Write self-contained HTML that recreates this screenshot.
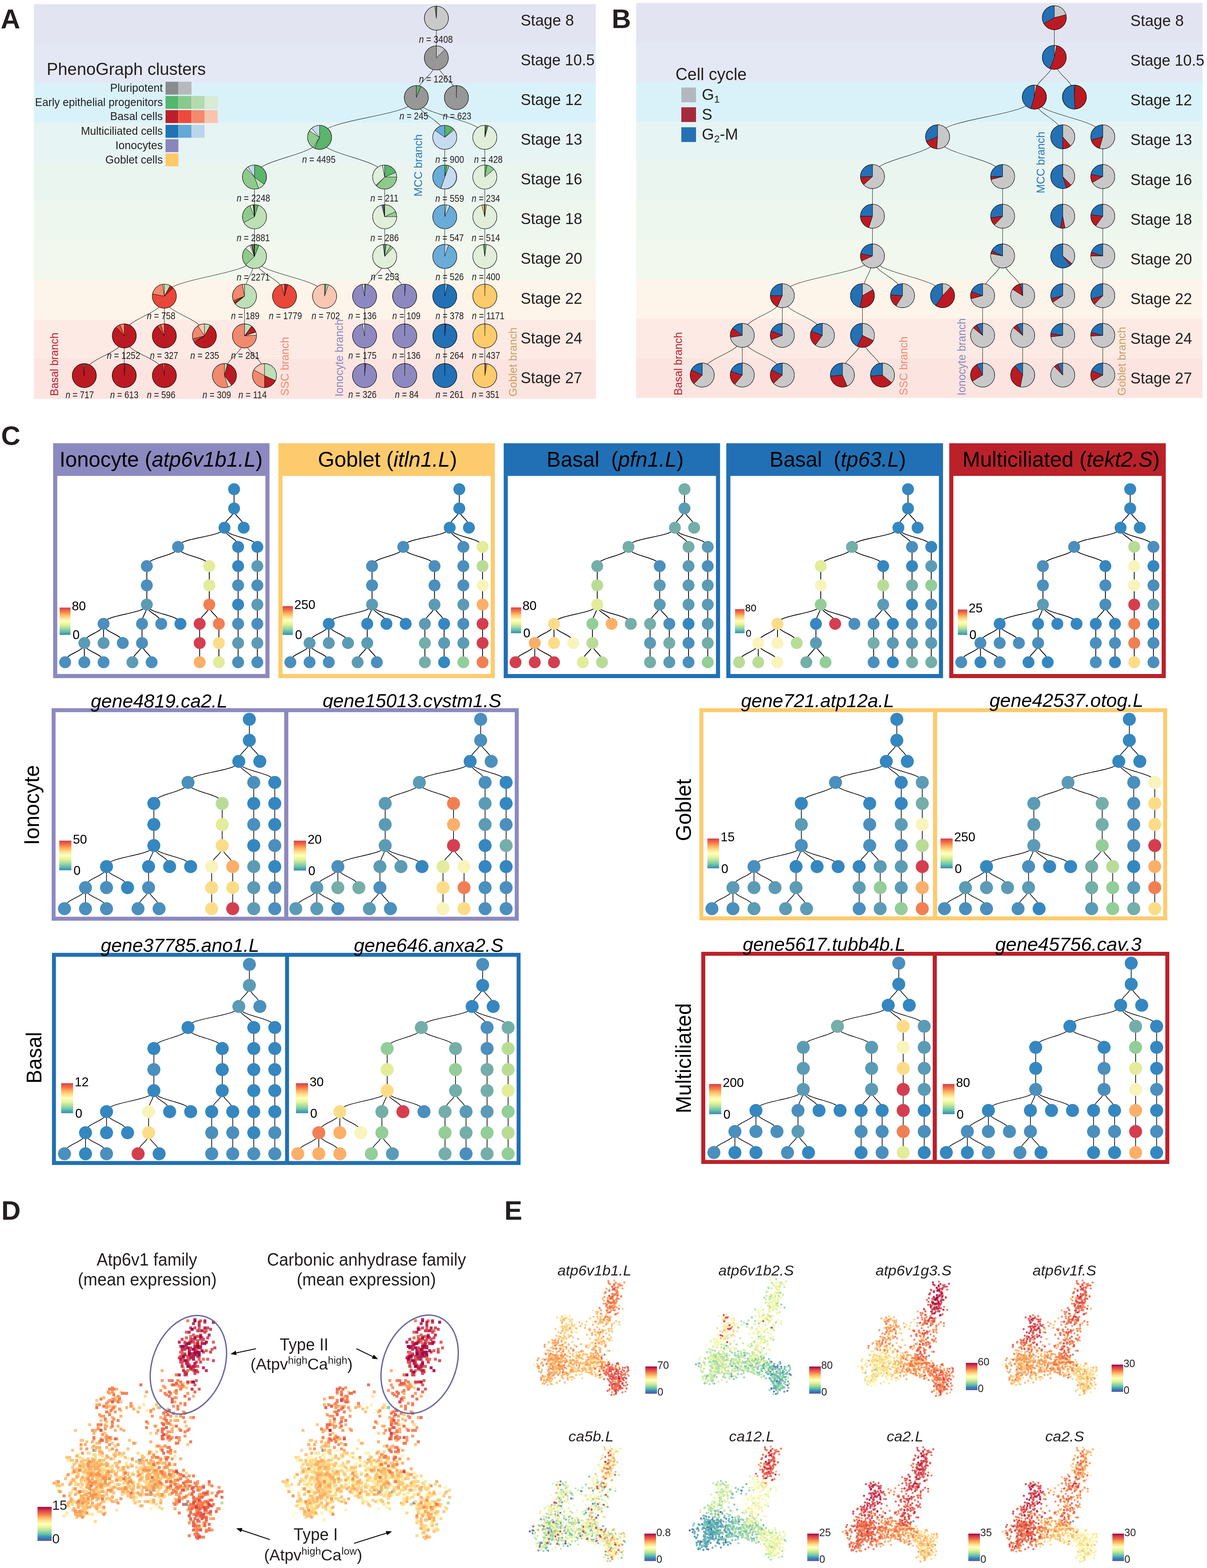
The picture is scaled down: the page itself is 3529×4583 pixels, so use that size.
<!DOCTYPE html><html><head><meta charset="utf-8"><title>Figure</title><style>html,body{margin:0;padding:0;background:#fff}svg{display:block}text{font-family:'Liberation Sans', Arial, Helvetica, sans-serif}</style></head><body>
<svg width="3529" height="4583" viewBox="0 0 3529 4583" fill="#231f20">
<rect width="3529" height="4583" fill="#fff"/>
<rect x="99" y="12" width="1643" height="115.9" fill="#e3e4f1"/>
<rect x="99" y="127.3" width="1643" height="115.9" fill="#e3e8f4"/>
<rect x="99" y="242.6" width="1643" height="115.9" fill="#d9f2fa"/>
<rect x="99" y="357.9" width="1643" height="115.9" fill="#e6f4f3"/>
<rect x="99" y="473.2" width="1643" height="115.9" fill="#eaf5f0"/>
<rect x="99" y="588.5" width="1643" height="115.9" fill="#eef7ee"/>
<rect x="99" y="703.8" width="1643" height="115.9" fill="#f2f8ed"/>
<rect x="99" y="819.1" width="1643" height="115.9" fill="#fdf4ea"/>
<rect x="99" y="934.4" width="1643" height="115.9" fill="#fdeae4"/>
<rect x="99" y="1049.7" width="1643" height="115.9" fill="#fce4e0"/>
<text x="136.5" y="219" font-size="50.7" textLength="465.4" lengthAdjust="spacingAndGlyphs">PhenoGraph clusters</text>
<text x="476" y="268" font-size="32.5" text-anchor="end" textLength="154.1" lengthAdjust="spacingAndGlyphs">Pluripotent</text>
<rect x="484" y="239" width="37.6" height="37.6" fill="#898b8d"/>
<rect x="522.3" y="239" width="37.6" height="37.6" fill="#b8b9bb"/>
<text x="476" y="309.5" font-size="32.5" text-anchor="end" textLength="373.4" lengthAdjust="spacingAndGlyphs">Early epithelial progenitors</text>
<rect x="484" y="280.5" width="37.6" height="37.6" fill="#55b66e"/>
<rect x="522.3" y="280.5" width="37.6" height="37.6" fill="#89c98c"/>
<rect x="560.6" y="280.5" width="37.6" height="37.6" fill="#b3dbae"/>
<rect x="598.9" y="280.5" width="37.6" height="37.6" fill="#d8ebd4"/>
<text x="476" y="351" font-size="32.5" text-anchor="end" textLength="154.1" lengthAdjust="spacingAndGlyphs">Basal cells</text>
<rect x="484" y="322" width="37.6" height="37.6" fill="#bb1f2a"/>
<rect x="522.3" y="322" width="37.6" height="37.6" fill="#ed4a3b"/>
<rect x="560.6" y="322" width="37.6" height="37.6" fill="#f4896c"/>
<rect x="598.9" y="322" width="37.6" height="37.6" fill="#fbc3ae"/>
<text x="476" y="394" font-size="32.5" text-anchor="end" textLength="239.3" lengthAdjust="spacingAndGlyphs">Multiciliated cells</text>
<rect x="484" y="365" width="37.6" height="37.6" fill="#2272b6"/>
<rect x="522.3" y="365" width="37.6" height="37.6" fill="#62a9d6"/>
<rect x="560.6" y="365" width="37.6" height="37.6" fill="#bbd5ea"/>
<text x="476" y="436" font-size="32.5" text-anchor="end" textLength="138.5" lengthAdjust="spacingAndGlyphs">Ionocytes</text>
<rect x="484" y="407" width="37.6" height="37.6" fill="#8a85bf"/>
<text x="476" y="477.5" font-size="32.5" text-anchor="end" textLength="168" lengthAdjust="spacingAndGlyphs">Goblet cells</text>
<rect x="484" y="448.5" width="37.6" height="37.6" fill="#fec966"/>
<text x="1225" y="125" font-size="30" textLength="99" lengthAdjust="spacingAndGlyphs"><tspan font-style="italic">n</tspan> = 3408</text>
<text x="1225" y="240.6" font-size="30" textLength="99" lengthAdjust="spacingAndGlyphs"><tspan font-style="italic">n</tspan> = 1261</text>
<text x="1168" y="348.8" font-size="30" textLength="84" lengthAdjust="spacingAndGlyphs"><tspan font-style="italic">n</tspan> = 245</text>
<text x="1295" y="348.8" font-size="30" textLength="83" lengthAdjust="spacingAndGlyphs"><tspan font-style="italic">n</tspan> = 623</text>
<text x="883.6" y="475.6" font-size="30" textLength="97.4" lengthAdjust="spacingAndGlyphs"><tspan font-style="italic">n</tspan> = 4495</text>
<text x="1272.7" y="475.6" font-size="30" textLength="84.1" lengthAdjust="spacingAndGlyphs"><tspan font-style="italic">n</tspan> = 900</text>
<text x="1386" y="475.6" font-size="30" textLength="83.6" lengthAdjust="spacingAndGlyphs"><tspan font-style="italic">n</tspan> = 428</text>
<text x="692" y="589" font-size="30" textLength="98" lengthAdjust="spacingAndGlyphs"><tspan font-style="italic">n</tspan> = 2248</text>
<text x="1083" y="589" font-size="30" textLength="82" lengthAdjust="spacingAndGlyphs"><tspan font-style="italic">n</tspan> = 211</text>
<text x="1272.7" y="590" font-size="30" textLength="84.1" lengthAdjust="spacingAndGlyphs"><tspan font-style="italic">n</tspan> = 559</text>
<text x="1379" y="590" font-size="30" textLength="83" lengthAdjust="spacingAndGlyphs"><tspan font-style="italic">n</tspan> = 234</text>
<text x="692" y="704.6" font-size="30" textLength="97" lengthAdjust="spacingAndGlyphs"><tspan font-style="italic">n</tspan> = 2881</text>
<text x="1083" y="704.6" font-size="30" textLength="83" lengthAdjust="spacingAndGlyphs"><tspan font-style="italic">n</tspan> = 286</text>
<text x="1273" y="704.6" font-size="30" textLength="83" lengthAdjust="spacingAndGlyphs"><tspan font-style="italic">n</tspan> = 547</text>
<text x="1379" y="704.6" font-size="30" textLength="83" lengthAdjust="spacingAndGlyphs"><tspan font-style="italic">n</tspan> = 514</text>
<text x="692" y="819.5" font-size="30" textLength="97" lengthAdjust="spacingAndGlyphs"><tspan font-style="italic">n</tspan> = 2271</text>
<text x="1084" y="819" font-size="30" textLength="83" lengthAdjust="spacingAndGlyphs"><tspan font-style="italic">n</tspan> = 253</text>
<text x="1273.5" y="819" font-size="30" textLength="82.5" lengthAdjust="spacingAndGlyphs"><tspan font-style="italic">n</tspan> = 526</text>
<text x="1379.7" y="819" font-size="30" textLength="82.3" lengthAdjust="spacingAndGlyphs"><tspan font-style="italic">n</tspan> = 400</text>
<text x="429.6" y="933.4" font-size="30" textLength="83.2" lengthAdjust="spacingAndGlyphs"><tspan font-style="italic">n</tspan> = 758</text>
<text x="675.5" y="933.4" font-size="30" textLength="83.2" lengthAdjust="spacingAndGlyphs"><tspan font-style="italic">n</tspan> = 189</text>
<text x="786" y="933.4" font-size="30" textLength="97" lengthAdjust="spacingAndGlyphs"><tspan font-style="italic">n</tspan> = 1779</text>
<text x="911" y="933.4" font-size="30" textLength="83" lengthAdjust="spacingAndGlyphs"><tspan font-style="italic">n</tspan> = 702</text>
<text x="1018.6" y="933.4" font-size="30" textLength="82.4" lengthAdjust="spacingAndGlyphs"><tspan font-style="italic">n</tspan> = 136</text>
<text x="1147" y="933.4" font-size="30" textLength="82.5" lengthAdjust="spacingAndGlyphs"><tspan font-style="italic">n</tspan> = 109</text>
<text x="1273.5" y="933.4" font-size="30" textLength="82.5" lengthAdjust="spacingAndGlyphs"><tspan font-style="italic">n</tspan> = 378</text>
<text x="1379.7" y="933.4" font-size="30" textLength="95.3" lengthAdjust="spacingAndGlyphs"><tspan font-style="italic">n</tspan> = 1171</text>
<text x="312.6" y="1048.6" font-size="30" textLength="97.4" lengthAdjust="spacingAndGlyphs"><tspan font-style="italic">n</tspan> = 1252</text>
<text x="438.6" y="1048.6" font-size="30" textLength="82.4" lengthAdjust="spacingAndGlyphs"><tspan font-style="italic">n</tspan> = 327</text>
<text x="556.6" y="1048.6" font-size="30" textLength="84.2" lengthAdjust="spacingAndGlyphs"><tspan font-style="italic">n</tspan> = 235</text>
<text x="675.5" y="1048.6" font-size="30" textLength="83.2" lengthAdjust="spacingAndGlyphs"><tspan font-style="italic">n</tspan> = 281</text>
<text x="1018.6" y="1048.5" font-size="30" textLength="82.4" lengthAdjust="spacingAndGlyphs"><tspan font-style="italic">n</tspan> = 175</text>
<text x="1147" y="1048.5" font-size="30" textLength="82.5" lengthAdjust="spacingAndGlyphs"><tspan font-style="italic">n</tspan> = 136</text>
<text x="1273.5" y="1048.5" font-size="30" textLength="82.5" lengthAdjust="spacingAndGlyphs"><tspan font-style="italic">n</tspan> = 264</text>
<text x="1379.7" y="1048.5" font-size="30" textLength="82.3" lengthAdjust="spacingAndGlyphs"><tspan font-style="italic">n</tspan> = 437</text>
<text x="191.8" y="1163.5" font-size="30" textLength="82.7" lengthAdjust="spacingAndGlyphs"><tspan font-style="italic">n</tspan> = 717</text>
<text x="322" y="1163.5" font-size="30" textLength="83" lengthAdjust="spacingAndGlyphs"><tspan font-style="italic">n</tspan> = 613</text>
<text x="429.6" y="1163.5" font-size="30" textLength="83.2" lengthAdjust="spacingAndGlyphs"><tspan font-style="italic">n</tspan> = 596</text>
<text x="592" y="1163.5" font-size="30" textLength="83.5" lengthAdjust="spacingAndGlyphs"><tspan font-style="italic">n</tspan> = 309</text>
<text x="697" y="1163.5" font-size="30" textLength="83" lengthAdjust="spacingAndGlyphs"><tspan font-style="italic">n</tspan> = 114</text>
<text x="1018.6" y="1162.6" font-size="30" textLength="82.4" lengthAdjust="spacingAndGlyphs"><tspan font-style="italic">n</tspan> = 326</text>
<text x="1154.7" y="1162.6" font-size="30" textLength="69.3" lengthAdjust="spacingAndGlyphs"><tspan font-style="italic">n</tspan> = 84</text>
<text x="1273.5" y="1162.6" font-size="30" textLength="82.5" lengthAdjust="spacingAndGlyphs"><tspan font-style="italic">n</tspan> = 261</text>
<text x="1379.7" y="1162.6" font-size="30" textLength="80.3" lengthAdjust="spacingAndGlyphs"><tspan font-style="italic">n</tspan> = 351</text>
<path d="M1275.8 53.2V169.3M1275.8 169.3C1275.8 227.3 1217.2 227.3 1217.2 285.3M1275.8 169.3C1275.8 227.3 1334.3 227.3 1334.3 285.3M1217.2 285.3C1217.2 343.4 934.4 343.4 934.4 401.4M1217.2 285.3C1217.2 343.4 1300.4 343.4 1300.4 401.4M1217.2 285.3C1217.2 343.4 1417.5 343.4 1417.5 401.4M934.4 401.4C934.4 459.4 744.1 459.4 744.1 517.5M934.4 401.4C934.4 459.4 1124.7 459.4 1124.7 517.5M1300.4 401.4V517.5M1417.5 401.4V517.5M744.1 517.5V633.5M1124.7 517.5V633.5M1300.4 517.5V633.5M1417.5 517.5V633.5M744.1 633.5V749.6M1124.7 633.5V749.6M1300.4 633.5V749.6M1417.5 633.5V749.6M744.1 749.6C744.1 807.7 480.5 807.7 480.5 865.7M744.1 749.6C744.1 807.7 714.8 807.7 714.8 865.7M744.1 749.6C744.1 807.7 831.9 807.7 831.9 865.7M744.1 749.6C744.1 807.7 949 807.7 949 865.7M1124.7 749.6C1124.7 807.7 1066.1 807.7 1066.1 865.7M1124.7 749.6C1124.7 807.7 1183.3 807.7 1183.3 865.7M1300.4 749.6V865.7M1417.5 749.6V865.7M480.5 865.7C480.5 923.7 363.4 923.7 363.4 981.8M480.5 865.7V981.8M480.5 865.7C480.5 923.7 597.7 923.7 597.7 981.8M714.8 865.7V981.8M1066.1 865.7V981.8M1183.3 865.7V981.8M1300.4 865.7V981.8M1417.5 865.7V981.8M363.4 981.8C363.4 1039.8 246.3 1039.8 246.3 1097.8M363.4 981.8V1097.8M363.4 981.8C363.4 1039.8 480.5 1039.8 480.5 1097.8M714.8 981.8C714.8 1039.8 656.2 1039.8 656.2 1097.8M714.8 981.8C714.8 1039.8 773.3 1039.8 773.3 1097.8M1066.1 981.8V1097.8M1183.3 981.8V1097.8M1300.4 981.8V1097.8M1417.5 981.8V1097.8" fill="none" stroke="#000" stroke-width="1.1"/>
<g stroke="#000" stroke-width="0.9" stroke-linejoin="round"><path d="M1275.8 53.2L1275.8 18A35.2 35.2 0 0 1 1277.6 18Z" fill="#5bb56c"/><path d="M1275.8 53.2L1277.6 18A35.2 35.2 0 1 1 1271.4 18.3Z" fill="#c9c9c9"/><path d="M1275.8 53.2L1271.4 18.3A35.2 35.2 0 0 1 1275.8 18Z" fill="#979797"/></g>
<circle cx="1275.8" cy="53.2" r="35.2" fill="none" stroke="#000" stroke-width="1.1"/>
<g stroke="#000" stroke-width="0.9" stroke-linejoin="round"><path d="M1275.8 169.3L1275.8 134.1A35.2 35.2 0 0 1 1300.7 144.4Z" fill="#c9c9c9"/><path d="M1275.8 169.3L1300.7 144.4A35.2 35.2 0 1 1 1275.8 134.1Z" fill="#979797"/></g>
<circle cx="1275.8" cy="169.3" r="35.2" fill="none" stroke="#000" stroke-width="1.1"/>
<g stroke="#000" stroke-width="0.9" stroke-linejoin="round"><path d="M1217.2 285.3L1217.2 250.1A35.2 35.2 0 0 1 1230.2 252.6Z" fill="#5bb56c"/><path d="M1217.2 285.3L1230.2 252.6A35.2 35.2 0 1 1 1217.2 250.1Z" fill="#979797"/></g>
<circle cx="1217.2" cy="285.3" r="35.2" fill="none" stroke="#000" stroke-width="1.1"/>
<g stroke="#000" stroke-width="0.9" stroke-linejoin="round"><path d="M1334.3 285.3L1334.3 250.1A35.2 35.2 0 0 1 1335 250.1Z" fill="#979797"/><path d="M1334.3 285.3L1335 250.1A35.2 35.2 0 1 1 1334.3 250.1Z" fill="#979797"/></g>
<circle cx="1334.3" cy="285.3" r="35.2" fill="none" stroke="#000" stroke-width="1.1"/>
<g stroke="#000" stroke-width="0.9" stroke-linejoin="round"><path d="M934.4 401.4L934.4 366.2A35.2 35.2 0 1 1 919.4 433.3Z" fill="#5bb56c"/><path d="M934.4 401.4L919.4 433.3A35.2 35.2 0 0 1 915.5 431.1Z" fill="#bde0b6"/><path d="M934.4 401.4L915.5 431.1A35.2 35.2 0 0 1 904.7 382.5Z" fill="#8fca8d"/><path d="M934.4 401.4L904.7 382.5A35.2 35.2 0 0 1 911.1 375Z" fill="#e0eeda"/><path d="M934.4 401.4L911.1 375A35.2 35.2 0 0 1 934.4 366.2Z" fill="#c6dbf0"/></g>
<circle cx="934.4" cy="401.4" r="35.2" fill="none" stroke="#000" stroke-width="1.1"/>
<g stroke="#000" stroke-width="0.9" stroke-linejoin="round"><path d="M1300.4 401.4L1300.4 366.2A35.2 35.2 0 0 1 1324.5 375.8Z" fill="#5bb56c"/><path d="M1300.4 401.4L1324.5 375.8A35.2 35.2 0 0 1 1328.2 379.8Z" fill="#8fca8d"/><path d="M1300.4 401.4L1328.2 379.8A35.2 35.2 0 1 1 1271.9 380.7Z" fill="#c6dbf0"/><path d="M1300.4 401.4L1271.9 380.7A35.2 35.2 0 0 1 1300.4 366.2Z" fill="#69acd8"/></g>
<circle cx="1300.4" cy="401.4" r="35.2" fill="none" stroke="#000" stroke-width="1.1"/>
<g stroke="#000" stroke-width="0.9" stroke-linejoin="round"><path d="M1417.5 401.4L1417.5 366.2A35.2 35.2 0 0 1 1420.8 366.4Z" fill="#5bb56c"/><path d="M1417.5 401.4L1420.8 366.4A35.2 35.2 0 0 1 1424.1 366.8Z" fill="#5bb56c"/><path d="M1417.5 401.4L1424.1 366.8A35.2 35.2 0 0 1 1427.3 367.6Z" fill="#8fca8d"/><path d="M1417.5 401.4L1427.3 367.6A35.2 35.2 0 1 1 1417.5 366.2Z" fill="#e0eeda"/></g>
<circle cx="1417.5" cy="401.4" r="35.2" fill="none" stroke="#000" stroke-width="1.1"/>
<g stroke="#000" stroke-width="0.9" stroke-linejoin="round"><path d="M744.1 517.5L744.1 482.3A35.2 35.2 0 0 1 772.1 538.7Z" fill="#5bb56c"/><path d="M744.1 517.5L772.1 538.7A35.2 35.2 0 0 1 756 550.6Z" fill="#bde0b6"/><path d="M744.1 517.5L756 550.6A35.2 35.2 0 0 1 720 491.8Z" fill="#8fca8d"/><path d="M744.1 517.5L720 491.8A35.2 35.2 0 0 1 725.2 487.8Z" fill="#e0eeda"/><path d="M744.1 517.5L725.2 487.8A35.2 35.2 0 0 1 744.1 482.3Z" fill="#c6dbf0"/></g>
<circle cx="744.1" cy="517.5" r="35.2" fill="none" stroke="#000" stroke-width="1.1"/>
<g stroke="#000" stroke-width="0.9" stroke-linejoin="round"><path d="M1124.7 517.5L1124.7 482.3A35.2 35.2 0 0 1 1157.2 503.9Z" fill="#5bb56c"/><path d="M1124.7 517.5L1157.2 503.9A35.2 35.2 0 0 1 1159.9 517.5Z" fill="#bde0b6"/><path d="M1124.7 517.5L1159.9 517.5A35.2 35.2 0 0 1 1100.6 543.1Z" fill="#8fca8d"/><path d="M1124.7 517.5L1100.6 543.1A35.2 35.2 0 0 1 1099 541.6Z" fill="#5bb56c"/><path d="M1124.7 517.5L1099 541.6A35.2 35.2 0 0 1 1118.1 482.9Z" fill="#e0eeda"/><path d="M1124.7 517.5L1118.1 482.9A35.2 35.2 0 0 1 1124.7 482.3Z" fill="#c6dbf0"/></g>
<circle cx="1124.7" cy="517.5" r="35.2" fill="none" stroke="#000" stroke-width="1.1"/>
<g stroke="#000" stroke-width="0.9" stroke-linejoin="round"><path d="M1300.4 517.5L1300.4 482.3A35.2 35.2 0 0 1 1307 482.9Z" fill="#5bb56c"/><path d="M1300.4 517.5L1307 482.9A35.2 35.2 0 0 1 1313.3 484.8Z" fill="#8fca8d"/><path d="M1300.4 517.5L1313.3 484.8A35.2 35.2 0 0 1 1288.9 550.7Z" fill="#c6dbf0"/><path d="M1300.4 517.5L1288.9 550.7A35.2 35.2 0 0 1 1300.4 482.3Z" fill="#69acd8"/></g>
<circle cx="1300.4" cy="517.5" r="35.2" fill="none" stroke="#000" stroke-width="1.1"/>
<g stroke="#000" stroke-width="0.9" stroke-linejoin="round"><path d="M1417.5 517.5L1417.5 482.3A35.2 35.2 0 0 1 1424.1 482.9Z" fill="#5bb56c"/><path d="M1417.5 517.5L1424.1 482.9A35.2 35.2 0 0 1 1444.3 494.7Z" fill="#8fca8d"/><path d="M1417.5 517.5L1444.3 494.7A35.2 35.2 0 1 1 1417.5 482.3Z" fill="#e0eeda"/></g>
<circle cx="1417.5" cy="517.5" r="35.2" fill="none" stroke="#000" stroke-width="1.1"/>
<g stroke="#000" stroke-width="0.9" stroke-linejoin="round"><path d="M744.1 633.5L744.1 598.3A35.2 35.2 0 0 1 754.9 600.1Z" fill="#5bb56c"/><path d="M744.1 633.5L754.9 600.1A35.2 35.2 0 1 1 713.2 650.5Z" fill="#bde0b6"/><path d="M744.1 633.5L713.2 650.5A35.2 35.2 0 0 1 731.1 600.8Z" fill="#8fca8d"/><path d="M744.1 633.5L731.1 600.8A35.2 35.2 0 0 1 739.6 598.6Z" fill="#e0eeda"/><path d="M744.1 633.5L739.6 598.6A35.2 35.2 0 0 1 741.8 598.4Z" fill="#f08a6e"/><path d="M744.1 633.5L741.8 598.4A35.2 35.2 0 0 1 744.1 598.3Z" fill="#bb1a22"/></g>
<circle cx="744.1" cy="633.5" r="35.2" fill="none" stroke="#000" stroke-width="1.1"/>
<g stroke="#000" stroke-width="0.9" stroke-linejoin="round"><path d="M1124.7 633.5L1124.7 598.3A35.2 35.2 0 0 1 1156.5 618.6Z" fill="#bde0b6"/><path d="M1124.7 633.5L1156.5 618.6A35.2 35.2 0 0 1 1159.9 633.5Z" fill="#8fca8d"/><path d="M1124.7 633.5L1159.9 633.5A35.2 35.2 0 1 1 1115.9 599.5Z" fill="#e0eeda"/><path d="M1124.7 633.5L1115.9 599.5A35.2 35.2 0 0 1 1120.3 598.6Z" fill="#8d89c0"/><path d="M1124.7 633.5L1120.3 598.6A35.2 35.2 0 0 1 1122.5 598.4Z" fill="#69acd8"/><path d="M1124.7 633.5L1122.5 598.4A35.2 35.2 0 0 1 1124.7 598.3Z" fill="#e8473a"/></g>
<circle cx="1124.7" cy="633.5" r="35.2" fill="none" stroke="#000" stroke-width="1.1"/>
<g stroke="#000" stroke-width="0.9" stroke-linejoin="round"><path d="M1300.4 633.5L1300.4 598.3A35.2 35.2 0 0 1 1304.8 598.6Z" fill="#bde0b6"/><path d="M1300.4 633.5L1304.8 598.6A35.2 35.2 0 0 1 1315.4 601.7Z" fill="#c6dbf0"/><path d="M1300.4 633.5L1315.4 601.7A35.2 35.2 0 1 1 1300.4 598.3Z" fill="#69acd8"/></g>
<circle cx="1300.4" cy="633.5" r="35.2" fill="none" stroke="#000" stroke-width="1.1"/>
<g stroke="#000" stroke-width="0.9" stroke-linejoin="round"><path d="M1417.5 633.5L1417.5 598.3A35.2 35.2 0 0 1 1421.9 598.6Z" fill="#8fca8d"/><path d="M1417.5 633.5L1421.9 598.6A35.2 35.2 0 1 1 1408.7 599.5Z" fill="#e0eeda"/><path d="M1417.5 633.5L1408.7 599.5A35.2 35.2 0 0 1 1415.3 598.4Z" fill="#fdcb6b"/><path d="M1417.5 633.5L1415.3 598.4A35.2 35.2 0 0 1 1417.5 598.3Z" fill="#e8473a"/></g>
<circle cx="1417.5" cy="633.5" r="35.2" fill="none" stroke="#000" stroke-width="1.1"/>
<g stroke="#000" stroke-width="0.9" stroke-linejoin="round"><path d="M744.1 749.6L744.1 714.4A35.2 35.2 0 0 1 757 716.9Z" fill="#5bb56c"/><path d="M744.1 749.6L757 716.9A35.2 35.2 0 1 1 718.4 773.7Z" fill="#bde0b6"/><path d="M744.1 749.6L718.4 773.7A35.2 35.2 0 0 1 718.4 725.5Z" fill="#8fca8d"/><path d="M744.1 749.6L718.4 725.5A35.2 35.2 0 0 1 731.1 716.9Z" fill="#e0eeda"/><path d="M744.1 749.6L731.1 716.9A35.2 35.2 0 0 1 735.3 715.5Z" fill="#c6dbf0"/><path d="M744.1 749.6L735.3 715.5A35.2 35.2 0 0 1 737.5 715Z" fill="#2270b5"/><path d="M744.1 749.6L737.5 715A35.2 35.2 0 0 1 741.8 714.5Z" fill="#f08a6e"/><path d="M744.1 749.6L741.8 714.5A35.2 35.2 0 0 1 744.1 714.4Z" fill="#bb1a22"/></g>
<circle cx="744.1" cy="749.6" r="35.2" fill="none" stroke="#000" stroke-width="1.1"/>
<g stroke="#000" stroke-width="0.9" stroke-linejoin="round"><path d="M1124.7 749.6L1124.7 714.4A35.2 35.2 0 0 1 1129.1 714.7Z" fill="#5bb56c"/><path d="M1124.7 749.6L1129.1 714.7A35.2 35.2 0 0 1 1141.7 718.8Z" fill="#bde0b6"/><path d="M1124.7 749.6L1141.7 718.8A35.2 35.2 0 0 1 1148.8 724Z" fill="#8fca8d"/><path d="M1124.7 749.6L1148.8 724A35.2 35.2 0 1 1 1120.3 714.7Z" fill="#e0eeda"/><path d="M1124.7 749.6L1120.3 714.7A35.2 35.2 0 0 1 1124.7 714.4Z" fill="#8d89c0"/></g>
<circle cx="1124.7" cy="749.6" r="35.2" fill="none" stroke="#000" stroke-width="1.1"/>
<g stroke="#000" stroke-width="0.9" stroke-linejoin="round"><path d="M1300.4 749.6L1300.4 714.4A35.2 35.2 0 0 1 1311.3 716.1Z" fill="#c6dbf0"/><path d="M1300.4 749.6L1311.3 716.1A35.2 35.2 0 1 1 1300.4 714.4Z" fill="#69acd8"/></g>
<circle cx="1300.4" cy="749.6" r="35.2" fill="none" stroke="#000" stroke-width="1.1"/>
<g stroke="#000" stroke-width="0.9" stroke-linejoin="round"><path d="M1417.5 749.6L1417.5 714.4A35.2 35.2 0 0 1 1421.9 714.7Z" fill="#8fca8d"/><path d="M1417.5 749.6L1421.9 714.7A35.2 35.2 0 1 1 1413.1 714.7Z" fill="#e0eeda"/><path d="M1417.5 749.6L1413.1 714.7A35.2 35.2 0 0 1 1417.5 714.4Z" fill="#5bb56c"/></g>
<circle cx="1417.5" cy="749.6" r="35.2" fill="none" stroke="#000" stroke-width="1.1"/>
<g stroke="#000" stroke-width="0.9" stroke-linejoin="round"><path d="M480.5 865.7L480.5 830.5A35.2 35.2 0 0 1 497.5 834.8Z" fill="#bde0b6"/><path d="M480.5 865.7L497.5 834.8A35.2 35.2 0 0 1 506.2 841.6Z" fill="#bb1a22"/><path d="M480.5 865.7L506.2 841.6A35.2 35.2 0 1 1 446 859.1Z" fill="#e8473a"/><path d="M480.5 865.7L446 859.1A35.2 35.2 0 0 1 476.1 830.8Z" fill="#f08a6e"/><path d="M480.5 865.7L476.1 830.8A35.2 35.2 0 0 1 480.5 830.5Z" fill="#f9c6b2"/></g>
<circle cx="480.5" cy="865.7" r="35.2" fill="none" stroke="#000" stroke-width="1.1"/>
<g stroke="#000" stroke-width="0.9" stroke-linejoin="round"><path d="M714.8 865.7L714.8 830.5A35.2 35.2 0 1 1 687.7 888.1Z" fill="#bde0b6"/><path d="M714.8 865.7L687.7 888.1A35.2 35.2 0 0 1 685.1 884.6Z" fill="#bb1a22"/><path d="M714.8 865.7L685.1 884.6A35.2 35.2 0 0 1 682.9 880.7Z" fill="#e8473a"/><path d="M714.8 865.7L682.9 880.7A35.2 35.2 0 0 1 682.1 878.6Z" fill="#fdcb6b"/><path d="M714.8 865.7L682.1 878.6A35.2 35.2 0 0 1 708.2 831.1Z" fill="#f08a6e"/><path d="M714.8 865.7L708.2 831.1A35.2 35.2 0 0 1 714.8 830.5Z" fill="#f9c6b2"/></g>
<circle cx="714.8" cy="865.7" r="35.2" fill="none" stroke="#000" stroke-width="1.1"/>
<g stroke="#000" stroke-width="0.9" stroke-linejoin="round"><path d="M831.9 865.7L831.9 830.5A35.2 35.2 0 0 1 840.7 831.6Z" fill="#bb1a22"/><path d="M831.9 865.7L840.7 831.6A35.2 35.2 0 1 1 823.1 831.6Z" fill="#e8473a"/><path d="M831.9 865.7L823.1 831.6A35.2 35.2 0 0 1 831.9 830.5Z" fill="#f08a6e"/></g>
<circle cx="831.9" cy="865.7" r="35.2" fill="none" stroke="#000" stroke-width="1.1"/>
<g stroke="#000" stroke-width="0.9" stroke-linejoin="round"><path d="M949 865.7L949 830.5A35.2 35.2 0 0 1 953.4 830.8Z" fill="#5bb56c"/><path d="M949 865.7L953.4 830.8A35.2 35.2 0 0 1 959.9 832.2Z" fill="#bde0b6"/><path d="M949 865.7L959.9 832.2A35.2 35.2 0 1 1 949 830.5Z" fill="#f9c6b2"/></g>
<circle cx="949" cy="865.7" r="35.2" fill="none" stroke="#000" stroke-width="1.1"/>
<g stroke="#000" stroke-width="0.9" stroke-linejoin="round"><path d="M1066.1 865.7L1066.1 830.5A35.2 35.2 0 0 1 1068.4 830.6Z" fill="#bb1a22"/><path d="M1066.1 865.7L1068.4 830.6A35.2 35.2 0 1 1 1059.5 831.1Z" fill="#8d89c0"/><path d="M1066.1 865.7L1059.5 831.1A35.2 35.2 0 0 1 1066.1 830.5Z" fill="#e0eeda"/></g>
<circle cx="1066.1" cy="865.7" r="35.2" fill="none" stroke="#000" stroke-width="1.1"/>
<g stroke="#000" stroke-width="0.9" stroke-linejoin="round"><path d="M1183.3 865.7L1183.3 830.5A35.2 35.2 0 0 1 1185.5 830.6Z" fill="#e0eeda"/><path d="M1183.3 865.7L1185.5 830.6A35.2 35.2 0 1 1 1183.3 830.5Z" fill="#8d89c0"/></g>
<circle cx="1183.3" cy="865.7" r="35.2" fill="none" stroke="#000" stroke-width="1.1"/>
<g stroke="#000" stroke-width="0.9" stroke-linejoin="round"><path d="M1300.4 865.7L1300.4 830.5A35.2 35.2 0 0 1 1309.1 831.6Z" fill="#69acd8"/><path d="M1300.4 865.7L1309.1 831.6A35.2 35.2 0 1 1 1300.4 830.5Z" fill="#2270b5"/></g>
<circle cx="1300.4" cy="865.7" r="35.2" fill="none" stroke="#000" stroke-width="1.1"/>
<g stroke="#000" stroke-width="0.9" stroke-linejoin="round"><path d="M1417.5 865.7L1417.5 830.5A35.2 35.2 0 0 1 1418.2 830.5Z" fill="#fdcb6b"/><path d="M1417.5 865.7L1418.2 830.5A35.2 35.2 0 1 1 1417.5 830.5Z" fill="#fdcb6b"/></g>
<circle cx="1417.5" cy="865.7" r="35.2" fill="none" stroke="#000" stroke-width="1.1"/>
<g stroke="#000" stroke-width="0.9" stroke-linejoin="round"><path d="M363.4 981.8L363.4 946.6A35.2 35.2 0 1 1 339.3 956.1Z" fill="#bb1a22"/><path d="M363.4 981.8L339.3 956.1A35.2 35.2 0 0 1 350.5 949Z" fill="#e8473a"/><path d="M363.4 981.8L350.5 949A35.2 35.2 0 0 1 363.4 946.6Z" fill="#f08a6e"/></g>
<circle cx="363.4" cy="981.8" r="35.2" fill="none" stroke="#000" stroke-width="1.1"/>
<g stroke="#000" stroke-width="0.9" stroke-linejoin="round"><path d="M480.5 981.8L480.5 946.6A35.2 35.2 0 1 1 459.8 953.3Z" fill="#bb1a22"/><path d="M480.5 981.8L459.8 953.3A35.2 35.2 0 0 1 469.7 948.3Z" fill="#e8473a"/><path d="M480.5 981.8L469.7 948.3A35.2 35.2 0 0 1 480.5 946.6Z" fill="#f08a6e"/></g>
<circle cx="480.5" cy="981.8" r="35.2" fill="none" stroke="#000" stroke-width="1.1"/>
<g stroke="#000" stroke-width="0.9" stroke-linejoin="round"><path d="M597.7 981.8L597.7 946.6A35.2 35.2 0 0 1 614.6 950.9Z" fill="#bde0b6"/><path d="M597.7 981.8L614.6 950.9A35.2 35.2 0 1 1 567.9 1000.6Z" fill="#bb1a22"/><path d="M597.7 981.8L567.9 1000.6A35.2 35.2 0 0 1 566.8 998.7Z" fill="#e0eeda"/><path d="M597.7 981.8L566.8 998.7A35.2 35.2 0 0 1 563.6 990.5Z" fill="#e8473a"/><path d="M597.7 981.8L563.6 990.5A35.2 35.2 0 0 1 578.8 952Z" fill="#f08a6e"/><path d="M597.7 981.8L578.8 952A35.2 35.2 0 0 1 597.7 946.6Z" fill="#f9c6b2"/></g>
<circle cx="597.7" cy="981.8" r="35.2" fill="none" stroke="#000" stroke-width="1.1"/>
<g stroke="#000" stroke-width="0.9" stroke-linejoin="round"><path d="M714.8 981.8L714.8 946.6A35.2 35.2 0 0 1 735.5 953.3Z" fill="#bde0b6"/><path d="M714.8 981.8L735.5 953.3A35.2 35.2 0 0 1 748.3 970.9Z" fill="#bb1a22"/><path d="M714.8 981.8L748.3 970.9A35.2 35.2 0 0 1 749.9 979.5Z" fill="#e0eeda"/><path d="M714.8 981.8L749.9 979.5A35.2 35.2 0 1 1 714.8 946.6Z" fill="#f08a6e"/></g>
<circle cx="714.8" cy="981.8" r="35.2" fill="none" stroke="#000" stroke-width="1.1"/>
<g stroke="#000" stroke-width="0.9" stroke-linejoin="round"><path d="M1066.1 981.8L1066.1 946.6A35.2 35.2 0 1 1 1059.5 947.2Z" fill="#8d89c0"/><path d="M1066.1 981.8L1059.5 947.2A35.2 35.2 0 0 1 1066.1 946.6Z" fill="#e0eeda"/></g>
<circle cx="1066.1" cy="981.8" r="35.2" fill="none" stroke="#000" stroke-width="1.1"/>
<g stroke="#000" stroke-width="0.9" stroke-linejoin="round"><path d="M1183.3 981.8L1183.3 946.6A35.2 35.2 0 0 1 1183.9 946.6Z" fill="#8d89c0"/><path d="M1183.3 981.8L1183.9 946.6A35.2 35.2 0 1 1 1183.3 946.6Z" fill="#8d89c0"/></g>
<circle cx="1183.3" cy="981.8" r="35.2" fill="none" stroke="#000" stroke-width="1.1"/>
<g stroke="#000" stroke-width="0.9" stroke-linejoin="round"><path d="M1300.4 981.8L1300.4 946.6A35.2 35.2 0 0 1 1303.7 946.7Z" fill="#bb1a22"/><path d="M1300.4 981.8L1303.7 946.7A35.2 35.2 0 1 1 1300.4 946.6Z" fill="#2270b5"/></g>
<circle cx="1300.4" cy="981.8" r="35.2" fill="none" stroke="#000" stroke-width="1.1"/>
<g stroke="#000" stroke-width="0.9" stroke-linejoin="round"><path d="M1417.5 981.8L1417.5 946.6A35.2 35.2 0 0 1 1418.2 946.6Z" fill="#fdcb6b"/><path d="M1417.5 981.8L1418.2 946.6A35.2 35.2 0 1 1 1417.5 946.6Z" fill="#fdcb6b"/></g>
<circle cx="1417.5" cy="981.8" r="35.2" fill="none" stroke="#000" stroke-width="1.1"/>
<g stroke="#000" stroke-width="0.9" stroke-linejoin="round"><path d="M246.3 1097.8L246.3 1062.6A35.2 35.2 0 1 1 243 1062.8Z" fill="#bb1a22"/><path d="M246.3 1097.8L243 1062.8A35.2 35.2 0 0 1 246.3 1062.6Z" fill="#979797"/></g>
<circle cx="246.3" cy="1097.8" r="35.2" fill="none" stroke="#000" stroke-width="1.1"/>
<g stroke="#000" stroke-width="0.9" stroke-linejoin="round"><path d="M363.4 1097.8L363.4 1062.6A35.2 35.2 0 0 1 365.6 1062.7Z" fill="#f08a6e"/><path d="M363.4 1097.8L365.6 1062.7A35.2 35.2 0 1 1 363.4 1062.6Z" fill="#bb1a22"/></g>
<circle cx="363.4" cy="1097.8" r="35.2" fill="none" stroke="#000" stroke-width="1.1"/>
<g stroke="#000" stroke-width="0.9" stroke-linejoin="round"><path d="M480.5 1097.8L480.5 1062.6A35.2 35.2 0 1 1 476.1 1062.9Z" fill="#bb1a22"/><path d="M480.5 1097.8L476.1 1062.9A35.2 35.2 0 0 1 480.5 1062.6Z" fill="#f08a6e"/></g>
<circle cx="480.5" cy="1097.8" r="35.2" fill="none" stroke="#000" stroke-width="1.1"/>
<g stroke="#000" stroke-width="0.9" stroke-linejoin="round"><path d="M656.2 1097.8L656.2 1062.6A35.2 35.2 0 0 1 665 1063.7Z" fill="#bde0b6"/><path d="M656.2 1097.8L665 1063.7A35.2 35.2 0 0 1 676.9 1126.3Z" fill="#bb1a22"/><path d="M656.2 1097.8L676.9 1126.3A35.2 35.2 0 0 1 667.1 1131.3Z" fill="#e0eeda"/><path d="M656.2 1097.8L667.1 1131.3A35.2 35.2 0 1 1 656.2 1062.6Z" fill="#f08a6e"/></g>
<circle cx="656.2" cy="1097.8" r="35.2" fill="none" stroke="#000" stroke-width="1.1"/>
<g stroke="#000" stroke-width="0.9" stroke-linejoin="round"><path d="M773.3 1097.8L773.3 1062.6A35.2 35.2 0 0 1 805.4 1112.4Z" fill="#bde0b6"/><path d="M773.3 1097.8L805.4 1112.4A35.2 35.2 0 0 1 773.8 1133Z" fill="#bb1a22"/><path d="M773.3 1097.8L773.8 1133A35.2 35.2 0 0 1 742.3 1081.3Z" fill="#f08a6e"/><path d="M773.3 1097.8L742.3 1081.3A35.2 35.2 0 0 1 773.3 1062.6Z" fill="#f9c6b2"/></g>
<circle cx="773.3" cy="1097.8" r="35.2" fill="none" stroke="#000" stroke-width="1.1"/>
<g stroke="#000" stroke-width="0.9" stroke-linejoin="round"><path d="M1066.1 1097.8L1066.1 1062.6A35.2 35.2 0 0 1 1069.5 1062.8Z" fill="#bb1a22"/><path d="M1066.1 1097.8L1069.5 1062.8A35.2 35.2 0 1 1 1066.1 1062.6Z" fill="#8d89c0"/></g>
<circle cx="1066.1" cy="1097.8" r="35.2" fill="none" stroke="#000" stroke-width="1.1"/>
<g stroke="#000" stroke-width="0.9" stroke-linejoin="round"><path d="M1183.3 1097.8L1183.3 1062.6A35.2 35.2 0 0 1 1183.9 1062.6Z" fill="#8d89c0"/><path d="M1183.3 1097.8L1183.9 1062.6A35.2 35.2 0 1 1 1183.3 1062.6Z" fill="#8d89c0"/></g>
<circle cx="1183.3" cy="1097.8" r="35.2" fill="none" stroke="#000" stroke-width="1.1"/>
<g stroke="#000" stroke-width="0.9" stroke-linejoin="round"><path d="M1300.4 1097.8L1300.4 1062.6A35.2 35.2 0 0 1 1301 1062.6Z" fill="#2270b5"/><path d="M1300.4 1097.8L1301 1062.6A35.2 35.2 0 1 1 1300.4 1062.6Z" fill="#2270b5"/></g>
<circle cx="1300.4" cy="1097.8" r="35.2" fill="none" stroke="#000" stroke-width="1.1"/>
<g stroke="#000" stroke-width="0.9" stroke-linejoin="round"><path d="M1417.5 1097.8L1417.5 1062.6A35.2 35.2 0 0 1 1420.8 1062.8Z" fill="#bb1a22"/><path d="M1417.5 1097.8L1420.8 1062.8A35.2 35.2 0 0 1 1424.1 1063.3Z" fill="#e0eeda"/><path d="M1417.5 1097.8L1424.1 1063.3A35.2 35.2 0 1 1 1417.5 1062.6Z" fill="#fdcb6b"/></g>
<circle cx="1417.5" cy="1097.8" r="35.2" fill="none" stroke="#000" stroke-width="1.1"/>
<text x="1522.2" y="75" font-size="45.5" textLength="156" lengthAdjust="spacingAndGlyphs">Stage 8</text>
<text x="1522.2" y="191.1" font-size="45.5" textLength="216.4" lengthAdjust="spacingAndGlyphs">Stage 10.5</text>
<text x="1522.2" y="307.1" font-size="45.5" textLength="180.2" lengthAdjust="spacingAndGlyphs">Stage 12</text>
<text x="1522.2" y="423.2" font-size="45.5" textLength="180.2" lengthAdjust="spacingAndGlyphs">Stage 13</text>
<text x="1522.2" y="539.3" font-size="45.5" textLength="180.2" lengthAdjust="spacingAndGlyphs">Stage 16</text>
<text x="1522.2" y="655.3" font-size="45.5" textLength="180.2" lengthAdjust="spacingAndGlyphs">Stage 18</text>
<text x="1522.2" y="771.4" font-size="45.5" textLength="180.2" lengthAdjust="spacingAndGlyphs">Stage 20</text>
<text x="1522.2" y="887.5" font-size="45.5" textLength="180.2" lengthAdjust="spacingAndGlyphs">Stage 22</text>
<text x="1522.2" y="1003.6" font-size="45.5" textLength="180.2" lengthAdjust="spacingAndGlyphs">Stage 24</text>
<text x="1522.2" y="1119.6" font-size="45.5" textLength="180.2" lengthAdjust="spacingAndGlyphs">Stage 27</text>
<text transform="translate(169.8 1064.7) rotate(-90)" x="0" y="0" text-anchor="middle" font-size="33.7" fill="#be1e2d" textLength="185" lengthAdjust="spacingAndGlyphs">Basal branch</text>
<text transform="translate(843.6 1070.8) rotate(-90)" x="0" y="0" text-anchor="middle" font-size="33.7" fill="#f3876b" textLength="172" lengthAdjust="spacingAndGlyphs">SSC branch</text>
<text transform="translate(1003 1046) rotate(-90)" x="0" y="0" text-anchor="middle" font-size="33.7" fill="#8a86bf" textLength="226" lengthAdjust="spacingAndGlyphs">Ionocyte branch</text>
<text transform="translate(1510.6 1058) rotate(-90)" x="0" y="0" text-anchor="middle" font-size="33.7" fill="#c9a05c" textLength="202" lengthAdjust="spacingAndGlyphs">Goblet branch</text>
<text transform="translate(1233.6 483.5) rotate(-90)" x="0" y="0" text-anchor="middle" font-size="33.7" fill="#2a78b8" textLength="182" lengthAdjust="spacingAndGlyphs">MCC branch</text>
<text x="2" y="82.5" font-size="79" font-weight="bold">A</text>
<rect x="1860" y="8.5" width="1656" height="116" fill="#e3e4f1"/>
<rect x="1860" y="123.9" width="1656" height="116" fill="#e3e8f4"/>
<rect x="1860" y="239.3" width="1656" height="116" fill="#d9f2fa"/>
<rect x="1860" y="354.7" width="1656" height="116" fill="#e6f4f3"/>
<rect x="1860" y="470.1" width="1656" height="116" fill="#eaf5f0"/>
<rect x="1860" y="585.5" width="1656" height="116" fill="#eef7ee"/>
<rect x="1860" y="700.9" width="1656" height="116" fill="#f2f8ed"/>
<rect x="1860" y="816.3" width="1656" height="116" fill="#fdf4ea"/>
<rect x="1860" y="931.7" width="1656" height="116" fill="#fdeae4"/>
<rect x="1860" y="1047.1" width="1656" height="116" fill="#fce4e0"/>
<text x="1975" y="233.8" font-size="50.5" textLength="208" lengthAdjust="spacingAndGlyphs">Cell cycle</text>
<rect x="1992" y="255.8" width="43" height="43" fill="#b3b8c0"/>
<text x="2052" y="291.8" font-size="46">G<tspan font-size="30" dy="8">1</tspan></text>
<rect x="1992" y="313.6" width="43" height="43" fill="#a72a3b"/>
<text x="2052" y="349.6" font-size="46">S</text>
<rect x="1992" y="372" width="43" height="43" fill="#2571b5"/>
<text x="2052" y="408" font-size="46">G<tspan font-size="30" dy="8">2</tspan><tspan dy="-8">-M</tspan></text>
<path d="M3082.6 51.7V167.8M3082.6 167.8C3082.6 225.8 3024 225.8 3024 283.8M3082.6 167.8C3082.6 225.8 3141.1 225.8 3141.1 283.8M3024 283.8C3024 341.9 2741.2 341.9 2741.2 399.9M3024 283.8C3024 341.9 3107.2 341.9 3107.2 399.9M3024 283.8C3024 341.9 3224.3 341.9 3224.3 399.9M2741.2 399.9C2741.2 457.9 2550.9 457.9 2550.9 516M2741.2 399.9C2741.2 457.9 2931.5 457.9 2931.5 516M3107.2 399.9V516M3224.3 399.9V516M2550.9 516V632M2931.5 516V632M3107.2 516V632M3224.3 516V632M2550.9 632V748.1M2931.5 632V748.1M3107.2 632V748.1M3224.3 632V748.1M2550.9 748.1C2550.9 806.2 2287.3 806.2 2287.3 864.2M2550.9 748.1C2550.9 806.2 2521.6 806.2 2521.6 864.2M2550.9 748.1C2550.9 806.2 2638.7 806.2 2638.7 864.2M2550.9 748.1C2550.9 806.2 2755.8 806.2 2755.8 864.2M2931.5 748.1C2931.5 806.2 2872.9 806.2 2872.9 864.2M2931.5 748.1C2931.5 806.2 2990.1 806.2 2990.1 864.2M3107.2 748.1V864.2M3224.3 748.1V864.2M2287.3 864.2C2287.3 922.2 2170.2 922.2 2170.2 980.3M2287.3 864.2V980.3M2287.3 864.2C2287.3 922.2 2404.5 922.2 2404.5 980.3M2521.6 864.2V980.3M2872.9 864.2V980.3M2990.1 864.2V980.3M3107.2 864.2V980.3M3224.3 864.2V980.3M2170.2 980.3C2170.2 1038.3 2053.1 1038.3 2053.1 1096.3M2170.2 980.3V1096.3M2170.2 980.3C2170.2 1038.3 2287.3 1038.3 2287.3 1096.3M2521.6 980.3C2521.6 1038.3 2463 1038.3 2463 1096.3M2521.6 980.3C2521.6 1038.3 2580.1 1038.3 2580.1 1096.3M2872.9 980.3V1096.3M2990.1 980.3V1096.3M3107.2 980.3V1096.3M3224.3 980.3V1096.3" fill="none" stroke="#000" stroke-width="1.1"/>
<g stroke="#000" stroke-width="0.9" stroke-linejoin="round"><path d="M3082.6 51.7L3082.6 16.5A35.2 35.2 0 0 1 3116.7 42.9Z" fill="#c8c8c8"/><path d="M3082.6 51.7L3116.7 42.9A35.2 35.2 0 0 1 3051.7 68.7Z" fill="#bc1a22"/><path d="M3082.6 51.7L3051.7 68.7A35.2 35.2 0 0 1 3082.6 16.5Z" fill="#2470b5"/></g>
<circle cx="3082.6" cy="51.7" r="35.2" fill="none" stroke="#000" stroke-width="1.1"/>
<g stroke="#000" stroke-width="0.9" stroke-linejoin="round"><path d="M3082.6 167.8L3082.6 132.6A35.2 35.2 0 0 1 3089.2 133.2Z" fill="#c8c8c8"/><path d="M3082.6 167.8L3089.2 133.2A35.2 35.2 0 1 1 3069.6 200.5Z" fill="#bc1a22"/><path d="M3082.6 167.8L3069.6 200.5A35.2 35.2 0 0 1 3082.6 132.6Z" fill="#2470b5"/></g>
<circle cx="3082.6" cy="167.8" r="35.2" fill="none" stroke="#000" stroke-width="1.1"/>
<g stroke="#000" stroke-width="0.9" stroke-linejoin="round"><path d="M3024 283.8L3024 248.6A35.2 35.2 0 0 1 3030.6 249.3Z" fill="#c8c8c8"/><path d="M3024 283.8L3030.6 249.3A35.2 35.2 0 1 1 3014.2 317.6Z" fill="#bc1a22"/><path d="M3024 283.8L3014.2 317.6A35.2 35.2 0 0 1 3024 248.6Z" fill="#2470b5"/></g>
<circle cx="3024" cy="283.8" r="35.2" fill="none" stroke="#000" stroke-width="1.1"/>
<g stroke="#000" stroke-width="0.9" stroke-linejoin="round"><path d="M3141.1 283.8L3141.1 248.6A35.2 35.2 0 0 1 3143.4 248.7Z" fill="#c8c8c8"/><path d="M3141.1 283.8L3143.4 248.7A35.2 35.2 0 0 1 3143.4 319Z" fill="#bc1a22"/><path d="M3141.1 283.8L3143.4 319A35.2 35.2 0 1 1 3141.1 248.6Z" fill="#2470b5"/></g>
<circle cx="3141.1" cy="283.8" r="35.2" fill="none" stroke="#000" stroke-width="1.1"/>
<g stroke="#000" stroke-width="0.9" stroke-linejoin="round"><path d="M2741.2 399.9L2741.2 364.7A35.2 35.2 0 1 1 2739 435Z" fill="#c8c8c8"/><path d="M2741.2 399.9L2739 435A35.2 35.2 0 0 1 2708.5 412.9Z" fill="#bc1a22"/><path d="M2741.2 399.9L2708.5 412.9A35.2 35.2 0 0 1 2741.2 364.7Z" fill="#2470b5"/></g>
<circle cx="2741.2" cy="399.9" r="35.2" fill="none" stroke="#000" stroke-width="1.1"/>
<g stroke="#000" stroke-width="0.9" stroke-linejoin="round"><path d="M3107.2 399.9L3107.2 364.7A35.2 35.2 0 0 1 3130.5 426.3Z" fill="#c8c8c8"/><path d="M3107.2 399.9L3130.5 426.3A35.2 35.2 0 0 1 3107.2 435.1Z" fill="#bc1a22"/><path d="M3107.2 399.9L3107.2 435.1A35.2 35.2 0 0 1 3107.2 364.7Z" fill="#2470b5"/></g>
<circle cx="3107.2" cy="399.9" r="35.2" fill="none" stroke="#000" stroke-width="1.1"/>
<g stroke="#000" stroke-width="0.9" stroke-linejoin="round"><path d="M3224.3 399.9L3224.3 364.7A35.2 35.2 0 1 1 3214.5 433.7Z" fill="#c8c8c8"/><path d="M3224.3 399.9L3214.5 433.7A35.2 35.2 0 0 1 3190.4 409.3Z" fill="#bc1a22"/><path d="M3224.3 399.9L3190.4 409.3A35.2 35.2 0 0 1 3224.3 364.7Z" fill="#2470b5"/></g>
<circle cx="3224.3" cy="399.9" r="35.2" fill="none" stroke="#000" stroke-width="1.1"/>
<g stroke="#000" stroke-width="0.9" stroke-linejoin="round"><path d="M2550.9 516L2550.9 480.8A35.2 35.2 0 1 1 2525.2 540.1Z" fill="#c8c8c8"/><path d="M2550.9 516L2525.2 540.1A35.2 35.2 0 0 1 2515.7 517.1Z" fill="#bc1a22"/><path d="M2550.9 516L2515.7 517.1A35.2 35.2 0 0 1 2550.9 480.8Z" fill="#2470b5"/></g>
<circle cx="2550.9" cy="516" r="35.2" fill="none" stroke="#000" stroke-width="1.1"/>
<g stroke="#000" stroke-width="0.9" stroke-linejoin="round"><path d="M2931.5 516L2931.5 480.8A35.2 35.2 0 1 1 2897.4 524.7Z" fill="#c8c8c8"/><path d="M2931.5 516L2897.4 524.7A35.2 35.2 0 0 1 2896.3 516Z" fill="#bc1a22"/><path d="M2931.5 516L2896.3 516A35.2 35.2 0 0 1 2931.5 480.8Z" fill="#2470b5"/></g>
<circle cx="2931.5" cy="516" r="35.2" fill="none" stroke="#000" stroke-width="1.1"/>
<g stroke="#000" stroke-width="0.9" stroke-linejoin="round"><path d="M3107.2 516L3107.2 480.8A35.2 35.2 0 0 1 3131.8 541.2Z" fill="#c8c8c8"/><path d="M3107.2 516L3131.8 541.2A35.2 35.2 0 0 1 3118.3 549.4Z" fill="#bc1a22"/><path d="M3107.2 516L3118.3 549.4A35.2 35.2 0 1 1 3107.2 480.8Z" fill="#2470b5"/></g>
<circle cx="3107.2" cy="516" r="35.2" fill="none" stroke="#000" stroke-width="1.1"/>
<g stroke="#000" stroke-width="0.9" stroke-linejoin="round"><path d="M3224.3 516L3224.3 480.8A35.2 35.2 0 1 1 3193.8 533.5Z" fill="#c8c8c8"/><path d="M3224.3 516L3193.8 533.5A35.2 35.2 0 0 1 3189.6 509.8Z" fill="#bc1a22"/><path d="M3224.3 516L3189.6 509.8A35.2 35.2 0 0 1 3224.3 480.8Z" fill="#2470b5"/></g>
<circle cx="3224.3" cy="516" r="35.2" fill="none" stroke="#000" stroke-width="1.1"/>
<g stroke="#000" stroke-width="0.9" stroke-linejoin="round"><path d="M2550.9 632L2550.9 596.8A35.2 35.2 0 1 1 2540 665.5Z" fill="#c8c8c8"/><path d="M2550.9 632L2540 665.5A35.2 35.2 0 0 1 2515.7 632Z" fill="#bc1a22"/><path d="M2550.9 632L2515.7 632A35.2 35.2 0 0 1 2550.9 596.8Z" fill="#2470b5"/></g>
<circle cx="2550.9" cy="632" r="35.2" fill="none" stroke="#000" stroke-width="1.1"/>
<g stroke="#000" stroke-width="0.9" stroke-linejoin="round"><path d="M2931.5 632L2931.5 596.8A35.2 35.2 0 1 1 2907.4 657.7Z" fill="#c8c8c8"/><path d="M2931.5 632L2907.4 657.7A35.2 35.2 0 0 1 2896.6 636.5Z" fill="#bc1a22"/><path d="M2931.5 632L2896.6 636.5A35.2 35.2 0 0 1 2931.5 596.8Z" fill="#2470b5"/></g>
<circle cx="2931.5" cy="632" r="35.2" fill="none" stroke="#000" stroke-width="1.1"/>
<g stroke="#000" stroke-width="0.9" stroke-linejoin="round"><path d="M3107.2 632L3107.2 596.8A35.2 35.2 0 0 1 3113.8 666.6Z" fill="#c8c8c8"/><path d="M3107.2 632L3113.8 666.6A35.2 35.2 0 0 1 3100.6 666.6Z" fill="#bc1a22"/><path d="M3107.2 632L3100.6 666.6A35.2 35.2 0 0 1 3107.2 596.8Z" fill="#2470b5"/></g>
<circle cx="3107.2" cy="632" r="35.2" fill="none" stroke="#000" stroke-width="1.1"/>
<g stroke="#000" stroke-width="0.9" stroke-linejoin="round"><path d="M3224.3 632L3224.3 596.8A35.2 35.2 0 1 1 3203.6 660.5Z" fill="#c8c8c8"/><path d="M3224.3 632L3203.6 660.5A35.2 35.2 0 0 1 3189.4 627.6Z" fill="#bc1a22"/><path d="M3224.3 632L3189.4 627.6A35.2 35.2 0 0 1 3224.3 596.8Z" fill="#2470b5"/></g>
<circle cx="3224.3" cy="632" r="35.2" fill="none" stroke="#000" stroke-width="1.1"/>
<g stroke="#000" stroke-width="0.9" stroke-linejoin="round"><path d="M2550.9 748.1L2550.9 712.9A35.2 35.2 0 1 1 2519 763.1Z" fill="#c8c8c8"/><path d="M2550.9 748.1L2519 763.1A35.2 35.2 0 0 1 2516.3 741.5Z" fill="#bc1a22"/><path d="M2550.9 748.1L2516.3 741.5A35.2 35.2 0 0 1 2550.9 712.9Z" fill="#2470b5"/></g>
<circle cx="2550.9" cy="748.1" r="35.2" fill="none" stroke="#000" stroke-width="1.1"/>
<g stroke="#000" stroke-width="0.9" stroke-linejoin="round"><path d="M2931.5 748.1L2931.5 712.9A35.2 35.2 0 1 1 2896.9 741.5Z" fill="#c8c8c8"/><path d="M2931.5 748.1L2896.9 741.5A35.2 35.2 0 0 1 2899.7 733.1Z" fill="#bc1a22"/><path d="M2931.5 748.1L2899.7 733.1A35.2 35.2 0 0 1 2931.5 712.9Z" fill="#2470b5"/></g>
<circle cx="2931.5" cy="748.1" r="35.2" fill="none" stroke="#000" stroke-width="1.1"/>
<g stroke="#000" stroke-width="0.9" stroke-linejoin="round"><path d="M3107.2 748.1L3107.2 712.9A35.2 35.2 0 0 1 3134.2 770.7Z" fill="#c8c8c8"/><path d="M3107.2 748.1L3134.2 770.7A35.2 35.2 0 0 1 3129.4 775.4Z" fill="#bc1a22"/><path d="M3107.2 748.1L3129.4 775.4A35.2 35.2 0 1 1 3107.2 712.9Z" fill="#2470b5"/></g>
<circle cx="3107.2" cy="748.1" r="35.2" fill="none" stroke="#000" stroke-width="1.1"/>
<g stroke="#000" stroke-width="0.9" stroke-linejoin="round"><path d="M3224.3 748.1L3224.3 712.9A35.2 35.2 0 1 1 3189.1 748.1Z" fill="#c8c8c8"/><path d="M3224.3 748.1L3189.1 748.1A35.2 35.2 0 0 1 3190.8 737.2Z" fill="#bc1a22"/><path d="M3224.3 748.1L3190.8 737.2A35.2 35.2 0 0 1 3224.3 712.9Z" fill="#2470b5"/></g>
<circle cx="3224.3" cy="748.1" r="35.2" fill="none" stroke="#000" stroke-width="1.1"/>
<g stroke="#000" stroke-width="0.9" stroke-linejoin="round"><path d="M2287.3 864.2L2287.3 829A35.2 35.2 0 1 1 2273 896.3Z" fill="#c8c8c8"/><path d="M2287.3 864.2L2273 896.3A35.2 35.2 0 0 1 2252.1 864.2Z" fill="#bc1a22"/><path d="M2287.3 864.2L2252.1 864.2A35.2 35.2 0 0 1 2287.3 829Z" fill="#2470b5"/></g>
<circle cx="2287.3" cy="864.2" r="35.2" fill="none" stroke="#000" stroke-width="1.1"/>
<g stroke="#000" stroke-width="0.9" stroke-linejoin="round"><path d="M2521.6 864.2L2521.6 829A35.2 35.2 0 0 1 2552 846.5Z" fill="#c8c8c8"/><path d="M2521.6 864.2L2552 846.5A35.2 35.2 0 0 1 2514.1 898.6Z" fill="#bc1a22"/><path d="M2521.6 864.2L2514.1 898.6A35.2 35.2 0 0 1 2521.6 829Z" fill="#2470b5"/></g>
<circle cx="2521.6" cy="864.2" r="35.2" fill="none" stroke="#000" stroke-width="1.1"/>
<g stroke="#000" stroke-width="0.9" stroke-linejoin="round"><path d="M2638.7 864.2L2638.7 829A35.2 35.2 0 1 1 2619.8 893.9Z" fill="#c8c8c8"/><path d="M2638.7 864.2L2619.8 893.9A35.2 35.2 0 0 1 2603.6 862Z" fill="#bc1a22"/><path d="M2638.7 864.2L2603.6 862A35.2 35.2 0 0 1 2638.7 829Z" fill="#2470b5"/></g>
<circle cx="2638.7" cy="864.2" r="35.2" fill="none" stroke="#000" stroke-width="1.1"/>
<g stroke="#000" stroke-width="0.9" stroke-linejoin="round"><path d="M2755.8 864.2L2755.8 829A35.2 35.2 0 0 1 2779.9 838.5Z" fill="#c8c8c8"/><path d="M2755.8 864.2L2779.9 838.5A35.2 35.2 0 0 1 2735.7 893.1Z" fill="#bc1a22"/><path d="M2755.8 864.2L2735.7 893.1A35.2 35.2 0 0 1 2755.8 829Z" fill="#2470b5"/></g>
<circle cx="2755.8" cy="864.2" r="35.2" fill="none" stroke="#000" stroke-width="1.1"/>
<g stroke="#000" stroke-width="0.9" stroke-linejoin="round"><path d="M2872.9 864.2L2872.9 829A35.2 35.2 0 1 1 2839 873.4Z" fill="#c8c8c8"/><path d="M2872.9 864.2L2839 873.4A35.2 35.2 0 0 1 2839.7 852.5Z" fill="#bc1a22"/><path d="M2872.9 864.2L2839.7 852.5A35.2 35.2 0 0 1 2872.9 829Z" fill="#2470b5"/></g>
<circle cx="2872.9" cy="864.2" r="35.2" fill="none" stroke="#000" stroke-width="1.1"/>
<g stroke="#000" stroke-width="0.9" stroke-linejoin="round"><path d="M2990.1 864.2L2990.1 829A35.2 35.2 0 1 1 2960.3 845.3Z" fill="#c8c8c8"/><path d="M2990.1 864.2L2960.3 845.3A35.2 35.2 0 0 1 2982.8 829.7Z" fill="#bc1a22"/><path d="M2990.1 864.2L2982.8 829.7A35.2 35.2 0 0 1 2990.1 829Z" fill="#2470b5"/></g>
<circle cx="2990.1" cy="864.2" r="35.2" fill="none" stroke="#000" stroke-width="1.1"/>
<g stroke="#000" stroke-width="0.9" stroke-linejoin="round"><path d="M3107.2 864.2L3107.2 829A35.2 35.2 0 1 1 3077.9 883.8Z" fill="#c8c8c8"/><path d="M3107.2 864.2L3077.9 883.8A35.2 35.2 0 0 1 3073.1 872.9Z" fill="#bc1a22"/><path d="M3107.2 864.2L3073.1 872.9A35.2 35.2 0 0 1 3107.2 829Z" fill="#2470b5"/></g>
<circle cx="3107.2" cy="864.2" r="35.2" fill="none" stroke="#000" stroke-width="1.1"/>
<g stroke="#000" stroke-width="0.9" stroke-linejoin="round"><path d="M3224.3 864.2L3224.3 829A35.2 35.2 0 1 1 3199.9 889.5Z" fill="#c8c8c8"/><path d="M3224.3 864.2L3199.9 889.5A35.2 35.2 0 0 1 3190.6 874.2Z" fill="#bc1a22"/><path d="M3224.3 864.2L3190.6 874.2A35.2 35.2 0 0 1 3224.3 829Z" fill="#2470b5"/></g>
<circle cx="3224.3" cy="864.2" r="35.2" fill="none" stroke="#000" stroke-width="1.1"/>
<g stroke="#000" stroke-width="0.9" stroke-linejoin="round"><path d="M2170.2 980.3L2170.2 945.1A35.2 35.2 0 1 1 2135.5 985.8Z" fill="#c8c8c8"/><path d="M2170.2 980.3L2135.5 985.8A35.2 35.2 0 0 1 2142.1 959Z" fill="#bc1a22"/><path d="M2170.2 980.3L2142.1 959A35.2 35.2 0 0 1 2170.2 945.1Z" fill="#2470b5"/></g>
<circle cx="2170.2" cy="980.3" r="35.2" fill="none" stroke="#000" stroke-width="1.1"/>
<g stroke="#000" stroke-width="0.9" stroke-linejoin="round"><path d="M2287.3 980.3L2287.3 945.1A35.2 35.2 0 1 1 2254.6 993.2Z" fill="#c8c8c8"/><path d="M2287.3 980.3L2254.6 993.2A35.2 35.2 0 0 1 2254.6 967.3Z" fill="#bc1a22"/><path d="M2287.3 980.3L2254.6 967.3A35.2 35.2 0 0 1 2287.3 945.1Z" fill="#2470b5"/></g>
<circle cx="2287.3" cy="980.3" r="35.2" fill="none" stroke="#000" stroke-width="1.1"/>
<g stroke="#000" stroke-width="0.9" stroke-linejoin="round"><path d="M2404.5 980.3L2404.5 945.1A35.2 35.2 0 1 1 2383.8 1008.7Z" fill="#c8c8c8"/><path d="M2404.5 980.3L2383.8 1008.7A35.2 35.2 0 0 1 2371.4 968.1Z" fill="#bc1a22"/><path d="M2404.5 980.3L2371.4 968.1A35.2 35.2 0 0 1 2404.5 945.1Z" fill="#2470b5"/></g>
<circle cx="2404.5" cy="980.3" r="35.2" fill="none" stroke="#000" stroke-width="1.1"/>
<g stroke="#000" stroke-width="0.9" stroke-linejoin="round"><path d="M2521.6 980.3L2521.6 945.1A35.2 35.2 0 0 1 2553.2 995.6Z" fill="#c8c8c8"/><path d="M2521.6 980.3L2553.2 995.6A35.2 35.2 0 0 1 2506.4 1012Z" fill="#bc1a22"/><path d="M2521.6 980.3L2506.4 1012A35.2 35.2 0 0 1 2521.6 945.1Z" fill="#2470b5"/></g>
<circle cx="2521.6" cy="980.3" r="35.2" fill="none" stroke="#000" stroke-width="1.1"/>
<g stroke="#000" stroke-width="0.9" stroke-linejoin="round"><path d="M2872.9 980.3L2872.9 945.1A35.2 35.2 0 1 1 2845.5 958.2Z" fill="#c8c8c8"/><path d="M2872.9 980.3L2845.5 958.2A35.2 35.2 0 0 1 2854.8 950.1Z" fill="#bc1a22"/><path d="M2872.9 980.3L2854.8 950.1A35.2 35.2 0 0 1 2872.9 945.1Z" fill="#2470b5"/></g>
<circle cx="2872.9" cy="980.3" r="35.2" fill="none" stroke="#000" stroke-width="1.1"/>
<g stroke="#000" stroke-width="0.9" stroke-linejoin="round"><path d="M2990.1 980.3L2990.1 945.1A35.2 35.2 0 1 1 2962.9 957.8Z" fill="#c8c8c8"/><path d="M2990.1 980.3L2962.9 957.8A35.2 35.2 0 0 1 2973.1 949.4Z" fill="#bc1a22"/><path d="M2990.1 980.3L2973.1 949.4A35.2 35.2 0 0 1 2990.1 945.1Z" fill="#2470b5"/></g>
<circle cx="2990.1" cy="980.3" r="35.2" fill="none" stroke="#000" stroke-width="1.1"/>
<g stroke="#000" stroke-width="0.9" stroke-linejoin="round"><path d="M3107.2 980.3L3107.2 945.1A35.2 35.2 0 1 1 3072.3 984.7Z" fill="#c8c8c8"/><path d="M3107.2 980.3L3072.3 984.7A35.2 35.2 0 0 1 3072.4 974.8Z" fill="#bc1a22"/><path d="M3107.2 980.3L3072.4 974.8A35.2 35.2 0 0 1 3107.2 945.1Z" fill="#2470b5"/></g>
<circle cx="3107.2" cy="980.3" r="35.2" fill="none" stroke="#000" stroke-width="1.1"/>
<g stroke="#000" stroke-width="0.9" stroke-linejoin="round"><path d="M3224.3 980.3L3224.3 945.1A35.2 35.2 0 1 1 3189.2 982.5Z" fill="#c8c8c8"/><path d="M3224.3 980.3L3189.2 982.5A35.2 35.2 0 0 1 3190.2 971.5Z" fill="#bc1a22"/><path d="M3224.3 980.3L3190.2 971.5A35.2 35.2 0 0 1 3224.3 945.1Z" fill="#2470b5"/></g>
<circle cx="3224.3" cy="980.3" r="35.2" fill="none" stroke="#000" stroke-width="1.1"/>
<g stroke="#000" stroke-width="0.9" stroke-linejoin="round"><path d="M2053.1 1096.3L2053.1 1061.1A35.2 35.2 0 1 1 2029 1122Z" fill="#c8c8c8"/><path d="M2053.1 1096.3L2029 1122A35.2 35.2 0 0 1 2021.3 1081.3Z" fill="#bc1a22"/><path d="M2053.1 1096.3L2021.3 1081.3A35.2 35.2 0 0 1 2053.1 1061.1Z" fill="#2470b5"/></g>
<circle cx="2053.1" cy="1096.3" r="35.2" fill="none" stroke="#000" stroke-width="1.1"/>
<g stroke="#000" stroke-width="0.9" stroke-linejoin="round"><path d="M2170.2 1096.3L2170.2 1061.1A35.2 35.2 0 1 1 2148.1 1123.7Z" fill="#c8c8c8"/><path d="M2170.2 1096.3L2148.1 1123.7A35.2 35.2 0 0 1 2136.7 1085.5Z" fill="#bc1a22"/><path d="M2170.2 1096.3L2136.7 1085.5A35.2 35.2 0 0 1 2170.2 1061.1Z" fill="#2470b5"/></g>
<circle cx="2170.2" cy="1096.3" r="35.2" fill="none" stroke="#000" stroke-width="1.1"/>
<g stroke="#000" stroke-width="0.9" stroke-linejoin="round"><path d="M2287.3 1096.3L2287.3 1061.1A35.2 35.2 0 1 1 2261.7 1120.4Z" fill="#c8c8c8"/><path d="M2287.3 1096.3L2261.7 1120.4A35.2 35.2 0 0 1 2255.5 1081.3Z" fill="#bc1a22"/><path d="M2287.3 1096.3L2255.5 1081.3A35.2 35.2 0 0 1 2287.3 1061.1Z" fill="#2470b5"/></g>
<circle cx="2287.3" cy="1096.3" r="35.2" fill="none" stroke="#000" stroke-width="1.1"/>
<g stroke="#000" stroke-width="0.9" stroke-linejoin="round"><path d="M2463 1096.3L2463 1061.1A35.2 35.2 0 0 1 2476.8 1128.7Z" fill="#c8c8c8"/><path d="M2463 1096.3L2476.8 1128.7A35.2 35.2 0 0 1 2428 1099.4Z" fill="#bc1a22"/><path d="M2463 1096.3L2428 1099.4A35.2 35.2 0 0 1 2463 1061.1Z" fill="#2470b5"/></g>
<circle cx="2463" cy="1096.3" r="35.2" fill="none" stroke="#000" stroke-width="1.1"/>
<g stroke="#000" stroke-width="0.9" stroke-linejoin="round"><path d="M2580.1 1096.3L2580.1 1061.1A35.2 35.2 0 0 1 2607.3 1118.8Z" fill="#c8c8c8"/><path d="M2580.1 1096.3L2607.3 1118.8A35.2 35.2 0 0 1 2545.1 1099.4Z" fill="#bc1a22"/><path d="M2580.1 1096.3L2545.1 1099.4A35.2 35.2 0 0 1 2580.1 1061.1Z" fill="#2470b5"/></g>
<circle cx="2580.1" cy="1096.3" r="35.2" fill="none" stroke="#000" stroke-width="1.1"/>
<g stroke="#000" stroke-width="0.9" stroke-linejoin="round"><path d="M2872.9 1096.3L2872.9 1061.1A35.2 35.2 0 1 1 2842.8 1114.4Z" fill="#c8c8c8"/><path d="M2872.9 1096.3L2842.8 1114.4A35.2 35.2 0 0 1 2856 1065.5Z" fill="#bc1a22"/><path d="M2872.9 1096.3L2856 1065.5A35.2 35.2 0 0 1 2872.9 1061.1Z" fill="#2470b5"/></g>
<circle cx="2872.9" cy="1096.3" r="35.2" fill="none" stroke="#000" stroke-width="1.1"/>
<g stroke="#000" stroke-width="0.9" stroke-linejoin="round"><path d="M2990.1 1096.3L2990.1 1061.1A35.2 35.2 0 1 1 2982.8 1130.8Z" fill="#c8c8c8"/><path d="M2990.1 1096.3L2982.8 1130.8A35.2 35.2 0 0 1 2967.6 1069.2Z" fill="#bc1a22"/><path d="M2990.1 1096.3L2967.6 1069.2A35.2 35.2 0 0 1 2990.1 1061.1Z" fill="#2470b5"/></g>
<circle cx="2990.1" cy="1096.3" r="35.2" fill="none" stroke="#000" stroke-width="1.1"/>
<g stroke="#000" stroke-width="0.9" stroke-linejoin="round"><path d="M3107.2 1096.3L3107.2 1061.1A35.2 35.2 0 1 1 3082.3 1071.4Z" fill="#c8c8c8"/><path d="M3107.2 1096.3L3082.3 1071.4A35.2 35.2 0 0 1 3092.2 1064.5Z" fill="#bc1a22"/><path d="M3107.2 1096.3L3092.2 1064.5A35.2 35.2 0 0 1 3107.2 1061.1Z" fill="#2470b5"/></g>
<circle cx="3107.2" cy="1096.3" r="35.2" fill="none" stroke="#000" stroke-width="1.1"/>
<g stroke="#000" stroke-width="0.9" stroke-linejoin="round"><path d="M3224.3 1096.3L3224.3 1061.1A35.2 35.2 0 1 1 3193.8 1113.9Z" fill="#c8c8c8"/><path d="M3224.3 1096.3L3193.8 1113.9A35.2 35.2 0 0 1 3191.6 1083.4Z" fill="#bc1a22"/><path d="M3224.3 1096.3L3191.6 1083.4A35.2 35.2 0 0 1 3224.3 1061.1Z" fill="#2470b5"/></g>
<circle cx="3224.3" cy="1096.3" r="35.2" fill="none" stroke="#000" stroke-width="1.1"/>
<text x="3305.1" y="76.2" font-size="45.5" textLength="156" lengthAdjust="spacingAndGlyphs">Stage 8</text>
<text x="3305.1" y="192.3" font-size="45.5" textLength="216.4" lengthAdjust="spacingAndGlyphs">Stage 10.5</text>
<text x="3305.1" y="308.3" font-size="45.5" textLength="180.2" lengthAdjust="spacingAndGlyphs">Stage 12</text>
<text x="3305.1" y="424.4" font-size="45.5" textLength="180.2" lengthAdjust="spacingAndGlyphs">Stage 13</text>
<text x="3305.1" y="540.5" font-size="45.5" textLength="180.2" lengthAdjust="spacingAndGlyphs">Stage 16</text>
<text x="3305.1" y="656.5" font-size="45.5" textLength="180.2" lengthAdjust="spacingAndGlyphs">Stage 18</text>
<text x="3305.1" y="772.6" font-size="45.5" textLength="180.2" lengthAdjust="spacingAndGlyphs">Stage 20</text>
<text x="3305.1" y="888.7" font-size="45.5" textLength="180.2" lengthAdjust="spacingAndGlyphs">Stage 22</text>
<text x="3305.1" y="1004.8" font-size="45.5" textLength="180.2" lengthAdjust="spacingAndGlyphs">Stage 24</text>
<text x="3305.1" y="1120.8" font-size="45.5" textLength="180.2" lengthAdjust="spacingAndGlyphs">Stage 27</text>
<text transform="translate(1994.3 1063) rotate(-90)" x="0" y="0" text-anchor="middle" font-size="33.7" fill="#be1e2d" textLength="185" lengthAdjust="spacingAndGlyphs">Basal branch</text>
<text transform="translate(2653.2 1069.4) rotate(-90)" x="0" y="0" text-anchor="middle" font-size="33.7" fill="#f3876b" textLength="172" lengthAdjust="spacingAndGlyphs">SSC branch</text>
<text transform="translate(2822.6 1043) rotate(-90)" x="0" y="0" text-anchor="middle" font-size="33.7" fill="#8a86bf" textLength="226" lengthAdjust="spacingAndGlyphs">Ionocyte branch</text>
<text transform="translate(3291 1056) rotate(-90)" x="0" y="0" text-anchor="middle" font-size="33.7" fill="#c9a05c" textLength="201" lengthAdjust="spacingAndGlyphs">Goblet branch</text>
<text transform="translate(3053.8 475) rotate(-90)" x="0" y="0" text-anchor="middle" font-size="33.7" fill="#2a78b8" textLength="180" lengthAdjust="spacingAndGlyphs">MCC branch</text>
<text x="1788.5" y="82" font-size="78" font-weight="bold">B</text>
<text x="3.2" y="1300.3" font-size="78" font-weight="bold">C</text>
<rect x="155.4" y="1295.5" width="632.6" height="686.5" fill="#8c89c0"/>
<rect x="167.4" y="1391" width="608.6" height="579" fill="#fff"/>
<text x="174" y="1363.8" font-size="63" fill="#000" textLength="594" lengthAdjust="spacingAndGlyphs">Ionocyte (<tspan font-style="italic">atp6v1b1.L</tspan>)</text>
<path d="M684.4 1429.9V1486.1M684.4 1486.1C684.4 1514.2 656.3 1514.2 656.3 1542.3M684.4 1486.1C684.4 1514.2 712.5 1514.2 712.5 1542.3M656.3 1542.3C656.3 1570.4 520.6 1570.4 520.6 1598.5M656.3 1542.3C656.3 1570.4 696.2 1570.4 696.2 1598.5M656.3 1542.3C656.3 1570.4 752.4 1570.4 752.4 1598.5M520.6 1598.5C520.6 1626.6 429.3 1626.6 429.3 1654.7M520.6 1598.5C520.6 1626.6 611.9 1626.6 611.9 1654.7M696.2 1598.5V1654.7M752.4 1598.5V1654.7M429.3 1654.7V1710.9M611.9 1654.7V1710.9M696.2 1654.7V1710.9M752.4 1654.7V1710.9M429.3 1710.9V1767.1M611.9 1710.9V1767.1M696.2 1710.9V1767.1M752.4 1710.9V1767.1M429.3 1767.1C429.3 1795.2 302.8 1795.2 302.8 1823.3M429.3 1767.1C429.3 1795.2 415.2 1795.2 415.2 1823.3M429.3 1767.1C429.3 1795.2 471.4 1795.2 471.4 1823.3M429.3 1767.1C429.3 1795.2 527.6 1795.2 527.6 1823.3M611.9 1767.1C611.9 1795.2 583.8 1795.2 583.8 1823.3M611.9 1767.1C611.9 1795.2 640 1795.2 640 1823.3M696.2 1767.1V1823.3M752.4 1767.1V1823.3M302.8 1823.3C302.8 1851.4 246.6 1851.4 246.6 1879.5M302.8 1823.3V1879.5M302.8 1823.3C302.8 1851.4 359 1851.4 359 1879.5M415.2 1823.3V1879.5M583.8 1823.3V1879.5M640 1823.3V1879.5M696.2 1823.3V1879.5M752.4 1823.3V1879.5M246.6 1879.5C246.6 1907.6 190.4 1907.6 190.4 1935.7M246.6 1879.5V1935.7M246.6 1879.5C246.6 1907.6 302.8 1907.6 302.8 1935.7M415.2 1879.5C415.2 1907.6 387.1 1907.6 387.1 1935.7M415.2 1879.5C415.2 1907.6 443.3 1907.6 443.3 1935.7M583.8 1879.5V1935.7M640 1879.5V1935.7M696.2 1879.5V1935.7M752.4 1879.5V1935.7" fill="none" stroke="#000" stroke-width="2.3"/>
<g><circle cx="684.4" cy="1429.9" r="17.4" fill="#3487c0"/><circle cx="684.4" cy="1486.1" r="17.4" fill="#3487c0"/><circle cx="656.3" cy="1542.3" r="17.4" fill="#3487c0"/><circle cx="712.5" cy="1542.3" r="17.4" fill="#3487c0"/><circle cx="520.6" cy="1598.5" r="17.4" fill="#4a8fbd"/><circle cx="696.2" cy="1598.5" r="17.4" fill="#3487c0"/><circle cx="752.4" cy="1598.5" r="17.4" fill="#3487c0"/><circle cx="429.3" cy="1654.7" r="17.4" fill="#4a8fbd"/><circle cx="611.9" cy="1654.7" r="17.4" fill="#e2ec9a"/><circle cx="696.2" cy="1654.7" r="17.4" fill="#3487c0"/><circle cx="752.4" cy="1654.7" r="17.4" fill="#5b9bb5"/><circle cx="429.3" cy="1710.9" r="17.4" fill="#4a8fbd"/><circle cx="611.9" cy="1710.9" r="17.4" fill="#e2ec9a"/><circle cx="696.2" cy="1710.9" r="17.4" fill="#4a8fbd"/><circle cx="752.4" cy="1710.9" r="17.4" fill="#4a8fbd"/><circle cx="429.3" cy="1767.1" r="17.4" fill="#5b9bb5"/><circle cx="611.9" cy="1767.1" r="17.4" fill="#f27f52"/><circle cx="696.2" cy="1767.1" r="17.4" fill="#3487c0"/><circle cx="752.4" cy="1767.1" r="17.4" fill="#5b9bb5"/><circle cx="302.8" cy="1823.3" r="17.4" fill="#4a8fbd"/><circle cx="415.2" cy="1823.3" r="17.4" fill="#4a8fbd"/><circle cx="471.4" cy="1823.3" r="17.4" fill="#4a8fbd"/><circle cx="527.6" cy="1823.3" r="17.4" fill="#3487c0"/><circle cx="583.8" cy="1823.3" r="17.4" fill="#d53e4f"/><circle cx="640" cy="1823.3" r="17.4" fill="#f27f52"/><circle cx="696.2" cy="1823.3" r="17.4" fill="#4a8fbd"/><circle cx="752.4" cy="1823.3" r="17.4" fill="#4a8fbd"/><circle cx="246.6" cy="1879.5" r="17.4" fill="#5b9bb5"/><circle cx="302.8" cy="1879.5" r="17.4" fill="#5b9bb5"/><circle cx="359" cy="1879.5" r="17.4" fill="#4a8fbd"/><circle cx="415.2" cy="1879.5" r="17.4" fill="#4a8fbd"/><circle cx="583.8" cy="1879.5" r="17.4" fill="#d53e4f"/><circle cx="640" cy="1879.5" r="17.4" fill="#fddc88"/><circle cx="696.2" cy="1879.5" r="17.4" fill="#5b9bb5"/><circle cx="752.4" cy="1879.5" r="17.4" fill="#5b9bb5"/><circle cx="190.4" cy="1935.7" r="17.4" fill="#4a8fbd"/><circle cx="246.6" cy="1935.7" r="17.4" fill="#4a8fbd"/><circle cx="302.8" cy="1935.7" r="17.4" fill="#4a8fbd"/><circle cx="387.1" cy="1935.7" r="17.4" fill="#5b9bb5"/><circle cx="443.3" cy="1935.7" r="17.4" fill="#4a8fbd"/><circle cx="583.8" cy="1935.7" r="17.4" fill="#fcaf68"/><circle cx="640" cy="1935.7" r="17.4" fill="#e2ec9a"/><circle cx="696.2" cy="1935.7" r="17.4" fill="#4a8fbd"/><circle cx="752.4" cy="1935.7" r="17.4" fill="#4a8fbd"/></g>
<defs><linearGradient id="g1" x1="0" y1="1" x2="0" y2="0"><stop offset="0%" stop-color="#3288bd"/><stop offset="12.5%" stop-color="#66c2a5"/><stop offset="25%" stop-color="#abdda4"/><stop offset="37.5%" stop-color="#e6f598"/><stop offset="50%" stop-color="#ffffbf"/><stop offset="62.5%" stop-color="#fee08b"/><stop offset="75%" stop-color="#fdae61"/><stop offset="87.5%" stop-color="#f46d43"/><stop offset="100%" stop-color="#d53e4f"/></linearGradient></defs>
<rect x="174.3" y="1775.8" width="31.7" height="79.9" fill="url(#g1)"/>
<text x="210" y="1783.8" font-size="37" fill="#000">80</text>
<text x="212.3" y="1868" font-size="37" fill="#000">0</text>
<rect x="813.9" y="1295.5" width="632.9" height="686.5" fill="#fdcb6e"/>
<rect x="825.9" y="1391" width="608.9" height="579" fill="#fff"/>
<text x="929.4" y="1363.8" font-size="63" fill="#000" textLength="407" lengthAdjust="spacingAndGlyphs">Goblet (<tspan font-style="italic">itln1.L</tspan>)</text>
<path d="M1342.9 1429.9V1486.1M1342.9 1486.1C1342.9 1514.2 1314.8 1514.2 1314.8 1542.3M1342.9 1486.1C1342.9 1514.2 1371 1514.2 1371 1542.3M1314.8 1542.3C1314.8 1570.4 1179.1 1570.4 1179.1 1598.5M1314.8 1542.3C1314.8 1570.4 1354.7 1570.4 1354.7 1598.5M1314.8 1542.3C1314.8 1570.4 1410.9 1570.4 1410.9 1598.5M1179.1 1598.5C1179.1 1626.6 1087.8 1626.6 1087.8 1654.7M1179.1 1598.5C1179.1 1626.6 1270.4 1626.6 1270.4 1654.7M1354.7 1598.5V1654.7M1410.9 1598.5V1654.7M1087.8 1654.7V1710.9M1270.4 1654.7V1710.9M1354.7 1654.7V1710.9M1410.9 1654.7V1710.9M1087.8 1710.9V1767.1M1270.4 1710.9V1767.1M1354.7 1710.9V1767.1M1410.9 1710.9V1767.1M1087.8 1767.1C1087.8 1795.2 961.3 1795.2 961.3 1823.3M1087.8 1767.1C1087.8 1795.2 1073.7 1795.2 1073.7 1823.3M1087.8 1767.1C1087.8 1795.2 1129.9 1795.2 1129.9 1823.3M1087.8 1767.1C1087.8 1795.2 1186.1 1795.2 1186.1 1823.3M1270.4 1767.1C1270.4 1795.2 1242.3 1795.2 1242.3 1823.3M1270.4 1767.1C1270.4 1795.2 1298.5 1795.2 1298.5 1823.3M1354.7 1767.1V1823.3M1410.9 1767.1V1823.3M961.3 1823.3C961.3 1851.4 905.1 1851.4 905.1 1879.5M961.3 1823.3V1879.5M961.3 1823.3C961.3 1851.4 1017.5 1851.4 1017.5 1879.5M1073.7 1823.3V1879.5M1242.3 1823.3V1879.5M1298.5 1823.3V1879.5M1354.7 1823.3V1879.5M1410.9 1823.3V1879.5M905.1 1879.5C905.1 1907.6 848.9 1907.6 848.9 1935.7M905.1 1879.5V1935.7M905.1 1879.5C905.1 1907.6 961.3 1907.6 961.3 1935.7M1073.7 1879.5C1073.7 1907.6 1045.6 1907.6 1045.6 1935.7M1073.7 1879.5C1073.7 1907.6 1101.8 1907.6 1101.8 1935.7M1242.3 1879.5V1935.7M1298.5 1879.5V1935.7M1354.7 1879.5V1935.7M1410.9 1879.5V1935.7" fill="none" stroke="#000" stroke-width="2.3"/>
<g><circle cx="1342.9" cy="1429.9" r="17.4" fill="#3487c0"/><circle cx="1342.9" cy="1486.1" r="17.4" fill="#3487c0"/><circle cx="1314.8" cy="1542.3" r="17.4" fill="#3487c0"/><circle cx="1371" cy="1542.3" r="17.4" fill="#3487c0"/><circle cx="1179.1" cy="1598.5" r="17.4" fill="#4a8fbd"/><circle cx="1354.7" cy="1598.5" r="17.4" fill="#4a8fbd"/><circle cx="1410.9" cy="1598.5" r="17.4" fill="#e2ec9a"/><circle cx="1087.8" cy="1654.7" r="17.4" fill="#4a8fbd"/><circle cx="1270.4" cy="1654.7" r="17.4" fill="#4a8fbd"/><circle cx="1354.7" cy="1654.7" r="17.4" fill="#4a8fbd"/><circle cx="1410.9" cy="1654.7" r="17.4" fill="#b8dc96"/><circle cx="1087.8" cy="1710.9" r="17.4" fill="#4a8fbd"/><circle cx="1270.4" cy="1710.9" r="17.4" fill="#4a8fbd"/><circle cx="1354.7" cy="1710.9" r="17.4" fill="#4a8fbd"/><circle cx="1410.9" cy="1710.9" r="17.4" fill="#f8f4bb"/><circle cx="1087.8" cy="1767.1" r="17.4" fill="#5b9bb5"/><circle cx="1270.4" cy="1767.1" r="17.4" fill="#5b9bb5"/><circle cx="1354.7" cy="1767.1" r="17.4" fill="#5b9bb5"/><circle cx="1410.9" cy="1767.1" r="17.4" fill="#fcaf68"/><circle cx="961.3" cy="1823.3" r="17.4" fill="#3487c0"/><circle cx="1073.7" cy="1823.3" r="17.4" fill="#3487c0"/><circle cx="1129.9" cy="1823.3" r="17.4" fill="#3487c0"/><circle cx="1186.1" cy="1823.3" r="17.4" fill="#3487c0"/><circle cx="1242.3" cy="1823.3" r="17.4" fill="#5b9bb5"/><circle cx="1298.5" cy="1823.3" r="17.4" fill="#3487c0"/><circle cx="1354.7" cy="1823.3" r="17.4" fill="#4a8fbd"/><circle cx="1410.9" cy="1823.3" r="17.4" fill="#d53e4f"/><circle cx="905.1" cy="1879.5" r="17.4" fill="#5b9bb5"/><circle cx="961.3" cy="1879.5" r="17.4" fill="#5b9bb5"/><circle cx="1017.5" cy="1879.5" r="17.4" fill="#5b9bb5"/><circle cx="1073.7" cy="1879.5" r="17.4" fill="#5b9bb5"/><circle cx="1242.3" cy="1879.5" r="17.4" fill="#74aea8"/><circle cx="1298.5" cy="1879.5" r="17.4" fill="#5b9bb5"/><circle cx="1354.7" cy="1879.5" r="17.4" fill="#5b9bb5"/><circle cx="1410.9" cy="1879.5" r="17.4" fill="#d53e4f"/><circle cx="848.9" cy="1935.7" r="17.4" fill="#4a8fbd"/><circle cx="905.1" cy="1935.7" r="17.4" fill="#4a8fbd"/><circle cx="961.3" cy="1935.7" r="17.4" fill="#4a8fbd"/><circle cx="1045.6" cy="1935.7" r="17.4" fill="#5b9bb5"/><circle cx="1101.8" cy="1935.7" r="17.4" fill="#4a8fbd"/><circle cx="1242.3" cy="1935.7" r="17.4" fill="#74aea8"/><circle cx="1298.5" cy="1935.7" r="17.4" fill="#3487c0"/><circle cx="1354.7" cy="1935.7" r="17.4" fill="#93cd98"/><circle cx="1410.9" cy="1935.7" r="17.4" fill="#f27f52"/></g>
<defs><linearGradient id="g2" x1="0" y1="1" x2="0" y2="0"><stop offset="0%" stop-color="#3288bd"/><stop offset="12.5%" stop-color="#66c2a5"/><stop offset="25%" stop-color="#abdda4"/><stop offset="37.5%" stop-color="#e6f598"/><stop offset="50%" stop-color="#ffffbf"/><stop offset="62.5%" stop-color="#fee08b"/><stop offset="75%" stop-color="#fdae61"/><stop offset="87.5%" stop-color="#f46d43"/><stop offset="100%" stop-color="#d53e4f"/></linearGradient></defs>
<rect x="826.5" y="1771.5" width="29.9" height="84.2" fill="url(#g2)"/>
<text x="860.4" y="1779.5" font-size="37" fill="#000">250</text>
<text x="862.7" y="1868" font-size="37" fill="#000">0</text>
<rect x="1472.7" y="1295.5" width="632.6" height="686.5" fill="#2170b5"/>
<rect x="1484.7" y="1391" width="608.6" height="579" fill="#fff"/>
<text x="1598.3" y="1363.8" font-size="63" fill="#000" textLength="400.7" lengthAdjust="spacingAndGlyphs">Basal &#160;(<tspan font-style="italic">pfn1.L</tspan>)</text>
<path d="M2001.3 1429.9V1486.1M2001.3 1486.1C2001.3 1514.2 1973.2 1514.2 1973.2 1542.3M2001.3 1486.1C2001.3 1514.2 2029.4 1514.2 2029.4 1542.3M1973.2 1542.3C1973.2 1570.4 1837.5 1570.4 1837.5 1598.5M1973.2 1542.3C1973.2 1570.4 2013.1 1570.4 2013.1 1598.5M1973.2 1542.3C1973.2 1570.4 2069.3 1570.4 2069.3 1598.5M1837.5 1598.5C1837.5 1626.6 1746.2 1626.6 1746.2 1654.7M1837.5 1598.5C1837.5 1626.6 1928.8 1626.6 1928.8 1654.7M2013.1 1598.5V1654.7M2069.3 1598.5V1654.7M1746.2 1654.7V1710.9M1928.8 1654.7V1710.9M2013.1 1654.7V1710.9M2069.3 1654.7V1710.9M1746.2 1710.9V1767.1M1928.8 1710.9V1767.1M2013.1 1710.9V1767.1M2069.3 1710.9V1767.1M1746.2 1767.1C1746.2 1795.2 1619.7 1795.2 1619.7 1823.3M1746.2 1767.1C1746.2 1795.2 1732.1 1795.2 1732.1 1823.3M1746.2 1767.1C1746.2 1795.2 1788.3 1795.2 1788.3 1823.3M1746.2 1767.1C1746.2 1795.2 1844.5 1795.2 1844.5 1823.3M1928.8 1767.1C1928.8 1795.2 1900.7 1795.2 1900.7 1823.3M1928.8 1767.1C1928.8 1795.2 1956.9 1795.2 1956.9 1823.3M2013.1 1767.1V1823.3M2069.3 1767.1V1823.3M1619.7 1823.3C1619.7 1851.4 1563.5 1851.4 1563.5 1879.5M1619.7 1823.3V1879.5M1619.7 1823.3C1619.7 1851.4 1675.9 1851.4 1675.9 1879.5M1732.1 1823.3V1879.5M1900.7 1823.3V1879.5M1956.9 1823.3V1879.5M2013.1 1823.3V1879.5M2069.3 1823.3V1879.5M1563.5 1879.5C1563.5 1907.6 1507.3 1907.6 1507.3 1935.7M1563.5 1879.5V1935.7M1563.5 1879.5C1563.5 1907.6 1619.7 1907.6 1619.7 1935.7M1732.1 1879.5C1732.1 1907.6 1704 1907.6 1704 1935.7M1732.1 1879.5C1732.1 1907.6 1760.2 1907.6 1760.2 1935.7M1900.7 1879.5V1935.7M1956.9 1879.5V1935.7M2013.1 1879.5V1935.7M2069.3 1879.5V1935.7" fill="none" stroke="#000" stroke-width="2.3"/>
<g><circle cx="2001.3" cy="1429.9" r="17.4" fill="#74aea8"/><circle cx="2001.3" cy="1486.1" r="17.4" fill="#5b9bb5"/><circle cx="1973.2" cy="1542.3" r="17.4" fill="#74aea8"/><circle cx="2029.4" cy="1542.3" r="17.4" fill="#74aea8"/><circle cx="1837.5" cy="1598.5" r="17.4" fill="#74aea8"/><circle cx="2013.1" cy="1598.5" r="17.4" fill="#74aea8"/><circle cx="2069.3" cy="1598.5" r="17.4" fill="#5b9bb5"/><circle cx="1746.2" cy="1654.7" r="17.4" fill="#74aea8"/><circle cx="1928.8" cy="1654.7" r="17.4" fill="#4a8fbd"/><circle cx="2013.1" cy="1654.7" r="17.4" fill="#5b9bb5"/><circle cx="2069.3" cy="1654.7" r="17.4" fill="#4a8fbd"/><circle cx="1746.2" cy="1710.9" r="17.4" fill="#b8dc96"/><circle cx="1928.8" cy="1710.9" r="17.4" fill="#5b9bb5"/><circle cx="2013.1" cy="1710.9" r="17.4" fill="#5b9bb5"/><circle cx="2069.3" cy="1710.9" r="17.4" fill="#5b9bb5"/><circle cx="1746.2" cy="1767.1" r="17.4" fill="#e2ec9a"/><circle cx="1928.8" cy="1767.1" r="17.4" fill="#5b9bb5"/><circle cx="2013.1" cy="1767.1" r="17.4" fill="#5b9bb5"/><circle cx="2069.3" cy="1767.1" r="17.4" fill="#5b9bb5"/><circle cx="1619.7" cy="1823.3" r="17.4" fill="#fddc88"/><circle cx="1732.1" cy="1823.3" r="17.4" fill="#93cd98"/><circle cx="1788.3" cy="1823.3" r="17.4" fill="#fcaf68"/><circle cx="1844.5" cy="1823.3" r="17.4" fill="#74aea8"/><circle cx="1900.7" cy="1823.3" r="17.4" fill="#74aea8"/><circle cx="1956.9" cy="1823.3" r="17.4" fill="#4a8fbd"/><circle cx="2013.1" cy="1823.3" r="17.4" fill="#3487c0"/><circle cx="2069.3" cy="1823.3" r="17.4" fill="#5b9bb5"/><circle cx="1563.5" cy="1879.5" r="17.4" fill="#fcaf68"/><circle cx="1619.7" cy="1879.5" r="17.4" fill="#fddc88"/><circle cx="1675.9" cy="1879.5" r="17.4" fill="#f8f4bb"/><circle cx="1732.1" cy="1879.5" r="17.4" fill="#b8dc96"/><circle cx="1900.7" cy="1879.5" r="17.4" fill="#5b9bb5"/><circle cx="1956.9" cy="1879.5" r="17.4" fill="#74aea8"/><circle cx="2013.1" cy="1879.5" r="17.4" fill="#4a8fbd"/><circle cx="2069.3" cy="1879.5" r="17.4" fill="#74aea8"/><circle cx="1507.3" cy="1935.7" r="17.4" fill="#d53e4f"/><circle cx="1563.5" cy="1935.7" r="17.4" fill="#d53e4f"/><circle cx="1619.7" cy="1935.7" r="17.4" fill="#d53e4f"/><circle cx="1704" cy="1935.7" r="17.4" fill="#e2ec9a"/><circle cx="1760.2" cy="1935.7" r="17.4" fill="#b8dc96"/><circle cx="1900.7" cy="1935.7" r="17.4" fill="#74aea8"/><circle cx="1956.9" cy="1935.7" r="17.4" fill="#5b9bb5"/><circle cx="2013.1" cy="1935.7" r="17.4" fill="#4a8fbd"/><circle cx="2069.3" cy="1935.7" r="17.4" fill="#93cd98"/></g>
<defs><linearGradient id="g3" x1="0" y1="1" x2="0" y2="0"><stop offset="0%" stop-color="#3288bd"/><stop offset="12.5%" stop-color="#66c2a5"/><stop offset="25%" stop-color="#abdda4"/><stop offset="37.5%" stop-color="#e6f598"/><stop offset="50%" stop-color="#ffffbf"/><stop offset="62.5%" stop-color="#fee08b"/><stop offset="75%" stop-color="#fdae61"/><stop offset="87.5%" stop-color="#f46d43"/><stop offset="100%" stop-color="#d53e4f"/></linearGradient></defs>
<rect x="1494" y="1775.4" width="29.7" height="75.3" fill="url(#g3)"/>
<text x="1527.7" y="1783.4" font-size="37" fill="#000">80</text>
<text x="1530" y="1863" font-size="37" fill="#000">0</text>
<rect x="2123.5" y="1295.5" width="633.7" height="686.5" fill="#2170b5"/>
<rect x="2135.5" y="1391" width="609.7" height="579" fill="#fff"/>
<text x="2250" y="1363.8" font-size="63" fill="#000" textLength="399" lengthAdjust="spacingAndGlyphs">Basal &#160;(<tspan font-style="italic">tp63.L</tspan>)</text>
<path d="M2654.8 1429.9V1486.1M2654.8 1486.1C2654.8 1514.2 2626.7 1514.2 2626.7 1542.3M2654.8 1486.1C2654.8 1514.2 2682.9 1514.2 2682.9 1542.3M2626.7 1542.3C2626.7 1570.4 2491 1570.4 2491 1598.5M2626.7 1542.3C2626.7 1570.4 2666.6 1570.4 2666.6 1598.5M2626.7 1542.3C2626.7 1570.4 2722.8 1570.4 2722.8 1598.5M2491 1598.5C2491 1626.6 2399.7 1626.6 2399.7 1654.7M2491 1598.5C2491 1626.6 2582.3 1626.6 2582.3 1654.7M2666.6 1598.5V1654.7M2722.8 1598.5V1654.7M2399.7 1654.7V1710.9M2582.3 1654.7V1710.9M2666.6 1654.7V1710.9M2722.8 1654.7V1710.9M2399.7 1710.9V1767.1M2582.3 1710.9V1767.1M2666.6 1710.9V1767.1M2722.8 1710.9V1767.1M2399.7 1767.1C2399.7 1795.2 2273.2 1795.2 2273.2 1823.3M2399.7 1767.1C2399.7 1795.2 2385.6 1795.2 2385.6 1823.3M2399.7 1767.1C2399.7 1795.2 2441.8 1795.2 2441.8 1823.3M2399.7 1767.1C2399.7 1795.2 2498 1795.2 2498 1823.3M2582.3 1767.1C2582.3 1795.2 2554.2 1795.2 2554.2 1823.3M2582.3 1767.1C2582.3 1795.2 2610.4 1795.2 2610.4 1823.3M2666.6 1767.1V1823.3M2722.8 1767.1V1823.3M2273.2 1823.3C2273.2 1851.4 2217 1851.4 2217 1879.5M2273.2 1823.3V1879.5M2273.2 1823.3C2273.2 1851.4 2329.4 1851.4 2329.4 1879.5M2385.6 1823.3V1879.5M2554.2 1823.3V1879.5M2610.4 1823.3V1879.5M2666.6 1823.3V1879.5M2722.8 1823.3V1879.5M2217 1879.5C2217 1907.6 2160.8 1907.6 2160.8 1935.7M2217 1879.5V1935.7M2217 1879.5C2217 1907.6 2273.2 1907.6 2273.2 1935.7M2385.6 1879.5C2385.6 1907.6 2357.5 1907.6 2357.5 1935.7M2385.6 1879.5C2385.6 1907.6 2413.7 1907.6 2413.7 1935.7M2554.2 1879.5V1935.7M2610.4 1879.5V1935.7M2666.6 1879.5V1935.7M2722.8 1879.5V1935.7" fill="none" stroke="#000" stroke-width="2.3"/>
<g><circle cx="2654.8" cy="1429.9" r="17.4" fill="#3487c0"/><circle cx="2654.8" cy="1486.1" r="17.4" fill="#3487c0"/><circle cx="2626.7" cy="1542.3" r="17.4" fill="#3487c0"/><circle cx="2682.9" cy="1542.3" r="17.4" fill="#3487c0"/><circle cx="2491" cy="1598.5" r="17.4" fill="#74aea8"/><circle cx="2666.6" cy="1598.5" r="17.4" fill="#4a8fbd"/><circle cx="2722.8" cy="1598.5" r="17.4" fill="#3487c0"/><circle cx="2399.7" cy="1654.7" r="17.4" fill="#e2ec9a"/><circle cx="2582.3" cy="1654.7" r="17.4" fill="#3487c0"/><circle cx="2666.6" cy="1654.7" r="17.4" fill="#3487c0"/><circle cx="2722.8" cy="1654.7" r="17.4" fill="#5b9bb5"/><circle cx="2399.7" cy="1710.9" r="17.4" fill="#f8f4bb"/><circle cx="2582.3" cy="1710.9" r="17.4" fill="#b8dc96"/><circle cx="2666.6" cy="1710.9" r="17.4" fill="#74aea8"/><circle cx="2722.8" cy="1710.9" r="17.4" fill="#93cd98"/><circle cx="2399.7" cy="1767.1" r="17.4" fill="#93cd98"/><circle cx="2582.3" cy="1767.1" r="17.4" fill="#5b9bb5"/><circle cx="2666.6" cy="1767.1" r="17.4" fill="#3487c0"/><circle cx="2722.8" cy="1767.1" r="17.4" fill="#4a8fbd"/><circle cx="2273.2" cy="1823.3" r="17.4" fill="#fddc88"/><circle cx="2385.6" cy="1823.3" r="17.4" fill="#3487c0"/><circle cx="2441.8" cy="1823.3" r="17.4" fill="#d53e4f"/><circle cx="2498" cy="1823.3" r="17.4" fill="#4a8fbd"/><circle cx="2554.2" cy="1823.3" r="17.4" fill="#4a8fbd"/><circle cx="2610.4" cy="1823.3" r="17.4" fill="#3487c0"/><circle cx="2666.6" cy="1823.3" r="17.4" fill="#4a8fbd"/><circle cx="2722.8" cy="1823.3" r="17.4" fill="#4a8fbd"/><circle cx="2217" cy="1879.5" r="17.4" fill="#f8f4bb"/><circle cx="2273.2" cy="1879.5" r="17.4" fill="#f8f4bb"/><circle cx="2329.4" cy="1879.5" r="17.4" fill="#b8dc96"/><circle cx="2385.6" cy="1879.5" r="17.4" fill="#5b9bb5"/><circle cx="2554.2" cy="1879.5" r="17.4" fill="#74aea8"/><circle cx="2610.4" cy="1879.5" r="17.4" fill="#5b9bb5"/><circle cx="2666.6" cy="1879.5" r="17.4" fill="#5b9bb5"/><circle cx="2722.8" cy="1879.5" r="17.4" fill="#5b9bb5"/><circle cx="2160.8" cy="1935.7" r="17.4" fill="#b8dc96"/><circle cx="2217" cy="1935.7" r="17.4" fill="#b8dc96"/><circle cx="2273.2" cy="1935.7" r="17.4" fill="#f8f4bb"/><circle cx="2357.5" cy="1935.7" r="17.4" fill="#74aea8"/><circle cx="2413.7" cy="1935.7" r="17.4" fill="#93cd98"/><circle cx="2554.2" cy="1935.7" r="17.4" fill="#4a8fbd"/><circle cx="2610.4" cy="1935.7" r="17.4" fill="#3487c0"/><circle cx="2666.6" cy="1935.7" r="17.4" fill="#74aea8"/><circle cx="2722.8" cy="1935.7" r="17.4" fill="#74aea8"/></g>
<defs><linearGradient id="g4" x1="0" y1="1" x2="0" y2="0"><stop offset="0%" stop-color="#3288bd"/><stop offset="12.5%" stop-color="#66c2a5"/><stop offset="25%" stop-color="#abdda4"/><stop offset="37.5%" stop-color="#e6f598"/><stop offset="50%" stop-color="#ffffbf"/><stop offset="62.5%" stop-color="#fee08b"/><stop offset="75%" stop-color="#fdae61"/><stop offset="87.5%" stop-color="#f46d43"/><stop offset="100%" stop-color="#d53e4f"/></linearGradient></defs>
<rect x="2149" y="1780.4" width="27.8" height="70.3" fill="url(#g4)"/>
<text x="2178.6" y="1786.7" font-size="29.5" fill="#000">80</text>
<text x="2180.4" y="1861.1" font-size="29.5" fill="#000">0</text>
<rect x="2775.4" y="1295.5" width="633" height="686.5" fill="#bb2129"/>
<rect x="2787.4" y="1391" width="609" height="579" fill="#fff"/>
<text x="2814" y="1363.8" font-size="63" fill="#000" textLength="577" lengthAdjust="spacingAndGlyphs">Multiciliated (<tspan font-style="italic">tekt2.S</tspan>)</text>
<path d="M3304.4 1429.9V1486.1M3304.4 1486.1C3304.4 1514.2 3276.3 1514.2 3276.3 1542.3M3304.4 1486.1C3304.4 1514.2 3332.5 1514.2 3332.5 1542.3M3276.3 1542.3C3276.3 1570.4 3140.6 1570.4 3140.6 1598.5M3276.3 1542.3C3276.3 1570.4 3316.2 1570.4 3316.2 1598.5M3276.3 1542.3C3276.3 1570.4 3372.4 1570.4 3372.4 1598.5M3140.6 1598.5C3140.6 1626.6 3049.3 1626.6 3049.3 1654.7M3140.6 1598.5C3140.6 1626.6 3231.9 1626.6 3231.9 1654.7M3316.2 1598.5V1654.7M3372.4 1598.5V1654.7M3049.3 1654.7V1710.9M3231.9 1654.7V1710.9M3316.2 1654.7V1710.9M3372.4 1654.7V1710.9M3049.3 1710.9V1767.1M3231.9 1710.9V1767.1M3316.2 1710.9V1767.1M3372.4 1710.9V1767.1M3049.3 1767.1C3049.3 1795.2 2922.8 1795.2 2922.8 1823.3M3049.3 1767.1C3049.3 1795.2 3035.2 1795.2 3035.2 1823.3M3049.3 1767.1C3049.3 1795.2 3091.4 1795.2 3091.4 1823.3M3049.3 1767.1C3049.3 1795.2 3147.6 1795.2 3147.6 1823.3M3231.9 1767.1C3231.9 1795.2 3203.8 1795.2 3203.8 1823.3M3231.9 1767.1C3231.9 1795.2 3260 1795.2 3260 1823.3M3316.2 1767.1V1823.3M3372.4 1767.1V1823.3M2922.8 1823.3C2922.8 1851.4 2866.6 1851.4 2866.6 1879.5M2922.8 1823.3V1879.5M2922.8 1823.3C2922.8 1851.4 2979 1851.4 2979 1879.5M3035.2 1823.3V1879.5M3203.8 1823.3V1879.5M3260 1823.3V1879.5M3316.2 1823.3V1879.5M3372.4 1823.3V1879.5M2866.6 1879.5C2866.6 1907.6 2810.4 1907.6 2810.4 1935.7M2866.6 1879.5V1935.7M2866.6 1879.5C2866.6 1907.6 2922.8 1907.6 2922.8 1935.7M3035.2 1879.5C3035.2 1907.6 3007.1 1907.6 3007.1 1935.7M3035.2 1879.5C3035.2 1907.6 3063.3 1907.6 3063.3 1935.7M3203.8 1879.5V1935.7M3260 1879.5V1935.7M3316.2 1879.5V1935.7M3372.4 1879.5V1935.7" fill="none" stroke="#000" stroke-width="2.3"/>
<g><circle cx="3304.4" cy="1429.9" r="17.4" fill="#3487c0"/><circle cx="3304.4" cy="1486.1" r="17.4" fill="#3487c0"/><circle cx="3276.3" cy="1542.3" r="17.4" fill="#3487c0"/><circle cx="3332.5" cy="1542.3" r="17.4" fill="#3487c0"/><circle cx="3140.6" cy="1598.5" r="17.4" fill="#4a8fbd"/><circle cx="3316.2" cy="1598.5" r="17.4" fill="#b8dc96"/><circle cx="3372.4" cy="1598.5" r="17.4" fill="#4a8fbd"/><circle cx="3049.3" cy="1654.7" r="17.4" fill="#4a8fbd"/><circle cx="3231.9" cy="1654.7" r="17.4" fill="#3487c0"/><circle cx="3316.2" cy="1654.7" r="17.4" fill="#f8f4bb"/><circle cx="3372.4" cy="1654.7" r="17.4" fill="#3487c0"/><circle cx="3049.3" cy="1710.9" r="17.4" fill="#4a8fbd"/><circle cx="3231.9" cy="1710.9" r="17.4" fill="#4a8fbd"/><circle cx="3316.2" cy="1710.9" r="17.4" fill="#f8f4bb"/><circle cx="3372.4" cy="1710.9" r="17.4" fill="#4a8fbd"/><circle cx="3049.3" cy="1767.1" r="17.4" fill="#5b9bb5"/><circle cx="3231.9" cy="1767.1" r="17.4" fill="#4a8fbd"/><circle cx="3316.2" cy="1767.1" r="17.4" fill="#d53e4f"/><circle cx="3372.4" cy="1767.1" r="17.4" fill="#5b9bb5"/><circle cx="2922.8" cy="1823.3" r="17.4" fill="#3487c0"/><circle cx="3035.2" cy="1823.3" r="17.4" fill="#3487c0"/><circle cx="3091.4" cy="1823.3" r="17.4" fill="#3487c0"/><circle cx="3147.6" cy="1823.3" r="17.4" fill="#3487c0"/><circle cx="3203.8" cy="1823.3" r="17.4" fill="#3487c0"/><circle cx="3260" cy="1823.3" r="17.4" fill="#3487c0"/><circle cx="3316.2" cy="1823.3" r="17.4" fill="#f27f52"/><circle cx="3372.4" cy="1823.3" r="17.4" fill="#3487c0"/><circle cx="2866.6" cy="1879.5" r="17.4" fill="#4a8fbd"/><circle cx="2922.8" cy="1879.5" r="17.4" fill="#4a8fbd"/><circle cx="2979" cy="1879.5" r="17.4" fill="#4a8fbd"/><circle cx="3035.2" cy="1879.5" r="17.4" fill="#4a8fbd"/><circle cx="3203.8" cy="1879.5" r="17.4" fill="#4a8fbd"/><circle cx="3260" cy="1879.5" r="17.4" fill="#4a8fbd"/><circle cx="3316.2" cy="1879.5" r="17.4" fill="#f27f52"/><circle cx="3372.4" cy="1879.5" r="17.4" fill="#4a8fbd"/><circle cx="2810.4" cy="1935.7" r="17.4" fill="#4a8fbd"/><circle cx="2866.6" cy="1935.7" r="17.4" fill="#3487c0"/><circle cx="2922.8" cy="1935.7" r="17.4" fill="#4a8fbd"/><circle cx="3007.1" cy="1935.7" r="17.4" fill="#3487c0"/><circle cx="3063.3" cy="1935.7" r="17.4" fill="#3487c0"/><circle cx="3203.8" cy="1935.7" r="17.4" fill="#4a8fbd"/><circle cx="3260" cy="1935.7" r="17.4" fill="#3487c0"/><circle cx="3316.2" cy="1935.7" r="17.4" fill="#fddc88"/><circle cx="3372.4" cy="1935.7" r="17.4" fill="#4a8fbd"/></g>
<defs><linearGradient id="g5" x1="0" y1="1" x2="0" y2="0"><stop offset="0%" stop-color="#3288bd"/><stop offset="12.5%" stop-color="#66c2a5"/><stop offset="25%" stop-color="#abdda4"/><stop offset="37.5%" stop-color="#e6f598"/><stop offset="50%" stop-color="#ffffbf"/><stop offset="62.5%" stop-color="#fee08b"/><stop offset="75%" stop-color="#fdae61"/><stop offset="87.5%" stop-color="#f46d43"/><stop offset="100%" stop-color="#d53e4f"/></linearGradient></defs>
<rect x="2800.5" y="1781.5" width="27.5" height="74.2" fill="url(#g5)"/>
<text x="2832" y="1789.5" font-size="37" fill="#000">25</text>
<text x="2834.3" y="1868" font-size="37" fill="#000">0</text>
<text x="943.2" y="2066.6" font-size="54.8" font-style="italic" fill="#000" textLength="522.6" lengthAdjust="spacingAndGlyphs">gene15013.cystm1.S</text>
<path d="M151 2070H1516.7V2691H151ZM162.7 2081.7H831V2679.3H162.7ZM843 2081.7H1505V2679.3H843Z" fill="#8c89c0" fill-rule="evenodd"/>
<rect x="162.7" y="2081.7" width="668.3" height="597.6" fill="#fff"/>
<rect x="843" y="2081.7" width="662" height="597.6" fill="#fff"/>
<text x="265.3" y="2068" font-size="54.8" font-style="italic" fill="#000" textLength="399.7" lengthAdjust="spacingAndGlyphs">gene4819.ca2.L</text>
<path d="M729 2102.4V2163.9M729 2163.9C729 2194.7 698.2 2194.7 698.2 2225.4M729 2163.9C729 2194.7 759.7 2194.7 759.7 2225.4M698.2 2225.4C698.2 2256.2 549.7 2256.2 549.7 2286.9M698.2 2225.4C698.2 2256.2 741.9 2256.2 741.9 2286.9M698.2 2225.4C698.2 2256.2 803.4 2256.2 803.4 2286.9M549.7 2286.9C549.7 2317.7 449.8 2317.7 449.8 2348.4M549.7 2286.9C549.7 2317.7 649.6 2317.7 649.6 2348.4M741.9 2286.9V2348.4M803.4 2286.9V2348.4M449.8 2348.4V2409.9M649.6 2348.4V2409.9M741.9 2348.4V2409.9M803.4 2348.4V2409.9M449.8 2409.9V2471.4M649.6 2409.9V2471.4M741.9 2409.9V2471.4M803.4 2409.9V2471.4M449.8 2471.4C449.8 2502.2 311.4 2502.2 311.4 2532.9M449.8 2471.4C449.8 2502.2 434.4 2502.2 434.4 2532.9M449.8 2471.4C449.8 2502.2 495.9 2502.2 495.9 2532.9M449.8 2471.4C449.8 2502.2 557.4 2502.2 557.4 2532.9M649.6 2471.4C649.6 2502.2 618.9 2502.2 618.9 2532.9M649.6 2471.4C649.6 2502.2 680.4 2502.2 680.4 2532.9M741.9 2471.4V2532.9M803.4 2471.4V2532.9M311.4 2532.9C311.4 2563.7 249.9 2563.7 249.9 2594.4M311.4 2532.9V2594.4M311.4 2532.9C311.4 2563.7 372.9 2563.7 372.9 2594.4M434.4 2532.9V2594.4M618.9 2532.9V2594.4M680.4 2532.9V2594.4M741.9 2532.9V2594.4M803.4 2532.9V2594.4M249.9 2594.4C249.9 2625.2 188.4 2625.2 188.4 2655.9M249.9 2594.4V2655.9M249.9 2594.4C249.9 2625.2 311.4 2625.2 311.4 2655.9M434.4 2594.4C434.4 2625.2 403.6 2625.2 403.6 2655.9M434.4 2594.4C434.4 2625.2 465.1 2625.2 465.1 2655.9M618.9 2594.4V2655.9M680.4 2594.4V2655.9M741.9 2594.4V2655.9M803.4 2594.4V2655.9" fill="none" stroke="#000" stroke-width="2"/>
<g><circle cx="729" cy="2102.4" r="19" fill="#3487c0"/><circle cx="729" cy="2163.9" r="19" fill="#3487c0"/><circle cx="698.2" cy="2225.4" r="19" fill="#3487c0"/><circle cx="759.7" cy="2225.4" r="19" fill="#3487c0"/><circle cx="549.7" cy="2286.9" r="19" fill="#4a8fbd"/><circle cx="741.9" cy="2286.9" r="19" fill="#4a8fbd"/><circle cx="803.4" cy="2286.9" r="19" fill="#3487c0"/><circle cx="449.8" cy="2348.4" r="19" fill="#3487c0"/><circle cx="649.6" cy="2348.4" r="19" fill="#b8dc96"/><circle cx="741.9" cy="2348.4" r="19" fill="#3487c0"/><circle cx="803.4" cy="2348.4" r="19" fill="#3487c0"/><circle cx="449.8" cy="2409.9" r="19" fill="#3487c0"/><circle cx="649.6" cy="2409.9" r="19" fill="#e2ec9a"/><circle cx="741.9" cy="2409.9" r="19" fill="#4a8fbd"/><circle cx="803.4" cy="2409.9" r="19" fill="#3487c0"/><circle cx="449.8" cy="2471.4" r="19" fill="#3487c0"/><circle cx="649.6" cy="2471.4" r="19" fill="#fddc88"/><circle cx="741.9" cy="2471.4" r="19" fill="#3487c0"/><circle cx="803.4" cy="2471.4" r="19" fill="#4a8fbd"/><circle cx="311.4" cy="2532.9" r="19" fill="#3487c0"/><circle cx="434.4" cy="2532.9" r="19" fill="#3487c0"/><circle cx="495.9" cy="2532.9" r="19" fill="#3487c0"/><circle cx="557.4" cy="2532.9" r="19" fill="#3487c0"/><circle cx="618.9" cy="2532.9" r="19" fill="#f8f4bb"/><circle cx="680.4" cy="2532.9" r="19" fill="#fcaf68"/><circle cx="741.9" cy="2532.9" r="19" fill="#5b9bb5"/><circle cx="803.4" cy="2532.9" r="19" fill="#3487c0"/><circle cx="249.9" cy="2594.4" r="19" fill="#4a8fbd"/><circle cx="311.4" cy="2594.4" r="19" fill="#4a8fbd"/><circle cx="372.9" cy="2594.4" r="19" fill="#3487c0"/><circle cx="434.4" cy="2594.4" r="19" fill="#4a8fbd"/><circle cx="618.9" cy="2594.4" r="19" fill="#fddc88"/><circle cx="680.4" cy="2594.4" r="19" fill="#fddc88"/><circle cx="741.9" cy="2594.4" r="19" fill="#5b9bb5"/><circle cx="803.4" cy="2594.4" r="19" fill="#4a8fbd"/><circle cx="188.4" cy="2655.9" r="19" fill="#4a8fbd"/><circle cx="249.9" cy="2655.9" r="19" fill="#4a8fbd"/><circle cx="311.4" cy="2655.9" r="19" fill="#4a8fbd"/><circle cx="403.6" cy="2655.9" r="19" fill="#4a8fbd"/><circle cx="465.1" cy="2655.9" r="19" fill="#4a8fbd"/><circle cx="618.9" cy="2655.9" r="19" fill="#fddc88"/><circle cx="680.4" cy="2655.9" r="19" fill="#d53e4f"/><circle cx="741.9" cy="2655.9" r="19" fill="#5b9bb5"/><circle cx="803.4" cy="2655.9" r="19" fill="#4a8fbd"/></g>
<defs><linearGradient id="g6" x1="0" y1="1" x2="0" y2="0"><stop offset="0%" stop-color="#3288bd"/><stop offset="12.5%" stop-color="#66c2a5"/><stop offset="25%" stop-color="#abdda4"/><stop offset="37.5%" stop-color="#e6f598"/><stop offset="50%" stop-color="#ffffbf"/><stop offset="62.5%" stop-color="#fee08b"/><stop offset="75%" stop-color="#fdae61"/><stop offset="87.5%" stop-color="#f46d43"/><stop offset="100%" stop-color="#d53e4f"/></linearGradient></defs>
<rect x="173.3" y="2457" width="35.4" height="86.6" fill="url(#g6)"/>
<text x="213.2" y="2465.5" font-size="37" fill="#000">50</text>
<text x="215" y="2557.4" font-size="37" fill="#000">0</text>
<path d="M1405.4 2102.4V2163.9M1405.4 2163.9C1405.4 2194.7 1374.6 2194.7 1374.6 2225.4M1405.4 2163.9C1405.4 2194.7 1436.1 2194.7 1436.1 2225.4M1374.6 2225.4C1374.6 2256.2 1226.1 2256.2 1226.1 2286.9M1374.6 2225.4C1374.6 2256.2 1418.3 2256.2 1418.3 2286.9M1374.6 2225.4C1374.6 2256.2 1479.8 2256.2 1479.8 2286.9M1226.1 2286.9C1226.1 2317.7 1126.2 2317.7 1126.2 2348.4M1226.1 2286.9C1226.1 2317.7 1326 2317.7 1326 2348.4M1418.3 2286.9V2348.4M1479.8 2286.9V2348.4M1126.2 2348.4V2409.9M1326 2348.4V2409.9M1418.3 2348.4V2409.9M1479.8 2348.4V2409.9M1126.2 2409.9V2471.4M1326 2409.9V2471.4M1418.3 2409.9V2471.4M1479.8 2409.9V2471.4M1126.2 2471.4C1126.2 2502.2 987.8 2502.2 987.8 2532.9M1126.2 2471.4C1126.2 2502.2 1110.8 2502.2 1110.8 2532.9M1126.2 2471.4C1126.2 2502.2 1172.3 2502.2 1172.3 2532.9M1126.2 2471.4C1126.2 2502.2 1233.8 2502.2 1233.8 2532.9M1326 2471.4C1326 2502.2 1295.3 2502.2 1295.3 2532.9M1326 2471.4C1326 2502.2 1356.8 2502.2 1356.8 2532.9M1418.3 2471.4V2532.9M1479.8 2471.4V2532.9M987.8 2532.9C987.8 2563.7 926.3 2563.7 926.3 2594.4M987.8 2532.9V2594.4M987.8 2532.9C987.8 2563.7 1049.3 2563.7 1049.3 2594.4M1110.8 2532.9V2594.4M1295.3 2532.9V2594.4M1356.8 2532.9V2594.4M1418.3 2532.9V2594.4M1479.8 2532.9V2594.4M926.3 2594.4C926.3 2625.2 864.8 2625.2 864.8 2655.9M926.3 2594.4V2655.9M926.3 2594.4C926.3 2625.2 987.8 2625.2 987.8 2655.9M1110.8 2594.4C1110.8 2625.2 1080 2625.2 1080 2655.9M1110.8 2594.4C1110.8 2625.2 1141.5 2625.2 1141.5 2655.9M1295.3 2594.4V2655.9M1356.8 2594.4V2655.9M1418.3 2594.4V2655.9M1479.8 2594.4V2655.9" fill="none" stroke="#000" stroke-width="2"/>
<g><circle cx="1405.4" cy="2102.4" r="19" fill="#4a8fbd"/><circle cx="1405.4" cy="2163.9" r="19" fill="#4a8fbd"/><circle cx="1374.6" cy="2225.4" r="19" fill="#3487c0"/><circle cx="1436.1" cy="2225.4" r="19" fill="#4a8fbd"/><circle cx="1226.1" cy="2286.9" r="19" fill="#5b9bb5"/><circle cx="1418.3" cy="2286.9" r="19" fill="#4a8fbd"/><circle cx="1479.8" cy="2286.9" r="19" fill="#3487c0"/><circle cx="1126.2" cy="2348.4" r="19" fill="#5b9bb5"/><circle cx="1326" cy="2348.4" r="19" fill="#f27f52"/><circle cx="1418.3" cy="2348.4" r="19" fill="#5b9bb5"/><circle cx="1479.8" cy="2348.4" r="19" fill="#3487c0"/><circle cx="1126.2" cy="2409.9" r="19" fill="#5b9bb5"/><circle cx="1326" cy="2409.9" r="19" fill="#fcaf68"/><circle cx="1418.3" cy="2409.9" r="19" fill="#5b9bb5"/><circle cx="1479.8" cy="2409.9" r="19" fill="#4a8fbd"/><circle cx="1126.2" cy="2471.4" r="19" fill="#5b9bb5"/><circle cx="1326" cy="2471.4" r="19" fill="#d53e4f"/><circle cx="1418.3" cy="2471.4" r="19" fill="#3487c0"/><circle cx="1479.8" cy="2471.4" r="19" fill="#74aea8"/><circle cx="987.8" cy="2532.9" r="19" fill="#4a8fbd"/><circle cx="1110.8" cy="2532.9" r="19" fill="#5b9bb5"/><circle cx="1172.3" cy="2532.9" r="19" fill="#5b9bb5"/><circle cx="1233.8" cy="2532.9" r="19" fill="#3487c0"/><circle cx="1295.3" cy="2532.9" r="19" fill="#e2ec9a"/><circle cx="1356.8" cy="2532.9" r="19" fill="#f8f4bb"/><circle cx="1418.3" cy="2532.9" r="19" fill="#3487c0"/><circle cx="1479.8" cy="2532.9" r="19" fill="#3487c0"/><circle cx="926.3" cy="2594.4" r="19" fill="#5b9bb5"/><circle cx="987.8" cy="2594.4" r="19" fill="#74aea8"/><circle cx="1049.3" cy="2594.4" r="19" fill="#74aea8"/><circle cx="1110.8" cy="2594.4" r="19" fill="#4a8fbd"/><circle cx="1295.3" cy="2594.4" r="19" fill="#fddc88"/><circle cx="1356.8" cy="2594.4" r="19" fill="#f27f52"/><circle cx="1418.3" cy="2594.4" r="19" fill="#4a8fbd"/><circle cx="1479.8" cy="2594.4" r="19" fill="#4a8fbd"/><circle cx="864.8" cy="2655.9" r="19" fill="#5b9bb5"/><circle cx="926.3" cy="2655.9" r="19" fill="#5b9bb5"/><circle cx="987.8" cy="2655.9" r="19" fill="#4a8fbd"/><circle cx="1080" cy="2655.9" r="19" fill="#5b9bb5"/><circle cx="1141.5" cy="2655.9" r="19" fill="#4a8fbd"/><circle cx="1295.3" cy="2655.9" r="19" fill="#f8f4bb"/><circle cx="1356.8" cy="2655.9" r="19" fill="#fddc88"/><circle cx="1418.3" cy="2655.9" r="19" fill="#4a8fbd"/><circle cx="1479.8" cy="2655.9" r="19" fill="#4a8fbd"/></g>
<defs><linearGradient id="g7" x1="0" y1="1" x2="0" y2="0"><stop offset="0%" stop-color="#3288bd"/><stop offset="12.5%" stop-color="#66c2a5"/><stop offset="25%" stop-color="#abdda4"/><stop offset="37.5%" stop-color="#e6f598"/><stop offset="50%" stop-color="#ffffbf"/><stop offset="62.5%" stop-color="#fee08b"/><stop offset="75%" stop-color="#fdae61"/><stop offset="87.5%" stop-color="#f46d43"/><stop offset="100%" stop-color="#d53e4f"/></linearGradient></defs>
<rect x="859" y="2457" width="36" height="87.4" fill="url(#g7)"/>
<text x="899.5" y="2465.5" font-size="37" fill="#000">20</text>
<text x="901.3" y="2558.2" font-size="37" fill="#000">0</text>
<path d="M152 2785H1522V3405H152ZM163.7 2796.7H833.3V3393.3H163.7ZM845 2796.7H1510.3V3393.3H845Z" fill="#2170b5" fill-rule="evenodd"/>
<rect x="163.7" y="2796.7" width="669.6" height="596.6" fill="#fff"/>
<rect x="845" y="2796.7" width="665.3" height="596.6" fill="#fff"/>
<text x="294.5" y="2782" font-size="54.8" font-style="italic" fill="#000" textLength="463.5" lengthAdjust="spacingAndGlyphs">gene37785.ano1.L</text>
<path d="M729.1 2818.7V2880.2M729.1 2880.2C729.1 2910.9 698.3 2910.9 698.3 2941.7M729.1 2880.2C729.1 2910.9 759.8 2910.9 759.8 2941.7M698.3 2941.7C698.3 2972.4 549.8 2972.4 549.8 3003.2M698.3 2941.7C698.3 2972.4 742 2972.4 742 3003.2M698.3 2941.7C698.3 2972.4 803.5 2972.4 803.5 3003.2M549.8 3003.2C549.8 3033.9 449.9 3033.9 449.9 3064.7M549.8 3003.2C549.8 3033.9 649.8 3033.9 649.8 3064.7M742 3003.2V3064.7M803.5 3003.2V3064.7M449.9 3064.7V3126.2M649.8 3064.7V3126.2M742 3064.7V3126.2M803.5 3064.7V3126.2M449.9 3126.2V3187.7M649.8 3126.2V3187.7M742 3126.2V3187.7M803.5 3126.2V3187.7M449.9 3187.7C449.9 3218.4 311.5 3218.4 311.5 3249.2M449.9 3187.7C449.9 3218.4 434.5 3218.4 434.5 3249.2M449.9 3187.7C449.9 3218.4 496 3218.4 496 3249.2M449.9 3187.7C449.9 3218.4 557.5 3218.4 557.5 3249.2M649.8 3187.7C649.8 3218.4 619 3218.4 619 3249.2M649.8 3187.7C649.8 3218.4 680.5 3218.4 680.5 3249.2M742 3187.7V3249.2M803.5 3187.7V3249.2M311.5 3249.2C311.5 3279.9 250 3279.9 250 3310.7M311.5 3249.2V3310.7M311.5 3249.2C311.5 3279.9 373 3279.9 373 3310.7M434.5 3249.2V3310.7M619 3249.2V3310.7M680.5 3249.2V3310.7M742 3249.2V3310.7M803.5 3249.2V3310.7M250 3310.7C250 3341.4 188.5 3341.4 188.5 3372.2M250 3310.7V3372.2M250 3310.7C250 3341.4 311.5 3341.4 311.5 3372.2M434.5 3310.7C434.5 3341.4 403.8 3341.4 403.8 3372.2M434.5 3310.7C434.5 3341.4 465.2 3341.4 465.2 3372.2M619 3310.7V3372.2M680.5 3310.7V3372.2M742 3310.7V3372.2M803.5 3310.7V3372.2" fill="none" stroke="#000" stroke-width="2"/>
<g><circle cx="729.1" cy="2818.7" r="19" fill="#4a8fbd"/><circle cx="729.1" cy="2880.2" r="19" fill="#5b9bb5"/><circle cx="698.3" cy="2941.7" r="19" fill="#5b9bb5"/><circle cx="759.8" cy="2941.7" r="19" fill="#4a8fbd"/><circle cx="549.8" cy="3003.2" r="19" fill="#3487c0"/><circle cx="742" cy="3003.2" r="19" fill="#3487c0"/><circle cx="803.5" cy="3003.2" r="19" fill="#3487c0"/><circle cx="449.9" cy="3064.7" r="19" fill="#3487c0"/><circle cx="649.8" cy="3064.7" r="19" fill="#3487c0"/><circle cx="742" cy="3064.7" r="19" fill="#3487c0"/><circle cx="803.5" cy="3064.7" r="19" fill="#3487c0"/><circle cx="449.9" cy="3126.2" r="19" fill="#4a8fbd"/><circle cx="649.8" cy="3126.2" r="19" fill="#3487c0"/><circle cx="742" cy="3126.2" r="19" fill="#3487c0"/><circle cx="803.5" cy="3126.2" r="19" fill="#3487c0"/><circle cx="449.9" cy="3187.7" r="19" fill="#3487c0"/><circle cx="649.8" cy="3187.7" r="19" fill="#3487c0"/><circle cx="742" cy="3187.7" r="19" fill="#3487c0"/><circle cx="803.5" cy="3187.7" r="19" fill="#3487c0"/><circle cx="311.5" cy="3249.2" r="19" fill="#3487c0"/><circle cx="434.5" cy="3249.2" r="19" fill="#f8f4bb"/><circle cx="496" cy="3249.2" r="19" fill="#3487c0"/><circle cx="557.5" cy="3249.2" r="19" fill="#3487c0"/><circle cx="619" cy="3249.2" r="19" fill="#3487c0"/><circle cx="680.5" cy="3249.2" r="19" fill="#3487c0"/><circle cx="742" cy="3249.2" r="19" fill="#3487c0"/><circle cx="803.5" cy="3249.2" r="19" fill="#3487c0"/><circle cx="250" cy="3310.7" r="19" fill="#3487c0"/><circle cx="311.5" cy="3310.7" r="19" fill="#3487c0"/><circle cx="373" cy="3310.7" r="19" fill="#3487c0"/><circle cx="434.5" cy="3310.7" r="19" fill="#fddc88"/><circle cx="619" cy="3310.7" r="19" fill="#4a8fbd"/><circle cx="680.5" cy="3310.7" r="19" fill="#4a8fbd"/><circle cx="742" cy="3310.7" r="19" fill="#3487c0"/><circle cx="803.5" cy="3310.7" r="19" fill="#4a8fbd"/><circle cx="188.5" cy="3372.2" r="19" fill="#4a8fbd"/><circle cx="250" cy="3372.2" r="19" fill="#3487c0"/><circle cx="311.5" cy="3372.2" r="19" fill="#4a8fbd"/><circle cx="403.8" cy="3372.2" r="19" fill="#d53e4f"/><circle cx="465.2" cy="3372.2" r="19" fill="#3487c0"/><circle cx="619" cy="3372.2" r="19" fill="#4a8fbd"/><circle cx="680.5" cy="3372.2" r="19" fill="#4a8fbd"/><circle cx="742" cy="3372.2" r="19" fill="#4a8fbd"/><circle cx="803.5" cy="3372.2" r="19" fill="#4a8fbd"/></g>
<defs><linearGradient id="g8" x1="0" y1="1" x2="0" y2="0"><stop offset="0%" stop-color="#3288bd"/><stop offset="12.5%" stop-color="#66c2a5"/><stop offset="25%" stop-color="#abdda4"/><stop offset="37.5%" stop-color="#e6f598"/><stop offset="50%" stop-color="#ffffbf"/><stop offset="62.5%" stop-color="#fee08b"/><stop offset="75%" stop-color="#fdae61"/><stop offset="87.5%" stop-color="#f46d43"/><stop offset="100%" stop-color="#d53e4f"/></linearGradient></defs>
<rect x="179" y="3166" width="34.7" height="87.6" fill="url(#g8)"/>
<text x="218.2" y="3174.5" font-size="37" fill="#000">12</text>
<text x="220" y="3267.4" font-size="37" fill="#000">0</text>
<text x="1034.5" y="2782" font-size="54.8" font-style="italic" fill="#000" textLength="437.5" lengthAdjust="spacingAndGlyphs">gene646.anxa2.S</text>
<path d="M1411.2 2818.7V2880.2M1411.2 2880.2C1411.2 2910.9 1380.4 2910.9 1380.4 2941.7M1411.2 2880.2C1411.2 2910.9 1441.9 2910.9 1441.9 2941.7M1380.4 2941.7C1380.4 2972.4 1231.9 2972.4 1231.9 3003.2M1380.4 2941.7C1380.4 2972.4 1424.1 2972.4 1424.1 3003.2M1380.4 2941.7C1380.4 2972.4 1485.6 2972.4 1485.6 3003.2M1231.9 3003.2C1231.9 3033.9 1132 3033.9 1132 3064.7M1231.9 3003.2C1231.9 3033.9 1331.8 3033.9 1331.8 3064.7M1424.1 3003.2V3064.7M1485.6 3003.2V3064.7M1132 3064.7V3126.2M1331.8 3064.7V3126.2M1424.1 3064.7V3126.2M1485.6 3064.7V3126.2M1132 3126.2V3187.7M1331.8 3126.2V3187.7M1424.1 3126.2V3187.7M1485.6 3126.2V3187.7M1132 3187.7C1132 3218.4 993.6 3218.4 993.6 3249.2M1132 3187.7C1132 3218.4 1116.6 3218.4 1116.6 3249.2M1132 3187.7C1132 3218.4 1178.1 3218.4 1178.1 3249.2M1132 3187.7C1132 3218.4 1239.6 3218.4 1239.6 3249.2M1331.8 3187.7C1331.8 3218.4 1301.1 3218.4 1301.1 3249.2M1331.8 3187.7C1331.8 3218.4 1362.6 3218.4 1362.6 3249.2M1424.1 3187.7V3249.2M1485.6 3187.7V3249.2M993.6 3249.2C993.6 3279.9 932.1 3279.9 932.1 3310.7M993.6 3249.2V3310.7M993.6 3249.2C993.6 3279.9 1055.1 3279.9 1055.1 3310.7M1116.6 3249.2V3310.7M1301.1 3249.2V3310.7M1362.6 3249.2V3310.7M1424.1 3249.2V3310.7M1485.6 3249.2V3310.7M932.1 3310.7C932.1 3341.4 870.6 3341.4 870.6 3372.2M932.1 3310.7V3372.2M932.1 3310.7C932.1 3341.4 993.6 3341.4 993.6 3372.2M1116.6 3310.7C1116.6 3341.4 1085.8 3341.4 1085.8 3372.2M1116.6 3310.7C1116.6 3341.4 1147.3 3341.4 1147.3 3372.2M1301.1 3310.7V3372.2M1362.6 3310.7V3372.2M1424.1 3310.7V3372.2M1485.6 3310.7V3372.2" fill="none" stroke="#000" stroke-width="2"/>
<g><circle cx="1411.2" cy="2818.7" r="19" fill="#4a8fbd"/><circle cx="1411.2" cy="2880.2" r="19" fill="#3487c0"/><circle cx="1380.4" cy="2941.7" r="19" fill="#3487c0"/><circle cx="1441.9" cy="2941.7" r="19" fill="#3487c0"/><circle cx="1231.9" cy="3003.2" r="19" fill="#74aea8"/><circle cx="1424.1" cy="3003.2" r="19" fill="#4a8fbd"/><circle cx="1485.6" cy="3003.2" r="19" fill="#74aea8"/><circle cx="1132" cy="3064.7" r="19" fill="#93cd98"/><circle cx="1331.8" cy="3064.7" r="19" fill="#74aea8"/><circle cx="1424.1" cy="3064.7" r="19" fill="#4a8fbd"/><circle cx="1485.6" cy="3064.7" r="19" fill="#b8dc96"/><circle cx="1132" cy="3126.2" r="19" fill="#e2ec9a"/><circle cx="1331.8" cy="3126.2" r="19" fill="#93cd98"/><circle cx="1424.1" cy="3126.2" r="19" fill="#74aea8"/><circle cx="1485.6" cy="3126.2" r="19" fill="#b8dc96"/><circle cx="1132" cy="3187.7" r="19" fill="#fddc88"/><circle cx="1331.8" cy="3187.7" r="19" fill="#74aea8"/><circle cx="1424.1" cy="3187.7" r="19" fill="#74aea8"/><circle cx="1485.6" cy="3187.7" r="19" fill="#e2ec9a"/><circle cx="993.6" cy="3249.2" r="19" fill="#fddc88"/><circle cx="1116.6" cy="3249.2" r="19" fill="#74aea8"/><circle cx="1178.1" cy="3249.2" r="19" fill="#d53e4f"/><circle cx="1239.6" cy="3249.2" r="19" fill="#4a8fbd"/><circle cx="1301.1" cy="3249.2" r="19" fill="#74aea8"/><circle cx="1362.6" cy="3249.2" r="19" fill="#5b9bb5"/><circle cx="1424.1" cy="3249.2" r="19" fill="#5b9bb5"/><circle cx="1485.6" cy="3249.2" r="19" fill="#93cd98"/><circle cx="932.1" cy="3310.7" r="19" fill="#f27f52"/><circle cx="993.6" cy="3310.7" r="19" fill="#fcaf68"/><circle cx="1055.1" cy="3310.7" r="19" fill="#f8f4bb"/><circle cx="1116.6" cy="3310.7" r="19" fill="#93cd98"/><circle cx="1301.1" cy="3310.7" r="19" fill="#93cd98"/><circle cx="1362.6" cy="3310.7" r="19" fill="#74aea8"/><circle cx="1424.1" cy="3310.7" r="19" fill="#93cd98"/><circle cx="1485.6" cy="3310.7" r="19" fill="#b8dc96"/><circle cx="870.6" cy="3372.2" r="19" fill="#fcaf68"/><circle cx="932.1" cy="3372.2" r="19" fill="#fcaf68"/><circle cx="993.6" cy="3372.2" r="19" fill="#fcaf68"/><circle cx="1085.8" cy="3372.2" r="19" fill="#93cd98"/><circle cx="1147.3" cy="3372.2" r="19" fill="#5b9bb5"/><circle cx="1301.1" cy="3372.2" r="19" fill="#74aea8"/><circle cx="1362.6" cy="3372.2" r="19" fill="#4a8fbd"/><circle cx="1424.1" cy="3372.2" r="19" fill="#74aea8"/><circle cx="1485.6" cy="3372.2" r="19" fill="#93cd98"/></g>
<defs><linearGradient id="g9" x1="0" y1="1" x2="0" y2="0"><stop offset="0%" stop-color="#3288bd"/><stop offset="12.5%" stop-color="#66c2a5"/><stop offset="25%" stop-color="#abdda4"/><stop offset="37.5%" stop-color="#e6f598"/><stop offset="50%" stop-color="#ffffbf"/><stop offset="62.5%" stop-color="#fee08b"/><stop offset="75%" stop-color="#fdae61"/><stop offset="87.5%" stop-color="#f46d43"/><stop offset="100%" stop-color="#d53e4f"/></linearGradient></defs>
<rect x="865.4" y="3166" width="35.3" height="87.6" fill="url(#g9)"/>
<text x="905.2" y="3174.5" font-size="37" fill="#000">30</text>
<text x="907" y="3267.4" font-size="37" fill="#000">0</text>
<path d="M2045 2070H3412.6V2690H2045ZM2056.7 2081.7H2727.6V2678.3H2056.7ZM2740 2081.7H3400.9V2678.3H2740Z" fill="#fdcb6e" fill-rule="evenodd"/>
<rect x="2056.7" y="2081.7" width="670.9" height="596.6" fill="#fff"/>
<rect x="2740" y="2081.7" width="660.9" height="596.6" fill="#fff"/>
<text x="2166.5" y="2066.6" font-size="54.8" font-style="italic" fill="#000" textLength="447.5" lengthAdjust="spacingAndGlyphs">gene721.atp12a.L</text>
<path d="M2622.1 2102.4V2163.9M2622.1 2163.9C2622.1 2194.7 2591.3 2194.7 2591.3 2225.4M2622.1 2163.9C2622.1 2194.7 2652.8 2194.7 2652.8 2225.4M2591.3 2225.4C2591.3 2256.2 2442.8 2256.2 2442.8 2286.9M2591.3 2225.4C2591.3 2256.2 2635 2256.2 2635 2286.9M2591.3 2225.4C2591.3 2256.2 2696.5 2256.2 2696.5 2286.9M2442.8 2286.9C2442.8 2317.7 2342.9 2317.7 2342.9 2348.4M2442.8 2286.9C2442.8 2317.7 2542.8 2317.7 2542.8 2348.4M2635 2286.9V2348.4M2696.5 2286.9V2348.4M2342.9 2348.4V2409.9M2542.8 2348.4V2409.9M2635 2348.4V2409.9M2696.5 2348.4V2409.9M2342.9 2409.9V2471.4M2542.8 2409.9V2471.4M2635 2409.9V2471.4M2696.5 2409.9V2471.4M2342.9 2471.4C2342.9 2502.2 2204.5 2502.2 2204.5 2532.9M2342.9 2471.4C2342.9 2502.2 2327.5 2502.2 2327.5 2532.9M2342.9 2471.4C2342.9 2502.2 2389 2502.2 2389 2532.9M2342.9 2471.4C2342.9 2502.2 2450.5 2502.2 2450.5 2532.9M2542.8 2471.4C2542.8 2502.2 2512 2502.2 2512 2532.9M2542.8 2471.4C2542.8 2502.2 2573.5 2502.2 2573.5 2532.9M2635 2471.4V2532.9M2696.5 2471.4V2532.9M2204.5 2532.9C2204.5 2563.7 2143 2563.7 2143 2594.4M2204.5 2532.9V2594.4M2204.5 2532.9C2204.5 2563.7 2266 2563.7 2266 2594.4M2327.5 2532.9V2594.4M2512 2532.9V2594.4M2573.5 2532.9V2594.4M2635 2532.9V2594.4M2696.5 2532.9V2594.4M2143 2594.4C2143 2625.2 2081.5 2625.2 2081.5 2655.9M2143 2594.4V2655.9M2143 2594.4C2143 2625.2 2204.5 2625.2 2204.5 2655.9M2327.5 2594.4C2327.5 2625.2 2296.8 2625.2 2296.8 2655.9M2327.5 2594.4C2327.5 2625.2 2358.2 2625.2 2358.2 2655.9M2512 2594.4V2655.9M2573.5 2594.4V2655.9M2635 2594.4V2655.9M2696.5 2594.4V2655.9" fill="none" stroke="#000" stroke-width="2"/>
<g><circle cx="2622.1" cy="2102.4" r="19" fill="#3487c0"/><circle cx="2622.1" cy="2163.9" r="19" fill="#3487c0"/><circle cx="2591.3" cy="2225.4" r="19" fill="#3487c0"/><circle cx="2652.8" cy="2225.4" r="19" fill="#3487c0"/><circle cx="2442.8" cy="2286.9" r="19" fill="#4a8fbd"/><circle cx="2635" cy="2286.9" r="19" fill="#3487c0"/><circle cx="2696.5" cy="2286.9" r="19" fill="#5b9bb5"/><circle cx="2342.9" cy="2348.4" r="19" fill="#3487c0"/><circle cx="2542.8" cy="2348.4" r="19" fill="#3487c0"/><circle cx="2635" cy="2348.4" r="19" fill="#3487c0"/><circle cx="2696.5" cy="2348.4" r="19" fill="#74aea8"/><circle cx="2342.9" cy="2409.9" r="19" fill="#5b9bb5"/><circle cx="2542.8" cy="2409.9" r="19" fill="#4a8fbd"/><circle cx="2635" cy="2409.9" r="19" fill="#5b9bb5"/><circle cx="2696.5" cy="2409.9" r="19" fill="#f8f4bb"/><circle cx="2342.9" cy="2471.4" r="19" fill="#4a8fbd"/><circle cx="2542.8" cy="2471.4" r="19" fill="#4a8fbd"/><circle cx="2635" cy="2471.4" r="19" fill="#4a8fbd"/><circle cx="2696.5" cy="2471.4" r="19" fill="#b8dc96"/><circle cx="2204.5" cy="2532.9" r="19" fill="#4a8fbd"/><circle cx="2327.5" cy="2532.9" r="19" fill="#3487c0"/><circle cx="2389" cy="2532.9" r="19" fill="#3487c0"/><circle cx="2450.5" cy="2532.9" r="19" fill="#3487c0"/><circle cx="2512" cy="2532.9" r="19" fill="#3487c0"/><circle cx="2573.5" cy="2532.9" r="19" fill="#5b9bb5"/><circle cx="2635" cy="2532.9" r="19" fill="#5b9bb5"/><circle cx="2696.5" cy="2532.9" r="19" fill="#d53e4f"/><circle cx="2143" cy="2594.4" r="19" fill="#5b9bb5"/><circle cx="2204.5" cy="2594.4" r="19" fill="#5b9bb5"/><circle cx="2266" cy="2594.4" r="19" fill="#5b9bb5"/><circle cx="2327.5" cy="2594.4" r="19" fill="#5b9bb5"/><circle cx="2512" cy="2594.4" r="19" fill="#5b9bb5"/><circle cx="2573.5" cy="2594.4" r="19" fill="#93cd98"/><circle cx="2635" cy="2594.4" r="19" fill="#5b9bb5"/><circle cx="2696.5" cy="2594.4" r="19" fill="#fcaf68"/><circle cx="2081.5" cy="2655.9" r="19" fill="#4a8fbd"/><circle cx="2143" cy="2655.9" r="19" fill="#4a8fbd"/><circle cx="2204.5" cy="2655.9" r="19" fill="#5b9bb5"/><circle cx="2296.8" cy="2655.9" r="19" fill="#5b9bb5"/><circle cx="2358.2" cy="2655.9" r="19" fill="#5b9bb5"/><circle cx="2512" cy="2655.9" r="19" fill="#4a8fbd"/><circle cx="2573.5" cy="2655.9" r="19" fill="#5b9bb5"/><circle cx="2635" cy="2655.9" r="19" fill="#93cd98"/><circle cx="2696.5" cy="2655.9" r="19" fill="#f27f52"/></g>
<defs><linearGradient id="g10" x1="0" y1="1" x2="0" y2="0"><stop offset="0%" stop-color="#3288bd"/><stop offset="12.5%" stop-color="#66c2a5"/><stop offset="25%" stop-color="#abdda4"/><stop offset="37.5%" stop-color="#e6f598"/><stop offset="50%" stop-color="#ffffbf"/><stop offset="62.5%" stop-color="#fee08b"/><stop offset="75%" stop-color="#fdae61"/><stop offset="87.5%" stop-color="#f46d43"/><stop offset="100%" stop-color="#d53e4f"/></linearGradient></defs>
<rect x="2068.3" y="2450.8" width="34.1" height="87.2" fill="url(#g10)"/>
<text x="2106.9" y="2459.3" font-size="37" fill="#000">15</text>
<text x="2108.7" y="2551.8" font-size="37" fill="#000">0</text>
<text x="2893.1" y="2066" font-size="54.8" font-style="italic" fill="#000" textLength="449.9" lengthAdjust="spacingAndGlyphs">gene42537.otog.L</text>
<path d="M3301.9 2102.4V2163.9M3301.9 2163.9C3301.9 2194.7 3271.1 2194.7 3271.1 2225.4M3301.9 2163.9C3301.9 2194.7 3332.6 2194.7 3332.6 2225.4M3271.1 2225.4C3271.1 2256.2 3122.6 2256.2 3122.6 2286.9M3271.1 2225.4C3271.1 2256.2 3314.8 2256.2 3314.8 2286.9M3271.1 2225.4C3271.1 2256.2 3376.3 2256.2 3376.3 2286.9M3122.6 2286.9C3122.6 2317.7 3022.7 2317.7 3022.7 2348.4M3122.6 2286.9C3122.6 2317.7 3222.6 2317.7 3222.6 2348.4M3314.8 2286.9V2348.4M3376.3 2286.9V2348.4M3022.7 2348.4V2409.9M3222.6 2348.4V2409.9M3314.8 2348.4V2409.9M3376.3 2348.4V2409.9M3022.7 2409.9V2471.4M3222.6 2409.9V2471.4M3314.8 2409.9V2471.4M3376.3 2409.9V2471.4M3022.7 2471.4C3022.7 2502.2 2884.3 2502.2 2884.3 2532.9M3022.7 2471.4C3022.7 2502.2 3007.3 2502.2 3007.3 2532.9M3022.7 2471.4C3022.7 2502.2 3068.8 2502.2 3068.8 2532.9M3022.7 2471.4C3022.7 2502.2 3130.3 2502.2 3130.3 2532.9M3222.6 2471.4C3222.6 2502.2 3191.8 2502.2 3191.8 2532.9M3222.6 2471.4C3222.6 2502.2 3253.3 2502.2 3253.3 2532.9M3314.8 2471.4V2532.9M3376.3 2471.4V2532.9M2884.3 2532.9C2884.3 2563.7 2822.8 2563.7 2822.8 2594.4M2884.3 2532.9V2594.4M2884.3 2532.9C2884.3 2563.7 2945.8 2563.7 2945.8 2594.4M3007.3 2532.9V2594.4M3191.8 2532.9V2594.4M3253.3 2532.9V2594.4M3314.8 2532.9V2594.4M3376.3 2532.9V2594.4M2822.8 2594.4C2822.8 2625.2 2761.3 2625.2 2761.3 2655.9M2822.8 2594.4V2655.9M2822.8 2594.4C2822.8 2625.2 2884.3 2625.2 2884.3 2655.9M3007.3 2594.4C3007.3 2625.2 2976.6 2625.2 2976.6 2655.9M3007.3 2594.4C3007.3 2625.2 3038.1 2625.2 3038.1 2655.9M3191.8 2594.4V2655.9M3253.3 2594.4V2655.9M3314.8 2594.4V2655.9M3376.3 2594.4V2655.9" fill="none" stroke="#000" stroke-width="2"/>
<g><circle cx="3301.9" cy="2102.4" r="19" fill="#3487c0"/><circle cx="3301.9" cy="2163.9" r="19" fill="#3487c0"/><circle cx="3271.1" cy="2225.4" r="19" fill="#3487c0"/><circle cx="3332.6" cy="2225.4" r="19" fill="#3487c0"/><circle cx="3122.6" cy="2286.9" r="19" fill="#5b9bb5"/><circle cx="3314.8" cy="2286.9" r="19" fill="#4a8fbd"/><circle cx="3376.3" cy="2286.9" r="19" fill="#f8f4bb"/><circle cx="3022.7" cy="2348.4" r="19" fill="#5b9bb5"/><circle cx="3222.6" cy="2348.4" r="19" fill="#74aea8"/><circle cx="3314.8" cy="2348.4" r="19" fill="#4a8fbd"/><circle cx="3376.3" cy="2348.4" r="19" fill="#fddc88"/><circle cx="3022.7" cy="2409.9" r="19" fill="#5b9bb5"/><circle cx="3222.6" cy="2409.9" r="19" fill="#74aea8"/><circle cx="3314.8" cy="2409.9" r="19" fill="#4a8fbd"/><circle cx="3376.3" cy="2409.9" r="19" fill="#fddc88"/><circle cx="3022.7" cy="2471.4" r="19" fill="#5b9bb5"/><circle cx="3222.6" cy="2471.4" r="19" fill="#93cd98"/><circle cx="3314.8" cy="2471.4" r="19" fill="#4a8fbd"/><circle cx="3376.3" cy="2471.4" r="19" fill="#d53e4f"/><circle cx="2884.3" cy="2532.9" r="19" fill="#3487c0"/><circle cx="3007.3" cy="2532.9" r="19" fill="#4a8fbd"/><circle cx="3068.8" cy="2532.9" r="19" fill="#3487c0"/><circle cx="3130.3" cy="2532.9" r="19" fill="#3487c0"/><circle cx="3191.8" cy="2532.9" r="19" fill="#74aea8"/><circle cx="3253.3" cy="2532.9" r="19" fill="#b8dc96"/><circle cx="3314.8" cy="2532.9" r="19" fill="#3487c0"/><circle cx="3376.3" cy="2532.9" r="19" fill="#fcaf68"/><circle cx="2822.8" cy="2594.4" r="19" fill="#5b9bb5"/><circle cx="2884.3" cy="2594.4" r="19" fill="#5b9bb5"/><circle cx="2945.8" cy="2594.4" r="19" fill="#5b9bb5"/><circle cx="3007.3" cy="2594.4" r="19" fill="#5b9bb5"/><circle cx="3191.8" cy="2594.4" r="19" fill="#74aea8"/><circle cx="3253.3" cy="2594.4" r="19" fill="#93cd98"/><circle cx="3314.8" cy="2594.4" r="19" fill="#5b9bb5"/><circle cx="3376.3" cy="2594.4" r="19" fill="#f27f52"/><circle cx="2761.3" cy="2655.9" r="19" fill="#4a8fbd"/><circle cx="2822.8" cy="2655.9" r="19" fill="#4a8fbd"/><circle cx="2884.3" cy="2655.9" r="19" fill="#4a8fbd"/><circle cx="2976.6" cy="2655.9" r="19" fill="#4a8fbd"/><circle cx="3038.1" cy="2655.9" r="19" fill="#3487c0"/><circle cx="3191.8" cy="2655.9" r="19" fill="#5b9bb5"/><circle cx="3253.3" cy="2655.9" r="19" fill="#93cd98"/><circle cx="3314.8" cy="2655.9" r="19" fill="#74aea8"/><circle cx="3376.3" cy="2655.9" r="19" fill="#fddc88"/></g>
<defs><linearGradient id="g11" x1="0" y1="1" x2="0" y2="0"><stop offset="0%" stop-color="#3288bd"/><stop offset="12.5%" stop-color="#66c2a5"/><stop offset="25%" stop-color="#abdda4"/><stop offset="37.5%" stop-color="#e6f598"/><stop offset="50%" stop-color="#ffffbf"/><stop offset="62.5%" stop-color="#fee08b"/><stop offset="75%" stop-color="#fdae61"/><stop offset="87.5%" stop-color="#f46d43"/><stop offset="100%" stop-color="#d53e4f"/></linearGradient></defs>
<rect x="2750" y="2450.8" width="35.3" height="87.2" fill="url(#g11)"/>
<text x="2789.8" y="2459.3" font-size="37" fill="#000">250</text>
<text x="2791.6" y="2551.8" font-size="37" fill="#000">0</text>
<path d="M2050.4 2782H3418.8V3402H2050.4ZM2062.1 2793.7H2727V3390.3H2062.1ZM2739 2793.7H3407.1V3390.3H2739Z" fill="#bb2129" fill-rule="evenodd"/>
<rect x="2062.1" y="2793.7" width="664.9" height="596.6" fill="#fff"/>
<rect x="2739" y="2793.7" width="668.1" height="596.6" fill="#fff"/>
<text x="2171.5" y="2779" font-size="54.8" font-style="italic" fill="#000" textLength="476" lengthAdjust="spacingAndGlyphs">gene5617.tubb4b.L</text>
<path d="M2627.8 2815.3V2876.8M2627.8 2876.8C2627.8 2907.6 2597 2907.6 2597 2938.3M2627.8 2876.8C2627.8 2907.6 2658.5 2907.6 2658.5 2938.3M2597 2938.3C2597 2969.1 2448.5 2969.1 2448.5 2999.8M2597 2938.3C2597 2969.1 2640.7 2969.1 2640.7 2999.8M2597 2938.3C2597 2969.1 2702.2 2969.1 2702.2 2999.8M2448.5 2999.8C2448.5 3030.6 2348.6 3030.6 2348.6 3061.3M2448.5 2999.8C2448.5 3030.6 2548.4 3030.6 2548.4 3061.3M2640.7 2999.8V3061.3M2702.2 2999.8V3061.3M2348.6 3061.3V3122.8M2548.4 3061.3V3122.8M2640.7 3061.3V3122.8M2702.2 3061.3V3122.8M2348.6 3122.8V3184.3M2548.4 3122.8V3184.3M2640.7 3122.8V3184.3M2702.2 3122.8V3184.3M2348.6 3184.3C2348.6 3215.1 2210.2 3215.1 2210.2 3245.8M2348.6 3184.3C2348.6 3215.1 2333.2 3215.1 2333.2 3245.8M2348.6 3184.3C2348.6 3215.1 2394.7 3215.1 2394.7 3245.8M2348.6 3184.3C2348.6 3215.1 2456.2 3215.1 2456.2 3245.8M2548.4 3184.3C2548.4 3215.1 2517.7 3215.1 2517.7 3245.8M2548.4 3184.3C2548.4 3215.1 2579.2 3215.1 2579.2 3245.8M2640.7 3184.3V3245.8M2702.2 3184.3V3245.8M2210.2 3245.8C2210.2 3276.6 2148.7 3276.6 2148.7 3307.3M2210.2 3245.8V3307.3M2210.2 3245.8C2210.2 3276.6 2271.7 3276.6 2271.7 3307.3M2333.2 3245.8V3307.3M2517.7 3245.8V3307.3M2579.2 3245.8V3307.3M2640.7 3245.8V3307.3M2702.2 3245.8V3307.3M2148.7 3307.3C2148.7 3338.1 2087.2 3338.1 2087.2 3368.8M2148.7 3307.3V3368.8M2148.7 3307.3C2148.7 3338.1 2210.2 3338.1 2210.2 3368.8M2333.2 3307.3C2333.2 3338.1 2302.4 3338.1 2302.4 3368.8M2333.2 3307.3C2333.2 3338.1 2363.9 3338.1 2363.9 3368.8M2517.7 3307.3V3368.8M2579.2 3307.3V3368.8M2640.7 3307.3V3368.8M2702.2 3307.3V3368.8" fill="none" stroke="#000" stroke-width="2"/>
<g><circle cx="2627.8" cy="2815.3" r="19" fill="#4a8fbd"/><circle cx="2627.8" cy="2876.8" r="19" fill="#3487c0"/><circle cx="2597" cy="2938.3" r="19" fill="#3487c0"/><circle cx="2658.5" cy="2938.3" r="19" fill="#3487c0"/><circle cx="2448.5" cy="2999.8" r="19" fill="#74aea8"/><circle cx="2640.7" cy="2999.8" r="19" fill="#fddc88"/><circle cx="2702.2" cy="2999.8" r="19" fill="#5b9bb5"/><circle cx="2348.6" cy="3061.3" r="19" fill="#5b9bb5"/><circle cx="2548.4" cy="3061.3" r="19" fill="#5b9bb5"/><circle cx="2640.7" cy="3061.3" r="19" fill="#f8f4bb"/><circle cx="2702.2" cy="3061.3" r="19" fill="#5b9bb5"/><circle cx="2348.6" cy="3122.8" r="19" fill="#5b9bb5"/><circle cx="2548.4" cy="3122.8" r="19" fill="#5b9bb5"/><circle cx="2640.7" cy="3122.8" r="19" fill="#fddc88"/><circle cx="2702.2" cy="3122.8" r="19" fill="#5b9bb5"/><circle cx="2348.6" cy="3184.3" r="19" fill="#5b9bb5"/><circle cx="2548.4" cy="3184.3" r="19" fill="#5b9bb5"/><circle cx="2640.7" cy="3184.3" r="19" fill="#d53e4f"/><circle cx="2702.2" cy="3184.3" r="19" fill="#5b9bb5"/><circle cx="2210.2" cy="3245.8" r="19" fill="#3487c0"/><circle cx="2333.2" cy="3245.8" r="19" fill="#4a8fbd"/><circle cx="2394.7" cy="3245.8" r="19" fill="#3487c0"/><circle cx="2456.2" cy="3245.8" r="19" fill="#3487c0"/><circle cx="2517.7" cy="3245.8" r="19" fill="#3487c0"/><circle cx="2579.2" cy="3245.8" r="19" fill="#3487c0"/><circle cx="2640.7" cy="3245.8" r="19" fill="#d53e4f"/><circle cx="2702.2" cy="3245.8" r="19" fill="#3487c0"/><circle cx="2148.7" cy="3307.3" r="19" fill="#4a8fbd"/><circle cx="2210.2" cy="3307.3" r="19" fill="#4a8fbd"/><circle cx="2271.7" cy="3307.3" r="19" fill="#4a8fbd"/><circle cx="2333.2" cy="3307.3" r="19" fill="#5b9bb5"/><circle cx="2517.7" cy="3307.3" r="19" fill="#4a8fbd"/><circle cx="2579.2" cy="3307.3" r="19" fill="#4a8fbd"/><circle cx="2640.7" cy="3307.3" r="19" fill="#f27f52"/><circle cx="2702.2" cy="3307.3" r="19" fill="#4a8fbd"/><circle cx="2087.2" cy="3368.8" r="19" fill="#4a8fbd"/><circle cx="2148.7" cy="3368.8" r="19" fill="#3487c0"/><circle cx="2210.2" cy="3368.8" r="19" fill="#3487c0"/><circle cx="2302.4" cy="3368.8" r="19" fill="#4a8fbd"/><circle cx="2363.9" cy="3368.8" r="19" fill="#3487c0"/><circle cx="2517.7" cy="3368.8" r="19" fill="#3487c0"/><circle cx="2579.2" cy="3368.8" r="19" fill="#4a8fbd"/><circle cx="2640.7" cy="3368.8" r="19" fill="#e2ec9a"/><circle cx="2702.2" cy="3368.8" r="19" fill="#3487c0"/></g>
<defs><linearGradient id="g12" x1="0" y1="1" x2="0" y2="0"><stop offset="0%" stop-color="#3288bd"/><stop offset="12.5%" stop-color="#66c2a5"/><stop offset="25%" stop-color="#abdda4"/><stop offset="37.5%" stop-color="#e6f598"/><stop offset="50%" stop-color="#ffffbf"/><stop offset="62.5%" stop-color="#fee08b"/><stop offset="75%" stop-color="#fdae61"/><stop offset="87.5%" stop-color="#f46d43"/><stop offset="100%" stop-color="#d53e4f"/></linearGradient></defs>
<rect x="2073.3" y="3168.3" width="35.4" height="88.2" fill="url(#g12)"/>
<text x="2113.2" y="3176.8" font-size="37" fill="#000">200</text>
<text x="2115" y="3270.3" font-size="37" fill="#000">0</text>
<text x="2909.8" y="2779" font-size="54.8" font-style="italic" fill="#000" textLength="427.7" lengthAdjust="spacingAndGlyphs">gene45756.cav.3</text>
<path d="M3307.4 2815.3V2876.8M3307.4 2876.8C3307.4 2907.6 3276.6 2907.6 3276.6 2938.3M3307.4 2876.8C3307.4 2907.6 3338.1 2907.6 3338.1 2938.3M3276.6 2938.3C3276.6 2969.1 3128.1 2969.1 3128.1 2999.8M3276.6 2938.3C3276.6 2969.1 3320.3 2969.1 3320.3 2999.8M3276.6 2938.3C3276.6 2969.1 3381.8 2969.1 3381.8 2999.8M3128.1 2999.8C3128.1 3030.6 3028.2 3030.6 3028.2 3061.3M3128.1 2999.8C3128.1 3030.6 3228.1 3030.6 3228.1 3061.3M3320.3 2999.8V3061.3M3381.8 2999.8V3061.3M3028.2 3061.3V3122.8M3228.1 3061.3V3122.8M3320.3 3061.3V3122.8M3381.8 3061.3V3122.8M3028.2 3122.8V3184.3M3228.1 3122.8V3184.3M3320.3 3122.8V3184.3M3381.8 3122.8V3184.3M3028.2 3184.3C3028.2 3215.1 2889.8 3215.1 2889.8 3245.8M3028.2 3184.3C3028.2 3215.1 3012.8 3215.1 3012.8 3245.8M3028.2 3184.3C3028.2 3215.1 3074.3 3215.1 3074.3 3245.8M3028.2 3184.3C3028.2 3215.1 3135.8 3215.1 3135.8 3245.8M3228.1 3184.3C3228.1 3215.1 3197.3 3215.1 3197.3 3245.8M3228.1 3184.3C3228.1 3215.1 3258.8 3215.1 3258.8 3245.8M3320.3 3184.3V3245.8M3381.8 3184.3V3245.8M2889.8 3245.8C2889.8 3276.6 2828.3 3276.6 2828.3 3307.3M2889.8 3245.8V3307.3M2889.8 3245.8C2889.8 3276.6 2951.3 3276.6 2951.3 3307.3M3012.8 3245.8V3307.3M3197.3 3245.8V3307.3M3258.8 3245.8V3307.3M3320.3 3245.8V3307.3M3381.8 3245.8V3307.3M2828.3 3307.3C2828.3 3338.1 2766.8 3338.1 2766.8 3368.8M2828.3 3307.3V3368.8M2828.3 3307.3C2828.3 3338.1 2889.8 3338.1 2889.8 3368.8M3012.8 3307.3C3012.8 3338.1 2982.1 3338.1 2982.1 3368.8M3012.8 3307.3C3012.8 3338.1 3043.6 3338.1 3043.6 3368.8M3197.3 3307.3V3368.8M3258.8 3307.3V3368.8M3320.3 3307.3V3368.8M3381.8 3307.3V3368.8" fill="none" stroke="#000" stroke-width="2"/>
<g><circle cx="3307.4" cy="2815.3" r="19" fill="#3487c0"/><circle cx="3307.4" cy="2876.8" r="19" fill="#3487c0"/><circle cx="3276.6" cy="2938.3" r="19" fill="#3487c0"/><circle cx="3338.1" cy="2938.3" r="19" fill="#3487c0"/><circle cx="3128.1" cy="2999.8" r="19" fill="#3487c0"/><circle cx="3320.3" cy="2999.8" r="19" fill="#74aea8"/><circle cx="3381.8" cy="2999.8" r="19" fill="#3487c0"/><circle cx="3028.2" cy="3061.3" r="19" fill="#3487c0"/><circle cx="3228.1" cy="3061.3" r="19" fill="#3487c0"/><circle cx="3320.3" cy="3061.3" r="19" fill="#93cd98"/><circle cx="3381.8" cy="3061.3" r="19" fill="#3487c0"/><circle cx="3028.2" cy="3122.8" r="19" fill="#3487c0"/><circle cx="3228.1" cy="3122.8" r="19" fill="#4a8fbd"/><circle cx="3320.3" cy="3122.8" r="19" fill="#e2ec9a"/><circle cx="3381.8" cy="3122.8" r="19" fill="#3487c0"/><circle cx="3028.2" cy="3184.3" r="19" fill="#4a8fbd"/><circle cx="3228.1" cy="3184.3" r="19" fill="#4a8fbd"/><circle cx="3320.3" cy="3184.3" r="19" fill="#f8f4bb"/><circle cx="3381.8" cy="3184.3" r="19" fill="#4a8fbd"/><circle cx="2889.8" cy="3245.8" r="19" fill="#3487c0"/><circle cx="3012.8" cy="3245.8" r="19" fill="#3487c0"/><circle cx="3074.3" cy="3245.8" r="19" fill="#3487c0"/><circle cx="3135.8" cy="3245.8" r="19" fill="#3487c0"/><circle cx="3197.3" cy="3245.8" r="19" fill="#3487c0"/><circle cx="3258.8" cy="3245.8" r="19" fill="#3487c0"/><circle cx="3320.3" cy="3245.8" r="19" fill="#fcaf68"/><circle cx="3381.8" cy="3245.8" r="19" fill="#3487c0"/><circle cx="2828.3" cy="3307.3" r="19" fill="#4a8fbd"/><circle cx="2889.8" cy="3307.3" r="19" fill="#4a8fbd"/><circle cx="2951.3" cy="3307.3" r="19" fill="#4a8fbd"/><circle cx="3012.8" cy="3307.3" r="19" fill="#4a8fbd"/><circle cx="3197.3" cy="3307.3" r="19" fill="#4a8fbd"/><circle cx="3258.8" cy="3307.3" r="19" fill="#4a8fbd"/><circle cx="3320.3" cy="3307.3" r="19" fill="#d53e4f"/><circle cx="3381.8" cy="3307.3" r="19" fill="#4a8fbd"/><circle cx="2766.8" cy="3368.8" r="19" fill="#3487c0"/><circle cx="2828.3" cy="3368.8" r="19" fill="#3487c0"/><circle cx="2889.8" cy="3368.8" r="19" fill="#4a8fbd"/><circle cx="2982.1" cy="3368.8" r="19" fill="#4a8fbd"/><circle cx="3043.6" cy="3368.8" r="19" fill="#3487c0"/><circle cx="3197.3" cy="3368.8" r="19" fill="#3487c0"/><circle cx="3258.8" cy="3368.8" r="19" fill="#3487c0"/><circle cx="3320.3" cy="3368.8" r="19" fill="#fcaf68"/><circle cx="3381.8" cy="3368.8" r="19" fill="#3487c0"/></g>
<defs><linearGradient id="g13" x1="0" y1="1" x2="0" y2="0"><stop offset="0%" stop-color="#3288bd"/><stop offset="12.5%" stop-color="#66c2a5"/><stop offset="25%" stop-color="#abdda4"/><stop offset="37.5%" stop-color="#e6f598"/><stop offset="50%" stop-color="#ffffbf"/><stop offset="62.5%" stop-color="#fee08b"/><stop offset="75%" stop-color="#fdae61"/><stop offset="87.5%" stop-color="#f46d43"/><stop offset="100%" stop-color="#d53e4f"/></linearGradient></defs>
<rect x="2756.2" y="3168.3" width="34.6" height="88.2" fill="url(#g13)"/>
<text x="2795.3" y="3176.8" font-size="37" fill="#000">80</text>
<text x="2797.1" y="3270.3" font-size="37" fill="#000">0</text>
<text transform="translate(114.4 2353) rotate(-90)" x="0" y="0" text-anchor="middle" font-size="63.5" fill="#000" textLength="234" lengthAdjust="spacingAndGlyphs">Ionocyte</text>
<text transform="translate(121.1 3091.5) rotate(-90)" x="0" y="0" text-anchor="middle" font-size="63.5" fill="#000" textLength="151" lengthAdjust="spacingAndGlyphs">Basal</text>
<text transform="translate(2019.8 2367.5) rotate(-90)" x="0" y="0" text-anchor="middle" font-size="63.5" fill="#000" textLength="182" lengthAdjust="spacingAndGlyphs">Goblet</text>
<text transform="translate(2019.7 3093) rotate(-90)" x="0" y="0" text-anchor="middle" font-size="63.5" fill="#000" textLength="322" lengthAdjust="spacingAndGlyphs">Multiciliated</text>
<text x="4" y="3564.9" font-size="78" font-weight="bold">D</text>
<text x="282.5" y="3699" font-size="51.5" textLength="294" lengthAdjust="spacingAndGlyphs">Atp6v1 family</text>
<text x="227.5" y="3757" font-size="51.5" textLength="406" lengthAdjust="spacingAndGlyphs">(mean expression)</text>
<text x="780.5" y="3699" font-size="51.5" textLength="582" lengthAdjust="spacingAndGlyphs">Carbonic anhydrase family</text>
<text x="867.5" y="3757" font-size="51.5" textLength="407" lengthAdjust="spacingAndGlyphs">(mean expression)</text>
<g fill="none" stroke-width="8.6" stroke-linecap="square" stroke-opacity="0.88"><path d="M274.6 4239h0M407.7 4268.2h0M320.3 4322.2h0M312 4255.7h0M441 4359.7h0M545 4397.1h0" stroke="#3f96b7"/><path d="M482.6 4359.7h0M212.2 4289h0M453.4 4313.9h0" stroke="#55afad"/><path d="M507.5 4313.9h0M465.9 4114.2h0" stroke="#6cc4a5"/><path d="M303.7 4297.3h0M457.6 4347.2h0M241.3 4284.8h0" stroke="#88d0a4"/><path d="M295.4 4326.4h0M649 4393h0" stroke="#a5dba4"/><path d="M253.8 4359.7h0" stroke="#bfe5a0"/><path d="M411.8 4247.4h0M266.2 4338.9h0M224.6 4326.4h0M228.8 4343h0M291.2 4289h0" stroke="#ffffbf"/><path d="M295.4 4289h0M307.8 4293.1h0M374.4 4347.2h0M432.6 4280.6h0M428.5 4122.6h0M490.9 4318.1h0M249.6 4401.3h0M449.3 4384.6h0M441 4409.6h0M312 4388.8h0M374.4 4264h0M228.8 4297.3h0M282.9 4330.6h0M403.5 4305.6h0M428.5 4330.6h0M228.8 4405.4h0M461.8 4264h0M266.2 4363.8h0" stroke="#fff2a9"/><path d="M366.1 4330.6h0M411.8 4297.3h0M457.6 4259.8h0M445.1 4393h0M441 4384.6h0M461.8 4305.6h0M441 4313.9h0M241.3 4409.6h0M328.6 4284.8h0M299.5 4422.1h0M253.8 4338.9h0M257.9 4309.8h0M391 4330.6h0M441 4393h0M291.2 4330.6h0M278.7 4251.5h0M511.7 4313.9h0M441 4313.9h0M411.8 4343h0M287 4301.4h0M282.9 4318.1h0M416 4322.2h0M278.7 4234.9h0M237.1 4276.5h0M212.2 4388.8h0M253.8 4338.9h0M349.4 4326.4h0M233 4289h0M461.8 4297.3h0M241.3 4372.2h0M470.1 4301.4h0M490.9 4355.5h0M357.8 4347.2h0M337 4338.9h0M257.9 4330.6h0M353.6 4255.7h0M299.5 4268.2h0M416 4297.3h0M245.4 4405.4h0M386.9 4305.6h0M295.4 4405.4h0M303.7 4293.1h0M453.4 4343h0M324.5 4330.6h0M245.4 4309.8h0M470.1 4305.6h0M262.1 4426.2h0M220.5 4297.3h0M416 4318.1h0M212.2 4355.5h0M266.2 4326.4h0M287 4313.9h0M187.2 4430.4h0M270.4 4330.6h0M228.8 4251.5h0M370.2 4276.5h0M270.4 4338.9h0M441 4309.8h0M428.5 4347.2h0M399.4 4388.8h0M170.6 4355.5h0M266.2 4293.1h0M432.6 4251.5h0M228.8 4313.9h0M208 4393h0M511.7 4255.7h0M262.1 4405.4h0M178.9 4359.7h0M291.2 4334.7h0M274.6 4205.8h0M420.2 4289h0M233 4422.1h0M341.1 4318.1h0M420.2 4105.9h0M249.6 4380.5h0M316.2 4376.3h0M233 4363.8h0M328.6 4293.1h0M233 4289h0M436.8 4322.2h0M341.1 4413.8h0M249.6 4330.6h0M224.6 4426.2h0M436.8 4289h0M237.1 4384.6h0M237.1 4230.7h0M307.8 4363.8h0M407.7 4330.6h0M474.2 4318.1h0M486.7 4313.9h0M291.2 4301.4h0M303.7 4313.9h0M445.1 4351.4h0M212.2 4393h0M262.1 4305.6h0M453.4 4284.8h0M453.4 4259.8h0M278.7 4268.2h0M262.1 4309.8h0M470.1 4347.2h0M270.4 4426.2h0M366.1 4259.8h0M432.6 4322.2h0M470.1 4276.5h0M465.9 4376.3h0M307.8 4309.8h0M195.5 4422.1h0M503.4 4363.8h0M224.6 4422.1h0M291.2 4239h0M287 4351.4h0M461.8 4297.3h0M457.6 4322.2h0M449.3 4318.1h0M170.6 4343h0M399.4 4376.3h0M490.9 4318.1h0M199.7 4268.2h0M291.2 4280.6h0M503.4 4280.6h0" stroke="#fee594"/><path d="M287 4318.1h0M441 4284.8h0M453.4 4318.1h0M370.2 4355.5h0M511.7 4351.4h0M212.2 4413.8h0M357.8 4368h0M278.7 4280.6h0M203.8 4388.8h0M349.4 4338.9h0M453.4 4355.5h0M266.2 4334.7h0M457.6 4243.2h0M237.1 4334.7h0M499.2 4347.2h0M370.2 4284.8h0M594.9 4459.5h0M312 4322.2h0M233 4393h0M274.6 4293.1h0M316.2 4343h0M170.6 4338.9h0M499.2 4351.4h0M212.2 4305.6h0M241.3 4264h0M316.2 4284.8h0M220.5 4388.8h0M278.7 4313.9h0M320.3 4313.9h0M291.2 4330.6h0M316.2 4309.8h0M432.6 4334.7h0M274.6 4309.8h0M287 4309.8h0M520 4322.2h0M382.7 4347.2h0M436.8 4293.1h0M249.6 4372.2h0M424.3 4301.4h0M453.4 4309.8h0M420.2 4293.1h0M278.7 4309.8h0M449.3 4272.3h0M441 4334.7h0M453.4 4326.4h0M436.8 4343h0M303.7 4359.7h0M249.6 4293.1h0M411.8 4313.9h0M457.6 4301.4h0M316.2 4305.6h0M391 4334.7h0M441 4243.2h0M495 4247.4h0M424.3 4330.6h0M432.6 4276.5h0M257.9 4289h0M266.2 4293.1h0M278.7 4284.8h0M237.1 4401.3h0M299.5 4351.4h0M282.9 4305.6h0M386.9 4268.2h0M478.4 4376.3h0M441 4189.1h0M299.5 4293.1h0M428.5 4330.6h0M449.3 4347.2h0M295.4 4322.2h0M274.6 4293.1h0M237.1 4347.2h0M278.7 4289h0M212.2 4289h0M299.5 4268.2h0M291.2 4330.6h0M262.1 4313.9h0M220.5 4276.5h0M428.5 4368h0M391 4384.6h0M282.9 4347.2h0M245.4 4301.4h0M361.9 4334.7h0M262.1 4293.1h0M341.1 4313.9h0M253.8 4409.6h0M287 4343h0M386.9 4347.2h0M486.7 4355.5h0M224.6 4359.7h0M299.5 4355.5h0M470.1 4309.8h0M253.8 4326.4h0M374.4 4368h0M424.3 4081h0M278.7 4284.8h0M411.8 4343h0M366.1 4359.7h0M445.1 4293.1h0M249.6 4359.7h0M278.7 4264h0M328.6 4284.8h0M257.9 4309.8h0M241.3 4276.5h0M295.4 4251.5h0M411.8 4289h0M395.2 4363.8h0M249.6 4380.5h0M249.6 4368h0M382.7 4284.8h0M257.9 4272.3h0M345.3 4251.5h0M424.3 4301.4h0M295.4 4297.3h0M328.6 4372.2h0M287 4218.2h0M316.2 4313.9h0M299.5 4305.6h0M428.5 4268.2h0M357.8 4289h0M470.1 4276.5h0M411.8 4343h0M257.9 4334.7h0M233 4388.8h0M203.8 4368h0M324.5 4347.2h0M291.2 4372.2h0M303.7 4409.6h0M349.4 4297.3h0M457.6 4168.3h0M366.1 4363.8h0M382.7 4280.6h0M515.8 4384.6h0M287 4417.9h0M245.4 4430.4h0M349.4 4318.1h0M407.7 4293.1h0M257.9 4393h0M441 4338.9h0M262.1 4276.5h0M262.1 4313.9h0M287 4338.9h0M449.3 4351.4h0M345.3 4297.3h0M499.2 4338.9h0M449.3 4393h0M416 4326.4h0M291.2 4297.3h0M432.6 4305.6h0M470.1 4338.9h0M478.4 4289h0M307.8 4264h0M262.1 4293.1h0M253.8 4322.2h0M233 4280.6h0M212.2 4384.6h0M295.4 4417.9h0M274.6 4355.5h0M282.9 4330.6h0M237.1 4413.8h0M457.6 4397.1h0M465.9 4372.2h0M278.7 4293.1h0M212.2 4397.1h0M291.2 4251.5h0M245.4 4326.4h0M295.4 4276.5h0M282.9 4359.7h0M282.9 4326.4h0M282.9 4355.5h0M474.2 4301.4h0M320.3 4239h0M274.6 4251.5h0M249.6 4305.6h0M490.9 4322.2h0M461.8 4326.4h0M237.1 4322.2h0M299.5 4280.6h0M474.2 4368h0M478.4 4368h0M241.3 4380.5h0M303.7 4297.3h0M291.2 4176.6h0M312 4284.8h0M241.3 4393h0M295.4 4351.4h0M374.4 4309.8h0M287 4405.4h0M291.2 4214.1h0M411.8 4372.2h0M266.2 4305.6h0M233 4401.3h0M420.2 4368h0M257.9 4293.1h0M287 4284.8h0M465.9 4326.4h0M399.4 4289h0M307.8 4297.3h0M299.5 4313.9h0M287 4343h0M237.1 4334.7h0M482.6 4372.2h0M257.9 4247.4h0M353.6 4297.3h0M282.9 4318.1h0M370.2 4334.7h0M386.9 4309.8h0M195.5 4401.3h0M474.2 4409.6h0M282.9 4372.2h0M287 4272.3h0M503.4 4309.8h0M324.5 4289h0M228.8 4405.4h0M436.8 4351.4h0M511.7 4380.5h0M341.1 4326.4h0M208 4363.8h0M166.4 4343h0M465.9 4330.6h0M478.4 4309.8h0M241.3 4359.7h0M332.8 4264h0M382.7 4351.4h0M274.6 4355.5h0M353.6 4326.4h0M407.7 4347.2h0M445.1 4305.6h0M233 4388.8h0M241.3 4268.2h0M220.5 4338.9h0M353.6 4068.5h0M465.9 4405.4h0M457.6 4368h0M461.8 4293.1h0M237.1 4280.6h0M461.8 4313.9h0M403.5 4347.2h0M266.2 4384.6h0M262.1 4289h0M245.4 4355.5h0M545 4355.5h0M445.1 4272.3h0M461.8 4359.7h0M486.7 4313.9h0M478.4 4297.3h0M262.1 4247.4h0M515.8 4397.1h0M495 4330.6h0M278.7 4255.7h0M170.6 4334.7h0M507.5 4318.1h0M220.5 4334.7h0M478.4 4301.4h0M536.6 4043.5h0M411.8 4326.4h0M253.8 4384.6h0M370.2 4330.6h0M449.3 4347.2h0M291.2 4326.4h0M195.5 4313.9h0M545 4305.6h0M428.5 4338.9h0M316.2 4297.3h0M241.3 4301.4h0M274.6 4401.3h0M233 4259.8h0M507.5 4168.3h0M203.8 4363.8h0M278.7 4447h0M441 4322.2h0M482.6 4343h0M282.9 4363.8h0M237.1 4293.1h0M295.4 4376.3h0M220.5 4413.8h0M453.4 4338.9h0M520 4393h0M403.5 4247.4h0M212.2 4322.2h0M266.2 4355.5h0M295.4 4276.5h0M399.4 4289h0M295.4 4322.2h0M449.3 4251.5h0M303.7 4334.7h0M436.8 4343h0M241.3 4322.2h0M391 4368h0M449.3 4351.4h0M357.8 4251.5h0M370.2 4347.2h0M299.5 4255.7h0" stroke="#fed480"/><path d="M262.1 4347.2h0M545 4347.2h0M432.6 4289h0M249.6 4322.2h0M237.1 4388.8h0M282.9 4313.9h0M320.3 4380.5h0M287 4359.7h0M490.9 4118.4h0M287 4376.3h0M307.8 4313.9h0M611.5 4384.6h0M607.4 4397.1h0M324.5 4355.5h0M424.3 4388.8h0M262.1 4297.3h0M490.9 4289h0M391 4376.3h0M499.2 4239h0M245.4 4280.6h0M220.5 4180.8h0M320.3 4205.8h0M474.2 4201.6h0M499.2 4351.4h0M282.9 4093.4h0M361.9 4309.8h0M303.7 4280.6h0M253.8 4214.1h0M361.9 4359.7h0M328.6 4330.6h0M578.2 4413.8h0M307.8 4330.6h0M212.2 4268.2h0M278.7 4313.9h0M391 4343h0M282.9 4334.7h0M474.2 4313.9h0M237.1 4272.3h0M257.9 4334.7h0M337 4276.5h0M332.8 4251.5h0M270.4 4264h0M312 4338.9h0M403.5 4363.8h0M241.3 4284.8h0M353.6 4318.1h0M378.6 4347.2h0M220.5 4301.4h0M253.8 4280.6h0M216.3 4351.4h0M320.3 4313.9h0M374.4 4309.8h0M228.8 4338.9h0M203.8 4372.2h0M328.6 4359.7h0M257.9 4338.9h0M407.7 4388.8h0M486.7 4355.5h0M274.6 4272.3h0M470.1 4343h0M266.2 4401.3h0M420.2 4280.6h0M253.8 4326.4h0M241.3 4359.7h0M499.2 4334.7h0M416 4293.1h0M237.1 4284.8h0M328.6 4297.3h0M224.6 4297.3h0M320.3 4209.9h0M291.2 4218.2h0M307.8 4201.6h0M266.2 4301.4h0M403.5 4272.3h0M457.6 4338.9h0M316.2 4280.6h0M282.9 4343h0M303.7 4318.1h0M407.7 4114.2h0M337 4226.6h0M266.2 4289h0M253.8 4347.2h0M374.4 4234.9h0M295.4 4343h0M361.9 4247.4h0M253.8 4338.9h0M461.8 4368h0M262.1 4305.6h0M470.1 4372.2h0M303.7 4322.2h0M266.2 4334.7h0M166.4 4330.6h0M262.1 4284.8h0M449.3 4330.6h0M237.1 4209.9h0M241.3 4209.9h0M253.8 4422.1h0M478.4 4318.1h0M416 4318.1h0M345.3 4322.2h0M287 4313.9h0M312 4363.8h0M249.6 4409.6h0M312 4255.7h0M257.9 4313.9h0M416 4359.7h0M249.6 4393h0M274.6 4338.9h0M245.4 4380.5h0M407.7 4326.4h0M295.4 4359.7h0M191.4 4322.2h0M457.6 4105.9h0M328.6 4110.1h0M470.1 4372.2h0M320.3 4322.2h0M249.6 4326.4h0M228.8 4305.6h0M465.9 4351.4h0M295.4 4151.7h0M278.7 4405.4h0M328.6 4355.5h0M532.5 4347.2h0M374.4 4372.2h0M208 4388.8h0M287 4326.4h0M545 4168.3h0M490.9 4326.4h0M361.9 4322.2h0M470.1 4347.2h0M287 4280.6h0M457.6 4276.5h0M282.9 4384.6h0M449.3 4355.5h0M432.6 4305.6h0M249.6 4417.9h0M241.3 4272.3h0M203.8 4259.8h0M295.4 4393h0M245.4 4280.6h0M391 4309.8h0M278.7 4368h0M253.8 4401.3h0M282.9 4334.7h0M253.8 4318.1h0M490.9 4259.8h0M287 4289h0M332.8 4301.4h0M353.6 4097.6h0M224.6 4293.1h0M449.3 4272.3h0M486.7 4359.7h0M224.6 4272.3h0M224.6 4272.3h0M212.2 4239h0M266.2 4338.9h0M337 4085.1h0M249.6 4368h0M183 4338.9h0M428.5 4297.3h0M457.6 4313.9h0M257.9 4272.3h0M490.9 4322.2h0M324.5 4384.6h0M499.2 4322.2h0M303.7 4268.2h0M282.9 4313.9h0M403.5 4313.9h0M208 4268.2h0M361.9 4301.4h0M295.4 4347.2h0M270.4 4280.6h0M270.4 4393h0M457.6 4326.4h0M307.8 4343h0M237.1 4326.4h0M228.8 4417.9h0M216.3 4280.6h0M295.4 4243.2h0M245.4 4409.6h0M307.8 4189.1h0M495 4301.4h0M495 4368h0M266.2 4305.6h0M486.7 4318.1h0M287 4343h0M457.6 4334.7h0M461.8 4293.1h0M420.2 4272.3h0M274.6 4276.5h0M228.8 4313.9h0M266.2 4293.1h0M457.6 4226.6h0M337 4110.1h0M399.4 4272.3h0M528.3 4318.1h0M307.8 4164.2h0M594.9 4397.1h0M461.8 4114.2h0M482.6 4259.8h0M395.2 4218.2h0M441 4330.6h0M278.7 4351.4h0M295.4 4372.2h0M490.9 4326.4h0M374.4 4305.6h0M291.2 4268.2h0M249.6 4268.2h0M445.1 4355.5h0M341.1 4205.8h0M416 4255.7h0M449.3 4334.7h0M245.4 4405.4h0M337 4388.8h0M233 4393h0M312 4368h0M282.9 4318.1h0M249.6 4388.8h0M337 4247.4h0M237.1 4380.5h0M270.4 4309.8h0M287 4363.8h0M403.5 4338.9h0M291.2 4368h0M524.2 4313.9h0M374.4 4322.2h0M465.9 4368h0M199.7 4401.3h0M357.8 4293.1h0M270.4 4326.4h0M233 4426.2h0M482.6 4359.7h0M274.6 4334.7h0M312 4155.8h0M470.1 4322.2h0M328.6 4351.4h0M241.3 4401.3h0M445.1 4368h0M341.1 4305.6h0M274.6 4309.8h0M341.1 4384.6h0M499.2 4330.6h0M262.1 4164.2h0M299.5 4359.7h0M262.1 4343h0M445.1 4280.6h0M486.7 4351.4h0M257.9 4384.6h0M262.1 4297.3h0M515.8 4139.2h0M266.2 4280.6h0M599 4401.3h0M257.9 4264h0M303.7 4388.8h0M345.3 4338.9h0M174.7 4343h0M295.4 4205.8h0M416 4318.1h0M212.2 4326.4h0M270.4 4230.7h0M266.2 4297.3h0M445.1 4293.1h0M470.1 4384.6h0M257.9 4334.7h0M499.2 4368h0M291.2 4239h0M324.5 4110.1h0M282.9 4284.8h0M332.8 4072.6h0M299.5 4347.2h0M416 4401.3h0M299.5 4313.9h0M545 4338.9h0M416 4305.6h0M233 4388.8h0M511.7 4068.5h0M245.4 4289h0M166.4 4338.9h0M303.7 4189.1h0M316.2 4355.5h0M545 4056h0M507.5 4313.9h0M262.1 4326.4h0M312 4380.5h0M266.2 4372.2h0M245.4 4301.4h0M453.4 4372.2h0M603.2 4438.7h0M436.8 4343h0M549.1 4222.4h0M295.4 4334.7h0M257.9 4284.8h0M274.6 4301.4h0M345.3 4276.5h0M420.2 4259.8h0M295.4 4313.9h0M549.1 4413.8h0M245.4 4384.6h0M316.2 4322.2h0M366.1 4301.4h0M457.6 4343h0M241.3 4338.9h0M274.6 4305.6h0M245.4 4422.1h0M274.6 4363.8h0M603.2 4447h0M445.1 4284.8h0M208 4330.6h0M328.6 4218.2h0M307.8 4280.6h0M507.5 4309.8h0M224.6 4313.9h0M436.8 4338.9h0M436.8 4338.9h0M378.6 4209.9h0M332.8 4363.8h0M228.8 4363.8h0M245.4 4422.1h0M391 4351.4h0M307.8 4422.1h0M349.4 4272.3h0M366.1 4259.8h0M253.8 4268.2h0M295.4 4343h0M282.9 4338.9h0M503.4 4297.3h0M249.6 4297.3h0M378.6 4343h0M282.9 4218.2h0M465.9 4272.3h0M428.5 4322.2h0M599 4397.1h0M386.9 4110.1h0M395.2 4393h0M486.7 4330.6h0M245.4 4393h0M353.6 4122.6h0M253.8 4301.4h0M208 4388.8h0M540.8 4334.7h0M262.1 4272.3h0M324.5 4313.9h0M374.4 4338.9h0M257.9 4305.6h0M540.8 4330.6h0M453.4 4284.8h0M416 4355.5h0M303.7 4372.2h0M224.6 4434.6h0M312 4209.9h0M195.5 4259.8h0M420.2 4347.2h0M287 4368h0M337 4347.2h0M503.4 4330.6h0M490.9 4259.8h0" stroke="#fdbf6f"/><path d="M470.1 4301.4h0M490.9 4205.8h0M216.3 4297.3h0M282.9 4401.3h0M495 4081h0M257.9 4393h0M208 4380.5h0M432.6 4160h0M332.8 4147.5h0M291.2 4338.9h0M282.9 4409.6h0M432.6 4322.2h0M424.3 4289h0M482.6 4305.6h0M486.7 4355.5h0M619.8 4363.8h0M228.8 4430.4h0M528.3 4309.8h0M270.4 4393h0M520 4338.9h0M449.3 4251.5h0M270.4 4272.3h0M441 4126.7h0M449.3 4301.4h0M416 4264h0M287 4289h0M378.6 4330.6h0M228.8 4397.1h0M453.4 4297.3h0M478.4 4164.2h0M328.6 4388.8h0M578.2 4417.9h0M282.9 4276.5h0M520 4351.4h0M257.9 4376.3h0M257.9 4276.5h0M262.1 4305.6h0M520 4151.7h0M420.2 4347.2h0M253.8 4368h0M361.9 4289h0M337 4309.8h0M428.5 4268.2h0M249.6 4222.4h0M441 4214.1h0M337 4255.7h0M528.3 4264h0M241.3 4417.9h0M470.1 4234.9h0M274.6 4268.2h0M282.9 4230.7h0M220.5 4368h0M274.6 4355.5h0M295.4 4164.2h0M312 4305.6h0M270.4 4305.6h0M495 4297.3h0M411.8 4401.3h0M299.5 4318.1h0M503.4 4185h0M341.1 4093.4h0M224.6 4318.1h0M312 4276.5h0M582.4 4372.2h0M482.6 4289h0M582.4 4463.7h0M262.1 4309.8h0M499.2 4164.2h0M299.5 4372.2h0M578.2 4463.7h0M461.8 4309.8h0M291.2 4397.1h0M262.1 4405.4h0M449.3 4326.4h0M216.3 4409.6h0M291.2 4297.3h0M382.7 4376.3h0M291.2 4230.7h0M353.6 4139.2h0M224.6 4255.7h0M432.6 4313.9h0M324.5 4301.4h0M287 4172.5h0M349.4 4247.4h0M316.2 4305.6h0M386.9 4363.8h0M470.1 4268.2h0M262.1 4313.9h0M432.6 4313.9h0M507.5 4334.7h0M461.8 4318.1h0M474.2 4006.1h0M357.8 4359.7h0M457.6 4189.1h0M478.4 4147.5h0M316.2 4259.8h0M282.9 4368h0M403.5 4363.8h0M461.8 4338.9h0M320.3 4072.6h0M345.3 4351.4h0M241.3 4372.2h0M353.6 4351.4h0M511.7 4243.2h0M299.5 4318.1h0M228.8 4405.4h0M403.5 4347.2h0M374.4 4334.7h0M416 4268.2h0M361.9 4180.8h0M470.1 4143.4h0M237.1 4234.9h0M594.9 4426.2h0M532.5 4056h0M299.5 4247.4h0M515.8 4297.3h0M353.6 4176.6h0M445.1 4347.2h0M524.2 4368h0M411.8 4322.2h0M345.3 4289h0M499.2 4151.7h0M486.7 4289h0M449.3 4388.8h0M445.1 4318.1h0M441 4330.6h0M237.1 4372.2h0M295.4 4347.2h0M386.9 4355.5h0M337 4180.8h0M278.7 4239h0M545 4318.1h0M557.4 4039.4h0M299.5 4359.7h0M278.7 4309.8h0M482.6 4276.5h0M478.4 4276.5h0M557.4 4143.4h0M461.8 4343h0M370.2 4114.2h0M449.3 4384.6h0M574.1 4388.8h0M499.2 4309.8h0M216.3 4413.8h0M366.1 4326.4h0M270.4 4322.2h0M511.7 4334.7h0M441 4268.2h0M278.7 4293.1h0M465.9 4226.6h0M270.4 4313.9h0M274.6 4189.1h0M274.6 4226.6h0M328.6 4376.3h0M515.8 4218.2h0M436.8 4368h0M253.8 4347.2h0M208 4384.6h0M482.6 4160h0M374.4 4359.7h0M228.8 4393h0M511.7 4097.6h0M233 4284.8h0M274.6 4359.7h0M403.5 4313.9h0M287 4380.5h0M245.4 4380.5h0M274.6 4372.2h0M233 4384.6h0M245.4 4384.6h0M295.4 4280.6h0M582.4 4368h0M474.2 4372.2h0M403.5 4301.4h0M249.6 4388.8h0M607.4 4397.1h0M274.6 4268.2h0M270.4 4313.9h0M540.8 4155.8h0M574.1 4417.9h0M291.2 4284.8h0M328.6 4143.4h0M536.6 4351.4h0M312 4126.7h0M386.9 4334.7h0M324.5 4201.6h0M224.6 4268.2h0M324.5 4205.8h0M295.4 4205.8h0M307.8 4322.2h0M316.2 4110.1h0M361.9 4293.1h0M307.8 4168.3h0M445.1 4343h0M332.8 4347.2h0M594.9 4451.2h0M457.6 4301.4h0M590.7 4393h0M208 4334.7h0M220.5 4426.2h0M303.7 4085.1h0M299.5 4338.9h0M503.4 4176.6h0M374.4 4289h0M361.9 4351.4h0M536.6 3997.8h0M249.6 4368h0M432.6 4318.1h0M257.9 4338.9h0M237.1 4430.4h0M499.2 4347.2h0M266.2 4343h0M295.4 4243.2h0M312 4284.8h0M274.6 4284.8h0M515.8 4085.1h0M291.2 4268.2h0M282.9 4289h0M320.3 4334.7h0M216.3 4326.4h0M257.9 4405.4h0M224.6 4422.1h0M282.9 4293.1h0M586.6 4430.4h0M345.3 4168.3h0M278.7 4376.3h0M203.8 4338.9h0M262.1 4293.1h0M303.7 4110.1h0M536.6 4376.3h0M266.2 4368h0M461.8 4330.6h0M549.1 4043.5h0M470.1 4393h0M386.9 4284.8h0M553.3 4368h0M257.9 4305.6h0M266.2 4368h0M370.2 4351.4h0M278.7 4180.8h0M378.6 4318.1h0M266.2 4305.6h0M366.1 4318.1h0M574.1 4384.6h0M428.5 4313.9h0M569.9 4426.2h0M582.4 4384.6h0M428.5 4347.2h0M241.3 4376.3h0M282.9 4105.9h0M615.7 4438.7h0M603.2 4405.4h0M233 4359.7h0M511.7 4409.6h0M432.6 4322.2h0M611.5 4472h0M603.2 4368h0M312 4105.9h0M307.8 4151.7h0M199.7 4393h0M411.8 4368h0M407.7 4368h0M574.1 4480.3h0M511.7 4151.7h0M291.2 4297.3h0M511.7 4068.5h0M449.3 4118.4h0M270.4 4380.5h0M457.6 4338.9h0M266.2 4289h0M403.5 4126.7h0M341.1 4284.8h0M224.6 4393h0M416 4268.2h0M524.2 4176.6h0M237.1 4422.1h0M578.2 4426.2h0M312 4168.3h0M594.9 4430.4h0M257.9 4338.9h0M341.1 4060.2h0M520 4347.2h0M274.6 4363.8h0M507.5 4393h0M382.7 4372.2h0M382.7 4326.4h0M582.4 4434.6h0M474.2 4338.9h0M282.9 4347.2h0M324.5 4172.5h0M287 4380.5h0M436.8 4243.2h0M436.8 4355.5h0M316.2 4338.9h0M307.8 4322.2h0M324.5 4264h0M486.7 4268.2h0M320.3 4130.9h0M499.2 4343h0M495 4276.5h0M603.2 4447h0M586.6 4467.8h0M241.3 4318.1h0M262.1 4305.6h0M287 4397.1h0M520 4047.7h0M324.5 4359.7h0M411.8 4276.5h0M565.8 4081h0M278.7 4334.7h0M407.7 4276.5h0M474.2 4230.7h0M391 4118.4h0M453.4 4305.6h0M291.2 4313.9h0M328.6 4089.3h0M312 4309.8h0M266.2 4355.5h0M270.4 4214.1h0M432.6 4388.8h0M349.4 4272.3h0M436.8 4276.5h0M312 4230.7h0M158.1 4334.7h0M436.8 4309.8h0M299.5 4322.2h0M291.2 4243.2h0M565.8 4359.7h0M299.5 4384.6h0M495 4209.9h0" stroke="#fca95e"/><path d="M449.3 4255.7h0M553.3 4401.3h0M607.4 4368h0M499.2 4313.9h0M445.1 4259.8h0M453.4 4168.3h0M291.2 4309.8h0M603.2 4388.8h0M299.5 4193.3h0M582.4 4401.3h0M640.6 4347.2h0M582.4 4409.6h0M561.6 4405.4h0M515.8 4368h0M594.9 4426.2h0M619.8 4472h0M320.3 4222.4h0M307.8 4326.4h0M478.4 4051.8h0M603.2 4422.1h0M174.7 4359.7h0M349.4 4085.1h0M495 4160h0M594.9 4343h0M345.3 4393h0M586.6 4351.4h0M328.6 4056h0M262.1 4363.8h0M574.1 4409.6h0M503.4 4201.6h0M532.5 4051.8h0M515.8 4043.5h0M453.4 4297.3h0M316.2 4097.6h0M445.1 4139.2h0M428.5 4068.5h0M366.1 4351.4h0M495 4185h0M470.1 4064.3h0M594.9 4393h0M553.3 4451.2h0M316.2 4301.4h0M499.2 4139.2h0M524.2 4201.6h0M478.4 4309.8h0M503.4 4264h0M482.6 4139.2h0M337 4126.7h0M320.3 4322.2h0M274.6 4205.8h0M557.4 4442.9h0M482.6 4289h0M599 4455.4h0M486.7 4259.8h0M482.6 4313.9h0M257.9 4322.2h0M582.4 4393h0M486.7 4193.3h0M603.2 4472h0M266.2 4372.2h0M320.3 4093.4h0M237.1 4222.4h0M332.8 4147.5h0M594.9 4372.2h0M316.2 4355.5h0M536.6 4297.3h0M303.7 4405.4h0M599 4417.9h0M528.3 4363.8h0M270.4 4334.7h0M461.8 4226.6h0M349.4 4118.4h0M540.8 4101.8h0M382.7 4101.8h0M291.2 4105.9h0M586.6 4368h0M607.4 4405.4h0M549.1 4072.6h0M241.3 4393h0M482.6 4226.6h0M257.9 4380.5h0M216.3 4301.4h0M569.9 4455.4h0M328.6 4118.4h0M536.6 4051.8h0M366.1 4347.2h0M337 4126.7h0M278.7 4368h0M428.5 4355.5h0M253.8 4234.9h0M312 4197.4h0M532.5 4380.5h0M640.6 4409.6h0M590.7 4430.4h0M436.8 4297.3h0M241.3 4247.4h0M295.4 4343h0M420.2 4297.3h0M270.4 4180.8h0M515.8 4359.7h0M524.2 4051.8h0M257.9 4284.8h0M569.9 4405.4h0M611.5 4338.9h0M345.3 4081h0M278.7 4330.6h0M624 4438.7h0M549.1 4326.4h0M199.7 4309.8h0M507.5 4110.1h0M312 4101.8h0M603.2 4434.6h0M515.8 4018.6h0M557.4 4401.3h0M407.7 4309.8h0M386.9 4264h0M307.8 4326.4h0M312 4205.8h0M578.2 4334.7h0M474.2 4035.2h0M557.4 4343h0M569.9 4467.8h0M528.3 4101.8h0M316.2 4068.5h0M582.4 4384.6h0M291.2 4135h0M291.2 4214.1h0M515.8 4384.6h0M553.3 4176.6h0M478.4 4205.8h0M582.4 4413.8h0M382.7 4330.6h0M536.6 4126.7h0M391 4218.2h0M549.1 4351.4h0M303.7 4318.1h0M220.5 4351.4h0M328.6 4234.9h0M520 4351.4h0M282.9 4309.8h0M341.1 4205.8h0M528.3 4180.8h0M545 4372.2h0M428.5 4368h0M270.4 4372.2h0M511.7 4326.4h0M453.4 4338.9h0M561.6 4060.2h0M241.3 4434.6h0M441 4368h0M499.2 4247.4h0M233 4417.9h0M528.3 4139.2h0M312 4114.2h0M524.2 4209.9h0M636.5 4409.6h0M341.1 4239h0M590.7 4405.4h0M382.7 4110.1h0M324.5 4355.5h0M257.9 4280.6h0M312 4214.1h0M328.6 4068.5h0M307.8 4318.1h0M328.6 4160h0M220.5 4417.9h0M482.6 4056h0M590.7 4401.3h0M270.4 4376.3h0M578.2 4347.2h0M495 4230.7h0M511.7 4047.7h0M461.8 4276.5h0M586.6 4397.1h0M307.8 4334.7h0M287 4305.6h0M574.1 4463.7h0M345.3 4222.4h0M507.5 4301.4h0M457.6 4259.8h0M428.5 4297.3h0M586.6 4347.2h0M540.8 4197.4h0M565.8 4426.2h0M303.7 4426.2h0M565.8 4393h0M262.1 4351.4h0M449.3 4347.2h0M378.6 4330.6h0M465.9 4330.6h0M307.8 4176.6h0M441 4122.6h0M490.9 4185h0M582.4 4405.4h0M515.8 4072.6h0M353.6 4380.5h0M445.1 4318.1h0M449.3 4280.6h0M266.2 4309.8h0M565.8 4384.6h0M470.1 4264h0M574.1 4476.2h0M453.4 4168.3h0M619.8 4401.3h0M170.6 4330.6h0M474.2 4368h0M582.4 4355.5h0M515.8 4393h0M511.7 4085.1h0M332.8 4089.3h0M486.7 4284.8h0M594.9 4434.6h0M565.8 4397.1h0M262.1 4330.6h0M262.1 4272.3h0M449.3 4355.5h0M287 4176.6h0M461.8 4180.8h0M332.8 4093.4h0M578.2 4330.6h0M482.6 4126.7h0M561.6 4363.8h0M341.1 4326.4h0M553.3 4313.9h0M511.7 4280.6h0M253.8 4422.1h0M303.7 4139.2h0M615.7 4426.2h0M295.4 4139.2h0M436.8 4247.4h0" stroke="#f88e52"/><path d="M582.4 4447h0M515.8 4018.6h0M507.5 4355.5h0M328.6 4155.8h0M361.9 4072.6h0M478.4 4130.9h0M345.3 4097.6h0M565.8 4313.9h0M495 4035.2h0M474.2 4160h0M312 4126.7h0M649 4359.7h0M320.3 4135h0M590.7 4397.1h0M303.7 4110.1h0M565.8 4447h0M332.8 4114.2h0M607.4 4388.8h0M540.8 4130.9h0M474.2 4301.4h0M524.2 4347.2h0M553.3 4409.6h0M528.3 4180.8h0M503.4 4047.7h0M345.3 4151.7h0M624 4397.1h0M586.6 4409.6h0M553.3 4343h0M578.2 4447h0M490.9 4259.8h0M574.1 4343h0M578.2 4397.1h0M582.4 4401.3h0M233 4359.7h0M540.8 4343h0M307.8 4147.5h0M586.6 4388.8h0M582.4 4376.3h0M515.8 4064.3h0M578.2 4417.9h0M520 4035.2h0M599 4388.8h0M324.5 4060.2h0M332.8 4060.2h0M274.6 4201.6h0M511.7 4338.9h0M582.4 4459.5h0M449.3 4280.6h0M345.3 4097.6h0M540.8 4376.3h0M540.8 4105.9h0M557.4 3960.3h0M503.4 4363.8h0M599 4434.6h0M528.3 4343h0M486.7 4330.6h0M545 4330.6h0M328.6 4168.3h0M465.9 4289h0M565.8 4006.1h0M357.8 4072.6h0M578.2 4472h0M540.8 4185h0M565.8 4447h0M295.4 4180.8h0M515.8 4218.2h0M557.4 4330.6h0M574.1 4459.5h0M615.7 4417.9h0M495 4081h0M619.8 4384.6h0M428.5 4172.5h0M582.4 4388.8h0M619.8 4401.3h0M599 4405.4h0M611.5 4467.8h0M507.5 4130.9h0M528.3 4322.2h0M478.4 4193.3h0M528.3 3972.8h0M524.2 4422.1h0M578.2 4355.5h0M569.9 4484.5h0M495 4280.6h0M291.2 4164.2h0M428.5 4155.8h0M619.8 4343h0M486.7 4126.7h0M520 4218.2h0M578.2 4426.2h0M320.3 4201.6h0M295.4 4209.9h0M594.9 4492.8h0M603.2 4476.2h0M603.2 4405.4h0M520 4347.2h0M549.1 4180.8h0M457.6 4259.8h0M499.2 4239h0M569.9 4384.6h0M461.8 4259.8h0M482.6 4072.6h0M490.9 4160h0M515.8 4347.2h0M528.3 4060.2h0M528.3 4309.8h0M611.5 4472h0M266.2 4343h0M495 4230.7h0M557.4 4397.1h0M511.7 4359.7h0M569.9 4405.4h0M486.7 4076.8h0M557.4 4413.8h0M495 4197.4h0M445.1 4318.1h0M549.1 4330.6h0M578.2 4497h0M574.1 4380.5h0M470.1 4334.7h0M520 4118.4h0M299.5 4380.5h0M511.7 4397.1h0M361.9 4322.2h0M490.9 4230.7h0M495 4309.8h0M536.6 4143.4h0M557.4 4214.1h0M607.4 4359.7h0M520 4326.4h0M187.2 4372.2h0M499.2 4205.8h0M524.2 4376.3h0M590.7 3922.9h0M603.2 4434.6h0M490.9 4243.2h0M557.4 4413.8h0M366.1 4305.6h0M490.9 4347.2h0M349.4 4089.3h0M233 4297.3h0M287 4164.2h0M295.4 4164.2h0M569.9 4334.7h0M370.2 4072.6h0M549.1 4388.8h0M320.3 4060.2h0M586.6 4422.1h0M528.3 4039.4h0M599 4451.2h0M470.1 4301.4h0M565.8 4143.4h0M520 4305.6h0M474.2 4305.6h0M599 4368h0M499.2 4072.6h0M228.8 4388.8h0M382.7 4363.8h0M532.5 4047.7h0M324.5 4122.6h0M586.6 4492.8h0M474.2 4176.6h0M586.6 4376.3h0M482.6 4147.5h0M520 4110.1h0M332.8 4076.8h0M295.4 4089.3h0M582.4 4405.4h0M549.1 3860.5h0M569.9 4426.2h0M565.8 4459.5h0M553.3 4488.6h0M586.6 4388.8h0M565.8 4401.3h0" stroke="#f57246"/><path d="M540.8 3927h0M603.2 4442.9h0M578.2 4484.5h0M561.6 3943.7h0M282.9 4114.2h0M574.1 3906.2h0M599 4409.6h0M569.9 3927h0M515.8 4043.5h0M578.2 4442.9h0M636.5 4363.8h0M615.7 4384.6h0M611.5 4330.6h0M561.6 3885.4h0M632.3 4417.9h0M599 4459.5h0M499.2 4343h0M515.8 4201.6h0M549.1 4006.1h0M574.1 4430.4h0M474.2 4205.8h0M557.4 4438.7h0M599 4413.8h0M549.1 3977h0M557.4 3906.2h0M578.2 3939.5h0M615.7 4417.9h0M474.2 4239h0M557.4 4422.1h0M582.4 4488.6h0M565.8 4451.2h0M607.4 4405.4h0M411.8 4047.7h0M524.2 4384.6h0M561.6 4409.6h0M599 3885.4h0M599 4409.6h0M569.9 4388.8h0M561.6 4368h0M582.4 4409.6h0M569.9 4438.7h0M603.2 3889.6h0M536.6 3972.8h0M536.6 4334.7h0M590.7 4376.3h0M578.2 4422.1h0M574.1 4401.3h0M553.3 3922.9h0M557.4 4001.9h0M586.6 4422.1h0M565.8 4472h0M565.8 4459.5h0M540.8 3956.2h0M586.6 4422.1h0M553.3 4089.3h0M578.2 3935.4h0M474.2 4197.4h0M495 4068.5h0M540.8 4081h0M640.6 4359.7h0M486.7 4151.7h0M486.7 4264h0M503.4 4035.2h0M532.5 4355.5h0M569.9 4068.5h0M607.4 4393h0M532.5 3989.4h0M594.9 4430.4h0M507.5 4047.7h0M611.5 4422.1h0M565.8 4359.7h0M515.8 4168.3h0M565.8 4376.3h0M611.5 4455.4h0M578.2 3927h0M490.9 4135h0M632.3 4372.2h0M574.1 4492.8h0M603.2 4438.7h0M337 4205.8h0M565.8 4347.2h0M478.4 4164.2h0M490.9 4201.6h0M594.9 4434.6h0M474.2 4185h0M299.5 4209.9h0M594.9 4363.8h0M603.2 4413.8h0M478.4 4176.6h0M478.4 4247.4h0M649 4376.3h0M594.9 3972.8h0M536.6 4397.1h0M499.2 4330.6h0" stroke="#ea5d47"/><path d="M549.1 3972.8h0M578.2 3993.6h0M545 3893.8h0M549.1 3981.1h0M586.6 3914.6h0M586.6 4430.4h0M569.9 3914.6h0M582.4 3972.8h0M582.4 3964.5h0M553.3 4430.4h0M565.8 3997.8h0M536.6 3964.5h0M619.8 3943.7h0M536.6 4355.5h0M328.6 4097.6h0M553.3 3972.8h0M561.6 4351.4h0M574.1 3939.5h0M624 3922.9h0M486.7 4172.5h0M574.1 3993.6h0M594.9 4405.4h0M586.6 3860.5h0M557.4 3914.6h0M569.9 3935.4h0M603.2 4363.8h0M586.6 4472h0M565.8 3922.9h0M599 4409.6h0M524.2 4388.8h0M582.4 3881.3h0M607.4 3972.8h0M532.5 3952h0M569.9 4047.7h0M545 4018.6h0M615.7 4401.3h0M557.4 3997.8h0M594.9 4426.2h0M561.6 4001.9h0M528.3 3964.5h0M569.9 3939.5h0M503.4 4089.3h0M503.4 4097.6h0M561.6 3993.6h0M574.1 3943.7h0M545 3910.4h0M574.1 4035.2h0M582.4 4492.8h0M553.3 3989.4h0M528.3 3952h0M590.7 4438.7h0M295.4 4180.8h0M594.9 4347.2h0M557.4 3960.3h0M578.2 3906.2h0M603.2 3947.8h0M495 4122.6h0M582.4 4384.6h0M586.6 3889.6h0M478.4 4193.3h0M574.1 4006.1h0M549.1 3927h0M532.5 3960.3h0M582.4 4060.2h0M565.8 3902.1h0M565.8 4393h0M536.6 4313.9h0M582.4 3889.6h0" stroke="#dd4a4c"/><path d="M549.1 4039.4h0M594.9 3914.6h0M532.5 3914.6h0M565.8 3972.8h0M569.9 3939.5h0M528.3 3981.1h0M586.6 3910.4h0M540.8 4018.6h0M615.7 3952h0M628.2 3939.5h0M594.9 3952h0M557.4 3939.5h0M532.5 3981.1h0M569.9 3985.3h0M607.4 3881.3h0M603.2 3922.9h0M615.7 3885.4h0M586.6 3939.5h0M599 3893.8h0M611.5 4397.1h0M569.9 3989.4h0M524.2 3968.6h0M569.9 4014.4h0M586.6 3902.1h0M569.9 3881.3h0M624 3977h0M590.7 3910.4h0M561.6 4001.9h0M578.2 4010.2h0M578.2 3931.2h0M569.9 3989.4h0M561.6 3914.6h0M532.5 3968.6h0M569.9 3943.7h0M574.1 4006.1h0M586.6 3981.1h0M561.6 4060.2h0M574.1 4405.4h0M569.9 3993.6h0M515.8 4301.4h0M553.3 3952h0M549.1 3964.5h0M528.3 3935.4h0M557.4 3881.3h0M557.4 3964.5h0M582.4 3952h0M532.5 3993.6h0M578.2 3889.6h0M549.1 3985.3h0M574.1 3981.1h0M578.2 3918.7h0M561.6 4039.4h0M599 3864.6h0M561.6 3918.7h0M553.3 3943.7h0M578.2 3952h0M578.2 3935.4h0M574.1 3935.4h0M569.9 3856.3h0M540.8 3922.9h0M607.4 3910.4h0M569.9 3985.3h0M540.8 3935.4h0" stroke="#cc344d"/><path d="M569.9 4006.1h0M545 4014.4h0M545 3977h0M578.2 3964.5h0M553.3 3960.3h0M603.2 3922.9h0M553.3 3993.6h0M557.4 3922.9h0M545 3985.3h0M553.3 3993.6h0M540.8 3960.3h0M603.2 3922.9h0M557.4 3956.2h0M590.7 3927h0M524.2 3922.9h0M574.1 3956.2h0M545 3931.2h0M582.4 3864.6h0M569.9 3956.2h0M582.4 3939.5h0M603.2 4006.1h0M582.4 3873h0M553.3 3893.8h0M569.9 3935.4h0M611.5 3902.1h0M582.4 3956.2h0M536.6 4006.1h0M599 3860.5h0M557.4 3997.8h0M586.6 3935.4h0M561.6 3956.2h0M532.5 3943.7h0M557.4 3968.6h0M578.2 3956.2h0M565.8 3972.8h0M590.7 3889.6h0M524.2 4018.6h0M540.8 4010.2h0M536.6 3935.4h0M565.8 3868.8h0M565.8 3993.6h0M569.9 3860.5h0M599 3881.3h0M528.3 3972.8h0M540.8 3943.7h0M578.2 3927h0M569.9 3985.3h0M553.3 3947.8h0M594.9 3997.8h0" stroke="#b51a47"/><path d="M561.6 3885.4h0M569.9 3910.4h0M569.9 3860.5h0M586.6 3906.2h0M599 3927h0M578.2 3952h0M553.3 3927h0M569.9 3952h0M624 3864.6h0M565.8 4039.4h0M549.1 3993.6h0M590.7 3947.8h0M565.8 3964.5h0M532.5 3935.4h0M582.4 3960.3h0M565.8 3943.7h0M540.8 3977h0M578.2 3935.4h0M536.6 3964.5h0M536.6 3964.5h0M549.1 3939.5h0M553.3 3956.2h0M569.9 3960.3h0M549.1 3927h0" stroke="#9e0142"/></g>
<g fill="none" stroke-width="8.6" stroke-linecap="square" stroke-opacity="0.88"><path d="M944.3 4239h0M1077.4 4268.2h0M990.1 4322.2h0M981.8 4255.7h0M1110.7 4359.7h0M1210.6 4393h0" stroke="#3f96b7"/><path d="M1148.2 4359.7h0M881.9 4289h0M1119 4313.9h0" stroke="#55afad"/><path d="M1173.1 4313.9h0M1135.7 4114.2h0" stroke="#6cc4a5"/><path d="M973.4 4297.3h0M1127.4 4347.2h0M911 4284.8h0" stroke="#88d0a4"/><path d="M965.1 4326.4h0M1310.4 4393h0" stroke="#a5dba4"/><path d="M923.5 4359.7h0" stroke="#bfe5a0"/><path d="M1077.4 4247.4h0M931.8 4338.9h0M894.4 4326.4h0M898.6 4343h0" stroke="#eaf79e"/><path d="M1260.5 4459.5h0M1273 4397.1h0M961 4289h0M973.4 4293.1h0M1040 4347.2h0M1098.2 4280.6h0M1160.6 4318.1h0M1106.6 4409.6h0M1040 4264h0M1264.6 4401.3h0M961 4289h0M898.6 4297.3h0M952.6 4330.6h0M1098.2 4330.6h0M898.6 4405.4h0M1131.5 4264h0" stroke="#f5fbaf"/><path d="M1035.8 4330.6h0M1110.7 4388.8h0M1277.1 4384.6h0M1127.4 4305.6h0M1106.6 4313.9h0M906.9 4409.6h0M998.4 4284.8h0M969.3 4422.1h0M923.5 4338.9h0M1243.8 4413.8h0M1106.6 4393h0M956.8 4330.6h0M1081.6 4322.2h0M1127.4 4297.3h0M1248 4372.2h0M1023.4 4343h0M1002.6 4338.9h0M969.3 4268.2h0M1085.8 4297.3h0M915.2 4405.4h0M1056.6 4305.6h0M969.3 4293.1h0M911 4309.8h0M890.2 4297.3h0M1081.6 4318.1h0M881.9 4355.5h0M1189.8 4363.8h0M956.8 4313.9h0M857 4430.4h0M940.2 4338.9h0M1098.2 4122.6h0M840.3 4355.5h0M919.4 4401.3h0M1098.2 4251.5h0M894.4 4313.9h0M931.8 4401.3h0M1114.9 4384.6h0M902.7 4422.1h0M919.4 4380.5h0M1260.5 4397.1h0M902.7 4363.8h0M998.4 4293.1h0M894.4 4422.1h0M981.8 4384.6h0M977.6 4363.8h0M1139.8 4318.1h0M1110.7 4351.4h0M881.9 4388.8h0M948.5 4268.2h0M1268.8 4438.7h0M931.8 4309.8h0M1135.7 4347.2h0M1281.3 4434.6h0M1214.7 4413.8h0M1177.3 4409.6h0M1073.3 4305.6h0M1268.8 4442.9h0M1135.7 4276.5h0M977.6 4309.8h0M865.3 4422.1h0M1169 4363.8h0M956.8 4239h0M1123.2 4322.2h0M1119 4318.1h0M1264.6 4393h0M936 4359.7h0M1069.1 4376.3h0M961 4280.6h0M1169 4280.6h0" stroke="#ffffbf"/><path d="M952.6 4318.1h0M1119 4318.1h0M1077.4 4297.3h0M869.4 4388.8h0M1019.2 4334.7h0M1123.2 4259.8h0M1040 4284.8h0M1106.6 4384.6h0M977.6 4322.2h0M1164.8 4351.4h0M911 4259.8h0M1302.1 4347.2h0M985.9 4284.8h0M1285.4 4363.8h0M1185.6 4338.9h0M1098.2 4334.7h0M927.7 4305.6h0M1060.8 4330.6h0M1185.6 4322.2h0M1048.3 4347.2h0M1102.4 4289h0M1085.8 4293.1h0M1106.6 4334.7h0M948.5 4251.5h0M1123.2 4326.4h0M1177.3 4313.9h0M1110.7 4313.9h0M973.4 4355.5h0M1077.4 4343h0M1243.8 4417.9h0M1123.2 4297.3h0M956.8 4301.4h0M952.6 4318.1h0M1056.6 4334.7h0M1098.2 4276.5h0M948.5 4234.9h0M906.9 4276.5h0M881.9 4388.8h0M906.9 4401.3h0M969.3 4351.4h0M923.5 4334.7h0M1015 4326.4h0M902.7 4289h0M1144 4372.2h0M911 4372.2h0M1135.7 4297.3h0M1156.5 4355.5h0M1248 4463.7h0M923.5 4330.6h0M906.9 4347.2h0M1243.8 4459.5h0M881.9 4289h0M1023.4 4255.7h0M1098.2 4368h0M911 4301.4h0M931.8 4293.1h0M956.8 4343h0M1152.3 4355.5h0M894.4 4359.7h0M965.1 4405.4h0M965.1 4355.5h0M1123.2 4338.9h0M1110.7 4289h0M948.5 4264h0M1077.4 4289h0M994.2 4330.6h0M923.5 4272.3h0M1015 4251.5h0M1094.1 4297.3h0M1260.5 4426.2h0M1135.7 4305.6h0M927.7 4426.2h0M985.9 4313.9h0M936 4326.4h0M1094.1 4268.2h0M873.6 4368h0M940.2 4330.6h0M898.6 4251.5h0M1015 4293.1h0M1052.5 4280.6h0M956.8 4413.8h0M1019.2 4318.1h0M1040 4276.5h0M927.7 4393h0M1106.6 4309.8h0M1094.1 4343h0M1106.6 4338.9h0M1239.7 4384.6h0M931.8 4276.5h0M1065 4388.8h0M1164.8 4334.7h0M1119 4393h0M936 4289h0M1085.8 4322.2h0M1098.2 4305.6h0M877.8 4393h0M931.8 4293.1h0M1177.3 4255.7h0M902.7 4280.6h0M848.6 4359.7h0M961 4334.7h0M944.3 4205.8h0M1085.8 4289h0M952.6 4330.6h0M906.9 4413.8h0M1010.9 4318.1h0M1085.8 4105.9h0M881.9 4397.1h0M961 4247.4h0M915.2 4322.2h0M961 4276.5h0M981.8 4376.3h0M1248 4368h0M1139.8 4301.4h0M985.9 4239h0M1273 4397.1h0M1156.5 4322.2h0M965.1 4280.6h0M1239.7 4417.9h0M902.7 4289h0M1202.2 4351.4h0M981.8 4284.8h0M1102.4 4322.2h0M1010.9 4413.8h0M919.4 4330.6h0M906.9 4393h0M1106.6 4289h0M1077.4 4372.2h0M1260.5 4451.2h0M906.9 4384.6h0M1085.8 4368h0M1256.3 4393h0M923.5 4293.1h0M906.9 4230.7h0M969.3 4313.9h0M1185.6 4347.2h0M906.9 4334.7h0M1040 4334.7h0M1073.3 4330.6h0M1152.3 4313.9h0M961 4301.4h0M990.1 4284.8h0M973.4 4313.9h0M1102.4 4351.4h0M1177.3 4380.5h0M1131.5 4326.4h0M1252.2 4430.4h0M1202.2 4376.3h0M1023.4 4326.4h0M931.8 4305.6h0M1119 4284.8h0M1214.7 4368h0M1110.7 4305.6h0M1239.7 4384.6h0M1119 4259.8h0M1131.5 4405.4h0M1123.2 4363.8h0M1073.3 4347.2h0M1235.5 4422.1h0M1248 4384.6h0M1268.8 4405.4h0M1273 4472h0M1268.8 4368h0M1239.7 4480.3h0M940.2 4422.1h0M1031.7 4259.8h0M1152.3 4313.9h0M1181.4 4397.1h0M1102.4 4322.2h0M948.5 4255.7h0M1131.5 4376.3h0M890.2 4330.6h0M1243.8 4426.2h0M1256.3 4430.4h0M923.5 4384.6h0M1119 4347.2h0M961 4326.4h0M894.4 4422.1h0M1248 4434.6h0M1094.1 4338.9h0M902.7 4259.8h0M948.5 4442.9h0M956.8 4351.4h0M1148.2 4343h0M1131.5 4293.1h0M1260.5 4434.6h0M1268.8 4447h0M1252.2 4467.8h0M1185.6 4388.8h0M1069.1 4247.4h0M840.3 4343h0M1156.5 4318.1h0M1065 4284.8h0M1119 4251.5h0M869.4 4268.2h0M1027.5 4247.4h0M1227.2 4359.7h0M1035.8 4347.2h0M969.3 4255.7h0" stroke="#fff2a9"/><path d="M1106.6 4284.8h0M1035.8 4355.5h0M1218.9 4401.3h0M1177.3 4347.2h0M1098.2 4289h0M877.8 4409.6h0M1027.5 4363.8h0M944.3 4280.6h0M1119 4351.4h0M936 4334.7h0M902.7 4334.7h0M956.8 4376.3h0M1164.8 4347.2h0M1273 4368h0M1156.5 4289h0M902.7 4393h0M944.3 4289h0M981.8 4343h0M840.3 4338.9h0M881.9 4305.6h0M1248 4409.6h0M890.2 4388.8h0M944.3 4313.9h0M1181.4 4368h0M990.1 4313.9h0M961 4326.4h0M985.9 4305.6h0M944.3 4309.8h0M956.8 4309.8h0M973.4 4330.6h0M948.5 4313.9h0M1060.8 4343h0M1281.3 4472h0M1144 4313.9h0M919.4 4372.2h0M1089.9 4301.4h0M1119 4309.8h0M948.5 4309.8h0M1114.9 4272.3h0M1102.4 4343h0M1264.6 4422.1h0M919.4 4289h0M1073.3 4363.8h0M1077.4 4313.9h0M911 4280.6h0M1256.3 4338.9h0M985.9 4305.6h0M890.2 4301.4h0M1106.6 4243.2h0M1164.8 4247.4h0M1235.5 4409.6h0M1089.9 4330.6h0M998.4 4359.7h0M1073.3 4388.8h0M923.5 4284.8h0M936 4293.1h0M948.5 4284.8h0M911 4359.7h0M1164.8 4334.7h0M952.6 4305.6h0M1052.5 4268.2h0M931.8 4301.4h0M1073.3 4272.3h0M1256.3 4393h0M981.8 4276.5h0M969.3 4293.1h0M1094.1 4330.6h0M973.4 4318.1h0M1114.9 4347.2h0M961 4322.2h0M1044.2 4234.9h0M961 4338.9h0M944.3 4293.1h0M1127.4 4363.8h0M948.5 4289h0M965.1 4268.2h0M1218.9 4442.9h0M961 4326.4h0M931.8 4313.9h0M890.2 4276.5h0M836.2 4330.6h0M1060.8 4384.6h0M952.6 4347.2h0M1264.6 4455.4h0M1031.7 4334.7h0M1010.9 4309.8h0M1081.6 4318.1h0M923.5 4409.6h0M1243.8 4393h0M1052.5 4347.2h0M1268.8 4472h0M927.7 4309.8h0M919.4 4393h0M1135.7 4309.8h0M861.1 4318.1h0M1260.5 4372.2h0M919.4 4326.4h0M1044.2 4363.8h0M1089.9 4081h0M948.5 4284.8h0M1077.4 4343h0M898.6 4305.6h0M1135.7 4347.2h0M1035.8 4355.5h0M1264.6 4417.9h0M998.4 4355.5h0M1193.9 4363.8h0M873.6 4384.6h0M919.4 4359.7h0M998.4 4284.8h0M927.7 4309.8h0M911 4276.5h0M965.1 4247.4h0M1156.5 4326.4h0M1060.8 4359.7h0M919.4 4376.3h0M919.4 4368h0M1052.5 4284.8h0M1252.2 4368h0M1273 4405.4h0M1114.9 4355.5h0M965.1 4293.1h0M998.4 4372.2h0M1235.5 4455.4h0M873.6 4259.8h0M969.3 4305.6h0M923.5 4401.3h0M1027.5 4289h0M1135.7 4272.3h0M1077.4 4343h0M927.7 4334.7h0M902.7 4388.8h0M1198.1 4380.5h0M994.2 4347.2h0M961 4368h0M1256.3 4430.4h0M969.3 4409.6h0M1031.7 4363.8h0M1181.4 4355.5h0M1181.4 4384.6h0M936 4338.9h0M919.4 4363.8h0M1094.1 4297.3h0M1235.5 4405.4h0M915.2 4430.4h0M1073.3 4293.1h0M931.8 4313.9h0M956.8 4334.7h0M1214.7 4322.2h0M1114.9 4351.4h0M1015 4297.3h0M952.6 4313.9h0M961 4297.3h0M1027.5 4297.3h0M965.1 4347.2h0M1135.7 4334.7h0M1144 4289h0M973.4 4264h0M923.5 4322.2h0M881.9 4384.6h0M965.1 4417.9h0M965.1 4243.2h0M944.3 4355.5h0M1218.9 4401.3h0M1123.2 4397.1h0M1135.7 4372.2h0M948.5 4293.1h0M1065 4272.3h0M1239.7 4334.7h0M1127.4 4114.2h0M1223 4343h0M1106.6 4330.6h0M1235.5 4467.8h0M961 4268.2h0M1081.6 4255.7h0M1119 4334.7h0M952.6 4359.7h0M948.5 4326.4h0M952.6 4355.5h0M944.3 4251.5h0M948.5 4318.1h0M919.4 4305.6h0M1131.5 4326.4h0M906.9 4322.2h0M1248 4384.6h0M906.9 4376.3h0M1144 4368h0M1144 4368h0M956.8 4368h0M911 4376.3h0M973.4 4293.1h0M1131.5 4368h0M1181.4 4380.5h0M961 4351.4h0M1044.2 4309.8h0M952.6 4405.4h0M1135.7 4322.2h0M1248 4413.8h0M936 4305.6h0M902.7 4397.1h0M1214.7 4351.4h0M911 4401.3h0M952.6 4284.8h0M1131.5 4326.4h0M1069.1 4284.8h0M1006.7 4305.6h0M977.6 4297.3h0M952.6 4343h0M1148.2 4368h0M923.5 4247.4h0M1210.6 4368h0M1019.2 4297.3h0M952.6 4318.1h0M1056.6 4305.6h0M1177.3 4326.4h0M865.3 4401.3h0M1139.8 4409.6h0M952.6 4372.2h0M956.8 4272.3h0M1169 4309.8h0M844.5 4343h0M898.6 4405.4h0M1010.9 4326.4h0M873.6 4363.8h0M836.2 4343h0M961 4239h0M1144 4309.8h0M1210.6 4334.7h0M1302.1 4405.4h0M911 4359.7h0M998.4 4259.8h0M1048.3 4351.4h0M915.2 4289h0M944.3 4355.5h0M981.8 4351.4h0M1073.3 4347.2h0M1256.3 4405.4h0M902.7 4384.6h0M906.9 4268.2h0M890.2 4338.9h0M1127.4 4293.1h0M906.9 4280.6h0M1131.5 4313.9h0M1256.3 4401.3h0M1243.8 4347.2h0M936 4384.6h0M1102.4 4338.9h0M927.7 4289h0M1252.2 4397.1h0M927.7 4284.8h0M911 4355.5h0M1210.6 4355.5h0M1114.9 4268.2h0M944.3 4305.6h0M1252.2 4347.2h0M1131.5 4355.5h0M915.2 4422.1h0M944.3 4359.7h0M1231.4 4426.2h0M1144 4293.1h0M1227.2 4393h0M931.8 4247.4h0M1160.6 4330.6h0M840.3 4334.7h0M1173.1 4318.1h0M1144 4301.4h0M1202.2 4043.5h0M894.4 4313.9h0M1106.6 4338.9h0M1248 4405.4h0M1081.6 4326.4h0M1035.8 4326.4h0M1048.3 4209.9h0M894.4 4359.7h0M865.3 4309.8h0M1210.6 4305.6h0M1231.4 4380.5h0M981.8 4297.3h0M952.6 4338.9h0M906.9 4301.4h0M1169 4297.3h0M944.3 4401.3h0M1173.1 4164.2h0M1281.3 4401.3h0M873.6 4363.8h0M1106.6 4322.2h0M1248 4355.5h0M1181.4 4393h0M952.6 4363.8h0M906.9 4293.1h0M965.1 4376.3h0M1094.1 4322.2h0M890.2 4413.8h0M1119 4338.9h0M1231.4 4397.1h0M881.9 4322.2h0M936 4355.5h0M961 4276.5h0M877.8 4388.8h0M1206.4 4334.7h0M990.1 4313.9h0M923.5 4305.6h0M1243.8 4330.6h0M961 4322.2h0M969.3 4334.7h0M1102.4 4343h0M911 4322.2h0M1227.2 4363.8h0M1056.6 4368h0M1114.9 4351.4h0M1218.9 4313.9h0M1277.1 4426.2h0" stroke="#fee594"/><path d="M931.8 4347.2h0M1210.6 4343h0M1173.1 4355.5h0M919.4 4322.2h0M906.9 4384.6h0M952.6 4313.9h0M990.1 4380.5h0M956.8 4359.7h0M1123.2 4243.2h0M973.4 4313.9h0M1231.4 4313.9h0M994.2 4351.4h0M952.6 4409.6h0M1089.9 4384.6h0M931.8 4297.3h0M1056.6 4376.3h0M1314.6 4355.5h0M1268.8 4388.8h0M915.2 4280.6h0M990.1 4205.8h0M1256.3 4397.1h0M1248 4401.3h0M1227.2 4401.3h0M1164.8 4351.4h0M1231.4 4447h0M1027.5 4309.8h0M1273 4388.8h0M969.3 4280.6h0M1260.5 4426.2h0M1027.5 4359.7h0M998.4 4326.4h0M881.9 4268.2h0M948.5 4330.6h0M906.9 4272.3h0M927.7 4334.7h0M1218.9 4409.6h0M1044.2 4330.6h0M1002.6 4276.5h0M998.4 4251.5h0M936 4259.8h0M977.6 4334.7h0M1289.6 4397.1h0M1248 4409.6h0M1019.2 4318.1h0M1048.3 4347.2h0M1252.2 4351.4h0M923.5 4276.5h0M886.1 4351.4h0M1243.8 4442.9h0M990.1 4309.8h0M1239.7 4343h0M1040 4309.8h0M1243.8 4397.1h0M898.6 4338.9h0M873.6 4372.2h0M1243.8 4401.3h0M923.5 4338.9h0M1152.3 4355.5h0M944.3 4272.3h0M1135.7 4343h0M936 4397.1h0M1085.8 4280.6h0M1206.4 4343h0M923.5 4326.4h0M1081.6 4293.1h0M906.9 4280.6h0M998.4 4297.3h0M894.4 4297.3h0M1248 4376.3h0M985.9 4209.9h0M1243.8 4417.9h0M977.6 4201.6h0M1264.6 4388.8h0M1218.9 4451.2h0M1123.2 4338.9h0M1106.6 4189.1h0M948.5 4343h0M1073.3 4114.2h0M1177.3 4338.9h0M1243.8 4459.5h0M931.8 4289h0M923.5 4347.2h0M1031.7 4247.4h0M923.5 4338.9h0M1206.4 4376.3h0M965.1 4372.2h0M931.8 4305.6h0M1169 4363.8h0M1264.6 4434.6h0M1193.9 4343h0M1135.7 4372.2h0M973.4 4322.2h0M1210.6 4330.6h0M936 4334.7h0M931.8 4284.8h0M1114.9 4330.6h0M923.5 4422.1h0M1144 4318.1h0M1015 4322.2h0M952.6 4309.8h0M981.8 4363.8h0M919.4 4409.6h0M981.8 4255.7h0M1098.2 4313.9h0M1085.8 4359.7h0M944.3 4338.9h0M1243.8 4472h0M911 4380.5h0M1073.3 4326.4h0M961 4359.7h0M1123.2 4105.9h0M1135.7 4372.2h0M1227.2 4447h0M985.9 4322.2h0M919.4 4326.4h0M944.3 4405.4h0M1198.1 4343h0M1040 4372.2h0M1223 4330.6h0M1239.7 4459.5h0M952.6 4326.4h0M1210.6 4164.2h0M1281.3 4417.9h0M1031.7 4322.2h0M1135.7 4347.2h0M952.6 4280.6h0M1123.2 4276.5h0M1285.4 4384.6h0M952.6 4384.6h0M1102.4 4305.6h0M919.4 4417.9h0M911 4272.3h0M965.1 4393h0M952.6 4218.2h0M915.2 4280.6h0M1243.8 4388.8h0M1056.6 4309.8h0M948.5 4368h0M1077.4 4322.2h0M1277.1 4467.8h0M948.5 4334.7h0M1193.9 4322.2h0M919.4 4318.1h0M1156.5 4259.8h0M952.6 4289h0M1002.6 4301.4h0M1306.2 4409.6h0M890.2 4293.1h0M1114.9 4272.3h0M1152.3 4355.5h0M894.4 4272.3h0M894.4 4272.3h0M881.9 4239h0M1123.2 4168.3h0M1189.8 4422.1h0M1243.8 4351.4h0M852.8 4338.9h0M1235.5 4480.3h0M1123.2 4309.8h0M927.7 4272.3h0M1156.5 4322.2h0M1273 4338.9h0M1289.6 4438.7h0M990.1 4384.6h0M1164.8 4322.2h0M969.3 4268.2h0M1073.3 4313.9h0M877.8 4268.2h0M936 4280.6h0M940.2 4393h0M1268.8 4434.6h0M1123.2 4326.4h0M1239.7 4426.2h0M977.6 4343h0M906.9 4326.4h0M898.6 4417.9h0M886.1 4280.6h0M915.2 4409.6h0M1160.6 4301.4h0M1160.6 4368h0M936 4305.6h0M1152.3 4318.1h0M956.8 4343h0M1123.2 4330.6h0M1127.4 4293.1h0M1085.8 4272.3h0M894.4 4393h0M944.3 4276.5h0M898.6 4313.9h0M931.8 4293.1h0M1123.2 4226.6h0M1193.9 4318.1h0M1268.8 4405.4h0M1185.6 4347.2h0M1152.3 4255.7h0M1060.8 4218.2h0M944.3 4351.4h0M965.1 4372.2h0M1156.5 4326.4h0M1040 4301.4h0M915.2 4268.2h0M1114.9 4355.5h0M1006.7 4205.8h0M911 4405.4h0M961 4280.6h0M1235.5 4384.6h0M1002.6 4388.8h0M902.7 4393h0M1069.1 4297.3h0M981.8 4368h0M915.2 4388.8h0M1181.4 4347.2h0M1006.7 4247.4h0M1193.9 4305.6h0M940.2 4309.8h0M952.6 4359.7h0M1069.1 4338.9h0M1277.1 4472h0M1189.8 4313.9h0M1044.2 4318.1h0M956.8 4176.6h0M869.4 4401.3h0M1027.5 4293.1h0M940.2 4326.4h0M902.7 4426.2h0M1177.3 4355.5h0M973.4 4322.2h0M1152.3 4359.7h0M940.2 4334.7h0M998.4 4351.4h0M961 4214.1h0M1223 4413.8h0M1114.9 4368h0M940.2 4309.8h0M1006.7 4384.6h0M1164.8 4326.4h0M965.1 4359.7h0M931.8 4343h0M1152.3 4351.4h0M927.7 4384.6h0M931.8 4297.3h0M936 4276.5h0M1214.7 4330.6h0M923.5 4264h0M973.4 4388.8h0M1235.5 4380.5h0M1010.9 4338.9h0M1081.6 4318.1h0M881.9 4326.4h0M886.1 4326.4h0M1177.3 4397.1h0M936 4297.3h0M1114.9 4293.1h0M1135.7 4380.5h0M927.7 4334.7h0M1164.8 4368h0M948.5 4284.8h0M965.1 4347.2h0M1081.6 4401.3h0M965.1 4309.8h0M1127.4 4326.4h0M1085.8 4301.4h0M902.7 4388.8h0M1177.3 4068.5h0M836.2 4334.7h0M1268.8 4359.7h0M1210.6 4056h0M1173.1 4313.9h0M1189.8 4376.3h0M1019.2 4068.5h0M931.8 4326.4h0M981.8 4380.5h0M936 4372.2h0M1268.8 4434.6h0M915.2 4301.4h0M1223 4413.8h0M1123.2 4372.2h0M965.1 4334.7h0M940.2 4301.4h0M1015 4276.5h0M1085.8 4259.8h0M1239.7 4463.7h0M1156.5 4347.2h0M961 4313.9h0M915.2 4384.6h0M985.9 4322.2h0M1035.8 4297.3h0M1123.2 4338.9h0M911 4338.9h0M1110.7 4284.8h0M877.8 4330.6h0M1235.5 4334.7h0M1006.7 4284.8h0M977.6 4280.6h0M1214.7 4388.8h0M1173.1 4309.8h0M1252.2 4422.1h0M1102.4 4338.9h0M998.4 4359.7h0M1264.6 4447h0M915.2 4422.1h0M1056.6 4351.4h0M973.4 4422.1h0M1185.6 4305.6h0M1015 4272.3h0M1264.6 4368h0M1031.7 4259.8h0M923.5 4268.2h0M965.1 4338.9h0M1239.7 4476.2h0M981.8 4338.9h0M1252.2 4492.8h0M919.4 4297.3h0M1048.3 4338.9h0M1248 4376.3h0M1131.5 4268.2h0M1052.5 4110.1h0M1060.8 4393h0M1152.3 4330.6h0M915.2 4393h0M919.4 4301.4h0M1235.5 4426.2h0M1231.4 4459.5h0M981.8 4309.8h0M931.8 4272.3h0M1040 4338.9h0M1206.4 4330.6h0M1218.9 4488.6h0M1119 4280.6h0M1081.6 4355.5h0M973.4 4372.2h0M894.4 4434.6h0M865.3 4259.8h0M1085.8 4347.2h0M956.8 4368h0M1006.7 4347.2h0M1252.2 4388.8h0M1169 4330.6h0M1156.5 4259.8h0M1231.4 4401.3h0" stroke="#fed480"/><path d="M1248 4442.9h0M886.1 4297.3h0M952.6 4401.3h0M927.7 4388.8h0M1156.5 4118.4h0M877.8 4380.5h0M1102.4 4160h0M1239.7 4480.3h0M961 4338.9h0M1098.2 4322.2h0M1094.1 4289h0M1164.8 4234.9h0M886.1 4180.8h0M1139.8 4201.6h0M1152.3 4355.5h0M898.6 4430.4h0M1193.9 4309.8h0M940.2 4393h0M923.5 4214.1h0M940.2 4272.3h0M1189.8 4343h0M1085.8 4259.8h0M898.6 4397.1h0M1119 4297.3h0M998.4 4388.8h0M948.5 4272.3h0M1185.6 4351.4h0M1218.9 4343h0M927.7 4376.3h0M927.7 4272.3h0M931.8 4305.6h0M1089.9 4347.2h0M923.5 4363.8h0M1027.5 4289h0M1006.7 4309.8h0M1094.1 4268.2h0M1002.6 4255.7h0M911 4417.9h0M1243.8 4442.9h0M1302.1 4363.8h0M1135.7 4234.9h0M944.3 4268.2h0M1281.3 4384.6h0M890.2 4368h0M944.3 4355.5h0M1248 4384.6h0M1297.9 4417.9h0M961 4218.2h0M977.6 4305.6h0M940.2 4305.6h0M1077.4 4397.1h0M1264.6 4459.5h0M894.4 4318.1h0M981.8 4276.5h0M1152.3 4289h0M1006.7 4222.4h0M1169 4338.9h0M931.8 4309.8h0M1127.4 4309.8h0M956.8 4393h0M931.8 4401.3h0M1114.9 4326.4h0M886.1 4409.6h0M961 4293.1h0M1260.5 4413.8h0M1048.3 4376.3h0M961 4226.6h0M906.9 4209.9h0M911 4209.9h0M894.4 4251.5h0M1102.4 4313.9h0M990.1 4301.4h0M1277.1 4417.9h0M1015 4247.4h0M985.9 4305.6h0M1056.6 4359.7h0M1135.7 4264h0M1223 4422.1h0M1248 4488.6h0M1173.1 4334.7h0M1127.4 4318.1h0M1231.4 4447h0M981.8 4259.8h0M952.6 4363.8h0M1273 4401.3h0M1069.1 4359.7h0M998.4 4110.1h0M965.1 4151.7h0M911 4372.2h0M1189.8 4380.5h0M1019.2 4347.2h0M965.1 4318.1h0M1227.2 4409.6h0M898.6 4405.4h0M1069.1 4347.2h0M1044.2 4334.7h0M1081.6 4268.2h0M1264.6 4409.6h0M1231.4 4388.8h0M906.9 4234.9h0M965.1 4247.4h0M1231.4 4438.7h0M1181.4 4297.3h0M1114.9 4347.2h0M1285.4 4401.3h0M1264.6 4405.4h0M1010.9 4289h0M1152.3 4289h0M1119 4388.8h0M1114.9 4318.1h0M1106.6 4330.6h0M1019.2 4097.6h0M906.9 4372.2h0M965.1 4347.2h0M1056.6 4355.5h0M1210.6 4318.1h0M1252.2 4376.3h0M965.1 4359.7h0M948.5 4309.8h0M1148.2 4276.5h0M1002.6 4085.1h0M1144 4276.5h0M1127.4 4343h0M1114.9 4384.6h0M1164.8 4305.6h0M881.9 4409.6h0M1239.7 4401.3h0M1031.7 4326.4h0M936 4318.1h0M1177.3 4334.7h0M948.5 4293.1h0M1285.4 4343h0M940.2 4313.9h0M944.3 4226.6h0M998.4 4376.3h0M1252.2 4422.1h0M1102.4 4368h0M923.5 4343h0M1231.4 4455.4h0M973.4 4189.1h0M877.8 4384.6h0M1256.3 4492.8h0M1044.2 4355.5h0M898.6 4280.6h0M944.3 4359.7h0M1069.1 4313.9h0M956.8 4376.3h0M1268.8 4476.2h0M915.2 4380.5h0M944.3 4372.2h0M902.7 4384.6h0M915.2 4384.6h0M1139.8 4372.2h0M919.4 4388.8h0M961 4284.8h0M1056.6 4334.7h0M894.4 4268.2h0M1223 4397.1h0M1306.2 4359.7h0M1235.5 4405.4h0M1031.7 4289h0M1198.1 4355.5h0M1114.9 4343h0M998.4 4343h0M1127.4 4301.4h0M877.8 4330.6h0M890.2 4426.2h0M965.1 4338.9h0M1040 4289h0M1027.5 4351.4h0M927.7 4164.2h0M1110.7 4280.6h0M1202.2 3997.8h0M919.4 4363.8h0M1098.2 4318.1h0M927.7 4338.9h0M906.9 4430.4h0M1181.4 4135h0M1273 4422.1h0M1231.4 4355.5h0M931.8 4343h0M965.1 4239h0M977.6 4284.8h0M1243.8 4497h0M944.3 4284.8h0M965.1 4205.8h0M961 4268.2h0M948.5 4289h0M940.2 4230.7h0M990.1 4330.6h0M927.7 4405.4h0M894.4 4422.1h0M952.6 4293.1h0M1160.6 4309.8h0M994.2 4110.1h0M998.4 4072.6h0M944.3 4376.3h0M873.6 4338.9h0M931.8 4293.1h0M936 4368h0M1214.7 4043.5h0M1135.7 4393h0M1052.5 4284.8h0M973.4 4189.1h0M923.5 4305.6h0M936 4368h0M1040 4351.4h0M1185.6 4322.2h0M1277.1 4455.4h0M1044.2 4318.1h0M936 4305.6h0M1098.2 4313.9h0M1094.1 4347.2h0M906.9 4372.2h0M1214.7 4222.4h0M902.7 4359.7h0M1297.9 4372.2h0M1239.7 4492.8h0M1098.2 4322.2h0M869.4 4388.8h0M1077.4 4368h0M1073.3 4368h0M1177.3 4147.5h0M956.8 4297.3h0M1119 4114.2h0M940.2 4380.5h0M1123.2 4338.9h0M998.4 4218.2h0M1069.1 4126.7h0M894.4 4393h0M1081.6 4264h0M906.9 4422.1h0M927.7 4338.9h0M1260.5 4434.6h0M1185.6 4347.2h0M940.2 4363.8h0M1173.1 4393h0M1048.3 4372.2h0M1052.5 4326.4h0M1139.8 4338.9h0M952.6 4347.2h0M956.8 4376.3h0M1256.3 4363.8h0M1106.6 4243.2h0M1102.4 4355.5h0M1264.6 4409.6h0M952.6 4218.2h0M990.1 4264h0M1152.3 4268.2h0M1164.8 4343h0M1160.6 4272.3h0M911 4318.1h0M927.7 4305.6h0M994.2 4359.7h0M1081.6 4272.3h0M1023.4 4122.6h0M948.5 4334.7h0M1314.6 4376.3h0M1073.3 4276.5h0M1060.8 4118.4h0M1119 4305.6h0M1248 4405.4h0M961 4309.8h0M936 4351.4h0M1098.2 4388.8h0M1019.2 4272.3h0M1102.4 4272.3h0M827.8 4330.6h0M1102.4 4309.8h0M969.3 4322.2h0M981.8 4209.9h0M1202.2 4397.1h0M961 4243.2h0M969.3 4384.6h0M1164.8 4330.6h0" stroke="#fdbf6f"/><path d="M1135.7 4297.3h0M1156.5 4205.8h0M1268.8 4442.9h0M1160.6 4081h0M1164.8 4313.9h0M1148.2 4305.6h0M1110.7 4259.8h0M1123.2 4168.3h0M961 4309.8h0M1252.2 4430.4h0M948.5 4089.3h0M1119 4251.5h0M1106.6 4126.7h0M977.6 4326.4h0M1114.9 4301.4h0M952.6 4289h0M1260.5 4405.4h0M844.5 4359.7h0M1144 4164.2h0M1010.9 4393h0M1185.6 4151.7h0M931.8 4359.7h0M919.4 4222.4h0M1106.6 4214.1h0M1193.9 4264h0M1202.2 4355.5h0M952.6 4226.6h0M1123.2 4293.1h0M1094.1 4068.5h0M1035.8 4351.4h0M1277.1 4330.6h0M1227.2 4351.4h0M965.1 4160h0M1160.6 4297.3h0M965.1 4313.9h0M1169 4185h0M1006.7 4093.4h0M985.9 4301.4h0M1235.5 4430.4h0M1164.8 4164.2h0M990.1 4322.2h0M1218.9 4434.6h0M956.8 4172.5h0M1152.3 4259.8h0M1148.2 4313.9h0M927.7 4322.2h0M927.7 4313.9h0M936 4372.2h0M902.7 4222.4h0M1144 4006.1h0M1023.4 4359.7h0M1123.2 4189.1h0M1144 4147.5h0M985.9 4355.5h0M1202.2 4293.1h0M1127.4 4334.7h0M985.9 4072.6h0M973.4 4405.4h0M1015 4351.4h0M1268.8 4363.8h0M936 4334.7h0M1177.3 4239h0M1223 4368h0M906.9 4393h0M1148.2 4226.6h0M1139.8 4143.4h0M927.7 4380.5h0M1252.2 4472h0M1243.8 4405.4h0M886.1 4301.4h0M1198.1 4056h0M1031.7 4343h0M1023.4 4176.6h0M948.5 4368h0M1164.8 4151.7h0M1094.1 4355.5h0M911 4247.4h0M1202.2 4334.7h0M948.5 4239h0M961 4343h0M1223 4039.4h0M927.7 4280.6h0M1223 4143.4h0M1040 4114.2h0M1243.8 4417.9h0M1106.6 4268.2h0M869.4 4309.8h0M1131.5 4226.6h0M944.3 4185h0M1181.4 4218.2h0M1231.4 4467.8h0M1264.6 4409.6h0M1073.3 4309.8h0M1148.2 4160h0M1177.3 4093.4h0M977.6 4326.4h0M1006.7 4110.1h0M973.4 4164.2h0M1189.8 4388.8h0M1252.2 4422.1h0M940.2 4268.2h0M936 4309.8h0M1206.4 4155.8h0M998.4 4143.4h0M977.6 4126.7h0M990.1 4201.6h0M994.2 4205.8h0M961 4205.8h0M1281.3 4397.1h0M977.6 4155.8h0M1048.3 4330.6h0M1056.6 4218.2h0M1256.3 4426.2h0M973.4 4318.1h0M952.6 4309.8h0M1169 4176.6h0M1273 4393h0M1260.5 4426.2h0M1094.1 4368h0M940.2 4372.2h0M1123.2 4338.9h0M1164.8 4347.2h0M911 4434.6h0M1181.4 4085.1h0M1010.9 4164.2h0M1231.4 4376.3h0M1006.7 4239h0M1248 4492.8h0M1048.3 4110.1h0M990.1 4351.4h0M923.5 4280.6h0M948.5 4180.8h0M1035.8 4313.9h0M973.4 4318.1h0M890.2 4417.9h0M936 4376.3h0M977.6 4330.6h0M956.8 4305.6h0M948.5 4105.9h0M1173.1 4301.4h0M1094.1 4297.3h0M977.6 4105.9h0M977.6 4147.5h0M1268.8 4438.7h0M1177.3 4068.5h0M927.7 4351.4h0M1114.9 4347.2h0M936 4289h0M1048.3 4330.6h0M1131.5 4330.6h0M1189.8 4176.6h0M1231.4 4347.2h0M1181.4 4072.6h0M1019.2 4380.5h0M1110.7 4318.1h0M931.8 4309.8h0M994.2 4172.5h0M1135.7 4259.8h0M1119 4168.3h0M840.3 4326.4h0M1139.8 4363.8h0M973.4 4318.1h0M1152.3 4280.6h0M931.8 4330.6h0M956.8 4397.1h0M931.8 4272.3h0M1185.6 4047.7h0M1114.9 4355.5h0M1231.4 4081h0M1144 4230.7h0M940.2 4214.1h0M1010.9 4326.4h0M1177.3 4276.5h0M923.5 4422.1h0M1160.6 4209.9h0M1102.4 4247.4h0" stroke="#fca95e"/><path d="M1114.9 4251.5h0M998.4 4147.5h0M1139.8 4301.4h0M1218.9 4430.4h0M990.1 4222.4h0M1144 4047.7h0M1160.6 4160h0M1198.1 4051.8h0M1181.4 4043.5h0M902.7 4359.7h0M1110.7 4139.2h0M1135.7 4064.3h0M1164.8 4139.2h0M1189.8 4201.6h0M1144 4305.6h0M1169 4264h0M1152.3 4139.2h0M1148.2 4284.8h0M1023.4 4139.2h0M1152.3 4189.1h0M1260.5 4405.4h0M1002.6 4143.4h0M1131.5 4226.6h0M1019.2 4114.2h0M1206.4 4101.8h0M1027.5 4180.8h0M1214.7 4072.6h0M1202.2 4051.8h0M919.4 4234.9h0M981.8 4197.4h0M1106.6 4297.3h0M1002.6 4180.8h0M1193.9 3972.8h0M1085.8 4297.3h0M1189.8 4051.8h0M948.5 4330.6h0M1173.1 4110.1h0M1181.4 4018.6h0M1052.5 4259.8h0M1139.8 4035.2h0M1193.9 4101.8h0M956.8 4135h0M1239.7 4405.4h0M961 4214.1h0M936 4343h0M985.9 4110.1h0M1218.9 4172.5h0M977.6 4168.3h0M1144 4205.8h0M1202.2 4126.7h0M890.2 4351.4h0M998.4 4234.9h0M973.4 4085.1h0M1006.7 4201.6h0M1193.9 4180.8h0M1223 4060.2h0M1106.6 4363.8h0M1135.7 4334.7h0M1164.8 4243.2h0M902.7 4413.8h0M969.3 4380.5h0M1193.9 4139.2h0M981.8 4114.2h0M1189.8 4209.9h0M1031.7 4322.2h0M969.3 4110.1h0M857 4372.2h0M994.2 4160h0M1252.2 3922.9h0M1148.2 4056h0M1160.6 4230.7h0M1177.3 4047.7h0M1127.4 4276.5h0M1031.7 4305.6h0M1256.3 4438.7h0M1127.4 4259.8h0M902.7 4293.1h0M1206.4 4197.4h0M973.4 4426.2h0M1260.5 4343h0M977.6 4172.5h0M1110.7 4122.6h0M1160.6 4180.8h0M981.8 4168.3h0M1010.9 4056h0M1139.8 4301.4h0M1114.9 4280.6h0M894.4 4388.8h0M1248 4384.6h0M1052.5 4363.8h0M1198.1 4047.7h0M1177.3 4085.1h0M985.9 4130.9h0M1127.4 4180.8h0M998.4 4089.3h0M977.6 4230.7h0M1148.2 4126.7h0M1231.4 4393h0M1202.2 4309.8h0M973.4 4139.2h0M965.1 4139.2h0" stroke="#f88e52"/><path d="M1181.4 4018.6h0M1144 4130.9h0M1160.6 4035.2h0M1144 4155.8h0M981.8 4126.7h0M965.1 4193.3h0M1193.9 4180.8h0M1169 4047.7h0M1015 4081h0M994.2 4056h0M1169 4201.6h0M985.9 4097.6h0M1181.4 4064.3h0M1160.6 4185h0M1185.6 4035.2h0M944.3 4201.6h0M1114.9 4280.6h0M1206.4 4105.9h0M1006.7 4126.7h0M1223 3960.3h0M944.3 4201.6h0M1156.5 4330.6h0M1277.1 4397.1h0M985.9 4093.4h0M1231.4 4006.1h0M1206.4 4180.8h0M1181.4 4218.2h0M1160.6 4081h0M1048.3 4101.8h0M961 4105.9h0M1094.1 4172.5h0M998.4 4118.4h0M1006.7 4126.7h0M1173.1 4130.9h0M940.2 4176.6h0M1160.6 4280.6h0M1010.9 4081h0M1098.2 4155.8h0M1218.9 3922.9h0M1152.3 4126.7h0M981.8 4101.8h0M1185.6 4218.2h0M985.9 4201.6h0M977.6 4205.8h0M1214.7 4180.8h0M1123.2 4259.8h0M1127.4 4255.7h0M1148.2 4072.6h0M1156.5 4160h0M985.9 4068.5h0M1193.9 4060.2h0M1160.6 4230.7h0M1152.3 4076.8h0M1160.6 4197.4h0M1110.7 4318.1h0M1185.6 4118.4h0M1156.5 4230.7h0M1198.1 4143.4h0M1223 4214.1h0M981.8 4214.1h0M998.4 4068.5h0M1164.8 4205.8h0M1156.5 4243.2h0M1010.9 4222.4h0M1015 4089.3h0M965.1 4164.2h0M1193.9 4039.4h0M1139.8 4301.4h0M969.3 4209.9h0M1139.8 4176.6h0M1148.2 4147.5h0M1185.6 4110.1h0M1002.6 4089.3h0M965.1 4085.1h0M956.8 4172.5h0M1214.7 3860.5h0M998.4 4089.3h0" stroke="#f57246"/><path d="M1206.4 3927h0M998.4 4155.8h0M1027.5 4072.6h0M1010.9 4097.6h0M1227.2 3943.7h0M985.9 4135h0M969.3 4110.1h0M1002.6 4114.2h0M1206.4 4130.9h0M1239.7 3906.2h0M1010.9 4151.7h0M1235.5 3927h0M1156.5 4259.8h0M1181.4 4043.5h0M1231.4 3997.8h0M977.6 4147.5h0M1227.2 3885.4h0M990.1 4060.2h0M1002.6 4060.2h0M1214.7 4006.1h0M1015 4097.6h0M1214.7 3977h0M1223 3906.2h0M1239.7 3939.5h0M1139.8 4239h0M998.4 4168.3h0M1135.7 4284.8h0M1252.2 3860.5h0M1023.4 4072.6h0M965.1 4180.8h0M1077.4 4047.7h0M1223 3914.6h0M1260.5 3885.4h0M1268.8 3889.6h0M1144 4193.3h0M1202.2 3972.8h0M961 4164.2h0M1223 4001.9h0M1231.4 3922.9h0M965.1 4205.8h0M1206.4 3956.2h0M1164.8 4239h0M1218.9 4089.3h0M1239.7 3935.4h0M1144 4197.4h0M1160.6 4068.5h0M1206.4 4081h0M1152.3 4264h0M1169 4035.2h0M1235.5 4068.5h0M1198.1 3989.4h0M1227.2 3993.6h0M1181.4 4168.3h0M1210.6 3910.4h0M1239.7 3927h0M956.8 4164.2h0M1035.8 4068.5h0M1144 4164.2h0M985.9 4060.2h0M1156.5 4201.6h0M1139.8 4180.8h0M1231.4 4143.4h0M1164.8 4072.6h0M1252.2 3889.6h0M990.1 4122.6h0M1148.2 4172.5h0M1144 4243.2h0M998.4 4076.8h0M1256.3 3972.8h0" stroke="#ea5d47"/><path d="M1214.7 3972.8h0M1243.8 3993.6h0M1210.6 3893.8h0M1214.7 3981.1h0M1248 3914.6h0M1235.5 3914.6h0M952.6 4114.2h0M1248 3972.8h0M1248 3964.5h0M1235.5 3939.5h0M1293.8 3939.5h0M1202.2 3964.5h0M1281.3 3943.7h0M1218.9 3972.8h0M1239.7 3939.5h0M1181.4 4201.6h0M1289.6 3922.9h0M1139.8 4205.8h0M1152.3 4172.5h0M1235.5 3993.6h0M1235.5 3935.4h0M1248 3881.3h0M1273 3972.8h0M1198.1 3952h0M1235.5 4047.7h0M1210.6 4018.6h0M1152.3 4151.7h0M1223 3997.8h0M1235.5 3993.6h0M1227.2 4001.9h0M1193.9 3964.5h0M1173.1 4043.5h0M1235.5 3939.5h0M1173.1 4089.3h0M1235.5 3939.5h0M1239.7 4035.2h0M1218.9 3989.4h0M1156.5 4135h0M1193.9 3952h0M1006.7 4205.8h0M1227.2 3918.7h0M1218.9 3960.3h0M1243.8 3906.2h0M1268.8 3947.8h0M1160.6 4122.6h0M1239.7 4006.1h0M1214.7 3927h0M1198.1 3956.2h0M1243.8 4060.2h0M1231.4 3902.1h0M1248 3889.6h0" stroke="#dd4a4c"/><path d="M1214.7 4039.4h0M1260.5 3914.6h0M1198.1 3914.6h0M1231.4 3972.8h0M1193.9 3981.1h0M1252.2 3910.4h0M1206.4 4018.6h0M1281.3 3952h0M1260.5 3952h0M1223 3939.5h0M1198.1 3981.1h0M998.4 4093.4h0M1235.5 3985.3h0M1273 3881.3h0M1268.8 3922.9h0M1281.3 3885.4h0M1248 3939.5h0M1264.6 3893.8h0M1231.4 3989.4h0M1235.5 4014.4h0M1252.2 3902.1h0M1235.5 3881.3h0M1285.4 3977h0M1256.3 3910.4h0M1227.2 4001.9h0M1239.7 4010.2h0M1239.7 3931.2h0M1235.5 3989.4h0M1227.2 3914.6h0M1198.1 3968.6h0M1235.5 3943.7h0M1235.5 4006.1h0M1252.2 3981.1h0M1223 4060.2h0M1181.4 4301.4h0M1218.9 3952h0M1214.7 3964.5h0M1193.9 3935.4h0M1169 4097.6h0M1223 3881.3h0M1223 3964.5h0M1243.8 3952h0M1198.1 3993.6h0M1243.8 3889.6h0M1214.7 3985.3h0M1235.5 3981.1h0M1243.8 3918.7h0M1223 4039.4h0M1264.6 3864.6h0M1218.9 3943.7h0M1243.8 3952h0M1243.8 3935.4h0M1235.5 3856.3h0M1144 4189.1h0M1206.4 3922.9h0M1268.8 3910.4h0M1235.5 3985.3h0M1206.4 3935.4h0" stroke="#cc344d"/><path d="M1235.5 4006.1h0M1210.6 3977h0M1239.7 3964.5h0M1218.9 3960.3h0M1264.6 3922.9h0M1218.9 3993.6h0M1223 3922.9h0M1210.6 3985.3h0M1214.7 3993.6h0M1206.4 3960.3h0M1264.6 3922.9h0M1223 3956.2h0M1256.3 3927h0M1189.8 3922.9h0M1235.5 3956.2h0M1210.6 3931.2h0M1248 3864.6h0M1231.4 3956.2h0M1248 3939.5h0M1248 3873h0M1218.9 3893.8h0M1189.8 3968.6h0M1235.5 3935.4h0M1273 3902.1h0M1248 3952h0M1202.2 4006.1h0M1264.6 3860.5h0M1223 3997.8h0M1248 3935.4h0M1227.2 3952h0M1223 3968.6h0M1243.8 3956.2h0M1227.2 3972.8h0M1256.3 3889.6h0M1206.4 4010.2h0M1202.2 3935.4h0M1231.4 3868.8h0M1231.4 3993.6h0M965.1 4180.8h0M1260.5 3881.3h0M1206.4 3943.7h0M1243.8 3927h0M1239.7 3935.4h0M1218.9 3947.8h0" stroke="#b51a47"/><path d="M1210.6 4010.2h0M1223 3885.4h0M1235.5 3910.4h0M1235.5 3860.5h0M1252.2 3906.2h0M1264.6 3927h0M1243.8 3952h0M1268.8 4006.1h0M1218.9 3927h0M1235.5 3952h0M1285.4 3864.6h0M1231.4 4039.4h0M1214.7 3993.6h0M1198.1 3939.5h0M1256.3 3947.8h0M1231.4 3964.5h0M1193.9 3935.4h0M1189.8 4018.6h0M1248 3960.3h0M1231.4 3943.7h0M1206.4 3977h0M1239.7 3935.4h0M1198.1 3964.5h0M1235.5 3860.5h0M1193.9 3972.8h0M1202.2 3964.5h0M1214.7 3939.5h0M1218.9 3956.2h0M1235.5 3985.3h0M1235.5 3960.3h0M1260.5 3997.8h0M1214.7 3927h0" stroke="#9e0142"/></g>
<ellipse cx="0" cy="0" rx="105" ry="149" fill="none" stroke="#6b6ba2" stroke-width="4" transform="translate(550.8 3989) rotate(21)"/>
<ellipse cx="0" cy="0" rx="106" ry="149" fill="none" stroke="#6b6ba2" stroke-width="4" transform="translate(1226.9 3987.6) rotate(22)"/>
<text x="889" y="3946.5" font-size="49.4" text-anchor="middle" textLength="142.6" lengthAdjust="spacingAndGlyphs">Type II</text>
<text x="881.7" y="4003" font-size="47" text-anchor="middle">(Atpv<tspan font-size="30" dy="-17">high</tspan><tspan dy="17">Ca</tspan><tspan font-size="30" dy="-17">high</tspan><tspan dy="17">)</tspan></text>
<text x="923" y="4502" font-size="49.4" text-anchor="middle" textLength="129.4" lengthAdjust="spacingAndGlyphs">Type I</text>
<text x="915.5" y="4561" font-size="47" text-anchor="middle">(Atpv<tspan font-size="30" dy="-17">high</tspan><tspan dy="17">Ca</tspan><tspan font-size="30" dy="-17">low</tspan><tspan dy="17">)</tspan></text>
<path d="M748.4 3942L688.6 3954.7" stroke="#000" stroke-width="2.6"/>
<path d="M673.9 3957.8L689.2 3947.9L691.9 3960.6Z" fill="#000"/>
<path d="M1042 3942L1091.9 3966.2" stroke="#000" stroke-width="2.6"/>
<path d="M1105.4 3972.7L1087.3 3971.1L1092.9 3959.4Z" fill="#000"/>
<path d="M789 4500L704.8 4471.8" stroke="#000" stroke-width="2.6"/>
<path d="M690.6 4467L708.8 4466.2L704.7 4478.6Z" fill="#000"/>
<path d="M1035.3 4511L1131.7 4480.5" stroke="#000" stroke-width="2.6"/>
<path d="M1146 4476L1131.8 4487.3L1127.8 4474.9Z" fill="#000"/>
<defs><linearGradient id="g14" x1="0" y1="1" x2="0" y2="0"><stop offset="0%" stop-color="#5e4fa2"/><stop offset="10%" stop-color="#3288bd"/><stop offset="20%" stop-color="#66c2a5"/><stop offset="30%" stop-color="#abdda4"/><stop offset="40%" stop-color="#e6f598"/><stop offset="50%" stop-color="#ffffbf"/><stop offset="60%" stop-color="#fee08b"/><stop offset="70%" stop-color="#fdae61"/><stop offset="80%" stop-color="#f46d43"/><stop offset="90%" stop-color="#d53e4f"/><stop offset="100%" stop-color="#9e0142"/></linearGradient></defs>
<rect x="109.6" y="4404.4" width="41.4" height="99.3" fill="url(#g14)"/>
<text x="152.4" y="4413.3" font-size="39.4">15</text>
<text x="152.6" y="4510.8" font-size="39.4">0</text>
<text x="1474.8" y="3565.3" font-size="78" font-weight="bold">E</text>
<text x="1630" y="3727.5" font-size="43.3" font-style="italic" textLength="216" lengthAdjust="spacingAndGlyphs">atp6v1b1.L</text>
<g fill="none" stroke-width="6.1" stroke-linecap="round" stroke-opacity="0.85"><path d="M1768.4 3998.5h0M1650.6 3977.4h0M1630.8 3979.2h0M1767.5 3959.2h0" stroke="#3f96b7"/><path d="M1610.9 4000.8h0M1614.9 4020.8h0M1777.2 3821h0M1737.6 3981.4h0M1619.8 3996.8h0" stroke="#55afad"/><path d="M1630.9 3990.8h0M1582.9 4009.8h0M1675.5 3944.1h0M1729.2 3970.3h0" stroke="#6cc4a5"/><path d="M1684 3964.5h0M1679.3 3985.8h0M1732.2 3970.1h0M1628.5 4009.4h0M1776.8 3795.2h0M1622.2 3971.3h0M1728.4 3969.5h0" stroke="#88d0a4"/><path d="M1728 4005.9h0M1798.6 4025.5h0M1671.7 3988.4h0M1627.7 3957h0M1640.7 3976h0M1815.3 4054.9h0" stroke="#a5dba4"/><path d="M1667.3 4006.5h0" stroke="#bfe5a0"/><path d="M1651.2 3844.3h0M1665.5 4024.3h0M1666.7 3995.3h0M1657.9 3852.1h0M1733.7 3969.4h0M1725 3992.1h0M1655.7 3905.3h0M1652.6 3878h0M1648.5 3894.3h0M1759.9 3943.2h0M1744.8 3987.5h0M1653.8 3869.4h0M1709.1 3998.4h0M1652.1 3854.5h0M1629.9 3995.8h0M1682.9 3879.5h0M1625.3 3925.4h0M1681.9 3894h0M1652.9 3916.2h0M1745 3994.5h0M1704.3 3964.5h0" stroke="#fff2a9"/><path d="M1733.4 3971.1h0M1705.3 3998.1h0M1714.2 4000.4h0M1768.9 3985.7h0M1639.7 3854.4h0M1754.2 3977.7h0M1661.9 3989.8h0M1774.5 3974.6h0M1734 3864h0M1726.7 4000.9h0M1561.7 3990.1h0M1742 3999.2h0M1632.7 3908.7h0M1683.3 3999.5h0M1718.6 3992.6h0M1748.5 3956.6h0M1656.4 3849.9h0M1650.5 3964.7h0M1704.3 3996h0M1747.9 3895.6h0M1788 3918.4h0M1715.9 3979.5h0M1695 3963.5h0M1702.6 3956.7h0M1655.4 3997.4h0M1671.3 3887h0M1625.6 3913h0M1635.9 3940.2h0M1722.7 3996.3h0M1742.1 4003.2h0M1742.1 4015h0M1696.4 4007.2h0M1724.8 3935.9h0M1752 3972.4h0M1604.9 4016.6h0M1654.2 3878.2h0M1666.4 3864.1h0M1758.5 3965.9h0M1759.7 3910.5h0M1658.1 3888h0M1745.7 3871h0M1644 3943.5h0M1656.5 3869.5h0M1795 3868.6h0M1638.4 3878.1h0M1765.2 3859.2h0M1651.7 3898.4h0M1758.9 3992.6h0M1710.4 3872.4h0M1682.5 3964.4h0M1671.6 3895.7h0M1651.9 3980.1h0M1665.2 4018.2h0M1744.9 3909.7h0M1659.7 3876.5h0M1771.7 3845.4h0M1632.9 3992.7h0M1733.3 3923h0M1739.1 3987.2h0M1702.5 3964h0M1641.2 3877.1h0M1734.6 3830.2h0M1638.1 3855h0M1666 3847h0M1619 3969.9h0M1647.6 3902.8h0M1736.1 3973.8h0M1662 3931.7h0M1640.3 3960.8h0M1622.9 3986.5h0M1733.8 3956.6h0M1662.7 3855.9h0M1747.2 4013.9h0M1770.1 3858.9h0M1769.6 3985.4h0M1687.1 3894.6h0" stroke="#fee594"/><path d="M1655.7 3870.4h0M1712.9 4010.3h0M1644 3849.9h0M1668.6 3862.6h0M1629 3999.4h0M1762 3895.4h0M1740.8 3936h0M1665.7 4025.8h0M1752.2 3963.1h0M1795.9 3866.9h0M1586.8 4045.6h0M1768.4 3998.2h0M1683.4 4000.5h0M1645.8 3887h0M1644.6 4017.2h0M1642.3 3911.9h0M1625.8 4014.5h0M1672.8 3855.7h0M1693.8 3958.4h0M1810.6 3872h0M1591.2 4030.6h0M1621.5 3962.9h0M1754 3916.9h0M1651.7 3889.7h0M1761.4 3926.8h0M1662.5 3930.9h0M1629.3 3850.6h0M1659.9 3888.9h0M1703.2 3986.8h0M1677.7 3995.2h0M1704 3960.9h0M1650.9 3936.1h0M1675.1 3948.1h0M1713.4 3990h0M1716.1 3974.3h0M1736.4 3970.6h0M1740 3940.7h0M1732.2 3926.8h0M1678.3 3945.1h0M1594.4 3955.1h0M1733.1 3998.4h0M1570.4 3995.4h0M1642 3916.3h0M1602.1 4018.4h0M1657.3 3872.9h0M1684.2 3969.8h0M1655.6 4009.1h0M1686.2 3989.4h0M1676.6 3965h0M1667.4 3861.8h0M1572.3 3987.9h0M1614.2 4024.7h0M1620.6 4002.9h0M1750.5 3914.1h0M1627.8 3975.9h0M1616.1 3995.5h0M1684.5 4019.6h0M1729.3 3898h0M1672 4032.9h0M1706.7 3982.5h0M1652.2 3894.5h0M1708.1 3994.9h0M1670.8 3889.6h0M1701.1 4009.6h0M1757.6 3859.8h0M1615.1 4046.2h0M1778.5 3850.8h0M1667.2 3857.3h0M1773.4 3862.8h0M1721.8 3990.6h0M1629 3978.2h0M1569.6 3987.1h0M1705.7 3957.1h0M1768.4 3989.7h0M1729 3954.8h0M1664.7 3978.4h0M1744.2 3974.7h0M1640.8 3932.6h0M1663.9 3872h0M1712.3 3873h0M1637.3 4013.9h0M1693.8 3968.7h0M1797.7 3813.9h0M1787.7 3888.4h0M1662.6 3885.9h0M1672.1 3862h0M1782.1 3883.9h0M1746.7 3971.2h0M1613.1 3981.1h0M1612.1 3980.6h0M1593 4025.1h0M1642.5 3846.9h0M1754.8 4010.5h0M1776 3948h0M1622.7 3984.6h0M1725.1 3886.7h0M1616.4 3990.1h0M1770.5 3922.7h0M1646.7 3915.1h0M1707.4 3958.3h0M1649.5 3853.9h0M1613.8 3988.4h0M1687.6 3968.8h0M1740.8 3970.2h0M1758.3 3911.5h0M1765.4 3921.4h0M1668.9 3882.5h0M1668.8 4004.6h0M1750.9 3908.3h0M1649.7 3875.9h0M1713.4 3973.7h0M1715.5 3982.2h0M1626.2 3959.1h0M1702.2 4028.1h0M1753.9 3952.6h0M1755.1 3950.3h0M1739.3 3971.5h0M1723.3 3989.4h0M1755.2 4002h0M1691.6 3964.8h0M1769.2 3887.3h0M1744.2 3935.3h0M1721.8 3991.7h0M1660 3886.5h0M1760.5 4024.3h0M1703.2 3984.2h0M1718 3982.7h0M1735.5 3946.9h0M1685.5 3883.4h0M1673.3 4002.7h0M1662.2 3901.4h0M1782.9 3883.3h0M1747.2 4020.1h0M1729.1 3925h0M1710.1 3985h0M1661.6 3885.2h0M1736.3 3979.8h0M1629.9 4001.4h0M1760.7 3845.8h0M1721.2 3989.8h0M1734.1 3979.1h0M1723.8 3929.9h0M1585.8 3985.3h0M1707.7 4001.2h0M1698.6 3986h0M1745.5 3895.7h0M1725.8 3993.8h0M1620.6 3977.2h0M1646 4009.2h0M1728.6 4012.9h0M1629 3969.1h0M1775.8 4001.2h0M1760.3 3980.2h0M1625.1 3990.2h0M1667.4 3974.9h0M1719.7 3939.9h0M1779.2 3860.2h0M1633.4 3905.3h0M1730.1 4013.8h0M1700.9 4015.4h0M1596.6 4023.6h0M1730.2 4007.9h0M1635.7 3967.5h0M1668.5 3877.1h0M1678.8 3997h0M1752.4 4008.1h0M1779 3914.1h0M1717.8 3990.3h0M1742.3 3981.9h0M1749.7 3866.2h0M1762.3 3918.7h0M1715.2 3978.2h0M1773.9 3989.4h0M1652.5 3978.4h0M1704.4 3983.2h0M1757.7 3847.8h0M1682.8 3984.6h0M1729.6 3979.1h0M1649.4 3905.1h0M1694.1 3996.9h0M1650.5 3896.3h0M1694.3 4018.5h0M1679.5 4028.8h0M1679.9 3872.7h0M1677.5 3876h0M1761.7 3985.5h0M1733.4 3981.6h0M1778 3864.7h0M1691.4 3996.5h0M1686.6 3965.5h0M1723.6 4012.4h0M1641.4 4026.7h0M1684.8 3951.8h0M1738.1 3934.2h0M1781.7 3793.6h0M1644 3880.4h0M1694.2 3992h0M1655.3 3923.1h0M1750.9 3924.5h0M1661.4 3952.1h0M1655.4 3884h0M1654.2 3853.5h0M1662.2 3946.2h0M1751.2 3967.5h0M1705.8 3985.5h0" stroke="#fed480"/><path d="M1694.4 3864.7h0M1785.3 3834.3h0M1603 4036.4h0M1684.1 4018h0M1614.7 3960h0M1607.6 3996.3h0M1597.5 3971.4h0M1605.4 3922.2h0M1646.8 3947.7h0M1632.2 3961.7h0M1647.2 3962.5h0M1676.7 4002.8h0M1749.7 3983.7h0M1639.7 3932.6h0M1729.1 4004.5h0M1783.4 3914.5h0M1664.9 3984.1h0M1672.5 4010.4h0M1743.1 3902.7h0M1674.8 3975.2h0M1627.8 4006.3h0M1741.7 3934.9h0M1683.5 4006.4h0M1636.3 3942.3h0M1738.6 3890.7h0M1620 3966.3h0M1644.6 3970.1h0M1715 3977.3h0M1761.3 3996.5h0M1638.8 3990.1h0M1647.9 4009.7h0M1601.3 4047.6h0M1788.6 3876h0M1657.6 4013.9h0M1750.6 3974h0M1689.3 3977.5h0M1715.9 4009.9h0M1669.2 3975.1h0M1663.9 3948.3h0M1679.6 3931.7h0M1718.3 3983.2h0M1750.3 3896.7h0M1684.2 3985.2h0M1722.5 3966.3h0M1575.7 3999.7h0M1741.3 4022.4h0M1752.5 4001.7h0M1762.3 3856.7h0M1746.6 3847.6h0M1685.8 3969.7h0M1605.4 4024.1h0M1715.3 4004.3h0M1654.9 3979h0M1643.3 3990.1h0M1631.3 3993.8h0M1655.5 3886.7h0M1618.6 3966.3h0M1727.8 3982.1h0M1645.3 3979h0M1611.6 4024.3h0M1743.9 3840.3h0M1747.6 3985.4h0M1634.6 3999.9h0M1608.3 4039h0M1576.1 3993.7h0M1605.4 4002.1h0M1789.9 3892h0M1631.7 3995.7h0M1603.2 3983h0M1797.8 4039.9h0M1604.8 4013h0M1664.6 3906.5h0M1738.3 3964.3h0M1636.2 3992.7h0M1738.9 3885.8h0M1736.7 3991.7h0M1726.7 3981.6h0M1730.9 3972.7h0M1601.8 4007.2h0M1613.3 3966.6h0M1706.1 3957.8h0M1623.6 3884.7h0M1731 4005.1h0M1754.4 3980.1h0M1740.9 3979.2h0M1635.3 3998.5h0M1674 3961.2h0M1742.8 3834.1h0M1655.9 3912.4h0M1767.3 3926.1h0M1728.7 3957.7h0M1652.6 3970.1h0M1721.4 3885.5h0M1807.9 3782.4h0M1820.2 3825.4h0M1758.3 3967.6h0M1640.5 3953.3h0M1652.8 3925.7h0M1703.8 3984.7h0M1724.6 3883.5h0M1732.9 4017.7h0M1617.8 3996.9h0M1751.9 3938.2h0M1748.3 3982.5h0M1778.4 3800.4h0M1625.6 3960.4h0M1772.2 3842.8h0M1743.3 3969.7h0M1716 3901.4h0M1714.8 3862.5h0M1712.1 4004.4h0M1624.5 4002.4h0M1617.1 3950.6h0M1781.3 3917.9h0M1605.6 3961h0M1609.3 4029.8h0M1608.6 3964.5h0M1651 3853.7h0M1741.8 3964.5h0M1673.4 3922.1h0M1764.7 3889.8h0M1744.7 3952.5h0M1627.8 4002.8h0M1745.2 3994.3h0M1708.7 4003.8h0M1639.1 3973.6h0M1745.8 3987.5h0M1786 3849.1h0M1646.3 3990.6h0M1618.1 4020.6h0M1593 4022.5h0M1634.3 3985.6h0M1740.7 3891.9h0M1647.3 4029.4h0M1671.2 3894.3h0M1727 3954.5h0M1650.2 3997.7h0M1650.6 3924.4h0M1714.7 3979.3h0M1608.2 4031.4h0M1625.1 3983.1h0M1639.6 3960.3h0M1778.8 3884h0M1621.4 3918.1h0M1620.9 3963.6h0M1615.7 3971.6h0M1587.5 3972.3h0M1605 4027.8h0M1697.7 3981.5h0M1777.1 3867.8h0M1654.4 4016h0M1637.4 3972.8h0M1741.2 4018.1h0M1736.8 3996.1h0M1632.9 3981.3h0M1632.2 3920.2h0M1735.2 3964.8h0M1663.4 3908h0M1689.8 4002.7h0M1620 3995h0M1610.7 3973.5h0M1763.8 3981.3h0M1773.7 3866.2h0M1725.1 3979.3h0M1727 3959.5h0M1721.4 3966.1h0M1603.2 3994.1h0M1712.4 3957.8h0M1602.1 4018.4h0M1581.7 4026.1h0M1771.2 3935.1h0M1711.6 3981h0M1751.3 3993.8h0M1609.7 3949.3h0M1765.2 3876.1h0M1651.7 3959.1h0M1667.1 3955.7h0M1816.3 4011.9h0M1786.7 3908.9h0M1726.6 3967.8h0M1782.8 3858.2h0M1749.7 3869.6h0M1646.2 4001.8h0M1646.2 4017.5h0M1757.8 3974.8h0M1735.4 3981.2h0M1600 3983.1h0M1642.8 3957.2h0M1638.4 3980.4h0M1615.9 3936.7h0M1626.8 3904.1h0M1620.7 4002.9h0M1630.8 3994.1h0M1668 3994.1h0M1771.7 3847.9h0M1613.3 3969.6h0M1781.4 3902.1h0M1738.1 4011.6h0M1638.2 3982.2h0M1753.1 4027.1h0M1731.6 3969.7h0M1640.2 3967.8h0M1644.8 3936.5h0M1740.5 3900.9h0M1739.2 3940.7h0M1640.8 3860.4h0M1623.8 3941.2h0M1647.1 3910.9h0M1616.9 4000.8h0M1725 3912.5h0M1754.7 3850.2h0M1621.9 4027.2h0M1793.2 3791h0M1745.6 3840.3h0M1630.2 3964.8h0M1651.4 3880.2h0M1646.1 3884.6h0M1636.8 3940.8h0M1740.5 3915.9h0M1688.6 3975.6h0M1624.4 4010.9h0M1624.5 3922.9h0M1616.1 3967.2h0M1747.8 3853.6h0M1801.3 3861.2h0M1628.7 4014.9h0M1617.6 3965.2h0M1777.4 3824.9h0M1685.8 3958.9h0M1735 3938.5h0M1637 3988.7h0M1643.5 3932.2h0M1704.4 3972.6h0M1663.9 3984.3h0M1759.4 3912.2h0M1624 3985.5h0M1626.3 3931h0M1674.9 3908.3h0M1602.8 3954.7h0M1729.1 4017.2h0M1651.1 3908.4h0M1761.4 3983h0M1671.7 3984.3h0M1768.9 3988.6h0M1678.7 3975.8h0M1737.2 3886.8h0M1729.7 3998.8h0M1725.2 3853.4h0M1598.1 3972.5h0M1756.1 3965.4h0M1598.5 3986.7h0M1614.2 3915.7h0M1648.2 3964h0M1651.2 3978.3h0M1685.2 4009.4h0M1772.1 3897.5h0M1666.4 3975.3h0M1639.1 3970.7h0M1701.9 3868.9h0M1756.1 3839.4h0M1758.8 3929.3h0M1646 4028.3h0M1746.7 3915.3h0M1632.8 3894.1h0M1721.2 3986.6h0M1798 3827.6h0M1590.8 3974.2h0M1644.5 3877.1h0M1746.3 3878.9h0M1749.2 3927.8h0M1618.4 3981.2h0M1623.3 3934.3h0M1607.9 3984.7h0M1626.2 3973.6h0M1735.3 3848.5h0M1649.9 3859.4h0M1656.7 3877.5h0M1725.3 3975.1h0M1810.4 3864.2h0M1616.6 3981.8h0M1662.3 3929.1h0M1746.7 3973.3h0M1611.5 4037.1h0M1769.1 3981.2h0M1717.2 3932.7h0M1788.5 3882.8h0M1616.3 3962.7h0M1603.7 3924.3h0M1731.8 3961.3h0M1580.3 4012.7h0M1811.1 3816.5h0M1610.8 3938.8h0M1620.8 3973h0M1684.2 3882.3h0M1674.1 3874.6h0M1755.8 3892.7h0M1622.3 3996h0M1617.3 3929.1h0M1631.2 3973h0M1761.9 3890.7h0M1622.3 3998.4h0M1671.7 3869.5h0M1752.8 3903.4h0M1675.6 3956.3h0M1675.1 4024.6h0" stroke="#fdbf6f"/><path d="M1704.6 3949.6h0M1650.3 3990.1h0M1731.5 3896h0M1642.8 3957.3h0M1587.5 4042.2h0M1777.2 3799.9h0M1652.6 3970.8h0M1671 4024.9h0M1581.5 3985.7h0M1710.6 3999.4h0M1716.2 3959.5h0M1711.4 3989h0M1739.4 4000.2h0M1791.6 3792.8h0M1782.2 3769.3h0M1779.7 3856.8h0M1609 3957h0M1697 3875.7h0M1605.8 3947.5h0M1632.6 3993.6h0M1659.2 3963.8h0M1627.1 3999.4h0M1643.8 4000.5h0M1609.5 3991.9h0M1752.7 3885.5h0M1743.5 3961.4h0M1576 4008.2h0M1620.9 3987.3h0M1713.8 3933.6h0M1782.1 3983.1h0M1685.1 3979.1h0M1745.7 3982.9h0M1648.6 4017.8h0M1669.5 3978h0M1642.9 3963.5h0M1674 4005.6h0M1749.6 3923h0M1788.3 3805.7h0M1754.5 3857.4h0M1655.8 3999.2h0M1643.7 3890.7h0M1587 4023.9h0M1717.4 3976.7h0M1698.6 3928.7h0M1786.8 4019.6h0M1581.6 4027.3h0M1655.6 3941h0M1767.5 4006h0M1750.6 3962.4h0M1701.4 4000.6h0M1690.2 3913.8h0M1809.1 4035.7h0M1639.7 3896.6h0M1735.3 3969.7h0M1804.5 3764h0M1765 4001.8h0M1741.2 3927.2h0M1613.6 4010.5h0M1667.7 4010.6h0M1662.3 4015.1h0M1761.7 3866.5h0M1744 3918.3h0M1658 3979.8h0M1765.5 3919.8h0M1686.5 3983h0M1700.2 3969.9h0M1780.9 3890.2h0M1617.7 3985.3h0M1756.3 3828h0M1630 3963.8h0M1765.7 3981h0M1756.9 3855.4h0M1767.7 3779.9h0M1748.6 3835h0M1609.4 4027.6h0M1733.7 3968.3h0M1761.2 3887.8h0M1607 4008.3h0M1779.6 3859.8h0M1637.8 4009.4h0M1581.8 4033.9h0M1812 3752.1h0M1786.8 3796.8h0M1642.8 4020.9h0M1604 3967.1h0M1646.2 3857.3h0M1761.6 3796h0M1784.2 3753.2h0M1774.1 3768h0M1733.2 3984.1h0M1796 3782.3h0M1724.6 3966.3h0M1795.1 3767.1h0M1815.9 3787.8h0M1690.6 4006h0M1754.8 3945.8h0M1780.7 3860.2h0M1782.6 3816.4h0M1668.8 4004.3h0M1645.9 3977.5h0M1761.2 3891.6h0M1636.7 4036h0M1772.8 3766.3h0M1781.4 3948h0M1644.9 3966.8h0M1634.4 3913.6h0M1647.6 3943.8h0M1616.7 3993.6h0M1627.5 3930.1h0M1604.9 4017.7h0M1641.7 3997.6h0M1674.6 3973.6h0M1638.8 3972.4h0M1721.8 4011.8h0M1757.2 3830.2h0M1624.5 3980.1h0M1803.5 3791.4h0M1626.6 3997h0M1624.9 3974.2h0M1643 4023.6h0M1753.3 3899h0M1631.7 3981.8h0M1642.2 3959.9h0M1723.2 4002.6h0M1754.6 4025.9h0M1656.2 4000.1h0M1651.6 4040.8h0M1794.7 3998h0M1587.4 3990.5h0M1765.5 3859.4h0M1622.6 3960.7h0M1678 4009.4h0M1618.4 4015.3h0M1695.1 3961.2h0M1694.8 3985.1h0M1755.2 3952h0M1615.5 3999.6h0M1636.8 3981.4h0M1661.3 3992.9h0M1638.4 3907.4h0M1622.5 4013.5h0M1700 3968.6h0M1615.7 3924.7h0M1596.8 4035.1h0M1622.4 3970.1h0M1663.9 3991.1h0M1674.9 3977.2h0M1835.3 4018h0M1777 3792.7h0M1653.6 3960.2h0M1675.8 3989.4h0M1617.2 4012.7h0M1679.8 3980h0M1659.2 4019.9h0M1756 3893.3h0M1584.6 3981.9h0M1713.3 3983.9h0M1755.2 3942.1h0M1782.2 4059.9h0M1752.8 3945.5h0M1735.1 3957.2h0M1758.5 3921.9h0M1725.9 3990h0M1634.4 3983.2h0M1800 3840.7h0M1732.1 3985.1h0M1796.1 3742.5h0M1761.8 3864.5h0M1761.7 3980.2h0M1632.2 3989.9h0M1693.6 3967.2h0M1691.3 3998.1h0M1717.8 3966.5h0M1728.8 4012h0M1625.2 3925.1h0M1779.2 3823.1h0M1627.7 3972.7h0M1685.5 3991.5h0M1672.8 3997.9h0M1796.5 3765.3h0M1753 3926.3h0M1749.1 3981.5h0M1738.7 3969h0M1704.2 4006.1h0M1631.6 3919h0M1643.2 3866.8h0M1640.6 3999.4h0M1592.1 4044.2h0M1640.3 3932.5h0M1644.5 3864.5h0M1733.5 3872.3h0M1669.4 3903.9h0M1608.7 3989.1h0M1620.6 4009.9h0M1625.5 4010.1h0M1659.1 4027.2h0M1789.1 4059.8h0M1756 3893.5h0M1642.3 3982.8h0M1644.4 3967.6h0M1804.4 3782.7h0M1756.5 4017.3h0M1768.6 3935.7h0M1713.9 3937.1h0M1636.1 4004.7h0M1788.9 3760.4h0M1610.9 4045.1h0M1719.9 3988.9h0M1630.2 3925.1h0M1728.6 3963.9h0M1737.5 3982.4h0M1710.5 3881.2h0M1635.3 4014.3h0M1760.4 3961.9h0M1758.1 3864.5h0M1724.6 3888.1h0M1602.5 4018.7h0M1635.2 3932.3h0M1754.4 3861.9h0M1639.1 3997.2h0M1627.6 4041.2h0M1656.2 3974.9h0M1633.4 3984.7h0M1775.8 3856.9h0M1626.1 3943.5h0M1723.5 3998.9h0M1606.8 4033.5h0M1660.1 4032.3h0M1606.2 4020.5h0M1636.2 3996h0M1584.7 4003.5h0M1617.1 3918.9h0M1728.2 3984.1h0M1701.6 3947.9h0M1644.2 3970.4h0M1693.8 4006.2h0M1642.5 3992.8h0M1694.2 3987.1h0M1628.6 3951.9h0M1736.6 3963.3h0M1703.1 4000.4h0M1776 3912.3h0M1629.7 3966.6h0M1669.1 3978.9h0M1614.4 4030.7h0M1765.9 3801.3h0M1782.5 3790.8h0M1779.6 4011.3h0M1624.4 3994.8h0M1600.7 3946.6h0M1596.5 4039.4h0M1633.3 3980h0M1788.8 3871.3h0M1607.1 3997.9h0M1689.3 3982.2h0M1652.4 4012.4h0M1800.2 3810.7h0M1731.2 3944.6h0M1748.8 3972.6h0M1754.6 3865.9h0M1731.3 3901.9h0M1685.3 3977.9h0M1725.6 3999.3h0M1677.5 3987.2h0M1692.2 3952.3h0" stroke="#fca95e"/><path d="M1765.1 3810.5h0M1629.8 3969.5h0M1783.3 3854.7h0M1772.2 3871.4h0M1586.6 4020.9h0M1795.1 3814.8h0M1649.4 3990h0M1782.5 3859.7h0M1610.5 3972.7h0M1635.3 4002.8h0M1789.4 3994.8h0M1759.7 4001.3h0M1795.2 4019.4h0M1784.6 4005.2h0M1621 3924.9h0M1759.6 3984.3h0M1795.2 4059h0M1748.7 3893.4h0M1602.6 3977.4h0M1779.2 3808.4h0M1833.3 3994.2h0M1606 3962.5h0M1625 3968.4h0M1776.6 3830.7h0M1801.1 3841.1h0M1780.7 3823.9h0M1666.5 3966.4h0M1657 4013.6h0M1776.8 3999.7h0M1632 3924.5h0M1804.4 4040.4h0M1773.5 3815.8h0M1610 3971h0M1775.7 3802h0M1735.5 3943.5h0M1669.2 3940.9h0M1745.9 3968.9h0M1666.2 3882h0M1803.5 3803.4h0M1828.6 4067.2h0M1651.2 3996.7h0M1639.2 3941.6h0M1810.9 3996.9h0M1625.6 3979.2h0M1742.2 3862.8h0M1801.8 3783.4h0M1616.6 3958.9h0M1747.5 3957.1h0M1821.8 4027.3h0M1805.6 3762.3h0M1602.4 3975.5h0M1787.3 3822.9h0M1587.9 3991.3h0M1647.1 4005.1h0M1694 3991.1h0M1582.8 4030.4h0M1819 3757.3h0M1592.6 3930.9h0M1631.9 4018.9h0M1780.8 3850.6h0M1741.5 3934.8h0M1638.6 3944.7h0M1637.3 3980.8h0M1590.4 4035h0M1802.5 3820.9h0M1631.1 3973.5h0M1771 3931.5h0M1605.6 4014.1h0M1617.7 3942h0M1809.7 3796.4h0M1776 3836.7h0M1799.4 3781.7h0M1807.3 3753.3h0M1670.9 4003.3h0M1634.6 3970.8h0M1715.9 3988h0M1795.3 4076.5h0M1616.7 4004.1h0M1639 3993.5h0M1807.6 3761.2h0M1641.9 3920.6h0M1741.4 3953.9h0M1800.6 3799.1h0M1651 3958.4h0M1755.5 3980.6h0M1807.1 3983.7h0M1784.8 3810.3h0M1669 3984.2h0M1786.9 3830.7h0M1764.2 3906.8h0M1612.4 3987.8h0M1783.1 3794.9h0M1798.6 4013.9h0M1741 3926h0M1785.3 3796.5h0M1768 3852.9h0M1603 4003h0M1794.9 3811.3h0M1633.1 4000.3h0M1571.7 3975.7h0M1820 3765.7h0M1772.2 3818.8h0M1616.3 3993.4h0M1721.2 3972.8h0M1838.4 4021.3h0M1790.6 3787.3h0M1797.2 3830.3h0M1805.5 3786.5h0M1623.7 3917.3h0M1614.9 3998.7h0M1800.2 3997.1h0M1607.8 4018h0M1645.6 3994.4h0M1617 3975.3h0M1798.7 3772.3h0M1797.5 3817.7h0M1783.1 3753.3h0M1645.3 3929.9h0M1779.6 3803.6h0M1698.7 3950.4h0M1643.2 3999.7h0M1790.2 4022.1h0M1646.2 3992.5h0M1795.6 3753.9h0M1769.5 3779.8h0M1603 4025.4h0M1630.5 3969h0M1619.4 4018.4h0M1792.6 3805.2h0M1656.9 3978.4h0M1655.7 3937.1h0M1767 3790.9h0M1805.9 3764.6h0M1776.7 3824.3h0M1592.1 3936.8h0M1737.5 3966.6h0M1610.8 3985.8h0M1611.9 4013.4h0M1788.6 3817.2h0M1602 4018.4h0M1825.3 3748.6h0M1634.4 3949.5h0M1829.2 4051.1h0M1766.1 3856h0M1798.5 3819.8h0M1740.9 3863.7h0M1689.6 3963.2h0M1757.8 3839.9h0M1791.2 4026.5h0M1801.2 3782.8h0M1670.8 4006.9h0M1613.9 3974.6h0M1575.5 3999h0M1812.7 4030.4h0M1812.8 4037h0M1609.4 4014.6h0M1685.4 3935.4h0M1789.4 4069.2h0M1819.2 4044.6h0M1801.6 3807.3h0M1612.5 3969.4h0M1803 3778.8h0M1797.1 3807.6h0M1810.5 3757.5h0M1605 3971.5h0M1646.4 3965.2h0M1637.1 4003.2h0M1606.2 3976.7h0M1755.3 3893.7h0M1618.2 3974.7h0M1798.4 4037.2h0M1574.4 3970h0M1806.5 3838.1h0" stroke="#f88e52"/><path d="M1792.5 3766.1h0M1775.6 3849h0M1802.9 3797.3h0M1610.2 3957.1h0M1809.4 4014.6h0M1804.3 3774.6h0M1640.6 3962.8h0M1779.7 3750.5h0M1806.3 4004.7h0M1807.7 4029.2h0M1793.6 3829h0M1789.2 3817h0M1778.7 3744.6h0M1802.6 4046.3h0M1676.4 3947.4h0M1766.2 4013.4h0M1806.2 3776.5h0M1773.9 4007.8h0M1795.9 3756.7h0M1785 3796h0M1800.8 4046.3h0M1789.2 3790.8h0M1797.2 3768.7h0M1796.3 4065h0M1801.8 4063.1h0M1774.9 3813h0M1796.8 4011.5h0M1803.5 3771.2h0M1781.9 4062.2h0M1794 4056.9h0M1789.2 3817h0M1792.5 3823.2h0M1798.1 3784.6h0M1622.9 3932.3h0M1593.2 3974.4h0M1794 4003.3h0M1646.3 3950.4h0M1793.7 3807.5h0M1795.7 4025h0M1776.8 3993.3h0M1624.3 3961.8h0M1600.2 4031.8h0M1786.4 3791.6h0M1828.2 4013.7h0M1784.3 3824.8h0M1794.4 3822h0M1814.1 3756.9h0M1812.4 4029.1h0M1770.6 3776.3h0M1785.1 4039.6h0M1788.6 3792.4h0M1796.4 3785h0M1800.2 4024.3h0M1772.5 4019h0M1807.4 4019.7h0M1801.9 4008.1h0M1821.4 4042h0M1760.4 3988.6h0M1803.8 3776h0M1778.1 3991.8h0M1573.4 3993.4h0M1802.6 3777.2h0M1596.1 3957.9h0M1742.4 3947.8h0M1798.8 3841.7h0M1776.6 4030.5h0M1816.3 3789.6h0M1795.3 4060.1h0M1814.7 4015.7h0M1782.7 4021.9h0M1770.2 3849.1h0M1790.3 3989.2h0M1772.4 3815h0M1791.1 4052.3h0M1773.7 3830.4h0M1791.2 4051.2h0M1652.4 3982.8h0M1756.1 3994h0M1800.4 3749.4h0M1821.9 4028.1h0M1816.4 4057.9h0M1752.9 3822.8h0M1806.5 3795.3h0M1793 3799h0M1798.9 3763.4h0M1800 4044.5h0M1819.7 4069.7h0M1760.4 3992.6h0M1791.9 4037.7h0M1759.2 3971.2h0M1778.3 3803h0M1790 3997.4h0M1803.9 3776.4h0M1794 4053.7h0M1792 3797.9h0M1797.1 3808h0M1792 4033.8h0M1807.1 4044.3h0M1808.1 3988.3h0M1783.1 4017.9h0M1782.1 4037.6h0M1626.1 3941.2h0M1597.7 3986.7h0M1793.1 3787.9h0M1789.9 3819.3h0M1758.9 3997h0M1786.3 4005.4h0M1771.3 3810.3h0M1813 4033.5h0M1820.7 3997.3h0M1800.5 3840.4h0M1792.3 4059.3h0" stroke="#f57246"/><path d="M1796.1 4018.2h0M1792 4028.8h0M1809.3 3825h0M1800 4001.8h0M1789.4 4057.2h0M1785.6 3995.4h0M1645.4 4011.2h0M1799.7 4050.3h0M1783 4001.2h0M1824.1 4034.4h0M1795.4 3755h0M1807.3 4064.3h0M1777.7 3987.9h0M1800.4 4074.2h0M1834 4046.9h0M1788.6 4002.2h0M1633.8 3989.5h0M1827.6 4018.4h0M1798.2 4055.4h0M1807.3 4036h0M1758.8 3968.6h0M1773.5 4003.5h0M1791.8 4022.6h0M1818.4 4027.3h0M1788.7 3808.5h0M1795.9 3803.1h0M1810.7 4026.8h0M1819.1 4019.1h0M1803.2 4048.3h0M1799.1 4050.8h0M1805 4015.6h0M1778.9 4017.5h0M1811.6 4001.6h0M1833.4 4009h0M1816.2 4056.9h0M1802.7 4007.2h0M1809.7 4045.4h0M1806 3985.1h0M1806.2 3786.2h0M1772.6 3992h0M1799.8 4074.1h0M1815.5 4008.7h0M1805.9 4048.5h0M1831.8 4058.4h0M1791.4 3769.4h0M1803.2 4049.4h0M1816.3 4038.1h0M1781.3 3773.1h0M1811.6 4036.1h0M1815.8 4022.6h0M1795.7 4027.3h0M1779.6 4033.7h0M1787.9 3793.1h0M1766.2 4030.9h0M1789 4018.5h0M1782 3996.2h0M1793.5 4003.8h0M1801.3 4067.2h0M1778.7 3981.3h0M1783.2 3819.6h0M1752.4 4007.4h0M1819.2 4011.7h0M1803.4 4054.1h0M1766.2 3996.2h0M1785.1 4042.3h0M1808.8 4058.8h0M1788.9 4052.1h0M1820.2 4057.5h0M1808.7 4024.2h0M1808.1 4043.4h0M1787.7 4045.1h0M1823.4 4017.4h0M1820.3 4003.5h0M1808.4 4033.2h0M1780.8 4003.5h0M1780.9 3836.1h0M1813 4059.9h0M1784 3806.6h0M1816.3 4018.4h0M1800.3 4043.6h0M1830.6 4040.3h0M1777.7 3805.2h0M1803.8 4004.6h0M1790.3 3781.9h0M1772.1 3991.5h0M1836.4 3999.9h0M1790 3790.7h0M1802.5 4025.6h0M1788 4040.8h0M1783.2 3835.5h0M1770.2 4016.9h0M1780.6 4022h0M1802.4 4030.8h0M1800.4 3992.3h0M1739.9 3999.9h0M1810 4057.6h0M1771.1 4017.3h0" stroke="#ea5d47"/><path d="M1826.1 4026.1h0M1790.4 3760.7h0M1823.6 4049.5h0M1789.2 4015h0M1783.3 4000.1h0M1800.6 4016.1h0M1810.3 4039h0M1788.5 4031.6h0M1827.1 3997.7h0M1807.6 4012.9h0M1802.5 4060.5h0M1795.9 4029.1h0M1813.2 4052.4h0M1795.8 4044.7h0M1764.3 4006.5h0M1790.7 4001.8h0M1776.5 4065.3h0M1797.9 4015.2h0M1797.7 4061.1h0M1771.5 4010.9h0M1798.1 4047.5h0M1803.3 4002.8h0M1797.8 4030.6h0M1787.7 4077h0M1795.7 3768h0M1811.1 4055.6h0M1808.8 4050.9h0M1776.3 4013.6h0M1792.5 4025.8h0M1788.1 4031.8h0M1835.9 3996.5h0M1789.4 4048.3h0M1787.3 4023.7h0M1783.5 4028.4h0M1824.8 4006.8h0M1786 4023.9h0M1807.8 4008.6h0M1786.8 4009h0M1837.1 4005.5h0" stroke="#dd4a4c"/><path d="M1793.5 4045.1h0M1799.8 4065.7h0M1809.3 4028.3h0M1819.4 4044.6h0M1801.5 4071.2h0M1803.7 3985.7h0M1781.1 4007.9h0M1820.6 4031.4h0M1753.6 4019h0M1782 4048.8h0M1801.7 4008.5h0M1830.8 4028.9h0M1809.4 4023.7h0M1781.3 3787.3h0M1781.3 3987.8h0M1813.3 4050.8h0" stroke="#cc344d"/><path d="M1810.9 4029.1h0" stroke="#b51a47"/></g>
<defs><linearGradient id="g15" x1="0" y1="1" x2="0" y2="0"><stop offset="0%" stop-color="#5e4fa2"/><stop offset="10%" stop-color="#3288bd"/><stop offset="20%" stop-color="#66c2a5"/><stop offset="30%" stop-color="#abdda4"/><stop offset="40%" stop-color="#e6f598"/><stop offset="50%" stop-color="#ffffbf"/><stop offset="60%" stop-color="#fee08b"/><stop offset="70%" stop-color="#fdae61"/><stop offset="80%" stop-color="#f46d43"/><stop offset="90%" stop-color="#d53e4f"/><stop offset="100%" stop-color="#9e0142"/></linearGradient></defs>
<rect x="1887" y="3993.9" width="33.9" height="79.7" fill="url(#g15)"/>
<text x="1921.9" y="4001.1" font-size="30.5">70</text>
<text x="1922.2" y="4079.1" font-size="30.5">0</text>
<text x="2100.6" y="3727.5" font-size="43.3" font-style="italic" textLength="220.4" lengthAdjust="spacingAndGlyphs">atp6v1b2.S</text>
<g fill="none" stroke-width="6.1" stroke-linecap="round" stroke-opacity="0.85"><path d="M2255.5 3980.6h0M2260.2 4017.3h0M2271.1 4037.7h0M2289.7 4009.6h0M2255.5 4057.8h0M2253 4008.9h0" stroke="#5e4fa2"/><path d="M2262.8 3992.4h0M2268.5 4017.1h0M2282.5 4033.5h0M2302 4065.2h0M2268.7 4074.5h0M2268.1 3995.6h0M2272 4011.6h0M2308.7 4015.7h0M2273.6 3994.7h0M2262.5 4057.7h0M2302.6 4049h0M2264.6 4024.2h0M2286.2 4034.8h0M2262.8 4067.2h0M2292.6 4042.4h0" stroke="#4c67ad"/><path d="M2233.1 3999h0M2258 4002.9h0M2281.1 4026.9h0M2268.6 4056.9h0M2306.7 3991.9h0M2140 3992.9h0M2250.2 3997.3h0M2277.8 4038.2h0M2284.3 3994.5h0M2295.2 4025h0M2280.5 3981.3h0M2311.8 4019h0M2263.6 4019.8h0M2286.1 4028.2h0M2271.8 4035h0" stroke="#397eb8"/><path d="M2242.2 3983.3h0M2282.8 4012.3h0M2138.8 4022.1h0M2275.9 4044.1h0M2274.2 4044.1h0M2269.7 4062.9h0M2275.2 4061.1h0M2270.2 4009.2h0M2207.1 3966.9h0M2198.4 3989.7h0M2255.3 4060.1h0M2221.9 3954h0M2250.2 3990.9h0M2273.5 4022h0M2245.9 4016.7h0M2275.3 4005.8h0M2294.8 4039.8h0M2233.7 3986.2h0M2117.3 3940.9h0M2250 4028.3h0M2268.6 4058h0M2288.1 4013.4h0M2256.1 4019.6h0M2182.5 3996h0M2264.5 4049.1h0M2125.2 3977.7h0M2273.4 4042.3h0M2103.3 3993.4h0M2293 4067.7h0M2233.8 3990.2h0M2265.3 4035.5h0M2232.6 3968.7h0M2263.4 3995h0M2265.3 4031.6h0M2218.4 3992.2h0M2177.6 3962h0M2256.5 4015.6h0M2209.5 3971.3h0M2232.3 3994.6h0M2259.7 4003.1h0M2286.3 4031.3h0M2265.6 4057.2h0" stroke="#3f96b7"/><path d="M2206.8 3968.6h0M2178.7 3995.8h0M2187.6 3998h0M2139.1 4023.6h0M2259 3993h0M2279.6 4002.3h0M2135.2 3987.3h0M2280.7 4062.3h0M2273.8 4072.2h0M2124.3 3933.4h0M2239.6 4011.1h0M2200.1 3998.6h0M2247.3 4005.5h0M2035 3987.7h0M2271.6 4053.3h0M2280.7 4033.8h0M2232.2 3966.1h0M2156.7 3997.2h0M2192 3990.2h0M2267.4 4054.8h0M2291.8 4025.1h0M2123.9 3962.2h0M2267.4 4001h0M2284.1 4024.6h0M2189.3 3977h0M2269 4022.8h0M2168.3 3960.9h0M2176 3954.1h0M2128.7 3995h0M2251.9 3847.7h0M2276.6 4046.2h0M2196 3993.9h0M2285 3999.2h0M2276.1 4004.9h0M2283.1 4043.2h0M2271.1 3810.7h0M2215.5 4000.8h0M2301.6 4011.4h0M2288.9 4006.3h0M2215.4 4012.7h0M2096 3982.1h0M2285.8 4026.9h0M2258.4 4037.4h0M2078.3 4014.3h0M2276.6 4047.2h0M2285 4033.9h0M2280.8 4017.5h0M2231.8 3963.4h0M2263.6 3986.8h0M2225.7 4005.1h0M2232.2 3990.2h0M2264.5 4050.1h0M2183.7 3869.4h0M2138.5 4015.9h0M2229.5 3991.6h0M2258.5 4040.1h0M2295.3 4025.8h0M2289.8 4055.8h0M2281.4 4041.2h0M2261 4042.9h0M2106.2 3990.3h0M2212.4 3984.8h0M2293.7 4001.1h0M2281.8 4031h0M2286.4 4057.8h0M2267.3 4051.6h0M2273.7 4041.5h0M2304 4038.1h0M2245.5 3989.1h0M2280.5 4042.2h0M2281.5 3985.9h0M2092.4 3967.4h0M2275.8 4023.4h0M2255.5 4035.4h0M2113.6 3958.2h0M2096.2 3984h0M2254 4019.7h0M2275.8 4028.6h0M2243 3982.9h0M2294.1 3994.9h0M2273.8 3989.9h0" stroke="#55afad"/><path d="M2265.4 4026.5h0M2186.3 4008h0M2102.3 3997h0M2273.4 3999.5h0M2262.8 4055.1h0M2225.6 3960.5h0M2060.1 4043.4h0M2156.8 3998.2h0M2273.1 4048.2h0M2256.4 3998.9h0M2297.5 4032.2h0M2117.9 4014.9h0M2227.5 3975.2h0M2094.9 3960.4h0M2247.9 3972.1h0M2251.1 3985.5h0M2151 3992.8h0M2262 3999.9h0M2301 4016.2h0M2186.8 3987.6h0M2067.8 3952.5h0M2043.7 3993h0M2215.3 3996.8h0M2246.8 4001.1h0M2265.2 4020.4h0M2271.9 4023.3h0M2045.6 3985.5h0M2177.6 3993.6h0M2087.5 4022.5h0M2281.3 3779.1h0M2089.5 3993.1h0M2145.3 4030.7h0M2292.5 4016.8h0M2088.5 4044.1h0M2272.5 4048.7h0M2278.4 4013.3h0M2042.9 3984.7h0M2241.7 3987.3h0M2252.3 4015.2h0M2138 3976h0M2306.8 4006.7h0M2185.7 3870h0M2289.6 4054.8h0M2110.6 4011.6h0M2086.4 3978.7h0M2066.3 4022.9h0M2279.3 3982.6h0M2228.1 4008.2h0M2246 3989.6h0M2273.1 4072.1h0M2279.2 4046.3h0M2169.8 4004.8h0M2225.4 3969.9h0M2305.2 4056.3h0M2289.7 4035.9h0M2087.2 3986h0M2142.1 4002.2h0M2289.2 4020.3h0M2186.8 3971.2h0M2188.9 3979.8h0M2099.6 3956.5h0M2269.1 4025h0M2228.6 3999.7h0M2253 4031.5h0M2239.6 4028.7h0M2262.4 4016.2h0M2233.8 4022.1h0M2191.4 3980.3h0M2255.4 3993.9h0M2266.9 4001.5h0M2274.7 4065.2h0M2252.1 3978.8h0M2146.7 4000.4h0M2155.8 3961.9h0M2276.8 4052h0M2239.6 3993.8h0M2103.2 3999h0M2194.5 3987.4h0M2282.2 4056.7h0M2199.1 3991.4h0M2262.3 4049.9h0M2266.6 3787.7h0M2293.6 4055.4h0M2282.1 4022h0M2202 4010.6h0M2233.7 3977.8h0M2296.8 4015.1h0M2070 4021.3h0M2203.5 4005.6h0M2254.2 4001.1h0M2175.9 3961.5h0M2152.2 3994.6h0M2289.7 4016.1h0M2191.2 3987.8h0M2277.2 4002.2h0M2098.7 3922.7h0M2125.9 3976h0M2156.1 3982.1h0M2309.8 3997.5h0M2235.1 3983h0M2206.8 3979.1h0M2261.3 4038.6h0M2160 3962.9h0M2243.6 4014.6h0M2255.1 3790.3h0M2220.6 4011.6h0M2288.7 4052.8h0M2213.2 3997.6h0M2244.4 4015h0M2224.5 3965h0" stroke="#6cc4a5"/><path d="M2269.5 4015.9h0M2299.5 4023.9h0M2088 3957.5h0M2105.5 3959.1h0M2297 4047.3h0M2262.6 4012.7h0M2241.8 3995.8h0M2093.3 3963.8h0M2130.9 4011.6h0M2256.6 3997.8h0M2274 4013.9h0M2099.1 4012.2h0M2283.7 4036.8h0M2167.2 3955.8h0M2064.5 4028.4h0M2307.4 4044.8h0M2177.3 3958.3h0M2261.9 4029.4h0M2189.5 3971.8h0M2084.2 3998.5h0M2213.4 3938.1h0M2081.6 4036.8h0M2206.5 3996.1h0M2078.1 4010.7h0M2075.4 4016.1h0M2109.5 3990.3h0M2157.5 3967.3h0M2129 4006.8h0M2159.6 3987h0M2281 4010.6h0M2149.9 3962.4h0M2093.9 4000.5h0M2293.6 3822.3h0M2275.9 4058.5h0M2101.1 3973.5h0M2157.9 4017.3h0M2180.1 3980.1h0M2181.4 3992.5h0M2174.4 4007.3h0M2251.8 3797.2h0M2195.1 3988.2h0M2102.3 3975.7h0M2247.5 3764.6h0M2179 3954.5h0M2090.5 3948h0M2217.5 3972.3h0M2269.3 4026.9h0M2286.5 4050.2h0M2167.2 3966.2h0M2269.1 4042.6h0M2066.3 4020.2h0M2085.4 3978.2h0M2233.2 3940.6h0M2264.1 3999.4h0M2089.8 3987.6h0M2198.1 3933.3h0M2180.7 3955.7h0M2113 3957.8h0M2218.2 3985.1h0M2249.8 4063.3h0M2127.7 4013.7h0M2160.9 3966.3h0M2110.7 3970.3h0M2145 3985.9h0M2106.2 3978.8h0M2088.2 4018.5h0M2093.3 3992.6h0M2175.6 4025.9h0M2271.1 4059h0M2196.6 3987h0M2164.9 3962.3h0M2233.1 3907.8h0M2140.5 3953.2h0M2123.9 3974.9h0M2219 3868.1h0M2119.5 3999.5h0M2195.1 3989.2h0M2244.8 4008.6h0M2176.6 3981.8h0M2073.3 3980.7h0M2208.9 3944.2h0M2158.8 3880.5h0M2141.3 3991.7h0M2276.6 4000.5h0M2086.7 3967.1h0M2111.6 3979.8h0M2271.2 4028.3h0M2095.5 3968.8h0M2220.6 4017.8h0M2183.4 3982.6h0M2292.6 4009.4h0M2209.7 3977.3h0M2218.3 3907h0M2207.5 3976.7h0M2059.1 3982.8h0M2181 3998.9h0M2172 3983.6h0M2095.2 4025h0M2282.2 4048.8h0M2093.9 3974.8h0M2119.4 4006.9h0M2102.4 3966.6h0M2249.1 3998.8h0M2202.6 3967.8h0M2098.5 3987.8h0M2089.4 3964.6h0M2140.7 3972.5h0M2249.7 4011.3h0M2245.1 3842.3h0M2203.4 4011.5h0M2261.5 4029.5h0M2250.8 3821.8h0M2109 3965h0M2225.8 4005.7h0M2097.3 3983h0M2215.7 3979.5h0M2188.6 3975.7h0M2247.3 3987h0M2198.5 3850.4h0M2177.8 3980.7h0M2071.8 3984.3h0M2203 3976.7h0M2167.5 3994.6h0M2167.7 4016.3h0M2152.9 4026.5h0M2064.1 3971.7h0M2262.8 4046.1h0M2091.8 3978.8h0M2164.8 3994.1h0M2135.3 3929h0M2197 4010.1h0M2114.7 4024.4h0M2089.9 3979.4h0M2256.9 4026.2h0M2084.9 4034.9h0M2158.1 3949.2h0M2298.2 4004.5h0M2259.4 4021.6h0M2284.5 3813.3h0M2281.2 4006.3h0M2167.6 3989.6h0M2134.8 3949.5h0M2310.5 4003.1h0M2283.4 4055.5h0M2179.2 3983.1h0" stroke="#88d0a4"/><path d="M2167.7 3861.8h0M2157.4 4015.8h0M2080.9 3993.9h0M2070.9 3968.9h0M2120.6 3960h0M2150 4000.5h0M2250.6 3796.7h0M2148.1 3972.7h0M2156.8 4004.1h0M2109.7 3939.6h0M2117.9 3967.6h0M2188.4 3974.9h0M2112.1 3987.7h0M2121.2 4007.4h0M2282.6 4026.1h0M2074.6 4045.5h0M2223.9 3971.5h0M2142.6 3972.6h0M2152.9 3929h0M2191.6 3980.7h0M2157.5 3982.8h0M2195.8 3963.8h0M2049 3997.3h0M2225.8 3999.4h0M2274.9 4069.2h0M2159.1 3967.2h0M2078.7 4021.9h0M2188.7 4001.9h0M2261.7 3802.5h0M2128.2 3976.5h0M2116.6 3987.7h0M2176.6 3984.3h0M2104.6 3991.4h0M2207.4 3861h0M2091.9 3963.8h0M2118.6 3976.5h0M2084.9 4022h0M2107.9 3997.5h0M2049.4 3991.3h0M2078.7 3999.8h0M2101.9 4007.1h0M2105 3993.3h0M2076.5 3980.6h0M2300.5 3995.3h0M2211.6 3961.8h0M2201.3 4003.6h0M2210.1 3989.3h0M2075.1 4004.8h0M2086.6 3964.1h0M2214.3 3976.7h0M2108.6 3996.1h0M2147.4 3958.6h0M2241 3776.5h0M2202.1 3955.1h0M2126 3967.6h0M2221.3 3892.8h0M2177.2 3982.3h0M2206.3 4015.4h0M2261.4 3915.7h0M2221.6 3980h0M2098.9 3957.9h0M2234.9 3792.7h0M2257.6 3749.7h0M2216.7 3967.2h0M2109.3 3937.6h0M2188.2 3859.5h0M2185.4 4002.1h0M2097.8 4000.1h0M2269.3 3778.9h0M2268.5 3763.7h0M2114.2 3929.9h0M2289.3 3784.5h0M2078.9 3958.5h0M2082.6 4027.6h0M2081.9 3962h0M2101.1 4000.4h0M2112.4 3971.1h0M2119.6 3988.2h0M2091.4 4018.4h0M2107.7 3983.2h0M2237.7 4004.2h0M2120.6 4027.1h0M2200.3 3951.9h0M2123.5 3995.3h0M2081.5 4029.1h0M2120 3912.3h0M2230.6 3827.1h0M2094.2 3961.1h0M2089.1 3969.1h0M2060.8 3969.8h0M2078.4 4025.5h0M2171.1 3979h0M2271.3 4012.9h0M2214.6 4015.8h0M2276.9 3788.1h0M2163.1 4000.4h0M2237.1 3978.8h0M2198.5 3976.8h0M2194.7 3963.5h0M2076.5 3991.7h0M2185.7 3955.3h0M2075.4 4016.1h0M2184.9 3978.6h0M2282.8 4021.5h0M2224.7 3991.4h0M2083 3946.7h0M2125 3956.6h0M2119.6 4015.2h0M2231.2 3972.3h0M2208.8 3978.8h0M2268.4 3865.7h0M2116.1 3954.7h0M2111.8 3978h0M2238.6 3856.2h0M2271.5 4045.4h0M2094 4000.6h0M2104.1 3991.7h0M2101 3954.5h0M2211.5 4009.3h0M2226.5 4024.9h0M2113.5 3965.3h0M2261.1 4075h0M2097.1 3938.6h0M2090.2 3998.4h0M2269.4 3739h0M2284.5 4053.5h0M2103.5 3962.2h0M2110.1 3938.2h0M2252.6 3819.9h0M2162 3973.1h0M2097.7 4008.6h0M2269.9 3761.9h0M2102 4012.6h0M2174.2 4013.2h0M2206.6 3920.3h0M2091 3962.7h0M2265.8 4023.5h0M2110.3 3986.3h0M2114.1 3973.5h0M2137.2 3981.9h0M2207.9 3827.1h0M2262.3 3757h0M2076.1 3952.1h0M2234.7 3980.5h0M2145.1 3981.9h0M2152 3973.3h0M2203 3996.5h0M2071.5 3970h0M2121.5 3961.5h0M2124.5 3975.8h0M2139.7 3972.8h0M2112.4 3968.2h0M2309.3 3994.1h0M2175.3 3866h0M2119.4 4026.1h0M2194.6 3984.2h0M2260.6 4021.4h0M2081.2 3982.2h0M2099.5 3971.1h0M2198.7 3972.7h0M2220.1 3970.8h0M2089.6 3960.2h0M2255.9 3787.5h0M2207.1 3954h0M2053.6 4010.4h0M2243.4 3855.9h0M2260.2 4006.7h0M2273.6 3807.5h0M2094.1 3970.6h0M2157.6 3879.4h0M2095.7 3993.6h0M2104.5 3970.5h0M2095.6 3996h0M2149 3953.7h0M2286.7 4048.7h0" stroke="#a5dba4"/><path d="M2238.5 3807.3h0M2076.3 4034.2h0M2266.9 4042.9h0M2157.3 3961.9h0M2123.6 3987.7h0M2060.8 4040h0M2223.1 3981.3h0M2202.4 4002.2h0M2126 3968.3h0M2235.4 3892.6h0M2144.3 4022.6h0M2138.2 3981.6h0M2214.1 3933.3h0M2145.8 4008h0M2101.1 4004h0M2189.6 3956.9h0M2269.3 3863.9h0M2212.7 3997.9h0M2265 3789.5h0M2255.6 3765.9h0M2234.7 3994.1h0M2162.7 3975.1h0M2105.9 3991.3h0M2189.3 4007.5h0M2132.5 3961.3h0M2100.4 3997h0M2117.1 3998.2h0M2049.3 4005.9h0M2094.2 3984.9h0M2214.6 4020.1h0M2104.2 3988.4h0M2219 3980.4h0M2292.8 4042.4h0M2227.4 3914.2h0M2234.7 3924.1h0M2060.3 4021.6h0M2148.5 3945.5h0M2171.9 3926.1h0M2277.1 3983.3h0M2201.1 3979.6h0M2129 3938.4h0M2221 3983h0M2209.8 3968.1h0M2246.9 3812.6h0M2249.1 3798.7h0M2205.5 3924.1h0M2163.6 3911h0M2151.6 3942.4h0M2254.5 4005.6h0M2208.6 3967.2h0M2250.2 3791.9h0M2277.9 3760.6h0M2086.9 4008.1h0M2141.1 4008.3h0M2135.6 4012.8h0M2275.2 3780.1h0M2131.3 3977.3h0M2159.9 3980.6h0M2173.6 3967.4h0M2200.1 3979.2h0M2091 3982.9h0M2179.4 3955.3h0M2204.4 4002.7h0M2103.3 3961.2h0M2294 4029.2h0M2227.7 3977.6h0M2227 4016.8h0M2207.1 3965.8h0M2080.3 4006h0M2198 3880.6h0M2091.2 3994.5h0M2285.4 3748.6h0M2260.2 3793.5h0M2116.2 4018.6h0M2140.7 4004.1h0M2246.8 3859.8h0M2206.6 3981.6h0M2164 4003.7h0M2215.1 3962h0M2119.2 3975.1h0M2218.1 3950h0M2218.6 3991.9h0M2182 4001.4h0M2261.1 3885.5h0M2219.2 3985.1h0M2255.5 3881h0M2280.7 3749.8h0M2246.2 3762.9h0M2118.3 3964.3h0M2090.1 3991.2h0M2275.1 4006.2h0M2078.2 4015.4h0M2115 3995.2h0M2198.5 3883.8h0M2112.1 3969.9h0M2188.1 3976.8h0M2304.2 4026.7h0M2098.4 3980.7h0M2195.1 4009.5h0M2097.8 3977.6h0M2231.7 3908.7h0M2238.8 3918.7h0M2210.2 3993.7h0M2099.9 3994.6h0M2116.4 4021.3h0M2224.2 3905.6h0M2115.6 3957.3h0M2084 3971h0M2129.5 3997.7h0M2125 4038.6h0M2227.3 3950.1h0M2095.9 3958.2h0M2228.5 3947.7h0M2151.3 4007.1h0M2212.7 3969h0M2200.4 3956.9h0M2055 4023.8h0M2110.1 3978.9h0M2134.6 3990.5h0M2095.8 4011.2h0M2173.4 3966.1h0M2095.7 3967.6h0M2137.2 3988.7h0M2148.2 3974.7h0M2250.4 3789.4h0M2127 3957.7h0M2149.1 3987h0M2293.4 3762.3h0M2245.6 3815.6h0M2090.5 4010.4h0M2132.5 4017.6h0M2205 3967.2h0M2234.1 3842.8h0M2199.3 3987.5h0M2197.1 3927.2h0M2250.6 3817.8h0M2273.4 3837.6h0M2218.9 3892.8h0M2256.4 3749.9h0M2101.1 3970.2h0M2193.1 3937.3h0M2252.6 3857.3h0M2114 3997h0M2065.4 4042h0M2113.6 3929.8h0M2082 3986.7h0M2159.1 3956.4h0M2093.9 4007.6h0M2098.9 4007.8h0M2132.5 4024.9h0M2177.7 3970.1h0M2240.3 3787.6h0M2117.7 3965.1h0M2277.8 3779.4h0M2252.4 3911.3h0M2084.3 4042.9h0M2235.7 3916h0M2250 3821.1h0M2202.5 4014.9h0M2183.9 3878.3h0M2242.3 3986.2h0M2075.9 4016.5h0M2231.1 3844.8h0M2108.6 3929.6h0M2112.4 3994.8h0M2158.5 4007.1h0M2129.6 3972.4h0M2080.1 4031.3h0M2240.9 3956.7h0M2133.4 4030.1h0M2079.5 4018.3h0M2251.4 3861.7h0M2109.5 3993.6h0M2058.1 4001.1h0M2117.5 3967.9h0M2167.1 4003.9h0M2115.8 3990.4h0M2209.9 3960.7h0M2242.5 3978.7h0M2239.3 3798h0M2097.7 3992.4h0M2074 3944h0M2069.8 4037.2h0M2106.6 3977.5h0M2080.4 3995.6h0M2162.7 3979.8h0M2270.5 3804.4h0M2254.7 3985.4h0M2224.3 3921.8h0M2148.4 4022.3h0M2150.9 3984.8h0M2135.5 3943.6h0M2165.6 3949.7h0M2279.9 3835h0" stroke="#bfe5a0"/><path d="M2177.9 3947h0M2059.9 4018.7h0M2116.1 3954.8h0M2268.5 3811.6h0M2120.1 3945.1h0M2273.2 4063.7h0M2054.8 3983.3h0M2183.9 3997h0M2184.8 3986.6h0M2122.8 3987.6h0M2261.9 3873.1h0M2082.3 3954.4h0M2170.4 3872.8h0M2079.1 3944.9h0M2082.9 3989.5h0M2283.9 3869h0M2158.4 3976.7h0M2121.9 4015.5h0M2142.8 3975.6h0M2116.2 3960.9h0M2147.4 4003.3h0M2076 3974.9h0M2152.7 3983.4h0M2252.6 3805.2h0M2129.1 3996.8h0M2274.5 3838.1h0M2190.8 3974.2h0M2254.1 3820.7h0M2054.9 4025.1h0M2083.4 3968.5h0M2174.7 3998.3h0M2263.2 3889.2h0M2238.4 3999.5h0M2279 3758.9h0M2260.7 3819.7h0M2239.1 3978.5h0M2061.2 3988.9h0M2120.4 4002.7h0M2223.9 3911.4h0M2082.7 4025.4h0M2056.1 4028.2h0M2231.7 3965.1h0M2113.8 3950.7h0M2255.4 4046.6h0M2111.1 4007.1h0M2202.7 3895.2h0M2055.1 4031.7h0M2231 3856.8h0M2254.2 3847.6h0M2077.3 3964.6h0M2063.7 4032.8h0M2275.9 3817.8h0M2202.4 3952.3h0M2197.9 3963.8h0M2249.4 3833.6h0M2272.7 3778.3h0M2146.8 3919.4h0M2142.1 4002h0M2241.7 3996.1h0M2220 3968.7h0M2110 4033.8h0M2107.9 3968.3h0M2249.4 3945.4h0M2147.9 3971.2h0M2148.8 3941.5h0M2112.4 3991.2h0M2243.9 3919.9h0M2281 3757.7h0M2252.1 3881.1h0M2094.7 3915.3h0M2214.1 3967.7h0M2274 3795.8h0M2098.2 3971.8h0M2124.3 3955.8h0M2258.2 3807.1h0M2105 3979.4h0M2196.5 4000.3h0M2227.9 4023.7h0M2142.3 3981.7h0M2060.7 3988.1h0M2260.3 3827.6h0M2256.5 3791.6h0M2091.7 4013h0M2168.5 3958.7h0M2238.6 3873.2h0M2168.2 3982.7h0M2242.5 3884.4h0M2217.6 3932.6h0M2088.8 3997.2h0M2258.6 3793.2h0M2268.2 3808.1h0M2070.1 4032.9h0M2153.1 3977.5h0M2057.9 3979.4h0M2202.5 3922.3h0M2118.1 3933.9h0M2213.9 3898.1h0M2263.9 3784h0M2270.5 3827.2h0M2186.6 3981.5h0M2278.9 3783.2h0M2107.7 3980.8h0M2081.1 4015.7h0M2205.5 3982.6h0M2211 3979h0M2235 3977.8h0M2105.5 3987.5h0M2166.9 3964.7h0M2164.7 3995.7h0M2191.1 3964h0M2272.1 3768.9h0M2202.1 4009.7h0M2270.9 3814.6h0M2158.8 3989.1h0M2146.1 3995.5h0M2253 3800.4h0M2222.5 3979.1h0M2177.6 4003.8h0M2116.5 3997.3h0M2269 3750.4h0M2242.8 3776.5h0M2103.8 3966.5h0M2206.9 3869.4h0M2116.8 3929.5h0M2092.7 4016.1h0M2266 3802h0M2115.6 3980.4h0M2187.2 3934.5h0M2109.4 4002.4h0M2279.3 3761.2h0M2223.1 3863.2h0M2193.3 3986.5h0M2202 3961.4h0M2262 3814.1h0M2075.3 4016.1h0M2108.7 4012h0M2093.1 3994.4h0M2298.7 3745.1h0M2284.3 4026.9h0M2104.2 3976.7h0M2087.6 3913h0M2155.3 3891.1h0M2245.5 3894.7h0M2101 4039h0M2106.7 3982.3h0M2271.8 3816.6h0M2196.9 3996.5h0M2274.6 3779.5h0M2096.7 3931.6h0M2144.1 4004.6h0M2087.2 3972.2h0M2048.8 3996.7h0M2201.6 3981.6h0M2174.9 3945.3h0M2167.5 3984.7h0M2101.9 3949.3h0M2082.7 4012.3h0M2176.5 3998h0M2103 3964.1h0M2142.4 3976.5h0M2087.7 4028.5h0M2211.5 3931.5h0M2084.1 3936.1h0M2125.7 4010.1h0M2276.3 3775.4h0M2158.6 3975.5h0M2119.8 3962.7h0M2199 3996.9h0M2079.5 3974.3h0" stroke="#d7ef9b"/><path d="M2103.1 3967h0M2258.7 3831.2h0M2265.9 3762.7h0M2078.8 3919.4h0M2113 3929.9h0M2256.8 3911.7h0M2216.5 3899.9h0M2215.1 3932.2h0M2211.9 3887.8h0M2277.7 3771.2h0M2124.5 3841.2h0M2083.8 3970.2h0M2108.6 4000.5h0M2137.2 3945.7h0M2235.7 3853.7h0M2267 3825.9h0M2220 3844.5h0M2233 3981.9h0M2056.2 4007.5h0M2252.1 3741.1h0M2079.4 3959.9h0M2098.3 3965.9h0M2205.6 3967.6h0M2130.3 4011.3h0M2217.3 3837.2h0M2240.9 4003.6h0M2258.3 3792.7h0M2262.5 3787.5h0M2270.6 3765.3h0M2142.6 3938.3h0M2219.3 3966.4h0M2276.9 3800.1h0M2124.6 3994.4h0M2248.3 3809.8h0M2098.9 3976.8h0M2090 3956.3h0M2276.9 3767.8h0M2212.3 3882.9h0M2204.3 3970.2h0M2262.6 3813.9h0M2265.9 3820h0M2271.5 3781.3h0M2075.7 3973h0M2216.1 3830.9h0M2129 3902.5h0M2240.7 3923.4h0M2194.7 3882.7h0M2292.3 3753.9h0M2225.3 3935.6h0M2105.2 4016.6h0M2125.9 3875.1h0M2189.3 3898.6h0M2104.4 3971h0M2078.9 4011.8h0M2254.7 3915.2h0M2283.1 3793.1h0M2238.1 3887h0M2121.9 3891.5h0M2259.4 3846.1h0M2259.8 3788.3h0M2144.3 4000.9h0M2214 3889.1h0M2257.7 3821.7h0M2120.9 3941.2h0M2267.7 3818.8h0M2287.5 3753.4h0M2124 3921.7h0M2244 3773h0M2090 4001.7h0M2250.5 3864.9h0M2105.5 3917.5h0M2228.9 3978.1h0M2208.6 3962.3h0M2247 3863.3h0M2085.7 3985.4h0M2277.2 3772.6h0M2244.6 3932.5h0M2276 3773.8h0M2260.1 3906.1h0M2200 3965.3h0M2256.2 3855.2h0M2272.2 3838.6h0M2289.7 3786.3h0M2089.2 3934.1h0M2106.5 3997.9h0M2045 3973.2h0M2245.1 3844.8h0M2254.7 3899.3h0M2089.6 3991h0M2212.5 3938.1h0M2194.5 3970.4h0M2088.3 3996.4h0M2120.4 3908.1h0M2273.8 3745.9h0M2118.9 3992h0M2090.4 3972.8h0M2198.4 3909.8h0M2279.9 3792h0M2228 3847.2h0M2219 3837.3h0M2266.3 3795.7h0M2272.3 3760h0M2213.8 3913.1h0M2125.4 3851.5h0M2118.6 3927.3h0M2097.8 3920.2h0M2221.2 3850.5h0M2119.6 3990.1h0M2076.4 4023.2h0M2208.4 3935.8h0M2130.2 3975.9h0M2251.7 3799.7h0M2129 3934.4h0M2232.7 3909.4h0M2229.9 4015h0M2099.6 3928.3h0M2156.2 3876.5h0M2084.1 3983.3h0M2210.9 3980h0M2085.2 4011.1h0M2210.6 3883.9h0M2107.7 3946.9h0M2229.5 3962.9h0M2265.4 3794.6h0M2126.2 3913.5h0M2232.2 3926.6h0M2220.1 3912.6h0M2271.3 3824.5h0M2219.7 3876h0M2222.6 3925.1h0M2208.7 3845.4h0M2283.8 3861.2h0M2190.5 3930h0M2261.9 3879.9h0M2077 3921.6h0M2205.2 3958.8h0M2275 3804.1h0M2266.5 3784.6h0M2085.8 3966.9h0M2283.9 3754h0M2244.7 3807.1h0M2078.3 3969h0M2229.2 3889.8h0M2090.7 3926.4h0M2110.4 4000.9h0M2235.3 3887.8h0M2226.2 3900.6h0M2047.7 3967.5h0" stroke="#eaf79e"/><path d="M2276.3 3794.1h0M2113 3851.4h0M2083.5 3954.6h0M2114 3960.2h0M2253.1 3747h0M2223.6 3893.9h0M2226 3882.6h0M2187.1 3931h0M2094.3 3922.2h0M2268.7 3751.5h0M2262.6 3813.8h0M2223 3920.3h0M2139.8 3963.9h0M2279.6 3773.1h0M2269.3 3753.2h0M2131.2 3849.1h0M2217.3 3915.5h0M2238.9 3917h0M2220.9 3954.5h0M2254.3 3887.3h0M2096.2 3929.6h0M2167.4 3988.7h0M2119.6 3947.8h0M2253 3856.8h0M2267.1 3804.2h0M2245.6 3839.8h0M2098.9 3910.3h0M2097.6 3959.3h0M2110.6 3978.4h0M2256 3813.2h0M2234.6 3888.7h0M2279.6 3782.9h0M2100.8 3927.4h0M2189.2 3985.6h0M2262 3789.1h0M2269.8 3781.7h0M2238.8 3856.4h0M2046.7 3991h0M2127.1 3866.4h0M2228.6 3949.4h0M2069.4 3955.4h0M2223 3866.6h0M2076.3 4000.6h0M2089 3922h0M2125.1 3895.5h0M2245.7 3811.9h0M2229.4 3890.5h0M2145 3892.9h0M2247.1 3827.3h0M2228.6 3939.5h0M2226.2 3942.9h0M2226.2 3819.7h0M2098.5 3922.4h0M2226.3 3923.6h0M2212 3966.5h0M2104.9 3916.3h0M2172 3947.8h0M2274.7 3858.2h0M2277.3 3773h0M2103.5 3922.4h0M2210.8 3964.1h0M2233.8 3959.3h0M2197.9 3885.3h0M2227.8 3858.9h0M2270.5 3804.8h0M2099.4 3940.9h0M2163 3960.6h0M2229.5 3836.4h0M2090.5 3916.2h0M2249.4 3909.5h0M2071 3984.3h0M2263.3 3816.1h0M2204.6 3942h0M2222.2 3970.1h0M2228 3863h0M2204.6 3899.1h0M2091.5 3972.2h0M2273.9 3837.3h0" stroke="#f5fbaf"/><path d="M2204.9 3893.2h0M2118.7 4008.8h0M2253.1 3853.8h0M2216.8 3958.8h0M2222.1 3890.5h0M2149.8 3944.8h0M2227.8 3854.4h0M2105.3 3921.7h0M2224 3959.9h0M2112.5 3939h0M2214.5 3924.6h0M2106 3905.9h0M2235.1 3863.6h0M2229.6 3824.8h0M2140.8 3858.8h0M2129.7 3846.9h0M2230.2 3852.4h0M2066.6 3971.9h0M2222 3831.9h0M2262 3805.3h0M2234.6 3884.9h0M2269.2 3799.9h0M2065.9 3928.2h0M2144.6 3884.1h0M2112 3942.1h0M2091 3939.4h0M2228.2 3943.2h0M2254 3857.2h0M2073.5 4029.5h0M2254.8 3945.4h0M2264.8 3766h0M2254.6 3769.7h0M2127.5 3875.3h0M2226.6 3896.2h0M2139.7 3861.1h0M2251.4 3989.4h0M2261.3 3789.8h0M2129.8 3866.6h0M2111.7 3875.2h0M2256.6 3816.4h0M2125.7 3980.4h0M2208.5 3954.6h0M2231.8 3919.2h0M2235.2 3861.6h0M2254.3 3832.9h0M2114.5 3874.2h0M2229.4 3890.7h0M2257.3 3803.4h0M2242 3933h0M2065.4 3934.2h0M2201.8 3967h0M2251.1 3801.9h0M2263.7 3778.6h0M2111.4 3852h0M2249.2 3853.9h0M2263.3 3787.4h0M2139.3 3843.9h0M2231.2 3836.8h0M2121 3900h0M2256.5 3832.4h0M2099.5 3938.6h0M2136 3852.9h0M2262.1 3868.3h0M2228.7 3890.9h0M2160.4 3891.7h0" stroke="#ffffbf"/><path d="M2256.7 3851.7h0M2245.6 3868.5h0M2263.8 3757.3h0M2141.9 3859.6h0M2282.7 3821.9h0M2255.9 3856.7h0M2102.7 3847.5h0M2133.2 3886h0M2107.1 3987.1h0M2215.6 3859.8h0M2130.7 3870h0M2125.5 3891.7h0M2214.8 3932.1h0M2140.5 3854.3h0M2145.4 3859h0M2115.2 3917.9h0M2214.7 3951.3h0M2123 3873h0M2237.5 3904h0M2214.4 3923.3h0M2241.3 3849.9h0M2135.5 3898.6h0M2097 3914.6h0M2269.1 3764.5h0M2141.9 3874.2h0M2214.3 3860.7h0M2122.7 3902.4h0M2123.8 3893.5h0M2153.2 3869.8h0M2150.9 3873.1h0M2158.7 3932.8h0M2128.7 3920.4h0M2128.7 3881.1h0" stroke="#fff2a9"/><path d="M2129 3867.4h0M2117.3 3846.9h0M2119.2 3884.1h0M2115.6 3909.2h0M2146.1 3852.7h0M2125 3886.9h0M2135.8 3928.3h0M2250 3827.6h0M2208.8 3940.9h0M2115.4 3913.6h0M2144.2 3886.7h0M2244.3 3928.9h0M2137.2 3869h0M2142.2 3879.6h0M2133.3 3883.6h0M2215.8 3945.2h0M2100.1 3901.3h0M2243.6 3846.1h0M2134.9 3882.3h0M2119.4 3881.8h0M2148.2 3905.5h0M2239.5 3852.9h0M2117.8 3874.2h0M2123.2 3856.4h0M2130 3874.5h0M2117.4 3877.5h0M2147.5 3871.7h0" stroke="#fee594"/><path d="M2249 3846h0M2137.9 3903.7h0M2096.9 3881.8h0M2129.3 3909.7h0M2124.3 3850.7h0M2136.7 3905.2h0M2114.1 3857.4h0M2124.8 3877.3h0M2124.4 3905.6h0M2106.1 3891.3h0M2254.7 3784h0M2135.6 3926.5h0M2145 3866.5h0" stroke="#fed480"/><path d="M2113 3893.8h0M2119.5 3854.3h0M2144.5 3891.5h0M2116.5 3863.8h0M2142.8 3901.2h0" stroke="#fdbf6f"/><path d="M2117 3887.9h0M2107.7 3910.9h0" stroke="#fca95e"/><path d="M2139.5 3879.1h0" stroke="#f88e52"/><path d="M2128.9 3883.8h0M2126.1 3923h0M2136 3883h0M2115.8 3843.8h0M2122.8 3850.9h0M2131.4 3885.1h0M2111.8 3904.6h0M2256.3 3880.5h0M2133 3873.6h0M2106.7 3902.5h0M2117.8 3861.5h0M2231.5 3861.5h0M2127.5 3850.5h0" stroke="#cc344d"/></g>
<defs><linearGradient id="g16" x1="0" y1="1" x2="0" y2="0"><stop offset="0%" stop-color="#5e4fa2"/><stop offset="10%" stop-color="#3288bd"/><stop offset="20%" stop-color="#66c2a5"/><stop offset="30%" stop-color="#abdda4"/><stop offset="40%" stop-color="#e6f598"/><stop offset="50%" stop-color="#ffffbf"/><stop offset="60%" stop-color="#fee08b"/><stop offset="70%" stop-color="#fdae61"/><stop offset="80%" stop-color="#f46d43"/><stop offset="90%" stop-color="#d53e4f"/><stop offset="100%" stop-color="#9e0142"/></linearGradient></defs>
<rect x="2366" y="3994.1" width="33.9" height="79.3" fill="url(#g16)"/>
<text x="2400.9" y="4001.3" font-size="30.5">80</text>
<text x="2401.2" y="4078.9" font-size="30.5">0</text>
<text x="2560" y="3727.5" font-size="43.3" font-style="italic" textLength="222" lengthAdjust="spacingAndGlyphs">atp6v1g3.S</text>
<g fill="none" stroke-width="6.1" stroke-linecap="round" stroke-opacity="0.85"><path d="M2717.1 4001.4h0M2598.2 3980.3h0M2578.3 3982.1h0M2716.3 3962.2h0" stroke="#3f96b7"/><path d="M2558.2 4003.7h0M2562.1 4023.6h0M2726.1 3824.3h0" stroke="#55afad"/><path d="M2578.4 3993.8h0M2529.9 4012.7h0M2623.3 3947.2h0M2686.1 3984.4h0M2677.6 3973.3h0M2567.1 3999.7h0" stroke="#6cc4a5"/><path d="M2631.9 3967.4h0" stroke="#88d0a4"/><path d="M2627.2 3988.8h0M2680.6 3973.1h0M2576 4012.3h0M2725.6 3798.6h0M2569.5 3974.2h0M2676.8 3972.5h0" stroke="#a5dba4"/><path d="M2764.6 4057.7h0" stroke="#bfe5a0"/><path d="M2508.5 3993h0M2598.2 3967.7h0M2603.1 4000.3h0M2552.1 4019.4h0M2591.5 3946.6h0M2599.5 3983.1h0M2612.9 4021h0M2577.4 3998.7h0" stroke="#eaf79e"/><path d="M2613.5 4028.7h0M2609.6 3992.7h0M2614.5 3998.2h0M2598.6 3939.1h0M2541.5 3958.1h0M2517.3 3998.3h0M2561.5 4027.6h0M2563.4 3998.4h0M2516.5 3990h0M2584.8 4016.7h0M2570.1 3987.5h0M2561.1 3991.3h0M2577.3 4004.2h0M2580.3 3995.6h0M2543.8 4026.4h0M2566.4 3972.8h0M2587.8 3963.7h0M2570.2 3989.4h0" stroke="#f5fbaf"/><path d="M2561.9 3963h0M2576.4 4002.3h0M2533.8 4048.4h0M2567.3 3969.3h0M2605.3 4016.7h0M2592.2 4020.1h0M2573.2 4017.3h0M2538.3 4033.4h0M2568.9 3965.9h0M2613.3 4027.2h0M2555.5 4041.8h0M2552 4015.9h0M2549.3 4021.3h0M2583.7 3995.6h0M2603.3 4012h0M2519.2 3990.9h0M2568 4005.8h0M2575.2 3978.9h0M2562.4 4049h0M2576.4 3981.1h0M2564.5 3953.6h0M2612.4 3981.4h0M2540.1 4025.4h0M2560.4 3984h0M2559.4 3983.5h0M2540 4028h0M2563.7 3993h0M2587.2 3963.3h0M2584.9 3975.7h0M2616.6 4007.5h0M2580.3 3984.2h0M2573.6 3962.1h0M2614.9 3958.7h0M2547.2 3986.1h0M2560.6 3972.6h0M2585.7 3985.2h0M2532.8 3988.2h0M2569.2 4030.1h0M2568 3980.2h0M2593.6 4012h0M2576.5 3972h0M2572.5 3993.1h0M2563.4 3970.1h0M2583.2 3970.5h0M2571.4 3988.4h0M2600.2 3981.4h0M2545.6 3989.6h0M2537.9 3977.1h0M2565.8 3984.2h0M2588.9 4029.5h0M2563.9 3984.8h0M2558.8 4039.9h0" stroke="#ffffbf"/><path d="M2550.2 4039.2h0M2554.8 3999.2h0M2544.7 3974.4h0M2579.6 3964.7h0M2594.8 3965.5h0M2600.3 3973.8h0M2575.2 4009.2h0M2583.8 3945.3h0M2592.1 3973h0M2586.3 3993h0M2595.5 4012.6h0M2548.4 4050.4h0M2617 3978.1h0M2568.2 3990.2h0M2522.6 4002.6h0M2552.6 4026.9h0M2602.6 3981.9h0M2590.8 3993h0M2534 4026.7h0M2578.7 3996.7h0M2565.9 3969.3h0M2592.9 3981.9h0M2558.8 4027.1h0M2582 4002.8h0M2523 3996.6h0M2552.6 4005h0M2579.1 3998.6h0M2550.4 3986h0M2560.9 4013.3h0M2605.7 3982.7h0M2549 4010.1h0M2560.6 3969.6h0M2582.8 4001.4h0M2600.3 3973h0M2565.2 3999.8h0M2643 3966.4h0M2573 3963.4h0M2615.1 4009.3h0M2571.9 4005.3h0M2552.8 3964h0M2556.5 4032.6h0M2555.8 3967.5h0M2575.2 4005.6h0M2586.6 3976.6h0M2593.8 3993.5h0M2565.4 4023.5h0M2581.8 3988.6h0M2592.5 3969.8h0M2594.9 4032.2h0M2552.1 4020.5h0M2597.8 4000.6h0M2555.4 4034.2h0M2572.5 3986h0M2568.2 3966.6h0M2563 3974.6h0M2534.5 3975.2h0M2552.2 4030.6h0M2602 4018.9h0M2574 3999.9h0M2589.8 3962.9h0M2567.4 3997.9h0M2558 3976.4h0M2550.4 3997h0M2549.2 4021.2h0M2528.7 4028.9h0M2556.9 3952.3h0M2599.4 3962.1h0M2584.3 3984.3h0M2593.8 4004.7h0M2593.8 4020.3h0M2590.4 3960.2h0M2586 3983.4h0M2568 4005.8h0M2578.3 3997h0M2575.1 3960h0M2623.7 3992.3h0M2658.6 3875.6h0M2630.4 3967.4h0M2587.7 3970.8h0M2571.2 3944.2h0M2564.2 4003.7h0M2577.6 3967.7h0M2584.3 3943.8h0M2571.8 4013.8h0M2576.1 4017.8h0M2565 3968.2h0M2568 4012.8h0M2584.5 3991.6h0M2588.3 3979h0M2611.6 3987.2h0M2592 3970.5h0M2558.2 4047.9h0M2549.9 3957.7h0M2619.6 3987.2h0M2572.7 3928.5h0M2545.3 3975.5h0M2582.7 3935.3h0M2586.6 4000.1h0M2595.8 3967h0M2598.8 3981.2h0M2603.9 3977.8h0M2586.6 3973.6h0M2593.6 4031.1h0M2607.8 4035.1h0M2555.1 3987.6h0M2573.6 3976.5h0M2563.6 3965.7h0M2527.2 4015.5h0M2568.1 3976h0M2569.7 3998.9h0M2578.7 3975.9h0M2569.7 4001.3h0" stroke="#fff2a9"/><path d="M2597.9 3993h0M2590.4 3960.3h0M2534.5 4045h0M2528.5 3988.7h0M2631.4 4003.4h0M2556.3 3959.9h0M2553 3950.5h0M2580 3996.6h0M2606.9 3966.8h0M2574.5 4002.3h0M2591.3 4003.4h0M2556.8 3994.8h0M2522.9 4011.1h0M2596.2 4020.6h0M2590.5 3966.4h0M2652.1 3963.9h0M2528.6 4030.1h0M2603.3 3944.1h0M2746.8 4042.7h0M2682.1 3972.4h0M2673.4 3995h0M2634.2 3992.3h0M2565 3988.2h0M2624.5 3967.9h0M2577.4 3966.7h0M2556.7 4030.4h0M2554.2 4011.2h0M2585.3 4012.3h0M2619.8 4035.7h0M2528.8 4036.7h0M2600.2 3881.2h0M2649.2 4012.4h0M2590.4 4023.8h0M2551.2 3970h0M2583.4 3943.3h0M2660.5 3876.2h0M2593.5 3980.5h0M2596.1 3897.5h0M2641.9 3971.7h0M2584.2 4038.8h0M2564.1 3996.5h0M2589.2 4000.5h0M2586.3 3975.4h0M2571.9 3983h0M2619.5 3991.3h0M2572.3 3977.2h0M2590.6 4026.4h0M2579.1 3984.7h0M2603.9 4003h0M2599.3 4043.6h0M2534.4 3993.4h0M2570 3963.7h0M2565.7 4018.2h0M2639.6 3967.8h0M2562.8 4002.5h0M2765.6 4014.7h0M2569.8 4016.4h0M2543.9 4038h0M2633.4 3886.6h0M2569.7 3973.1h0M2657.3 4001.3h0M2611.7 3994h0M2622.7 3980.2h0M2601.3 3963.2h0M2564.5 4015.6h0M2531.6 3984.8h0M2581.8 3986.2h0M2579.6 3992.9h0M2575.1 3975.7h0M2615.2 3977.9h0M2588.2 4002.3h0M2539.2 4047h0M2587.8 3935.6h0M2555.9 3992h0M2572.9 4013h0M2606.8 4030h0M2626.7 3999.9h0M2589.9 3985.7h0M2583.6 4007.6h0M2582.8 4017.2h0M2549.7 4021.6h0M2652.6 3986.1h0M2630.7 3987.5h0M2629.9 3897.1h0M2580.9 3987.6h0M2600.5 3919.3h0M2554 4036.3h0M2627.4 4031.6h0M2693.5 3997.4h0M2553.4 4023.4h0M2583.7 3998.9h0M2531.7 4006.4h0M2591.7 3973.3h0M2609.7 3934.7h0M2590 3995.7h0M2634.6 3968.4h0M2576 3954.9h0M2577.1 3969.6h0M2616.9 3981.9h0M2561.7 4033.5h0M2632.7 3954.8h0M2571.8 3997.7h0M2547.9 3949.6h0M2543.6 4042.2h0M2580.8 3982.9h0M2554.3 4000.8h0M2600 4015.3h0M2609.2 3955.1h0" stroke="#fee594"/><path d="M2577.2 3972.4h0M2533.6 4023.8h0M2681.9 3974h0M2653.5 4001h0M2624.6 4005.7h0M2717.6 3988.6h0M2587.2 3857.7h0M2622.6 3978.1h0M2631.5 4009.3h0M2597.1 3992.9h0M2598.8 3847.5h0M2557.7 3975.7h0M2582.8 4005.7h0M2627.5 3934.8h0M2731 3986h0M2549.8 3980.3h0M2553.2 3965.5h0M2572.4 3971.3h0M2623 3951.2h0M2604.7 4016.5h0M2675.1 4003.8h0M2735.7 4022.5h0M2557.3 3974h0M2626.2 3948.1h0M2598.9 3999.7h0M2605.6 3855.4h0M2573 3982.2h0M2563.9 3961.9h0M2631.3 4002.4h0M2666.9 3995.5h0M2632.1 3972.8h0M2697.1 3959.6h0M2549.6 3978.4h0M2621.9 3964.2h0M2534.9 3994.2h0M2603.3 3908.4h0M2594.7 4008h0M2529.8 4033.2h0M2652 3987.6h0M2664.2 3982.4h0M2579.4 4021.7h0M2650.8 3959.7h0M2573 3916.1h0M2663.1 3865.7h0M2537.4 4037.9h0M2671 3999.2h0M2578.5 3976.5h0M2552.8 4016.9h0M2588.4 3935.6h0M2616.6 4007.2h0M2618.8 4006.2h0M2582.1 3973.7h0M2564 4007h0M2586.6 3996.5h0M2594.3 3918.2h0M2598.6 3961.4h0M2707.1 3968.9h0M2559.6 3990.7h0M2601.5 3872.6h0M2599.4 3901.5h0M2580.6 4003.2h0M2615.8 3997h0M2518.6 3978.6h0M2707.5 3995.5h0M2619.5 3898.9h0M2563.6 3996.3h0M2731 4062.6h0M2555 4020.8h0M2593.1 3997.3h0M2564.4 3978.2h0M2599.7 3857.8h0M2590.8 4002.6h0M2593.8 3995.4h0M2550.2 4028.3h0M2577.9 3971.9h0M2566.8 4021.3h0M2604.6 3981.3h0M2603.3 3940.1h0M2630.8 3882.6h0M2558 3988.7h0M2559.2 4016.3h0M2549.2 4021.3h0M2673.5 3856.6h0M2581.9 3952.5h0M2575.1 4044h0M2614.2 3978.2h0M2650 3872.1h0M2652.4 3967.5h0M2618.6 4009.8h0M2561.2 3977.6h0M2522.4 4001.9h0M2684.6 3976.8h0M2556.6 4017.5h0M2728.5 4014.1h0M2559.8 3972.3h0M2632.2 3885.5h0M2718.4 3988.3h0M2552.1 3974.4h0M2594 3968.2h0M2584.6 4006.1h0M2553.4 3979.7h0M2623.5 3959.3h0M2521.3 3972.9h0M2609.9 3949.2h0" stroke="#fed480"/><path d="M2642.4 3868h0M2661.2 4013.2h0M2662.5 4003.3h0M2594.4 3950.7h0M2618.8 4027.7h0M2612.6 3987h0M2620.3 4013.2h0M2700.8 3966h0M2557.4 3960.1h0M2664.5 3962.5h0M2637.4 3980.5h0M2588.2 3965.7h0M2738.4 3997.7h0M2744.2 4022.2h0M2632.1 3988.1h0M2702.8 3980.6h0M2568.3 3928h0M2723.3 3977.6h0M2633.8 3972.7h0M2603.5 4002.1h0M2607.6 3892.1h0M2625.5 3998.1h0M2614.3 3969.4h0M2646.6 3931.8h0M2661.7 3993h0M2638.3 3916.9h0M2758.3 4038.5h0M2778 4070h0M2690.5 4002h0M2615.5 4013.5h0M2580.2 3911.8h0M2760.1 3999.8h0M2610 4018h0M2605 3876.1h0M2634.5 3985.9h0M2570.3 3935.3h0M2615.2 3865h0M2604 3853.2h0M2652.4 3998.9h0M2588.1 3956.3h0M2593.9 3953.4h0M2673 3886.7h0M2619.1 3890.1h0M2571.7 3964.8h0M2584.8 3983.8h0M2717.1 3992.6h0M2638.6 4008.9h0M2621.3 3925.2h0M2547.3 4034.6h0M2690.6 4006h0M2703.4 4013.4h0M2690.6 4017.9h0M2744.3 4079.2h0M2708.5 3946.3h0M2622.5 3976.6h0M2644.5 4010h0M2673.1 3939h0M2700.6 3975.3h0M2693.3 3990.4h0M2568.7 3921.1h0M2635.6 3971.7h0M2601.9 3881.4h0M2661.7 3976.6h0M2614.2 3867.3h0M2663.8 3985.1h0M2743.7 4000.9h0M2625.9 4012.3h0M2703.9 4004.9h0M2520.3 3996.3h0M2747.6 4016.7h0M2642.9 3988h0M2708.4 3913.7h0M2605.8 3891.1h0M2543.2 3960.9h0M2694.2 3874.2h0M2670.1 3994.6h0M2609 3995.8h0M2550.1 4005.9h0M2709.1 4027.2h0M2666.3 3985.6h0M2648.1 3971.6h0M2604.1 3872.7h0M2585.9 3881.3h0M2784.7 4020.9h0M2621.2 4005.6h0M2606.9 4022.7h0M2592.4 3939.6h0M2693.5 3912.8h0M2669.5 3992.7h0M2562.2 4001.6h0M2682.5 3982.1h0M2749.3 4000h0M2607.4 3879.7h0M2655.9 4004.1h0M2674.1 3996.7h0M2677 4015.7h0M2709 3983.2h0M2720.5 3848.6h0M2678.5 4016.6h0M2687.5 3990.2h0M2678.6 4010.8h0M2633.7 3961.9h0M2650.7 3967h0M2591 3935.2h0M2588.7 3880.3h0M2738 4062.5h0M2701 4010.9h0M2666.1 3993.2h0M2658.7 3884.4h0M2626.6 3978.7h0M2778.5 4053.9h0M2561.5 3918.8h0M2585.6 3858.2h0M2597 3908.3h0M2613.8 3850.2h0M2625.4 3879.2h0M2740.1 4029.3h0M2710.4 3988.4h0M2570.7 3937.4h0M2681.8 3984.5h0M2595.2 3905.9h0M2641.8 4009.1h0M2762 4039.8h0M2738.4 4072h0M2768.5 4047.4h0M2573.5 3944.2h0M2544.8 3989.7h0M2682.2 3959.6h0M2610.4 3859.2h0M2637.3 3985.2h0M2558.1 3941.8h0M2695.8 4016.8h0M2565.5 3977.6h0M2622.9 4027.4h0M2635.1 3897.7h0M2603.1 3887.2h0M2625.4 3990.1h0M2699.8 3970.5h0M2640.2 3955.3h0M2654 3988.4h0" stroke="#fdbf6f"/><path d="M2652.7 3952.6h0M2603.4 3873.6h0M2632 4020.9h0M2552.6 3925.2h0M2591.5 3853.2h0M2616.4 3865.8h0M2587.2 3935.6h0M2745 3870.1h0M2717.2 4001.1h0M2758.5 4017.5h0M2663.3 3980.3h0M2593 4014h0M2645.1 3878.9h0M2593.4 3890.2h0M2708.4 4004.2h0M2611.6 3951.3h0M2670.8 3969.3h0M2589.8 3915h0M2733.6 4008.1h0M2620.6 3859h0M2756.8 4032h0M2641.9 3961.4h0M2633 3982.1h0M2617.3 3981h0M2621.9 4008.5h0M2744.2 4061.7h0M2702.6 3920h0M2599.3 3892.9h0M2663.6 4007.2h0M2782.7 3997.2h0M2610.3 3934h0M2576.8 3853.8h0M2651.4 3989.7h0M2682.4 3867.2h0M2725.6 4002.6h0M2753.5 4043.2h0M2664.4 3977.3h0M2684.9 3973.6h0M2688.5 3943.7h0M2680.6 3929.8h0M2617 3944h0M2745.4 4067.7h0M2681.5 4001.3h0M2589.6 3919.4h0M2745.8 4014.4h0M2686.7 3967.3h0M2771 4030.1h0M2689.4 3982.1h0M2540.3 3977.4h0M2696.5 3898.8h0M2681.3 4020.5h0M2737 3921.5h0M2632.5 4022.4h0M2654.9 3985.4h0M2725.7 3996.2h0M2599.8 3897.7h0M2656.3 3997.8h0M2618.7 3892.7h0M2615 3860.5h0M2670.1 3993.5h0M2653.8 3960h0M2692.7 3977.7h0M2611.6 3875.2h0M2736.6 3891.5h0M2610.4 3889.1h0M2619.9 3865.2h0M2731 3887.1h0M2590.1 3850.2h0M2595.2 3946.8h0M2675.3 3957.5h0M2598.3 3927.5h0M2655.5 3961.2h0M2597.1 3857.2h0M2749.2 4027.1h0M2645.8 3984.4h0M2707 3914.6h0M2714.1 3924.5h0M2616.7 3885.7h0M2579.7 3923.3h0M2699.4 3911.4h0M2756.2 3986.6h0M2597.3 3879.1h0M2721.3 4021.9h0M2616.8 3987.1h0M2650.3 4030.9h0M2673.5 3982.2h0M2702.5 3955.6h0M2703.8 3953.3h0M2687.8 3974.4h0M2660.6 3960.8h0M2671.6 3992.3h0M2643.2 3964.2h0M2699.9 3996.7h0M2706.5 3977.7h0M2607.7 3889.6h0M2683.9 3984.2h0M2725.4 4033.3h0M2651.4 3987.1h0M2684 3949.9h0M2744.1 3871.8h0M2744.3 4062.9h0M2563.2 3939.8h0M2714 3862.5h0M2609.9 3904.6h0M2731.8 3886.5h0M2686.6 4014.4h0M2627.7 3982.9h0M2695.8 4022.9h0M2658.3 3987.9h0M2669.5 3975.8h0M2609.3 3888.4h0M2787.8 4024.1h0M2684.7 3982.7h0M2600 3985.7h0M2594.7 3914h0M2646.7 3988.9h0M2694 3898.8h0M2639.3 4001h0M2572.5 3928.1h0M2636.6 3978.5h0M2724.6 4004.1h0M2620.6 4000.8h0M2749.1 4047.3h0M2571.8 3926h0M2668 3943h0M2580.8 3908.4h0M2739.2 4024.9h0M2649 4018.3h0M2681.7 3926.1h0M2740.9 4040.5h0M2681.9 3875.5h0M2707.9 3974.2h0M2616.3 3880.3h0M2683 3833.5h0M2573.7 3934.1h0M2662.1 3940.2h0M2690.8 3984.9h0M2711 3921.8h0M2710 3985.9h0M2663.5 3981.2h0M2722.7 3992.3h0M2678 4001.7h0M2706.3 3851.1h0M2740.9 4036.6h0M2678 3982.1h0M2642.2 3999.8h0M2598.1 3899.5h0M2642.4 4021.4h0M2627.8 3875.9h0M2732 4020.8h0M2564.4 3922h0M2639.5 3999.4h0M2761.9 4033.2h0M2649.7 3950.9h0M2673.7 3978.1h0M2642.2 3990h0M2671.9 4015.3h0M2695.3 3976.2h0M2550.9 3927.4h0M2707.6 3999.9h0M2591.6 3883.6h0M2718.8 3862.1h0M2642.3 3994.9h0M2603 3926.2h0M2633.2 3980.9h0M2564.7 3932.2h0M2699.5 3927.6h0M2747.5 4040h0M2601.9 3856.7h0M2741.2 4062.1h0" stroke="#fca95e"/><path d="M2698.3 3986.7h0M2677.5 4007.4h0M2710.7 3898.6h0M2689.3 3939h0M2734.6 3998.3h0M2687.8 4003.1h0M2710 3999.4h0M2737.5 3879.2h0M2699.2 3977h0M2664.2 4012.7h0M2666.5 3986.1h0M2755.4 4007.5h0M2689.8 4025.2h0M2701.1 4004.6h0M2759.7 3875.2h0M2756.5 4067.1h0M2751.6 4049.1h0M2749.5 4076.9h0M2710 3929.9h0M2603.2 3889.9h0M2581.3 3992.4h0M2715 4016.3h0M2676.1 3985h0M2722.7 4010.7h0M2696.2 3988.3h0M2749.9 4049.1h0M2738.8 3895.2h0M2750.9 4065.9h0M2747.2 4058.2h0M2586.7 3944.7h0M2612.3 3909.6h0M2676.3 4008.8h0M2707.5 3971.6h0M2685.2 3994.6h0M2730.8 4064.9h0M2743 4059.7h0M2675.1 3984.6h0M2654.2 3960.8h0M2571 3887.9h0M2679.4 4008h0M2703 3983h0M2767.7 4030.1h0M2603.6 3915.5h0M2699.1 3917.2h0M2677.1 3960.7h0M2743 4006.2h0M2682.1 3971.3h0M2642.1 3994.1h0M2707 3970.6h0M2600.5 3928.8h0M2759.9 4029.6h0M2677.7 3901.1h0M2744.7 4027.9h0M2696.8 3985.4h0M2706.3 3863h0M2727.3 3854h0M2722.2 3866h0M2691.8 3972.7h0M2752.3 4051.1h0M2660.3 4007.3h0M2677.4 3957.8h0M2760.8 4004.5h0M2598.6 3857h0M2690.3 3967.5h0M2693.3 3955.5h0M2758.8 4048.1h0M2693.7 3997.2h0M2656.9 4006.7h0M2746.7 3817.2h0M2694.3 3990.5h0M2695.2 3974.1h0M2777.5 4016.6h0M2724.9 3951h0M2574.9 3933.2h0M2764.7 4011.5h0M2673.4 3889.8h0M2761.6 4031.9h0M2663 3982.2h0M2719.3 3925.7h0M2734 4042.4h0M2727.6 3887.1h0M2752.3 4052.1h0M2689.3 3973.1h0M2689.7 4020.9h0M2685.2 3999h0M2611.1 3911.1h0M2760.8 4038.9h0M2637.8 4005.6h0M2712.5 3984.2h0M2756.6 4022.6h0M2751 4011h0M2770.7 4044.8h0M2709.1 3991.5h0M2675.4 3962.5h0M2669.7 3969h0M2659.8 3984h0M2713.9 3879.3h0M2717.9 3890.4h0M2692.7 3938.3h0M2563 3927.8h0M2763.9 4018.6h0M2731.6 4024.7h0M2574.2 3907.2h0M2739.2 3992.1h0M2701 4010.3h0M2701.7 4030h0M2740.1 4055h0M2680 3972.7h0M2677.5 3928.1h0M2689 3904h0M2740.1 4054h0M2704.8 3996.9h0M2709.4 3849.1h0M2674.2 3992.9h0M2672.1 3932.9h0M2771.2 4030.9h0M2765.7 4060.6h0M2599.1 3883.3h0M2593.7 3887.8h0M2592.9 3933h0M2757.2 4046.2h0M2579.1 3922.1h0M2728.1 3863.5h0M2646.8 3953.4h0M2736.6 4047.9h0M2768.9 4072.5h0M2709.1 3995.5h0M2769.6 4006.4h0M2757.5 4036h0M2652.5 3975.6h0M2762.1 4062.7h0M2739 4000.3h0M2743 4056.5h0M2727.9 3917.2h0M2622.7 3911.4h0M2698.3 3869.4h0M2577.7 3928.2h0M2539.1 3939.8h0M2677.5 4020h0M2717.7 3991.6h0M2633.1 4012.3h0M2720.9 3900.6h0M2573.5 3946.5h0M2637.7 3966.1h0M2756.2 4047.1h0M2757.2 3991.2h0M2580.2 3897.3h0M2751.5 4028.4h0M2669.5 3989.5h0M2592.1 3880.3h0M2726.9 3867.9h0M2731 4040.4h0M2597.5 3862.7h0M2604.4 3880.6h0M2610 3932.2h0M2717.9 3984.1h0M2686.6 3937.2h0M2729.5 4024.8h0M2735.2 4008.3h0M2622 3877.8h0M2762.1 4036.3h0M2769.9 4000.2h0M2749.5 3995.2h0" stroke="#f88e52"/><path d="M2734.2 3837.6h0M2745.1 4021.1h0M2741 4031.6h0M2732.3 3917.6h0M2749.1 4004.7h0M2738.3 4060h0M2691.6 3905.8h0M2690.2 3937.9h0M2658.8 4002.3h0M2659.6 3991.9h0M2687 3893.9h0M2748.8 4053.1h0M2731.9 4004.1h0M2773.3 4037.2h0M2698.9 3899.9h0M2711 3859.9h0M2694.2 3985.8h0M2695.1 3850.8h0M2726.5 3990.8h0M2624.3 3950.4h0M2783.3 4049.7h0M2665.7 3979.7h0M2737.6 4005.1h0M2579.4 3927.5h0M2776.9 4021.3h0M2692.4 3843.5h0M2716.3 4008.9h0M2649.5 4003.5h0M2587.2 3899.7h0M2683.7 3972.7h0M2713.7 4004.7h0M2756.4 4038.8h0M2687.4 3889h0M2648.3 3972.8h0M2722.3 4006.3h0M2679.3 3975.7h0M2740.7 4025.5h0M2714.5 3983.9h0M2747.6 4028.4h0M2691.3 3837.3h0M2716.1 3929.1h0M2669.7 3888.7h0M2757 3785.8h0M2539.7 3934h0M2700.5 3941.3h0M2768.4 4021.9h0M2586.2 3947.7h0M2721 3846.1h0M2593.8 3860.5h0M2664.2 3904.5h0M2748.2 4053.6h0M2754.1 4018.4h0M2681.6 3987h0M2727.8 4020.4h0M2672.9 3969.3h0M2782.8 4011.9h0M2730.2 3921h0M2565 3945.1h0M2765.4 4059.6h0M2751.8 4010.1h0M2713.4 3893h0M2744.9 4031.9h0M2734.9 3852.4h0M2689.1 3895.1h0M2755.1 3988h0M2721.4 3994.9h0M2619 3897.5h0M2748.8 4076.9h0M2755 4051.2h0M2781.2 4061.2h0M2670.1 4014.7h0M2589.4 3923.7h0M2765.5 4040.9h0M2726 3871.1h0M2683.7 3967.8h0M2765 4025.4h0M2671.5 4005.5h0M2703.2 4028.8h0M2722.5 3869.5h0M2744.7 4030.1h0M2720 3938.2h0M2728.5 4036.6h0M2735.6 3912h0M2675 3970.8h0M2731.7 3861.5h0M2698.3 3872.8h0M2715 4033.8h0M2586 3910.5h0M2738 4021.4h0M2730.9 3999.2h0M2742.5 4006.7h0M2750.4 4070h0M2727.6 3984.2h0M2720.5 3851.1h0M2730.2 3905.2h0M2704.7 3896.4h0M2687.6 3943.7h0M2768.4 4014.6h0M2752.5 4056.9h0M2714.9 3999.1h0M2661.5 3986.8h0M2588.3 3863.6h0M2571.1 3920.4h0M2734 4045.1h0M2680.5 3988h0M2758 4061.5h0M2710.4 3983.2h0M2673.4 3915.6h0M2737.8 4054.8h0M2703.3 3853.5h0M2742.2 3794.4h0M2641.6 3970.2h0M2694.1 3843.6h0M2769.4 4060.2h0M2757.9 4027.1h0M2666.1 3969.5h0M2677.1 4014.8h0M2689 3919h0M2633.4 3994.5h0M2701.6 3929.4h0M2697.7 3984.5h0M2652.4 4009h0M2696.4 3856.8h0M2750.4 3864.4h0M2590.8 3870h0M2772.7 4020.2h0M2592.1 3867.7h0M2726.3 3828.2h0M2617.2 3907.1h0M2683.4 3941.5h0M2729.7 4006.3h0M2708 3915.3h0M2765.6 4021.3h0M2749.3 4046.4h0M2668.2 3991.8h0M2598.7 3911.5h0M2780 4043.1h0M2677 3966.9h0M2686 3985.3h0M2752.9 4007.4h0M2685.7 3889.9h0M2704.8 3968.4h0M2720.9 3994.4h0M2785.8 4002.8h0M2704.7 3842.7h0M2707.5 3932.4h0M2671.8 4001.8h0M2695.3 3918.4h0M2747 3831h0M2694.9 3882.1h0M2697.8 3930.9h0M2683.8 3851.7h0M2736.9 4043.6h0M2676.6 3987h0M2685 3966.3h0M2651.2 4003.3h0M2633.3 3938.5h0M2759.6 3867.4h0M2665.4 3935.8h0M2719 4019.8h0M2737.5 3885.9h0M2680.2 3964.3h0M2760.3 3819.9h0M2730.6 3797h0M2751.5 4033.7h0M2704.4 3895.8h0M2674 4002.2h0M2688.3 4002.8h0M2710.6 3893.8h0M2759.2 4060.4h0M2619.5 3872.7h0M2719.8 4020.2h0M2701.4 3906.5h0" stroke="#f57246"/><path d="M2775.4 4028.9h0M2679.9 3899.2h0M2726.1 3803.3h0M2772.9 4052.2h0M2738.2 4017.9h0M2728.6 3860h0M2732.2 4003h0M2749.6 4019h0M2701.3 3888.7h0M2692 3964.3h0M2662 3936.7h0M2759.4 4041.8h0M2708.3 3987.2h0M2698.2 3926.1h0M2737.3 3809.1h0M2703.1 3860.6h0M2591.2 3893.9h0M2737.5 4034.4h0M2776.4 4000.6h0M2694.5 3971.9h0M2689.7 3930.3h0M2692.5 3921.4h0M2714.2 3922.9h0M2696.1 3960.1h0M2729.8 3893.3h0M2756.7 4015.7h0M2704.9 3831.3h0M2705.5 3858.7h0M2716.4 3783.3h0M2697.2 3838.3h0M2769.4 3828.8h0M2751.6 4063.3h0M2728.5 3863h0M2727.3 3803.8h0M2710.3 3799.3h0M2733.2 3756.7h0M2722.9 3771.4h0M2745 3785.7h0M2744.1 3770.6h0M2765.1 3791.2h0M2703.5 3948.8h0M2729.5 3863.4h0M2731.5 3819.7h0M2762.3 4055.1h0M2744.8 4047.5h0M2709.9 3894.7h0M2713 4009.4h0M2730.3 3951h0M2581.8 3916.7h0M2664.1 3990.9h0M2739.7 4004.7h0M2705.9 3833.5h0M2725.3 4068.1h0M2746.9 4018.1h0M2752.6 3794.8h0M2704.2 3983.5h0M2701.9 3902.1h0M2714.2 3862.6h0M2746.8 4063.9h0M2703.9 3955h0M2720.3 4013.8h0M2752.4 4005.7h0M2746.8 4033.4h0M2736.6 4079.8h0M2703.8 3945.1h0M2701.4 3948.6h0M2683.6 3960.2h0M2745.1 3746h0M2760.3 4058.3h0M2757.9 4053.7h0M2728 3826.4h0M2745.5 3768.8h0M2687.2 3972h0M2725.2 4016.5h0M2741.4 4028.6h0M2737.1 4034.6h0M2704.7 3896.7h0M2705.1 4020.1h0M2717.3 3938.7h0M2737.9 3763.9h0M2709.1 3964.9h0M2706.8 3867.7h0M2672.9 3891.3h0M2703 3865.1h0M2785.3 3999.4h0M2724.6 3860.1h0M2738.4 4051.1h0M2736.2 4026.5h0M2724.8 3915.4h0M2732.4 4031.2h0M2774.1 4009.7h0M2731.4 3794.2h0M2735 4026.7h0M2737.7 3874.5h0M2756.9 4011.5h0M2735.7 4011.9h0M2749.3 3814.1h0M2679.6 3947.7h0M2697.4 3975.5h0M2703.2 3869.1h0M2679.7 3905h0M2786.5 4008.3h0" stroke="#ea5d47"/><path d="M2713.8 3813.9h0M2732.2 3858h0M2721 3874.6h0M2742.5 4047.9h0M2731.4 3862.9h0M2740.6 3796.2h0M2731.1 3772.8h0M2758.4 4031.1h0M2750.6 4073.9h0M2697.3 3896.5h0M2752.8 3988.7h0M2722.3 3819.1h0M2724.5 3805.4h0M2699.2 3965.4h0M2730 4010.8h0M2613.9 3885.2h0M2753.6 3767.5h0M2690.7 3866h0M2750.9 3786.8h0M2710.4 3869.8h0M2769.9 4034.2h0M2702.2 4021.9h0M2709.9 3891h0M2761.2 3755.6h0M2735.7 3800.1h0M2729.7 3853.8h0M2690 3937.8h0M2756.4 3756.8h0M2721.6 3769.8h0M2756.8 3764.6h0M2780.1 4031.8h0M2689.9 3956.9h0M2712.9 3909.9h0M2726.9 3994.7h0M2758.6 4026.6h0M2689.5 3929.1h0M2734.2 3799.9h0M2716.7 3856.2h0M2743.9 3814.7h0M2747.1 4050.3h0M2725.9 3796.1h0M2769.3 3769.2h0M2721 3822.1h0M2707.1 3925h0M2749.1 3844h0M2710.5 3867.7h0M2731.9 3756.8h0M2728.5 3807h0M2741.6 3808.6h0M2715.7 3794.3h0M2753.5 3786.1h0M2725.5 3827.6h0M2685.9 3969.6h0M2737.6 3820.6h0M2689.4 3866.9h0M2706.5 3843.2h0M2750.3 3786.2h0M2714.7 3804.7h0M2746.1 3810.9h0M2730.2 3990.7h0M2704 3896.9h0M2762.5 4053.6h0M2755.6 3841.3h0" stroke="#dd4a4c"/><path d="M2741.5 3769.5h0M2744.1 3818.1h0M2748.9 4068.5h0M2753.4 3778h0M2768.7 4047.4h0M2742.6 3832.3h0M2728.1 3811.7h0M2725.5 3834h0M2750.2 3844.4h0M2729.6 3827.2h0M2738.1 3794.2h0M2683.9 3946.5h0M2752.6 3806.7h0M2723.8 3816.4h0M2752.6 3774.7h0M2754.7 3765.8h0M2738.2 3820.4h0M2741.5 3826.5h0M2747.2 3788h0M2736.2 3826.2h0M2768.2 3760.8h0M2730.9 4051.6h0M2751.6 3824.3h0M2719.7 3934.6h0M2758.8 3799.8h0M2724.8 3840h0M2748.4 3785.1h0M2735.4 3795h0M2733.2 3828.1h0M2763.3 3760.4h0M2750.8 4011.4h0M2719.4 3779.8h0M2749.7 3802.5h0M2733.7 3813.7h0M2735.8 3834h0M2732 3798.3h0M2752.9 3779.5h0M2751.7 3780.6h0M2690.9 3950.9h0M2747.8 3845h0M2765.5 3793h0M2719 3852.4h0M2739.5 3790.7h0M2746.2 3833.6h0M2754.7 3789.9h0M2747.7 3775.8h0M2748 3766.9h0M2746.5 3821.1h0M2744.6 3757.4h0M2718.2 3783.3h0M2727.1 3806.3h0M2755 3768.1h0M2774.6 3752.1h0M2760.1 4032h0M2714.8 3859.2h0M2747.5 3823.1h0M2750.6 3810.7h0M2752 3782.2h0M2759.7 3761h0M2720.1 3813.6h0" stroke="#cc344d"/><path d="M2724.4 3852.3h0M2752 3800.7h0M2728.6 3754h0M2744.4 3758.5h0M2738.2 3820.3h0M2727.5 3748.1h0M2755.3 3779.9h0M2744.9 3760.2h0M2733.9 3799.3h0M2746.3 3772.1h0M2742.7 3810.8h0M2755.4 3789.6h0M2743.4 3825.3h0M2737.6 3795.8h0M2745.4 3788.4h0M2721.2 3818.4h0M2722.5 3833.7h0M2749.5 3752.9h0M2701.5 3826.2h0M2755.7 3798.7h0M2742 3802.4h0M2753 3779.8h0M2741 3801.3h0M2746.2 3811.4h0M2742.1 3791.3h0M2738.9 3822.6h0M2749.6 3843.6h0" stroke="#b51a47"/><path d="M2739.3 3764.2h0M2758.4 3828.3h0M2737.6 3811.8h0M2744.9 3806.5h0M2740.4 3772.8h0M2730.1 3776.5h0M2736.8 3796.5h0M2732.1 3822.9h0M2744.8 3771.4h0M2729.8 3839.3h0M2732.9 3810h0M2726.6 3808.5h0M2739.2 3785.3h0M2738.9 3794.1h0M2730.2 3790.7h0M2732.1 3838.8h0" stroke="#9e0142"/></g>
<defs><linearGradient id="g17" x1="0" y1="1" x2="0" y2="0"><stop offset="0%" stop-color="#5e4fa2"/><stop offset="10%" stop-color="#3288bd"/><stop offset="20%" stop-color="#66c2a5"/><stop offset="30%" stop-color="#abdda4"/><stop offset="40%" stop-color="#e6f598"/><stop offset="50%" stop-color="#ffffbf"/><stop offset="60%" stop-color="#fee08b"/><stop offset="70%" stop-color="#fdae61"/><stop offset="80%" stop-color="#f46d43"/><stop offset="90%" stop-color="#d53e4f"/><stop offset="100%" stop-color="#9e0142"/></linearGradient></defs>
<rect x="2823.9" y="3983.5" width="33.9" height="79.6" fill="url(#g17)"/>
<text x="2858.8" y="3990.7" font-size="30.5">60</text>
<text x="2859.1" y="4068.6" font-size="30.5">0</text>
<text x="3019" y="3727.5" font-size="43.3" font-style="italic" textLength="186" lengthAdjust="spacingAndGlyphs">atp6v1f.S</text>
<g fill="none" stroke-width="6.1" stroke-linecap="round" stroke-opacity="0.85"><path d="M3137.7 3998.5h0M3019.9 3977.4h0M3000.2 3979.2h0M3136.9 3959.2h0" stroke="#3f96b7"/><path d="M2980.2 4000.8h0M3044.8 3944.1h0M2984.2 4020.8h0M3146.6 3821h0M3107 3981.4h0M3098.6 3970.3h0M2989.1 3996.8h0" stroke="#55afad"/><path d="M3053.3 3964.5h0M3000.2 3990.8h0M2952.2 4009.8h0M3048.7 3985.8h0M2997.9 4009.4h0" stroke="#6cc4a5"/><path d="M3101.6 3970.1h0M3146.2 3795.2h0M3097.3 4005.9h0M3041 3988.4h0M2997 3957h0M2991.5 3971.3h0M3010.1 3976h0M3097.8 3969.5h0M3184.7 4054.9h0" stroke="#88d0a4"/><path d="M2996.4 3999.4h0M3031.6 4015.1h0M3167.9 4025.5h0M3036.7 4006.5h0M3172.8 4054.1h0" stroke="#a5dba4"/><path d="M3060.9 3964.8h0" stroke="#bfe5a0"/><path d="M3167.1 4039.9h0" stroke="#eaf79e"/><path d="M3156.2 4019.6h0M3185.7 4011.9h0M3151.5 4059.9h0M3149 4011.3h0" stroke="#f5fbaf"/><path d="M3158.8 3994.8h0M3164.5 4019.4h0M3151.5 3983.1h0M3178.5 4035.7h0M3198 4067.2h0M3164.1 3998h0M3168 4013.9h0M3204.7 4018h0M3169.6 3997.1h0M3158.5 4059.8h0M3198.6 4051.1h0M3160.6 4026.5h0M3182.2 4037h0M3158.8 4069.2h0M3188.6 4044.6h0" stroke="#ffffbf"/><path d="M3129.1 4001.3h0M3154 4005.2h0M3177.1 4029.2h0M3164.6 4059h0M3202.7 3994.2h0M3036 3995.3h0M3146.2 3999.7h0M3173.8 4040.4h0M2931 3990.1h0M3180.3 3996.9h0M3166.2 4011.5h0M3191.2 4027.3h0M3019.9 3964.7h0M3146.2 3993.3h0M3024.7 3997.4h0M3164.7 4076.5h0M2974.3 4016.6h0M3176.5 3983.7h0M3013.3 3943.5h0M3207.8 4021.3h0M3021.2 3980.1h0M3034.5 4018.2h0M3169.4 4044.5h0M2999.3 3995.8h0M3159.6 4022.1h0M3002.2 3992.7h0M3161.3 4037.7h0M3161.3 4033.8h0M3152.5 4017.9h0M3182.1 4030.4h0M3009.6 3960.8h0M2992.2 3986.5h0M3128.3 3997h0M3167.8 4037.2h0M3161.6 4059.3h0" stroke="#fff2a9"/><path d="M3035.1 4025.8h0M3178.8 4014.6h0M3175.6 4004.7h0M3031.2 3989.8h0M3034.8 4024.3h0M3171.9 4046.3h0M3169.8 4074.2h0M3020.3 3936.1h0M3135.6 4013.4h0M3143.3 4007.8h0M3170.2 4046.3h0M3165.7 4065h0M2963.8 3955.1h0M3171.2 4063.1h0M2939.7 3995.4h0M3103.1 3969.4h0M3094.4 3992.1h0M3151.3 4062.2h0M3163.4 4056.9h0M2983.5 4024.7h0M3163.4 4003.3h0M2985.5 3995.5h0M3165 4025h0M3064.3 3963.5h0M2938.9 3987.1h0M3006.6 4013.9h0M2962.3 4025.1h0M3197.6 4013.7h0M3184.9 4008.7h0M2992 3984.6h0M3181.8 4029.1h0M3154.4 4039.6h0M3172.6 4049.4h0M3169.5 4024.3h0M2983.2 3988.4h0M3181 4036.1h0M3141.9 4019h0M3176.8 4019.7h0M3171.3 4008.1h0M3190.8 4042h0M3129.7 3988.6h0M3146 4030.5h0M3164.6 4060.1h0M3184.1 4015.7h0M3152.1 4021.9h0M3078.5 3998.4h0M3159.6 3989.2h0M3160.5 4052.3h0M3079.7 3872.4h0M3160.5 4051.2h0M2999.2 4001.4h0M3125.5 3994h0M3191.3 4028.1h0M3185.8 4057.9h0M3189 4069.7h0M3129.8 3992.6h0M2966 4023.6h0M3128.6 3971.2h0M3159.4 3997.4h0M3163.3 4053.7h0M3176.5 4044.3h0M3177.5 3988.3h0M2988.4 3969.9h0M3114.4 3994.5h0M3171.8 4025.6h0M3073.6 3964.5h0M3151.5 4037.6h0M3155.7 4005.4h0M3182.3 4033.5h0M3190.1 3997.3h0" stroke="#fee594"/><path d="M3102.8 3971.1h0M2984 3960h0M3161.4 4028.8h0M3074.7 3998.1h0M3083.6 4000.4h0M3001.5 3961.7h0M2998.3 3999.4h0M3138.2 3985.7h0M3169.4 4001.8h0M3158.8 4057.2h0M3155 3995.4h0M2956.1 4045.6h0M2989.3 3966.3h0M3052.8 4000.5h0M3026.9 4013.9h0M3169.1 4050.3h0M3152.4 4001.2h0M3193.5 4034.4h0M3013.9 4017.2h0M2995.1 4014.5h0M2960.5 4030.6h0M2990.9 3962.9h0M3143.9 3974.6h0M3176.7 4064.3h0M3147.1 3987.9h0M3158 4002.2h0M3096.1 4000.9h0M3197 4018.4h0M2977.6 4039h0M3167.6 4055.4h0M2974.1 4013h0M2971.4 4018.4h0M3005.5 3992.7h0M3176.7 4036h0M3128.2 3968.6h0M3052.7 3999.5h0M3088 3992.6h0M3142.8 4003.5h0M3025 4009.1h0M3117.9 3956.6h0M3161.2 4022.6h0M3187.8 4027.3h0M2941.6 3987.9h0M2989.9 4002.9h0M2997.1 3975.9h0M3180.1 4026.8h0M3041.3 4032.9h0M3085.3 3979.5h0M3188.5 4019.1h0M2984.5 4046.2h0M3072 3956.7h0M3147.9 3850.8h0M2998.3 3978.2h0M3172.6 4048.3h0M3168.5 4050.8h0M3174.4 4015.6h0M3092 3996.3h0M3148.3 4017.5h0M2986.5 3950.6h0M3034 3978.4h0M3181 4001.6h0M3202.8 4009h0M3081.7 3873h0M3185.6 4056.9h0M3172.1 4007.2h0M3179.1 4045.4h0M3111.5 4003.2h0M2962.3 4022.5h0M2982.4 3981.1h0M2981.4 3980.6h0M3142 3992h0M3169.1 4074.1h0M3175.2 4048.5h0M3111.4 4015h0M2985.8 3990.1h0M3201.2 4058.4h0M3009 3960.3h0M3185.7 4038.1h0M3023.7 4016h0M3006.7 3972.8h0M3038.1 4004.6h0M3002.2 3981.3h0M3185.2 4022.6h0M2989.3 3995h0M2995.6 3959.1h0M3127.8 3965.9h0M3165.1 4027.3h0M2971.4 4018.4h0M3149 4033.7h0M3036.5 3955.7h0M3015.5 4001.8h0M3135.6 4030.9h0M3158.4 4018.5h0M2969.3 3983.1h0M3151.4 3996.2h0M3162.9 4003.8h0M3170.7 4067.2h0M3148.1 3981.3h0M3000.1 3994.1h0M3121.7 4007.4h0M2982.7 3969.6h0M3007.6 3982.2h0M3128.2 3992.6h0M3051.8 3964.4h0M3135.6 3996.2h0M3154.5 4042.3h0M2955.1 3985.3h0M3178.2 4058.8h0M3158.3 4052.1h0M2991.2 4027.2h0M2989.9 3977.2h0M3015.4 4009.2h0M3189.6 4057.5h0M3178.1 4024.2h0M2998.4 3969.1h0M3006.1 3940.8h0M2994.5 3990.2h0M3177.4 4043.4h0M2985.4 3967.2h0M3157 4045.1h0M3192.8 4017.4h0M3108.4 3987.2h0M3189.7 4003.5h0M3177.8 4033.2h0M3150.2 4003.5h0M3182.4 4059.9h0M3005 3967.5h0M3033.2 3984.3h0M3048.2 3997h0M2993.3 3985.5h0M3185.7 4018.4h0M3169.7 4043.6h0M3200 4040.3h0M3173.2 4004.6h0M3021.9 3978.4h0M2967.5 3972.5h0M2967.8 3986.7h0M3052.1 3984.6h0M3141.5 3991.5h0M3205.8 3999.9h0M3048.9 4028.8h0M2960.1 3974.2h0M2987.8 3981.2h0M3157.3 4040.8h0M3105.5 3973.8h0M3056 3965.5h0M3010.7 4026.7h0M2985.9 3981.8h0M2980.9 4037.1h0M3139.6 4016.9h0M3116.6 4013.9h0M3150 4022h0M3171.8 4030.8h0M3139 3985.4h0M3169.8 3992.3h0M3109.2 3999.9h0M3140.4 4017.3h0" stroke="#fed480"/><path d="M2972.3 4036.4h0M3165.5 4018.2h0M3195.5 4026.1h0M3019.6 3990.1h0M2976.9 3996.3h0M2966.9 3971.4h0M3082.3 4010.3h0M3016.6 3962.5h0M3046 4002.8h0M3022 3970.8h0M3193 4049.5h0M3044.1 3975.2h0M2997.1 4006.3h0M3121.6 3963.1h0M3158.6 4015h0M3005.7 3942.3h0M3013.9 3970.1h0M3008.1 3990.1h0M3017.2 4009.7h0M2970.6 4047.6h0M3152.6 4000.1h0M3170 4016.1h0M3038.6 3975.1h0M3013.1 4000.5h0M3123.5 3977.7h0M2945.3 4008.2h0M2990.2 3987.3h0M2945 3999.7h0M3179.7 4039h0M3063.2 3958.4h0M2974.7 4024.1h0M3024.2 3979h0M3203.4 4046.9h0M3012.6 3990.1h0M2956.3 4023.9h0M3000.6 3993.8h0M3047 3995.2h0M3073.3 3960.9h0M2987.9 3966.3h0M3014.6 3979h0M3082.8 3990h0M3157.9 4031.6h0M2980.9 4024.3h0M3003.9 3999.9h0M3109.4 3940.7h0M2945.4 3993.7h0M2974.7 4002.1h0M3001 3995.7h0M2972.5 3983h0M2982.9 4010.5h0M3111.3 3999.2h0M3027.3 3979.8h0M3053.5 3969.8h0M3055.6 3989.4h0M2971.1 4007.2h0M3177 4012.9h0M2982.6 3966.6h0M3045.9 3965h0M3004.6 3998.5h0M3073.6 3996h0M3022 3970.1h0M3177.3 3782.4h0M3171.9 4060.5h0M2976.3 4008.3h0M2987.2 3996.9h0M3077.4 3994.9h0M3070.4 4009.6h0M2994.9 3960.4h0M3091.1 3990.6h0M2993.8 4002.4h0M3137.7 3989.7h0M3113.5 3974.7h0M2974.9 3961h0M2978.6 4029.8h0M2977.9 3964.5h0M2997.1 4002.8h0M3165.3 4029.1h0M3008.4 3973.6h0M3182.5 4052.4h0M3063.2 3968.7h0M3167.1 3813.9h0M3165.1 4044.7h0M3015.6 3990.6h0M2987.4 4020.6h0M3003.7 3985.6h0M3175.3 3985.1h0M3014.3 3966.8h0M3124.1 4010.5h0M3016.6 4029.4h0M2974.2 4017.7h0M3129.2 3943.2h0M3160.1 4001.8h0M3065.8 4007.2h0M3019.5 3997.7h0M3094.1 3935.9h0M2977.5 4031.4h0M3121.4 3972.4h0M2994.4 3983.1h0M3114.2 3987.5h0M2990.2 3963.6h0M2985.1 3971.6h0M3145.8 4065.3h0M2956.8 3972.3h0M2974.4 4027.8h0M3056.9 3968.8h0M2993.8 3980.1h0M2995.9 3997h0M3011.6 3959.9h0M3082.8 3973.7h0M2980 3973.5h0M3084.9 3982.2h0M3167.1 4061.1h0M2991.9 3960.7h0M2972.5 3994.1h0M3092.6 3989.4h0M3124.6 4002h0M2951 4026.1h0M2979 3949.3h0M3129.1 3910.5h0M3021 3959.1h0M3006.1 3981.4h0M3115 3871h0M3015.6 4017.5h0M3091.1 3991.7h0M3140.8 4010.9h0M2991.8 4013.5h0M3129.8 4024.3h0M3087.4 3982.7h0M3104.9 3946.9h0M3012.1 3957.2h0M3007.8 3980.4h0M3054.8 3883.4h0M3042.7 4002.7h0M2990 4002.9h0M3037.3 3994.1h0M3172.6 4002.8h0M3045.1 3989.4h0M3167.2 4030.6h0M3009.5 3967.8h0M3157.1 4077h0M3188.6 4011.7h0M3105.7 3979.8h0M3114.3 3909.7h0M2993.1 3941.2h0M3090.5 3989.8h0M3103.5 3979.1h0M2986.2 4000.8h0M3077 4001.2h0M3095.1 3993.8h0M3162.6 3791h0M3178.2 4050.9h0M2999.5 3964.8h0M3098 4012.9h0M3145.1 4001.2h0M2993.7 4010.9h0M3129.7 3980.2h0M3036.7 3974.9h0M2998 4014.9h0M3145.7 4013.6h0M3141.1 3845.4h0M3099.4 4013.8h0M3010 3999.4h0M2987 3965.2h0M3009.6 3932.5h0M3161.8 4025.8h0M3099.5 4007.9h0M3157.5 4031.8h0M2989.9 4009.9h0M3006.3 3988.7h0M3071.9 3964h0M3028.5 4027.2h0M3013.7 3967.6h0M3121.8 4008.1h0M3087.2 3990.3h0M3111.7 3981.9h0M2980.3 4045.1h0M2972.1 3954.7h0M3041.1 3984.3h0M2994.7 3925.4h0M3143.3 3989.4h0M2971.9 4018.7h0M3094.5 3853.4h0M3073.8 3983.2h0M3004.6 3932.3h0M3008.4 3997.2h0M3017.5 3964h0M3020.5 3978.3h0M3025.6 3974.9h0M3035.7 3975.3h0M3008.4 3970.7h0M3205.3 3996.5h0M3099 3979.1h0M3015.4 4028.3h0M3158.8 4048.3h0M3156.6 4023.7h0M3029.4 4032.3h0M3131.1 3985.5h0M2977.2 3984.7h0M3102.8 3981.6h0M2995.5 3973.6h0M3031.3 3931.7h0M3011.8 3992.8h0M3093 4012.4h0M3152.9 4028.4h0M3054.1 3951.8h0M3194.2 4006.8h0M2985.6 3962.7h0M3155.4 4023.9h0M3103.1 3956.6h0M2949.6 4012.7h0M2993.7 3994.8h0M3151.1 3793.6h0M3177.2 4008.6h0M3063.6 3992h0M2990.1 3973h0M2991.7 3996h0M3000.5 3973h0M3030.8 3952.1h0M3206.5 4005.5h0M3179.4 4057.6h0M2991.6 3998.4h0M3045 3956.3h0M3120.5 3967.5h0M3075.2 3985.5h0" stroke="#fdbf6f"/><path d="M3063.7 3864.7h0M3053.4 4018h0M2955.9 4020.9h0M3012.1 3957.3h0M2956.8 4042.2h0M3040.3 4024.9h0M3034.2 3984.1h0M2950.8 3985.7h0M3041.8 4010.4h0M3052.8 4006.4h0M3085.6 3959.5h0M3165.3 3866.9h0M3137.8 3998.2h0M3084.4 3977.3h0M3178.6 4028.3h0M3058.7 3977.5h0M2978.3 3957h0M2975.1 3947.5h0M3001.9 3993.6h0M3028.5 3963.8h0M3048.9 3931.7h0M3087.6 3983.2h0M3053.5 3985.2h0M2978.9 3991.9h0M3091.8 3966.3h0M3017.9 4017.8h0M3170.9 4071.2h0M3012.2 3963.5h0M3123.4 3916.9h0M3055.1 3969.7h0M3084.7 4004.3h0M3157.7 3805.7h0M3072.6 3986.8h0M3103.4 3864h0M3044.5 3948.1h0M3067.9 3928.7h0M3173.1 3985.7h0M2950.9 4027.3h0M3025 3941h0M3085.5 3974.3h0M3105.8 3970.6h0M3101.5 3926.8h0M3059.6 3913.8h0M3196.5 3997.7h0M3150.5 4007.9h0M3102.5 3998.4h0M3037.1 4010.6h0M3107.6 3964.3h0M3106.1 3991.7h0M2987 3985.3h0M2999.3 3963.8h0M3190 4031.4h0M3110.3 3979.2h0M3123 4019h0M3043.4 3961.2h0M3098.1 3957.7h0M2978.7 4027.6h0M3117.3 3895.6h0M3189.6 3825.4h0M3073.2 3984.7h0M3007.1 4009.4h0M3094 3883.5h0M3102.3 4017.7h0M3157.4 3918.4h0M3053.9 4019.6h0M2951.1 4033.9h0M3076.1 3982.5h0M3012.2 4020.9h0M3147.8 3800.4h0M2973.3 3967.1h0M3130.9 3796h0M3112.7 3969.7h0M3005.3 3940.2h0M3084.2 3862.5h0M3143.5 3768h0M3081.4 4004.4h0M3075 3957.1h0M3010.2 3932.6h0M3185.3 3787.8h0M3060 4006h0M3038.1 4004.3h0M3015.2 3977.5h0M3157.1 3888.4h0M3151.5 3883.9h0M3006 4036h0M3133.7 4006.5h0M3003.9 3970.8h0M2986.1 3993.6h0M3096.3 3954.5h0M3011 3997.6h0M3008.1 3972.4h0M3016 3915.1h0M3076.7 3958.3h0M3067.1 3981.5h0M3167.3 4015.2h0M3110.6 4018.1h0M3127.7 3911.5h0M3134.8 3921.4h0M2994.2 3974.2h0M3012.4 4023.6h0M3120.2 3908.3h0M3001 3981.8h0M3059.1 4002.7h0M3133.1 3981.3h0M3025.5 4000.1h0M3021 4040.8h0M2956.7 3990.5h0M3071.6 4028.1h0M3094.5 3979.3h0M3123.3 3952.6h0M3124.5 3950.3h0M3047.3 4009.4h0M3108.7 3971.5h0M3081.7 3957.8h0M2987.7 4015.3h0M3178.8 4023.7h0M3120.7 3993.8h0M2984.8 3999.6h0M3127.2 3974.8h0M3104.8 3981.2h0M3072.6 3984.2h0M3069.4 3968.6h0M3164.4 3868.6h0M2966.1 4035.1h0M2991.7 3970.1h0M3134.6 3859.2h0M3033.2 3991.1h0M3167.5 4047.5h0M3044.2 3977.2h0M3023 3960.2h0M3152.3 3883.3h0M3107.5 4011.6h0M2986.5 4012.7h0M3122.5 4027.1h0M3116.6 4020.1h0M2953.9 3981.9h0M3079.4 3985h0M3003.7 3983.2h0M2977.1 4018h0M3180.5 4055.6h0M3068 3986h0M3114.9 3895.7h0M3001.5 3989.9h0M3148.6 3823.1h0M3058 3975.6h0M2997.1 3972.7h0M3089.1 3939.9h0M3070.2 4015.4h0M3102.6 3923h0M2961.4 4044.2h0M3146.8 3824.9h0M2978 3989.1h0M3055.1 3958.9h0M2994.9 4010.1h0M3103.9 3830.2h0M3011.6 3982.8h0M3005.4 4004.7h0M3131.7 3918.7h0M3130.7 3983h0M3079.9 3881.2h0M3084.6 3978.2h0M3004.7 4014.3h0M3048 3975.8h0M3099 3998.8h0M3127.1 3847.8h0M2997 4041.2h0M3002.7 3984.7h0M3071.3 3868.9h0M3063.5 3996.9h0M3063.7 4018.5h0M2976.1 4033.5h0M2975.5 4020.5h0M3005.5 3996h0M2954.1 4003.5h0M2983.2 3974.6h0M3060.8 3996.5h0M3013.5 3970.4h0M3063.1 4006.2h0M3094.7 3975.1h0M2997.9 3951.9h0M2999 3966.6h0M3038.4 3978.9h0M3116.1 3973.3h0M2983.7 4030.7h0M2970 3946.6h0M3180.5 3816.5h0M2965.8 4039.4h0M3002.6 3980h0M2976.4 3997.9h0M3058.7 3982.2h0M3139.4 3858.9h0M3021.7 4012.4h0M3156.2 4009h0M3053.6 3882.3h0M3150.7 3987.8h0M3120.3 3924.5h0M3044.4 4024.6h0M3046.9 3987.2h0M3182.7 4050.8h0" stroke="#fca95e"/><path d="M3073.9 3949.6h0M2999.1 3969.5h0M3162.9 4045.1h0M3169.2 4065.7h0M3146.6 3799.9h0M3119.1 3983.7h0M3098.4 4004.5h0M3131.4 3895.4h0M3110.1 3936h0M3108.7 4000.2h0M3018.8 3990h0M3161 3792.8h0M3151.6 3769.3h0M3130.7 3996.5h0M3157.9 3876h0M3119.9 3974h0M3066.4 3875.7h0M2979.8 3972.7h0M3085.3 4009.9h0M3004.6 4002.8h0M3110.6 4022.4h0M3121.8 4001.7h0M3179.9 3872h0M3054.4 3979.1h0M3115 3982.9h0M3188.8 4044.6h0M3038.8 3978h0M3043.4 4005.6h0M2972 3977.4h0M2975.4 3962.5h0M2994.3 3968.4h0M3130.7 3926.8h0M3025.1 3999.2h0M3035.8 3966.4h0M3026.3 4013.6h0M3097.1 3982.1h0M3117 3985.4h0M2979.4 3971h0M3159.2 3892h0M3047.6 3945.1h0M3104.6 3969.7h0M3173.9 3764h0M3020.6 3996.7h0M2994.9 3979.2h0M2986 3958.9h0M3055.9 3983h0M3069.6 3969.9h0M3096.1 3981.6h0M3075.4 3957.8h0M3100.4 4005.1h0M2971.7 3975.5h0M3123.7 3980.1h0M3137 3779.9h0M2957.2 3991.3h0M3016.4 4005.1h0M3119.9 3914.1h0M3103.1 3968.3h0M2952.1 4030.4h0M3127.7 3967.6h0M3151.4 4048.8h0M3098.7 3898h0M3117.6 3982.5h0M3001.2 4018.9h0M3181.4 3752.1h0M3021.9 3878h0M3156.2 3796.8h0M3127 3859.8h0M3142.8 3862.8h0M3153.6 3753.2h0M3006.6 3980.8h0M2959.7 4035h0M3102.6 3984.1h0M3000.4 3973.5h0M3098.4 3954.8h0M3165.3 3782.3h0M3164.5 3767.1h0M2974.9 4014.1h0M3111.1 3964.5h0M3114.1 3952.5h0M3017.9 3894.3h0M3114.6 3994.3h0M3078 4003.8h0M3115.2 3987.5h0M3116 3971.2h0M3040.3 4003.3h0M3142.2 3766.3h0M3145.4 3948h0M3171.1 4008.5h0M3094.5 3886.7h0M3043.9 3973.6h0M2986 4004.1h0M3084.1 3979.3h0M3008.4 3993.5h0M3139.9 3922.7h0M3200.2 4028.9h0M3091.1 4011.8h0M3126.6 3830.2h0M3148.1 3884h0M2990.7 3918.1h0M3110.1 3970.2h0M3172.9 3791.4h0M3106.2 3996.1h0M3020.3 3958.4h0M3038.3 3984.2h0M3096.4 3959.5h0M3090.7 3966.1h0M2981.7 3987.8h0M3064.5 3961.2h0M3080.9 3981h0M3134.6 3876.1h0M3064.2 3985.1h0M3138.5 3887.3h0M3113.6 3935.3h0M3030.6 3992.9h0M3002.5 4000.3h0M3146.4 3792.7h0M2941 3975.7h0M3049.1 3980h0M3028.5 4019.9h0M3101 3969.7h0M3098.5 3925h0M3109.9 3900.9h0M2985.6 3993.4h0M3090.5 3972.8h0M3130.1 3845.8h0M3095.3 3990h0M2984.3 3998.7h0M3093.1 3929.9h0M3169.4 3840.7h0M3101.5 3985.1h0M3014.9 3994.4h0M2986.4 3975.3h0M3165.4 3742.5h0M3060.7 3998.1h0M3054.8 3991.5h0M3021.4 3854.5h0M3042.1 3997.9h0M3165.9 3765.3h0M3073.6 4006.1h0M3148.6 3860.2h0M3012.5 3999.7h0M3015.6 3992.5h0M2972.4 4025.4h0M2999.8 3969h0M3102.9 3872.3h0M3012.8 3932.2h0M2988.7 4018.4h0M3073.7 3972.6h0M3026.2 3978.4h0M3025 3937.1h0M3173.8 3782.7h0M3148.4 3914.1h0M3083.2 3937.1h0M3158.3 3760.4h0M3119.1 3866.2h0M3098.5 4017.2h0M2980.1 3985.8h0M3138.3 3988.6h0M2981.2 4013.4h0M2971.3 4018.4h0M3180.3 4029.1h0M3003.7 3949.5h0M3051.3 3894h0M3054.5 4009.4h0M3141.5 3897.5h0M3022.2 3916.2h0M3090.6 3986.6h0M2992.7 3934.3h0M3147.4 3864.7h0M3040.1 4006.9h0M2944.8 3999h0M3070.9 3947.9h0M3063.5 3987.1h0M3105.9 3963.3h0M2978.7 4014.6h0M3072.5 4000.4h0M3138.5 3981.2h0M3135.3 3801.3h0M3151.9 3790.8h0M3107.5 3934.2h0M2980.1 3938.8h0M2981.8 3969.4h0M3169.6 3810.7h0M3054.6 3977.9h0M2974.3 3971.5h0M3015.8 3965.2h0M3006.4 4003.2h0M2975.5 3976.7h0M2987.5 3974.7h0M2943.7 3970h0M3031.5 3946.2h0M3061.6 3952.3h0" stroke="#f88e52"/><path d="M3134.5 3810.5h0M3154.7 3834.3h0M2974.8 3922.2h0M3164.5 3814.8h0M3016.1 3947.7h0M3009 3932.6h0M3152.8 3914.5h0M3009 3854.4h0M3112.5 3902.7h0M3111.1 3934.9h0M3079.9 3999.4h0M2979.5 3957.1h0M3080.8 3989h0M3107.9 3890.7h0M3020.5 3844.3h0M3010 3962.8h0M3033.2 3948.3h0M3119.6 3896.7h0M2990.3 3924.9h0M3131.7 3856.7h0M3116 3847.6h0M3148.6 3808.4h0M3170.5 3841.1h0M3086.8 3976.7h0M3113.3 3840.3h0M3136.9 4006h0M3142.9 3815.8h0M3145.1 3802h0M3070.7 4000.6h0M3038.6 3940.9h0M3134.4 4001.8h0M3027.2 3852.1h0M3171.2 3783.4h0M3108.3 3885.8h0M3175 3762.3h0M3100.3 3972.7h0M2992.2 3932.3h0M3156.7 3822.9h0M3135.1 3981h0M3112.1 3834.1h0M3025 3905.3h0M3136.7 3926.1h0M3063.4 3991.1h0M3090.7 3885.5h0M3009.8 3953.3h0M3015.6 3950.4h0M3121.3 3938.2h0M3150.2 3850.6h0M3141.6 3842.8h0M2994.9 3913h0M2993.6 3961.8h0M3085.3 3901.4h0M3171.9 3820.9h0M3093.9 3966.3h0M3150.7 3917.9h0M3145.4 3836.7h0M3168.7 3781.7h0M3042.8 3922.1h0M2969.5 4031.8h0M3134.1 3889.8h0M3155.4 3849.1h0M3176.7 3753.3h0M3110 3891.9h0M3020 3924.4h0M3177 3761.2h0M3146.5 3867.8h0M3170 3799.1h0M3001.5 3920.2h0M3154.2 3810.3h0M3104.6 3964.8h0M3092.5 4002.6h0M3123.9 4025.9h0M3143 3866.2h0M3156.3 3830.7h0M3152.5 3794.9h0M3140.6 3935.1h0M2942.7 3993.4h0M3023.1 3869.4h0M3154.6 3796.5h0M3156.1 3908.9h0M2965.4 3957.9h0M3096 3967.8h0M3152.2 3858.2h0M3119 3869.6h0M2972.3 4003h0M3164.2 3811.3h0M2985.2 3936.7h0M3021.1 3898.4h0M3141.1 3847.9h0M3150.7 3902.1h0M3189.4 3765.7h0M3141.6 3818.8h0M3125.4 3893.3h0M3014.1 3936.5h0M3041 3895.7h0M3108.5 3940.7h0M3159.9 3787.3h0M3166.5 3830.3h0M3082.6 3983.9h0M3021.7 3982.8h0M3174.9 3786.5h0M3016.4 3910.9h0M3029 3876.5h0M3131 3980.2h0M3094.4 3912.5h0M3124 3850.2h0M3062.9 3967.2h0M3115 3840.3h0M3087.1 3966.5h0M3168.1 3772.3h0M3098.1 4012h0M3109.8 3915.9h0M3166.9 3817.7h0M3152.4 3753.3h0M3014.6 3929.9h0M3149 3803.6h0M2993.8 3922.9h0M3122.3 3926.3h0M3118.5 3981.5h0M3117.2 3853.6h0M3068 3950.4h0M3170.7 3861.2h0M3138.8 3779.8h0M3104.4 3938.5h0M3162 3805.2h0M3136.3 3790.9h0M3128.7 3912.2h0M3125.9 4017.3h0M2995.6 3931h0M3052.2 3879.5h0M3089.3 3988.9h0M3146 3824.3h0M3098 3963.9h0M3106.9 3982.4h0M3158 3817.2h0M3106.6 3886.8h0M3194.7 3748.6h0M3125.5 3965.4h0M2983.6 3915.7h0M3167.8 3819.8h0M3059 3963.2h0M3125.5 3839.4h0M3128.2 3929.3h0M3092.9 3998.9h0M3116.1 3915.3h0M3167.3 3827.6h0M3115.7 3878.9h0M3118.6 3927.8h0M3170.6 3782.8h0M3104.7 3848.5h0M3097.6 3984.1h0M3179.8 3864.2h0M3086.5 3932.7h0M3157.9 3882.8h0M2995.5 3941.2h0M2967 3986.7h0M2973 3924.3h0M3101.2 3961.3h0M3172.3 3778.8h0M3166.5 3807.6h0M3125.2 3892.7h0M3095 3999.3h0M2986.7 3929.1h0M3131.3 3890.7h0M3122.2 3903.4h0M3175.9 3838.1h0" stroke="#f57246"/><path d="M3161.9 3766.1h0M3100.9 3896h0M3014.7 4011.2h0M3173.7 3774.6h0M3149.1 3856.8h0M3149.1 3750.5h0M3122 3885.5h0M3112.8 3961.4h0M3083.1 3933.6h0M3163 3829h0M3129 3984.3h0M3119 3923h0M3148.1 3744.6h0M3045.8 3947.4h0M3123.8 3857.4h0M3029.2 3888.9h0M3150.1 3823.9h0M3003.1 3989.5h0M3165.3 3756.7h0M3154.3 3796h0M3158.5 3790.8h0M3166.6 3768.7h0M3115.3 3968.9h0M3172.9 3803.4h0M3110.5 3927.2h0M3144.3 3813h0M3002 3908.7h0M3172.9 3771.2h0M3026.7 3872.9h0M3113.3 3918.3h0M3134.9 3919.8h0M3116.9 3957.1h0M3158.6 3817h0M3150.3 3890.2h0M3161.9 3823.2h0M3167.5 3784.6h0M3125.6 3828h0M3036.8 3861.8h0M3025.7 3849.9h0M3126.2 3855.4h0M2962.6 3974.4h0M3118 3835h0M3188.3 3757.3h0M3149 3859.8h0M3021.5 3894.5h0M3040.6 3887h0M3124.2 3945.8h0M3179.1 3796.4h0M3150 3860.2h0M3152 3816.4h0M3130.6 3891.6h0M3155.8 3791.6h0M3150.8 3948h0M3153.7 3824.8h0M3016.9 3943.8h0M3163.7 3822h0M3183.5 3756.9h0M2996.8 3930.1h0M3085.2 3988h0M3140 3776.3h0M3018.8 3853.9h0M3023.5 3878.2h0M3124.9 3980.6h0M3122.6 3899h0M3035.7 3864.1h0M3134.8 3859.4h0M3173.2 3776h0M3172 3777.2h0M3124.6 3952h0M3027.4 3888h0M3168.2 3841.7h0M3185.7 3789.6h0M3025.8 3869.5h0M2985 3924.7h0M3007.7 3878.1h0M3124.6 3942.1h0M3122.2 3945.5h0M3104.5 3957.2h0M3169.8 3749.4h0M3122.2 3822.8h0M3175.9 3795.3h0M3162.3 3799h0M3168.3 3763.4h0M2994.5 3925.1h0M3108 3969h0M3000.9 3919h0M3002.7 3905.3h0M3165 3753.9h0M3010.5 3877.1h0M3125.4 3893.5h0M3037.9 3877.1h0M3147.7 3803h0M3173.3 3776.4h0M3138 3935.7h0M3175.3 3764.6h0M2999.5 3925.1h0M3106.8 3966.6h0M3129.8 3961.9h0M3127.5 3864.5h0M3093.9 3888.1h0M3123.8 3861.9h0M3161.4 3797.9h0M3007.4 3855h0M3145.2 3856.9h0M2995.4 3943.5h0M3018.7 3905.1h0M3035.3 3847h0M3046.9 3876h0M2986.5 3918.9h0M3017 3902.8h0M3145.4 3912.3h0M3032 3855.9h0M3171 3807.3h0M3162.5 3787.9h0M3158.1 3871.3h0M3100.6 3944.6h0M3179.9 3757.5h0M3118.2 3972.6h0M3124 3865.9h0M3100.6 3901.9h0M3140.7 3810.3h0M3056.4 3894.6h0M3024.7 3884h0" stroke="#ea5d47"/><path d="M3152.7 3854.7h0M3025 3870.4h0M3141.6 3871.4h0M3013.3 3849.9h0M3037.9 3862.6h0M3172.3 3797.3h0M3151.9 3859.7h0M3015.2 3887h0M3011.6 3911.9h0M3042.1 3855.7h0M3164.7 3755h0M3158.6 3817h0M3118.1 3893.4h0M3021 3889.7h0M3031.8 3930.9h0M2998.7 3850.6h0M3175.6 3776.5h0M3001.3 3924.5h0M3120 3962.4h0M3008.5 3941.6h0M3011.4 3916.3h0M3111.6 3862.8h0M3131.1 3866.5h0M3130.6 3887.8h0M3022.1 3925.7h0M3165.2 3803.1h0M2961.9 3930.9h0M3163.1 3807.5h0M3040.2 3889.6h0M3110.8 3934.8h0M3008 3944.7h0M3036.5 3857.3h0M2987 3942h0M3033.2 3872h0M3032 3885.9h0M3041.4 3862h0M3011.8 3846.9h0M3175.6 3786.2h0M3160.8 3769.4h0M3158 3792.4h0M3011.2 3920.6h0M3165.8 3785h0M3110.7 3953.9h0M3038.2 3882.5h0M3019 3875.9h0M3133.5 3906.8h0M3147.4 3991.8h0M3110.4 3926h0M3137.3 3852.9h0M3029.3 3886.5h0M2996.1 3904.1h0M3152.6 3819.6h0M3031.5 3901.4h0M3141.7 3815h0M3030.9 3885.2h0M3143.1 3830.4h0M2993 3917.3h0M3127.8 3921.9h0M3131.2 3864.5h0M3153.3 3806.6h0M3044.2 3908.3h0M2961.4 3936.8h0M3147.1 3805.2h0M3159.7 3781.9h0M3166.5 3808h0M3110.3 3863.7h0M3019.8 3896.3h0M3049.2 3872.7h0M3127.2 3839.9h0M3152.5 3835.5h0M3159.3 3819.3h0M3013.4 3880.4h0M3024.7 3923.1h0M3124.7 3893.7h0M3169.9 3840.4h0M3023.5 3853.5h0" stroke="#dd4a4c"/><path d="M3159.8 3760.7h0M3178.7 3825h0M3146 3830.7h0M3024.9 3886.7h0M3104.8 3943.5h0M3033.9 3906.5h0M2992.9 3884.7h0M3025.3 3912.4h0M3158 3808.5h0M3140.3 3931.5h0M3020.3 3853.7h0M3040.5 3894.3h0M3150.6 3773.1h0M3032.7 3908h0M3157.3 3793.1h0M3111.8 3947.8h0M3139.6 3849.1h0M3010.1 3860.4h0M3165.1 3768h0M3020.8 3880.2h0M3015.4 3884.6h0M3150.3 3836.1h0M3020.4 3908.4h0M3135.5 3856h0M3159.3 3790.7h0M3002.1 3894.1h0M3013.8 3877.1h0M3019.2 3859.4h0M3026 3877.5h0M3054.7 3935.4h0M3031.6 3929.1h0M3043.5 3874.6h0M3041 3869.5h0" stroke="#cc344d"/><path d="M3145 3849h0M3013 3890.7h0M3009 3896.6h0M3015.5 3857.3h0M3003.7 3913.6h0M3007.8 3907.4h0M3012.5 3866.8h0M3013.8 3864.5h0M3038.8 3903.9h0M3150.7 3787.3h0" stroke="#b51a47"/><path d="M3035.5 3882h0" stroke="#9e0142"/></g>
<defs><linearGradient id="g18" x1="0" y1="1" x2="0" y2="0"><stop offset="0%" stop-color="#5e4fa2"/><stop offset="10%" stop-color="#3288bd"/><stop offset="20%" stop-color="#66c2a5"/><stop offset="30%" stop-color="#abdda4"/><stop offset="40%" stop-color="#e6f598"/><stop offset="50%" stop-color="#ffffbf"/><stop offset="60%" stop-color="#fee08b"/><stop offset="70%" stop-color="#fdae61"/><stop offset="80%" stop-color="#f46d43"/><stop offset="90%" stop-color="#d53e4f"/><stop offset="100%" stop-color="#9e0142"/></linearGradient></defs>
<rect x="3250" y="3988.5" width="33.9" height="79.6" fill="url(#g18)"/>
<text x="3284.9" y="3995.7" font-size="30.5">30</text>
<text x="3285.2" y="4073.6" font-size="30.5">0</text>
<text x="1662" y="4212.6" font-size="43.3" font-style="italic" textLength="132" lengthAdjust="spacingAndGlyphs">ca5b.L</text>
<g fill="none" stroke-width="6.1" stroke-linecap="round" stroke-opacity="0.85"><path d="M1653.4 4510.2h0M1654.6 4481.2h0M1786.4 4525.8h0M1549 4475.9h0M1638.4 4450.6h0M1643.2 4483.3h0M1592.5 4502.5h0M1631.7 4429.3h0M1639.7 4466h0M1653.1 4504.1h0M1617.6 4481.7h0M1620.6 4478.5h0M1606.7 4455.7h0M1628 4446.6h0M1610.5 4472.3h0" stroke="#5e4fa2"/><path d="M1653.6 4511.8h0M1649.8 4475.6h0M1638.7 4421.8h0M1581.9 4440.9h0M1557.7 4481.3h0M1722 4455.2h0M1713.3 4478h0M1683 4449.3h0M1556.9 4473h0M1636.3 4380h0M1610.4 4470.4h0M1748.3 4429h0M1733.2 4473.3h0M1601.4 4474.3h0M1805.1 4497.8h0M1697.3 4484.3h0M1613 4411.2h0M1669.9 4379.7h0M1733.4 4480.4h0M1692.4 4450.4h0" stroke="#4c67ad"/><path d="M1757.4 4471.6h0M1574.2 4531.5h0M1632.4 4503.1h0M1736.9 4442.4h0M1559.6 4473.8h0M1601.8 4510.6h0M1704.1 4465.3h0M1640.4 4363.7h0M1625 4499.8h0M1580.4 4511h0M1734 4356.7h0M1698.6 4358.1h0M1617.6 4487.2h0M1733.3 4395.5h0M1760.2 4331h0M1584.1 4509.5h0M1640.7 4402h0M1724.5 4459.7h0M1649.9 4417.4h0" stroke="#397eb8"/><path d="M1721.7 4456.9h0M1616.7 4485.2h0M1639 4329.9h0M1770.7 4468.9h0M1578.7 4516.5h0M1609.2 4448.8h0M1775.4 4505.5h0M1589.6 4504.3h0M1643.5 4495h0M1608.3 4488.8h0M1643.5 4391h0M1615.5 4461.8h0M1602.7 4532.2h0M1690.8 4442.5h0M1767.1 4336.4h0M1623.7 4426h0M1616.6 4464h0M1652.6 4464.3h0M1600.7 4467h0M1713 4421.7h0M1656.7 4490.5h0M1613.9 4444.9h0M1746.9 4451.7h0M1641.6 4355h0M1747.3 4478.5h0M1609.8 4457.1h0M1670.5 4450.2h0M1770.7 4545.8h0M1633.8 4495.1h0M1616.7 4454.9h0M1639.9 4340.2h0M1612.8 4476h0M1670.9 4365.2h0M1640.4 4464.3h0M1674.6 4451.3h0M1768.2 4497.1h0M1722.1 4442.4h0" stroke="#3f96b7"/><path d="M1602.3 4445.9h0M1693.4 4484h0M1702.4 4486.3h0M1627.4 4340.1h0M1607.6 4452.1h0M1671.4 4486.4h0M1645.4 4499.8h0M1613.4 4500.4h0M1763.1 4460.5h0M1715 4486.8h0M1598.5 4486.7h0M1595.9 4524.9h0M1645.7 4337.8h0M1623.9 4478.6h0M1671.3 4485.4h0M1706.8 4478.5h0M1736.3 4381.4h0M1776.6 4404.2h0M1659.9 4518.8h0M1710.9 4482.2h0M1604.8 4436.4h0M1628.6 4418.4h0M1700.5 4358.7h0M1786.4 4299.5h0M1730.4 4489h0M1580.5 4508.4h0M1599.7 4466.5h0M1730.4 4500.9h0M1604.1 4475.9h0M1634.5 4400.8h0M1625.2 4458.6h0M1620.6 4467.1h0M1783.3 4483.8h0M1655 4441.5h0M1638.4 4463.2h0M1587.5 4469h0M1783.7 4354.3h0M1753.7 4344.9h0M1824.2 4503.9h0M1600.9 4455.5h0M1626 4468.1h0M1573.2 4471.1h0M1609.5 4513.1h0M1608.2 4463.1h0M1603.7 4453h0M1727.4 4473.1h0M1623.4 4453.3h0M1777.7 4545.7h0M1666.8 4482.9h0M1611.7 4471.3h0M1586 4472.6h0M1670.8 4470.4h0M1606.1 4467.1h0M1604.2 4467.7h0M1758.6 4344.6h0" stroke="#55afad"/><path d="M1701.1 4496.2h0M1619.9 4447.5h0M1624.1 4428.1h0M1778.1 4480.7h0M1783.8 4505.3h0M1742.6 4463.5h0M1631 4476h0M1665.6 4481.1h0M1722.3 4349.6h0M1692.1 4446.7h0M1663.1 4433.9h0M1701.6 4475.9h0M1720.5 4412.5h0M1563.5 4479.6h0M1616.2 4495.3h0M1797.9 4521.6h0M1817.5 4553.2h0M1592.4 4498.9h0M1730.3 4485h0M1674.3 4475.3h0M1623 4484.4h0M1692.4 4481.9h0M1689.2 4495.5h0M1613.2 4398.8h0M1612.2 4488.3h0M1596.2 4450.3h0M1681.9 4454.5h0M1776.3 4374.1h0M1605.7 4506.5h0M1743.2 4496.4h0M1684.5 4493.1h0M1595.8 4517.3h0M1740.5 4458.2h0M1627.4 4446.2h0M1642.2 4501.9h0M1753.9 4407.1h0M1602.5 4506.7h0M1739.3 4394.1h0M1607.7 4480.9h0M1703.7 4468.1h0M1727.6 4457.3h0M1743.7 4487.9h0M1589.6 4504.3h0M1634 4487.7h0M1748.9 4510.3h0M1706.2 4468.6h0M1644.3 4355.2h0M1630.6 4443h0M1673.5 4369.1h0M1639.6 4384.1h0M1618.5 4479.9h0M1628 4453.6h0M1659.6 4381.5h0M1647.6 4362.2h0M1617.9 4450.6h0M1716.9 4498.8h0M1624.5 4426.6h0M1707.9 4425.7h0M1690.6 4449.9h0M1651.8 4470.2h0M1722.9 4315.8h0M1659.7 4470.2h0M1585.6 4458.3h0M1692.6 4469h0M1746.1 4333.5h0M1818 4537.1h0M1626.9 4456.5h0M1667.5 4514.7h0M1578.3 4460h0M1779.8 4512.4h0M1750.2 4471.3h0M1599.1 4523h0M1808 4530.5h0M1672.8 4437.6h0M1603.9 4448.5h0M1770.3 4279.2h0M1735.6 4499.8h0M1608.4 4458.9h0M1649.3 4437.9h0" stroke="#6cc4a5"/><path d="M1595.1 4482.2h0M1585 4457.3h0M1750.5 4381.1h0M1729.1 4421.8h0M1740.6 4448.9h0M1784.6 4352.6h0M1632.3 4455.9h0M1588.8 4533.6h0M1563.1 4485.6h0M1742.4 4402.6h0M1642.7 4464.8h0M1749.8 4412.6h0M1619 4479.7h0M1606.2 4452.2h0M1765.4 4485.5h0M1633.1 4464.8h0M1724.7 4456.5h0M1622.3 4485.7h0M1619.4 4481.6h0M1666.2 4430.8h0M1590.7 4468.9h0M1620.4 4394.4h0M1799.7 4482.7h0M1810.6 4513.2h0M1672.2 4455.6h0M1589.3 4493.1h0M1664.6 4450.8h0M1640.4 4455.9h0M1796.6 4268h0M1659.2 4372.7h0M1761.9 4348.4h0M1756.9 4475.5h0M1593.1 4446.8h0M1596.9 4515.7h0M1615.5 4488.6h0M1626.8 4459.4h0M1770.7 4369.6h0M1635.1 4515.3h0M1783.9 4562.5h0M1713.4 4372.4h0M1608.5 4449.4h0M1603.3 4457.5h0M1574.9 4458.1h0M1592.6 4513.7h0M1675.6 4454.6h0M1642 4363.9h0M1746.8 4397.3h0M1659.6 4474.2h0M1701.6 4459.5h0M1654.3 4349.8h0M1742.3 4438.4h0M1590.7 4480h0M1597.3 4435.1h0M1787.3 4499.8h0M1679.6 4450.6h0M1639.5 4444.9h0M1645.9 4373.7h0M1634 4503.4h0M1710 4477.5h0M1626.2 4466.3h0M1626.2 4363.8h0M1661.3 4488.6h0M1608.3 4488.8h0M1655.9 4480h0M1615.3 4442.8h0M1827.3 4507.2h0M1611.4 4427h0M1709.4 4475.7h0M1788.9 4482.9h0M1695.8 4487.1h0M1733.9 4381.4h0M1714 4479.7h0M1781.8 4276.6h0M1612.1 4496.8h0M1748.7 4466.1h0M1655.3 4460.8h0M1616.4 4500.8h0M1605.3 4451.1h0M1718.5 4493.8h0M1624.7 4474.6h0M1628.5 4461.8h0M1740.8 4494h0M1750.8 4404.5h0M1590.3 4440.5h0M1713.4 4339h0M1636 4449.9h0M1639 4464.1h0M1633.8 4514.2h0M1595.4 4470.5h0M1721.7 4467.4h0M1766.6 4350.4h0M1613.9 4459.4h0M1635.4 4388.5h0M1801.6 4522.9h0M1778.1 4555.2h0M1567.7 4498.6h0M1799.9 4302.1h0M1610 4481.9h0M1739.3 4410.2h0M1609.9 4484.2h0M1787.1 4523.1h0M1675.1 4380.3h0M1650.1 4432h0M1739.6 4453.4h0" stroke="#88d0a4"/><path d="M1590.5 4522.3h0M1635 4448.3h0M1664.7 4488.7h0M1640.5 4456.6h0M1662.7 4461h0M1615.4 4492.2h0M1626.5 4475.9h0M1635.7 4495.6h0M1657.2 4460.9h0M1748.2 4487.2h0M1773.2 4491.1h0M1608.5 4473.2h0M1681.9 4444.2h0M1799.3 4357.7h0M1783.8 4544.9h0M1592.9 4510h0M1822.2 4480.1h0M1574.4 4509.8h0M1647.7 4374.6h0M1793.1 4526.3h0M1704.3 4460.1h0M1728.4 4426.5h0M1593 4488h0M1721.4 4484.3h0M1601.2 4496.4h0M1645.2 4358.6h0M1645.8 4465.6h0M1600.9 4452.4h0M1655.4 4347.5h0M1644.2 4335.6h0M1594.6 4494.2h0M1692 4470.6h0M1605.5 4482.8h0M1694.8 4468.3h0M1696.2 4480.8h0M1613.2 4446.2h0M1655.3 4492.3h0M1710 4476.5h0M1717.3 4440.7h0M1732.5 4460.6h0M1634 4476.4h0M1622 4471.5h0M1632.7 4452.7h0M1592.4 4503.6h0M1638 4483.6h0M1612.7 4469h0M1614.2 4482.9h0M1795.8 4469.6h0M1630 4445.7h0M1598.3 4459.3h0M1610.3 4446.5h0M1711.5 4475.2h0M1569.1 4512h0M1757.7 4373h0M1732.6 4421.1h0M1624.5 4467.2h0M1610.1 4499.4h0M1723.8 4432.6h0M1663.8 4475.3h0M1717.4 4410.8h0M1698.2 4470.8h0M1724.6 4465.6h0M1749.2 4331.5h0M1722.4 4465h0M1712 4415.6h0M1604.5 4486.6h0M1764.3 4487.1h0M1717.5 4456.2h0M1778.8 4508h0M1718.4 4499.7h0M1628 4418.3h0M1766 4310.5h0M1608.3 4495.8h0M1647 4513.1h0M1628.9 4362.8h0M1632.2 4453.4h0M1767.6 4399.8h0M1730.7 4467.8h0M1598.5 4531.1h0M1738.1 4351.8h0M1762.4 4475.2h0M1622.9 4418.1h0M1626.8 4483h0M1625.8 4340.7h0M1644.1 4460.7h0M1654.3 4461.1h0M1717.9 4465h0M1653.9 4332.6h0M1682.4 4504.4h0M1665.5 4361.7h0M1647.9 4518.2h0M1801.5 4516.3h0M1711.8 4498.3h0M1612 4480.6h0M1650.5 4341.6h0M1598.4 4424.5h0M1682.3 4477.9h0M1618.9 4458.8h0M1663.6 4442.1h0M1643.2 4369.7h0M1694 4471.4h0" stroke="#a5dba4"/><path d="M1682.4 4350.4h0M1672.1 4503.9h0M1634.6 4433.5h0M1656.5 4348.3h0M1671.5 4492.3h0M1756.9 4484.1h0M1667.6 4417.5h0M1614.8 4485.3h0M1631.5 4486.4h0M1672.2 4471.1h0M1563.4 4494.1h0M1796.4 4515.1h0M1618.6 4476.7h0M1673.8 4455.6h0M1776.9 4291.3h0M1691.4 4472.6h0M1778.5 4377.7h0M1785.5 4497.4h0M1605.3 4471.2h0M1729.3 4465h0M1662 4447h0M1738.9 4399.9h0M1809 4311.1h0M1672.5 4505.5h0M1717.6 4383.7h0M1765.4 4479.1h0M1640 4380.3h0M1630.6 4506.8h0M1767 4286h0M1703 4348.2h0M1762.6 4253.5h0M1693.8 4442.9h0M1804.7 4273.4h0M1735 4457h0M1764.6 4433.8h0M1629.5 4483.5h0M1759 4408.4h0M1695.5 4444.1h0M1767.3 4369.7h0M1609 4403.8h0M1729.1 4456h0M1612.1 4465.9h0M1630.8 4509.5h0M1644.1 4486h0M1639.5 4526.7h0M1690.3 4514h0M1713.4 4465.1h0M1753.7 4361.8h0M1746.2 4460.6h0M1691.3 4470.1h0M1651.8 4477h0M1650.1 4387.2h0M1735.6 4506h0M1632.6 4422.3h0M1686.7 4471.9h0M1767.7 4308.7h0M1615.4 4458.5h0M1788.7 4530.4h0M1628.4 4485.2h0M1689 4501.3h0M1780.6 4523.6h0M1596.2 4474.9h0M1613.2 4496h0M1631.3 4418h0M1656.4 4362.8h0M1703.4 4464.1h0M1666.7 4461.6h0M1590.1 4504.6h0M1760.6 4383.2h0M1780.6 4519.7h0M1690 4354.6h0M1637.2 4390.9h0M1682.2 4482.8h0M1593.8 4506.4h0M1611 4420.1h0M1771.7 4503.8h0M1572.2 4489.4h0M1679.5 4482.4h0M1631.9 4456.2h0M1630.2 4478.6h0M1726.5 4420h0M1584 4525.4h0M1621 4465.8h0M1747.4 4482.9h0M1594.7 4483.8h0M1672.2 4368h0M1780.9 4545.3h0" stroke="#bfe5a0"/><path d="M1672 4450.3h0M1630.6 4443.1h0M1574.9 4528.1h0M1593 4407.9h0M1652.8 4469.9h0M1660.4 4496.3h0M1704.4 4445.3h0M1798.1 4500.5h0M1703.2 4463.2h0M1777.2 4361.7h0M1677.4 4463.4h0M1596.6 4442.8h0M1593.4 4433.3h0M1620.3 4479.5h0M1647 4449.7h0M1597.1 4477.8h0M1710.7 4452.2h0M1703.5 4490.2h0M1791.3 4532.2h0M1617 4336.2h0M1643.5 4426.8h0M1785 4551h0M1790.5 4549.1h0M1629.8 4402.1h0M1655.6 4496.5h0M1726.6 4450.1h0M1725 4477.6h0M1719.2 4458.6h0M1755.8 4411.8h0M1717 4443.5h0M1597 4513.5h0M1746.8 4453.4h0M1628.3 4439.1h0M1625.5 4495.3h0M1712.9 4369.2h0M1721.2 4503.6h0M1591.5 4452.9h0M1655.1 4343h0M1750 4281.5h0M1772.8 4238.7h0M1783.8 4252.6h0M1769.9 4403.7h0M1661.4 4407.9h0M1633.7 4463.4h0M1650.5 4371.6h0M1660 4347.6h0M1624.4 4522h0M1630.3 4332.5h0M1604.4 4479.4h0M1715.2 4440.3h0M1626.5 4458.3h0M1788.9 4510.2h0M1685.8 4467.3h0M1765.7 4353.5h0M1729.6 4504h0M1792.2 4276.9h0M1612.6 4460.1h0M1619.9 4405.9h0M1637.5 4361.6h0M1619.4 4467.7h0M1677.8 4488.6h0M1752.3 4467.1h0M1761 4504.9h0M1762.2 4351.9h0M1574.9 4476.3h0M1790.6 4494h0M1700.6 4443.6h0M1739.7 4479.6h0M1603.1 4485.5h0M1647.8 4372.2h0M1723.7 4467.1h0M1765.1 4516.4h0M1783.9 4546.1h0M1803.5 4501.6h0M1610 4456h0M1662.8 4463.1h0M1641.4 4446h0M1726.4 4497.5h0M1728.8 4386.6h0M1619.9 4475.8h0M1728.8 4401.6h0M1676.7 4461.4h0M1785.2 4250.8h0M1736.2 4339.2h0M1579.6 4530.1h0M1673.8 4444.7h0M1723.3 4424.2h0M1747.7 4457h0M1614 4416.8h0M1749.8 4468.8h0M1717.9 4484.7h0M1618.5 4465h0M1601.8 4401.5h0M1638.3 4382.1h0M1594.4 4519.4h0M1667.9 4358.4h0M1734.7 4364.6h0M1623.9 4481.9h0M1713.6 4461h0M1657 4464.8h0M1735.1 4459.1h0M1705.4 4418.5h0M1720.1 4447.1h0M1588.2 4432.4h0M1640.2 4498.3h0M1643.2 4408.9h0M1774.9 4491.3h0M1801.7 4519.5h0M1605 4414.9h0M1663 4510.5h0" stroke="#d7ef9b"/><path d="M1643.5 4356.1h0M1574 4506.8h0M1765.8 4285.5h0M1631.7 4335.6h0M1627.4 4418.4h0M1658.9 4510.8h0M1568.9 4471.6h0M1731.5 4388.4h0M1730.1 4420.7h0M1637.2 4475.8h0M1749.8 4482.4h0M1739 4459.8h0M1633.6 4372.7h0M1651.7 4434.1h0M1706.5 4469h0M1795 4490.5h0M1630.1 4397.7h0M1660.7 4341.4h0M1740.9 4487.6h0M1750.8 4342.4h0M1636.4 4503.7h0M1630.7 4449.3h0M1639.5 4375.4h0M1720.5 4456h0M1650.4 4416.7h0M1754.7 4499.3h0M1686.6 4414.5h0M1716 4467.9h0M1569 4513.2h0M1732.3 4325.9h0M1736 4471.3h0M1789.5 4532.3h0M1678.3 4399.5h0M1765.3 4280.8h0M1650.1 4501h0M1716.2 4491.8h0M1727.3 4371.5h0M1674.5 4468.9h0M1770.5 4548.2h0M1782.6 4542.9h0M1756.2 4265.4h0M1782.6 4489.2h0M1709.6 4371.3h0M1569.2 4519.8h0M1740.3 4424h0M1736.6 4468.3h0M1800.8 4237.6h0M1658.8 4375.3h0M1775.4 4282.3h0M1731.7 4455.5h0M1704.2 4387.1h0M1700.3 4490.3h0M1784.6 4267.8h0M1678.7 4491.9h0M1651.8 4357.7h0M1656.7 4490.2h0M1774.6 4334.8h0M1622.3 4456.6h0M1801.1 4515h0M1638.4 4410.2h0M1702.9 4465.1h0M1745.7 4315.8h0M1656.8 4368.2h0M1638.8 4444.2h0M1723.5 4450.6h0M1796.2 4505.6h0M1666 4495.3h0M1810.3 4527.9h0M1748.8 4474.5h0M1709.6 4451.9h0M1759.8 4420.9h0M1606 4501.2h0M1699.7 4466.9h0M1775.3 4394.6h0M1771.4 4343.9h0M1649.2 4478.8h0M1688.1 4454.4h0M1603.5 4422.5h0M1584.3 4521.1h0M1771.3 4507.8h0M1778.9 4475.1h0M1760.2 4333.5h0M1769.9 4387.8h0M1741.5 4513h0M1779.7 4538.2h0M1572.1 4467.7h0M1727.5 4426.5h0M1649.4 4370.9h0M1779.8 4537.2h0M1622.1 4469.1h0M1595.4 4503.9h0M1634.9 4396.6h0M1810.8 4514h0M1805.2 4543.8h0M1784.7 4228h0M1713.3 4398.3h0M1743.1 4335.9h0M1612.1 4408.7h0M1808.5 4555.7h0M1748.9 4478.5h0M1747.8 4397.9h0M1630.1 4468.7h0M1778.7 4483.3h0M1782.6 4539.7h0M1777.6 4246h0M1698.7 4366.9h0M1757.4 4474.5h0M1589.5 4504.3h0M1623.1 4500.2h0M1607.4 4482.7h0M1725.6 4372.5h0M1744.6 4451.2h0M1673.2 4495.3h0M1615.3 4527.1h0M1621.1 4470.6h0M1796.9 4474.2h0M1747.3 4415.1h0M1735.1 4401.1h0M1709.5 4472.4h0M1786.6 4313.3h0M1658.7 4492.8h0M1601.5 4460.5h0M1681.8 4492.1h0M1616.3 4437.7h0M1596.9 4500.5h0M1799.2 4349.8h0M1617.4 4452.4h0M1602 4516.6h0M1754.4 4286.9h0M1771.1 4276.4h0M1591.2 4410h0M1677.4 4468.1h0M1631.8 4366.1h0M1788.9 4296.3h0M1744.2 4378.4h0M1809.5 4483.1h0M1750.4 4376.4h0M1741.2 4389.1h0M1665.5 4473.1h0M1642 4339.1h0M1680.3 4438.1h0" stroke="#eaf79e"/><path d="M1773.9 4319.9h0M1738.1 4469.6h0M1717.4 4490.4h0M1772 4400.2h0M1726.9 4376.4h0M1780.3 4278.3h0M1770.8 4254.9h0M1685.1 4361.4h0M1598.1 4458.6h0M1704.1 4495.8h0M1623 4488.7h0M1738.7 4382.5h0M1729.6 4508.3h0M1657.4 4463.9h0M1735 4333.2h0M1796.1 4550.3h0M1590.2 4463.2h0M1789.1 4560.2h0M1612.7 4454.2h0M1643.6 4485.1h0M1762.4 4493.7h0M1762.1 4301.4h0M1597.6 4456.8h0M1793.2 4249.6h0M1786.9 4541.4h0M1639.1 4482.6h0M1652.5 4392.2h0M1613.3 4465.1h0M1790.5 4269h0M1747.3 4454.4h0M1715 4467.5h0M1694.2 4443.6h0M1611.3 4370.4h0M1719.3 4491h0M1807.2 4513.2h0M1731.1 4319.7h0M1575.4 4477.2h0M1634.9 4491h0M1570.2 4516.3h0M1640.6 4411.5h0M1799.5 4512.7h0M1784.3 4511h0M1619.6 4504.8h0M1760.8 4328.5h0M1791.9 4534.3h0M1800.4 4487.4h0M1638.8 4339.4h0M1730.1 4450.3h0M1753.2 4375.6h0M1733.1 4438.3h0M1798.4 4531.3h0M1733.6 4480.2h0M1734.2 4473.4h0M1658.9 4489.2h0M1761.3 4251.8h0M1729 4377.7h0M1817 4499.6h0M1635.4 4429.6h0M1804.3 4494.5h0M1662.5 4459.5h0M1663.4 4429.9h0M1626.8 4479.4h0M1773.7 4525.5h0M1791.9 4535.3h0M1725.1 4482h0M1800.3 4522.1h0M1715.3 4445.3h0M1682.9 4471h0M1714.9 4453.7h0M1738.1 4355.2h0M1614.4 4389.8h0M1620.8 4486.1h0M1765.6 4278.3h0M1667.8 4465.8h0M1647 4505.8h0M1719.9 4455.6h0M1744.6 4479.8h0M1765.8 4306.6h0M1788.7 4326.3h0M1734 4326h0M1639.2 4365.9h0M1633.9 4370.4h0M1612.8 4410.8h0M1660.7 4483.8h0M1796.8 4529.3h0M1741.4 4412.1h0M1790 4346.9h0M1776.3 4531h0M1618.2 4454.8h0M1809.1 4489.4h0M1797.1 4519.1h0M1607.1 4504.3h0M1692.5 4458.5h0M1801.7 4545.9h0M1643.5 4422.9h0M1793.1 4268.3h0M1662.8 4394h0M1717.4 4503.1h0M1598.4 4471.6h0M1795.8 4530.3h0M1744.5 4325.1h0M1791.2 4511.5h0M1632.3 4362.8h0M1737.6 4413.6h0M1723.6 4334.1h0M1770.7 4523.6h0M1604.7 4404.7h0M1562.9 4484.9h0M1637.7 4345.1h0M1644.6 4363.2h0M1757.6 4467h0M1777.1 4368.5h0M1600.1 4455.2h0M1769.2 4507.9h0M1662.1 4360.3h0M1673.3 4463.8h0M1634.2 4451.1h0M1789.1 4478.2h0M1593.8 4462.6h0M1561.7 4455.8h0" stroke="#f5fbaf"/><path d="M1692.7 4435.4h0M1753.6 4296.1h0M1774.2 4481.2h0M1727.7 4486.1h0M1771.6 4487.1h0M1741.1 4371.2h0M1673.1 4465h0M1734 4468.7h0M1662 4491.5h0M1738 4408.8h0M1570.3 4495.7h0M1766.2 4473.8h0M1643.4 4372.4h0M1816.4 4504.4h0M1764.2 4287.6h0M1723.6 4455.6h0M1796 4521.9h0M1604.2 4444.7h0M1732.3 4404h0M1688.3 4455.7h0M1769.5 4375.9h0M1722 4454.1h0M1768.2 4345.5h0M1787.8 4536.8h0M1721.5 4469.9h0M1618.8 4459.3h0M1593.2 4500h0M1822.3 4494.9h0M1771.2 4302h0M1791.4 4493.1h0M1749.7 4377.3h0M1796.1 4238.8h0M1788.4 4560.1h0M1604.3 4490h0M1796.4 4246.7h0M1710 4497.7h0M1651.3 4393.7h0M1656.9 4470h0M1754 4345h0M1599.9 4473.7h0M1683.2 4447h0M1743.7 4437.8h0M1767.3 4467.1h0M1740.8 4493.3h0M1808.8 4251.2h0M1760.8 4304.4h0M1744.5 4379h0M1754.7 4482.1h0M1743.6 4427.9h0M1741.2 4431.3h0M1773.7 4528.2h0M1714.1 4475.8h0M1720.4 4470.9h0M1633.3 4480.2h0M1726 4467.3h0M1679.4 4483.9h0M1809 4543.5h0M1771.6 4238.8h0M1673.5 4477.4h0M1727 4454.9h0M1619.3 4404.8h0M1634 4478.3h0M1590.6 4511.3h0M1721.8 4358h0M1769.4 4489.3h0M1781.2 4290.8h0M1755.5 4276.5h0M1805.1 4504.3h0M1702 4422.9h0M1789 4529.6h0M1617.9 4410.9h0M1765.2 4309.9h0M1819.5 4526.2h0M1792.5 4490.4h0M1599.5 4499.3h0M1777.2 4302.9h0M1742.8 4347.6h0M1760.7 4477.3h0M1613.8 4429.3h0M1620.5 4379.8h0M1756 4445h0M1689.7 4433.7h0M1682.2 4473h0M1724.9 4449.1h0M1691.2 4486.3h0M1758.8 4502.8h0M1804.1 4540.9h0M1785.8 4293.2h0M1719.5 4430.4h0M1737.2 4458.4h0M1743 4351.6h0M1719.6 4387.6h0M1791.1 4516.8h0M1592.5 4457.3h0M1624.8 4489.1h0M1795.2 4323.7h0" stroke="#ffffbf"/><path d="M1617.5 4455.3h0M1780.6 4514.7h0M1788.7 4487.7h0M1778 4543.2h0M1698.7 4485.2h0M1768.3 4342.4h0M1788.4 4536.3h0M1812.9 4520.3h0M1701.9 4419.4h0M1608.6 4410.7h0M1667.3 4471.7h0M1767.8 4294h0M1593.6 4448.3h0M1742.9 4343.1h0M1654.4 4452.3h0M1644.9 4499.5h0M1657.2 4426.7h0M1754 4405.5h0M1762 4489.3h0M1794.3 4247.8h0M1744.7 4313.6h0M1780.4 4508.5h0M1745.3 4341.1h0M1787.2 4511.4h0M1737 4320.6h0M1643.8 4398.2h0M1807.9 4505h0M1769.4 4336.3h0M1625 4466.7h0M1805 4542.8h0M1756.9 4484.4h0M1659.1 4380.1h0M1615.2 4415.9h0M1794.6 4534.4h0M1805.1 4524h0M1741.7 4384.7h0M1773.4 4295.9h0M1743 4511.9h0M1784.4 4513.2h0M1768.2 4519.7h0M1560.8 4479.2h0M1773.9 4282.1h0M1754.7 4516.9h0M1590.5 4488.9h0M1783.5 4296.9h0M1603.3 4410.5h0M1770.6 4482.1h0M1782.2 4489.7h0M1709.4 4458.7h0M1792.1 4540.1h0M1785.8 4316h0M1628.5 4346h0M1794.3 4272.1h0M1602.5 4484.6h0M1797.6 4544.7h0M1604.7 4461.1h0M1750.1 4466.1h0M1681.7 4453h0M1797.5 4510.1h0M1706 4452.3h0M1787.4 4257.9h0M1786.2 4303.4h0M1768.2 4289.2h0M1737.5 4467.4h0M1692.4 4492h0M1812.3 4503.3h0M1758 4265.4h0M1644.8 4464.2h0M1757.1 4421.5h0M1708.1 4474.8h0M1638.9 4394.2h0M1748.9 4447.7h0M1712.8 4373.8h0M1622.1 4435.3h0M1825.3 4485.8h0M1764.4 4342.6h0M1787.1 4305.4h0M1789.9 4268.4h0M1776.6 4526.7h0M1716.5 4469.9h0M1650.1 4414.9h0M1777.4 4357h0M1713.9 4485.2h0M1728.2 4485.8h0M1605.8 4460.5h0M1659.6 4355.2h0M1759.6 4503.2h0" stroke="#fff2a9"/><path d="M1784.7 4504.1h0M1814.9 4512h0M1781.1 4251.6h0M1719.8 4381.8h0M1783.7 4300.4h0M1597.7 4443h0M1699.6 4474.9h0M1628.4 4448.6h0M1731.8 4447.2h0M1799 4524.9h0M1822.8 4532.9h0M1789.8 4326.8h0M1769.3 4309.5h0M1777.2 4488.1h0M1739 4448.2h0M1689.5 4486.5h0M1792.2 4289h0M1626.9 4427.4h0M1750.2 4352.2h0M1610.6 4418.1h0M1775.9 4308.5h0M1754.2 4466.8h0M1749.7 4373.5h0M1807.8 4242.8h0M1634.1 4436.2h0M1580.1 4416.7h0M1634 4342.9h0M1612 4447.7h0M1791.2 4306.6h0M1793.7 4501.5h0M1767.5 4503.4h0M1712.8 4452.2h0M1743.3 4431.6h0M1798.4 4281.9h0M1769.2 4345.9h0M1764.5 4322.3h0M1788 4267.2h0M1784.5 4515h0M1794.7 4470.9h0M1770 4433.8h0M1761.1 4477.9h0M1820.7 4544.4h0M1765 4551.3h0M1789.3 4284.7h0M1804.6 4508.5h0M1711.4 4488.5h0M1775.5 4316.3h0M1771.7 4280.5h0M1791.3 4262.7h0M1583.6 4443.7h0M1777.6 4504.4h0M1790 4553.2h0M1786.5 4516.5h0M1808 4497.6h0M1779.2 4272.9h0M1701.5 4469.8h0M1723.4 4443h0M1777.5 4538h0M1797.5 4536.9h0M1633.1 4415.7h0M1631 4352.4h0M1784.3 4239.4h0M1657.4 4389.7h0M1744.5 4379.3h0M1794.6 4250.1h0M1579.5 4422.6h0M1716.9 4449.7h0M1716.7 4455.3h0M1814.2 4234.1h0M1711.7 4484.7h0M1772.1 4514.3h0M1790.3 4292.9h0M1796.5 4494.5h0M1791.7 4264.3h0M1799.3 4243h0M1798.8 4543.6h0" stroke="#fee594"/><path d="M1812.4 4535.4h0M1793 4260.1h0M1771.9 4486h0M1789.3 4502.1h0M1782.3 4314.6h0M1748 4470.1h0M1737.1 4379.1h0M1619.7 4410.2h0M1777.1 4517.5h0M1777.8 4276.4h0M1627.4 4382.3h0M1763.5 4298.6h0M1792.2 4256.8h0M1777.9 4302.6h0M1781.2 4308.8h0M1786.8 4270.2h0M1682.1 4477h0M1791.2 4546.5h0M1626.4 4430.5h0M1605.3 4427.8h0M1587.7 4517.7h0M1801.9 4538.3h0M1775 4277.2h0M1772.9 4310.4h0M1802.9 4242.4h0M1779.3 4487.7h0M1759.2 4261.9h0M1629.7 4406.4h0M1786.4 4547.1h0M1752.6 4392.5h0M1792.5 4261.6h0M1760 4496.8h0M1787.5 4327.4h0M1805.1 4275.1h0M1640.2 4468.7h0M1611.3 4403.1h0M1746.9 4407.7h0M1750.3 4350.2h0M1787.6 4248.9h0M1686.8 4436.2h0M1764.9 4499.5h0M1632.3 4350.1h0M1776.8 4517.7h0M1766.8 4288.5h0M1725.8 4468.2h0M1729.3 4349.4h0M1677.7 4449h0M1746.3 4325.6h0M1778 4534.2h0M1813.6 4492.7h0M1613.8 4427h0M1585.2 4472.6h0M1759.8 4295.9h0M1743.8 4379.4h0M1826 4491.3h0" stroke="#fed480"/><path d="M1771.9 4340.4h0M1777.8 4500.9h0M1771.1 4345.4h0M1768.3 4236h0M1767.2 4230.1h0M1631.4 4376.4h0M1784.6 4242.2h0M1773.6 4281.5h0M1785.9 4254.2h0M1734.3 4454.7h0M1730.6 4348.5h0M1735.9 4442.9h0M1796.3 4498.8h0M1580.7 4460.2h0M1729.8 4420.5h0M1784.4 4530.7h0M1622.1 4399.4h0M1783 4307.6h0M1729.7 4439.7h0M1744 4466.4h0M1792 4488.7h0M1776.3 4563h0M1789.1 4234.9h0M1741.3 4308.5h0M1795.3 4280.9h0M1781.6 4284.6h0M1781.1 4511.7h0M1792.6 4261.9h0M1780.6 4283.5h0M1824.8 4482.4h0M1775.9 4509.6h0M1673.4 4421.2h0M1774.6 4509.8h0M1781.8 4273.5h0" stroke="#fdbf6f"/><path d="M1760.8 4357.1h0M1791.6 4282.9h0M1633.2 4497.1h0M1798 4514.2h0M1664.4 4433.2h0M1794.9 4262h0M1723.8 4429.3h0M1815.9 4483.6h0M1759.5 4417.3h0M1752.8 4492.4h0M1704.1 4473.9h0M1777.2 4277.9h0M1785 4270.5h0M1786.6 4501.1h0M1756.5 4338.6h0M1786.8 4533.5h0M1760.9 4300.6h0M1762.2 4316h0M1799.9 4541.5h0M1754.6 4341.6h0M1785.8 4293.6h0M1778.6 4304.9h0M1775.4 4494.9h0M1789.2 4326h0" stroke="#fca95e"/><path d="M1784 4240.5h0M1790.2 4557.2h0M1777.9 4302.6h0M1765.2 4316.4h0M1621.5 4475.3h0M1792.4 4471.6h0M1769.7 4493.8h0M1809.4 4517.3h0M1742 4504.9h0M1782.3 4293h0M1795 4271.8h0M1798.2 4509.6h0M1758.8 4334.8h0M1725.8 4452.5h0M1802.1 4536.8h0" stroke="#f88e52"/><path d="M1782.2 4531h0M1654.1 4367.7h0M1784.5 4288.7h0M1780 4254.9h0M1819.7 4514.9h0M1766.6 4477.7h0M1776.5 4278.6h0M1730.8 4433.6h0M1771.8 4305.2h0M1772.6 4292.2h0M1766.3 4290.8h0M1778.9 4267.5h0M1771.7 4321.1h0M1769.9 4473.7h0" stroke="#f57246"/><path d="M1764.1 4334.7h0M1788.5 4551.7h0M1808.3 4530.5h0M1777.3 4294.1h0M1770.6 4534.7h0M1790.4 4494.4h0M1769.8 4258.6h0M1769.5 4321.7h0M1778.6 4276.2h0" stroke="#ea5d47"/><path d="M1798 4310.6h0M1784.4 4253.5h0" stroke="#dd4a4c"/><path d="M1638.1 4476h0M1779 4246.2h0M1705.6 4462.6h0M1599.2 4510.2h0M1756 4491.9h0M1753.5 4487.7h0M1729.5 4413h0M1617.7 4449.6h0M1590 4461.3h0M1742.8 4465.9h0M1603.8 4481.4h0M1746 4345.4h0M1577.8 4521h0M1696.8 4489.7h0M1637.3 4339.6h0M1743.6 4436.1h0M1748.2 4396.3h0M1729.4 4411.8h0M1626.2 4393.1h0M1559.1 4461.5h0M1771.5 4369h0M1604.8 4498.6h0M1603.9 4479.3h0M1717 4497.9h0M1767.8 4345.9h0M1631 4485.6h0M1621.1 4391h0M1721.6 4408.8h0M1744.9 4503.2h0M1706 4476.1h0M1623.8 4490.6h0M1746.6 4350.2h0M1799.7 4515.1h0M1629.1 4512.6h0M1764.5 4398h0M1758.2 4471.2h0" stroke="#cc344d"/><path d="M1769.9 4272.9h0" stroke="#9e0142"/></g>
<defs><linearGradient id="g19" x1="0" y1="1" x2="0" y2="0"><stop offset="0%" stop-color="#5e4fa2"/><stop offset="10%" stop-color="#3288bd"/><stop offset="20%" stop-color="#66c2a5"/><stop offset="30%" stop-color="#abdda4"/><stop offset="40%" stop-color="#e6f598"/><stop offset="50%" stop-color="#ffffbf"/><stop offset="60%" stop-color="#fee08b"/><stop offset="70%" stop-color="#fdae61"/><stop offset="80%" stop-color="#f46d43"/><stop offset="90%" stop-color="#d53e4f"/><stop offset="100%" stop-color="#9e0142"/></linearGradient></defs>
<rect x="1884.1" y="4482.5" width="33.8" height="80.2" fill="url(#g19)"/>
<text x="1918.9" y="4489.7" font-size="30.5">0.8</text>
<text x="1919.2" y="4568.2" font-size="30.5">0</text>
<text x="2131.5" y="4212.6" font-size="43.3" font-style="italic" textLength="132.5" lengthAdjust="spacingAndGlyphs">ca12.L</text>
<g fill="none" stroke-width="6.1" stroke-linecap="round" stroke-opacity="0.85"><path d="M2121.9 4508.4h0M2118.1 4472.7h0M2122.9 4478.2h0M2106.9 4419.6h0M2049.7 4438.4h0M2016.6 4473h0M2106.6 4448h0M2071.7 4478.4h0M2111.5 4480.3h0M2078.4 4467.6h0M2060.4 4499.2h0M2069.4 4471.4h0M2099.9 4427h0M2107.9 4463.2h0M2121.4 4500.8h0M2085.7 4478.7h0M2088.7 4475.6h0M2074.7 4453h0M2096.1 4444h0M2078.5 4469.5h0" stroke="#5e4fa2"/><path d="M2084.7 4482.2h0M2042 4527.9h0M2100.5 4499.9h0M2046.5 4513.1h0M2077.2 4446.2h0M2121.7 4506.9h0M2025.4 4478.3h0M2057.5 4501.1h0M2111.7 4491.8h0M2027.3 4470.9h0M2069.7 4507.3h0M2076.3 4485.7h0M2083.5 4459h0M2151.5 4446.7h0M2070.7 4528.6h0M2084.7 4461.3h0M2024.6 4470.1h0M2120.9 4461.5h0M2093.1 4496.6h0M2068.6 4464.1h0M2048.2 4507.7h0M2125 4487.4h0M2081.9 4442.4h0M2077.8 4454.4h0M2085.7 4484.2h0M2102 4491.9h0M2084.8 4452.3h0M2080.8 4473.1h0M2052 4506.2h0M2108.6 4461.5h0M2097.3 4509.2h0" stroke="#4c67ad"/><path d="M2070.2 4443.3h0M2063.1 4479.2h0M2088 4444.9h0M2092.2 4425.7h0M2075.6 4449.5h0M2056.7 4530h0M2113.7 4496.6h0M2081.5 4497.2h0M2099.2 4473.1h0M2101.2 4462.1h0M2066.4 4483.7h0M2063.8 4521.4h0M2031.1 4476.6h0M2084.3 4492.1h0M2060.2 4495.7h0M2092 4475.6h0M2091.1 4481.4h0M2080.2 4485.2h0M2072.7 4434h0M2064.8 4512.3h0M2064.1 4447.7h0M2073.7 4503.3h0M2048.3 4505.1h0M2067.6 4463.7h0M2072 4473h0M2063.7 4513.9h0M2095.5 4443.6h0M2076.5 4446.8h0M2110.4 4498.7h0M2093.3 4455.9h0M2088.7 4464.3h0M2070.4 4503.4h0M2075.6 4477.9h0M2057.5 4501h0M2107.7 4442.4h0M2123.4 4439h0M2106.6 4460.5h0M2102.1 4484.7h0M2055.4 4466.1h0M2098.7 4440.5h0M2165.9 4481.3h0M2086.6 4477h0M2068.9 4452.8h0M2094.1 4465.3h0M2167.2 4356.6h0M2138.9 4447.6h0M2096.1 4451h0M2041 4468.3h0M2077.5 4509.8h0M2076.2 4460.3h0M2085.9 4448h0M2092.6 4424.3h0M2071.6 4450.3h0M2084.4 4497.6h0M2091.5 4450.7h0M2120.1 4467.3h0M2079.7 4468.5h0M2058.2 4438h0M2128 4467.3h0M2053.5 4455.6h0M2053.8 4469.7h0M2095 4453.8h0M2046.1 4457.3h0M2074 4464.3h0M2143.1 4448.7h0M2072.2 4464.9h0M2067.1 4519.5h0M2071.8 4446h0M2035.4 4495.4h0M2076.4 4456.2h0" stroke="#397eb8"/><path d="M2058.4 4518.8h0M2106.3 4473.1h0M2052.9 4454.6h0M2103.2 4445.7h0M2108.7 4453.9h0M2226.4 4468.7h0M2083.5 4489.1h0M2100.5 4453.2h0M2094.7 4473h0M2103.9 4492.5h0M2139.9 4483.4h0M2125.5 4458.2h0M2099.7 4483.4h0M2031.1 4491h0M2076.5 4470.3h0M2030.8 4482.6h0M2060.8 4506.7h0M2111 4462h0M2042.2 4506.5h0M2087.1 4476.7h0M2160.7 4444.1h0M2074.2 4449.5h0M2067.1 4506.9h0M2090.4 4482.7h0M2060.9 4485h0M2087.4 4478.6h0M2058.6 4466.1h0M2069.1 4493.2h0M2190.8 4452.6h0M2114.1 4462.8h0M2182 4475.1h0M2205.8 4439.9h0M2142.7 4472.4h0M2057.2 4489.9h0M2068.8 4449.8h0M2108.7 4453.2h0M2062.5 4491.1h0M2128.3 4515.4h0M2073.4 4479.8h0M2172.8 4462.5h0M2157.7 4492.3h0M2081.3 4443.7h0M2159.3 4440h0M2123.6 4489.2h0M2061 4444.3h0M2169.1 4357.1h0M2083.5 4485.6h0M2095 4456.7h0M2150.4 4451.9h0M2102.2 4473.5h0M2090.1 4468.6h0M2100.9 4450h0M2103.3 4511.9h0M2060.3 4500.3h0M2097.6 4480.5h0M2106.2 4480.6h0M2080.8 4466.1h0M2071.3 4454.8h0M2042.7 4455.4h0M2060.5 4510.3h0M2080.2 4463.1h0M2082.3 4479.9h0M2099 4506.2h0M2098.1 4443.2h0M2066.2 4456.6h0M2107.7 4523.2h0M2078.3 4444h0M2058.6 4477h0M2036.8 4508.7h0M2065.2 4432.7h0M2092.6 4464.4h0M2102.2 4500.1h0M2078.1 4496.2h0M2094.3 4463.5h0M2141.9 4367.5h0M2120.1 4474.1h0M2076.3 4485.8h0M2083.4 4440.3h0M2132.1 4472.4h0M2216.3 4475.6h0M2072.8 4495.4h0M2079.5 4424.7h0M2072.4 4483.6h0M2080.1 4493.6h0M2096.5 4482.2h0M2073.2 4448.5h0M2096.2 4416.1h0M2076.3 4492.6h0M2092.8 4471.7h0M2115.3 4509.7h0M2096.6 4459.1h0M2135.2 4479.9h0M2100.4 4450.8h0M2066.4 4527.5h0M2057.9 4501.4h0M2161.1 4466.2h0M2091 4415.8h0M2095 4480h0M2139.2 4467.6h0M2104.2 4447.3h0M2107.2 4461.3h0M2112.3 4458h0M2102 4510.9h0M2135.9 4511.3h0M2202.2 4477.4h0M2161 4447.8h0M2116.2 4514.8h0M2063.3 4467.7h0M2081.9 4456.7h0M2039.9 4486.3h0M2193.3 4456.9h0M2098.4 4475.7h0M2141.2 4435.1h0M2080.1 4477.7h0M2089.1 4463.1h0M2078 4478.9h0M2087 4456.1h0M2117.6 4435.5h0M2077.9 4481.2h0" stroke="#3f96b7"/><path d="M2041.8 4503.6h0M2190.5 4454.2h0M2098.7 4440.6h0M2042.7 4524.6h0M2162 4481h0M2171.1 4483.2h0M2133 4485.6h0M2036.6 4468.7h0M2131.1 4458.3h0M2139.9 4489.2h0M2064.5 4440.3h0M2061.2 4430.9h0M2088.3 4476.6h0M2115.3 4447.1h0M2082.8 4482.3h0M2065 4474.8h0M2211.5 4460.7h0M2086.7 4473.8h0M2104.6 4500.5h0M2232.1 4457.7h0M2098.8 4446.7h0M2134 4478.1h0M2183.7 4483.8h0M2036.8 4509.9h0M2111.7 4424.5h0M2199.2 4482h0M2139.8 4482.4h0M2175.5 4475.5h0M2140.6 4453h0M2073.3 4468.3h0M2133 4448.2h0M2085.7 4447h0M2130.4 4444.4h0M2161 4478.9h0M2064.9 4510.2h0M2160.5 4467.7h0M2093.7 4492.2h0M2037 4516.4h0M2098.7 4503.5h0M2059.4 4450.3h0M2179.6 4479.2h0M2125 4487.1h0M2101.8 4460.6h0M2199.3 4486h0M2092.5 4518.5h0M2090.4 4453.9h0M2072.3 4476.5h0M2199.3 4497.7h0M2094.6 4455.6h0M2153 4489.9h0M2209.4 4455.5h0M2128 4471.3h0M2080.6 4457.4h0M2087.5 4464.9h0M2112.3 4483h0M2042.6 4473.4h0M2215.9 4449.1h0M2074 4498h0M2148.1 4448h0M2071 4482.5h0M2174.9 4465.7h0M2052.1 4517.6h0M2078 4453.3h0M2131.2 4460.3h0M2124.2 4477h0M2109.7 4443.5h0M2039.8 4464.9h0M2090.2 4466.2h0M2063.3 4500.6h0M2087.9 4472.9h0M2185.6 4495.6h0M2083.5 4455.8h0M2123.6 4458.1h0M2047.4 4526.6h0M2196.2 4470.2h0M2064.1 4472h0M2081.2 4492.9h0M2159.2 4447.3h0M2098.2 4465.8h0M2174.7 4473.2h0M2091.9 4487.5h0M2081 4409.1h0M2091.2 4497h0M2075.4 4479.7h0M2086.6 4462.2h0M2182.2 4337.8h0M2083.4 4523.6h0M2122.6 4458.4h0M2089.2 4467.7h0M2062.3 4516h0M2219.1 4468.5h0M2061.7 4503.2h0M2092 4478.9h0M2069.4 4457.8h0M2100.1 4453.5h0M2118.1 4415.2h0M2084.4 4435.2h0M2085.5 4449.8h0M2125.3 4462h0M2069.9 4513.2h0M2056.1 4430h0M2051.8 4521.9h0M2062.6 4480.8h0M2204.5 4496.6h0M2108.4 4495.2h0M2227.2 4468.4h0M2132 4439.6h0" stroke="#55afad"/><path d="M2151 4349h0M2140.4 4447.7h0M2169.8 4493h0M2127.3 4507.5h0M2121.1 4467.1h0M2128.8 4493.1h0M2209.5 4446.3h0M2173.1 4442.7h0M2105.4 4472.9h0M2145.9 4460.6h0M2066 4455.9h0M2091.1 4485.6h0M2136 4415.3h0M2140.6 4468.2h0M2150.4 4441.7h0M2142.3 4452.9h0M2058 4460.5h0M2038.1 4492.6h0M2080.7 4451.5h0M2131.5 4431.5h0M2155.2 4412.3h0M2170.3 4473h0M2173 4457.4h0M2197.2 4424.2h0M2065.5 4454.2h0M2146.8 4397.5h0M2255.7 4522.3h0M2107.3 4479.6h0M2124 4493.3h0M2118.4 4497.8h0M2081.3 4462.3h0M2072.2 4442.2h0M2057.8 4458.6h0M2043.1 4474.2h0M2103 4487.9h0M2037.9 4512.9h0M2181.6 4367.6h0M2163.4 4465.5h0M2164.8 4477.8h0M2087.7 4501.5h0M2108.6 4362.2h0M2091.8 4423.7h0M2178.7 4473.5h0M2171.7 4346.8h0M2045.6 4517.5h0M2225.9 4472.6h0M2086.8 4456.6h0M2201.4 4457.8h0M2061 4496.8h0M2096.7 4416.1h0M2147.2 4488.8h0M2104.5 4378.3h0M2127.2 4486.1h0M2212.1 4493.2h0M2072.3 4486.9h0M2094.9 4476.5h0M2102.7 4398.8h0M2144.1 4451.9h0M2107 4441.7h0M2170.3 4456.8h0M2172.4 4465.2h0M2134.4 4492.2h0M2067.9 4470.8h0M2180.2 4472.3h0M2212.6 4484.8h0M2274.5 4494.6h0M2178.7 4474.6h0M2217.9 4506.9h0M2156.7 4451.8h0M2192.6 4430.3h0M2088.9 4483.1h0M2129.6 4485.6h0M2026.7 4458.8h0M2071.9 4476.4h0M2166.9 4468h0M2193.4 4462.8h0M2178.1 4472.8h0M2191.2 4462.2h0M2101.5 4477.3h0M2072.6 4458.4h0M2164.4 4484.1h0M2182.7 4476.7h0M2233.4 4484h0M2217.7 4463.3h0M2186.3 4453.5h0M2099.1 4482.6h0M2187.1 4496.5h0M2102.2 4475.4h0M2058.4 4508h0M2086.2 4452.1h0M2187.2 4490.7h0M2142.2 4442.2h0M2075 4501.1h0M2113 4461.4h0M2111.7 4420.6h0M2209.7 4490.8h0M2199.5 4465h0M2066.3 4468.8h0M2167.3 4365.3h0M2067.4 4496.1h0M2057.4 4501.1h0M2135.1 4458.9h0M2231.5 4472.3h0M2090.2 4432.9h0M2138.4 4377.9h0M2186.7 4462.2h0M2158.6 4353.2h0M2108.9 4400h0M2150.9 4501.2h0M2190.5 4464.6h0M2127.1 4489.7h0M2030.6 4481.9h0M2150.3 4489h0M2064.8 4497.3h0M2180.6 4495.1h0M2145.8 4465.3h0M2068 4452.5h0M2150.8 4475h0M2140.7 4366.4h0M2060.4 4454.6h0M2102.4 4448.4h0M2093 4486h0M2061.7 4459.8h0M2131.4 4507.2h0M2029.4 4453.1h0M2133.9 4470.2h0M2208.5 4450.7h0M2162.6 4468.5h0" stroke="#6cc4a5"/><path d="M2161.3 4433h0M2085.5 4452.6h0M2140.5 4500.7h0M2095.5 4338.8h0M2065.7 4440.4h0M2225.9 4481h0M2171.9 4460.4h0M2107.2 4328.8h0M2153.6 4359.9h0M2096.5 4446h0M2179.4 4449.5h0M2076.6 4408.5h0M2239.8 4466.1h0M2141.6 4462.2h0M2125.8 4461.1h0M2130.3 4488.4h0M2172.2 4487.1h0M2061.5 4445.7h0M2111.9 4482h0M2159.9 4469.8h0M2122.7 4449.6h0M2113.1 4496.3h0M2244.5 4502.2h0M2134.6 4428.5h0M2190.2 4481.3h0M2114 4336.5h0M2195.4 4447.5h0M2185 4488.7h0M2143 4466h0M2193.8 4474.6h0M2078.6 4415.8h0M2198.1 4462.2h0M2111.7 4389.1h0M2185.8 4441h0M2102.2 4433.8h0M2190 4500.3h0M2141 4502.2h0M2080 4445.1h0M2200.5 4452.9h0M2093.1 4463.9h0M2168.9 4487.2h0M2162.4 4440.4h0M2184 4437.8h0M2130.9 4456.8h0M2131.8 4427.6h0M2164.1 4441.5h0M2154.3 4464.5h0M2198.4 4500.7h0M2146.3 4485.6h0M2221.3 4464.3h0M2252.5 4480.8h0M2158.9 4510.7h0M2182.1 4462.4h0M2169.2 4441.1h0M2151.7 4444.5h0M2208.6 4476.7h0M2028.5 4476.3h0M2151.4 4468.1h0M2109.9 4353.6h0M2051.4 4441.2h0M2215.2 4457.9h0M2117.4 4475.9h0M2192.5 4464.3h0M2058.4 4485.8h0M2159.9 4467.2h0M2293.7 4500.7h0M2195.3 4494.3h0M2136.2 4463h0M2115.3 4502.5h0M2210.4 4509.7h0M2204.5 4502.7h0M2239.9 4542.1h0M2070.5 4481.6h0M2155.3 4469h0M2147.8 4480.9h0M2145.1 4458.7h0M2108.1 4338.9h0M2129.1 4480.8h0M2157.5 4498.1h0M2190.6 4356.5h0M2246.9 4542h0M2139.3 4363.6h0M2170.7 4420.6h0M2218.8 4466h0M2172.1 4461.3h0M2186.7 4481.7h0M2150.7 4479.8h0M2148 4479.4h0M2158.3 4431.3h0M2182.3 4458.2h0M2150.7 4470.1h0M2204 4456.4h0M2053 4469.7h0M2237.3 4494h0M2066.3 4422.2h0M2141.7 4461h0M2073.8 4457.8h0M2118.3 4429.6h0M2148.8 4435.6h0" stroke="#88d0a4"/><path d="M2060.9 4405.8h0M2102.8 4431.1h0M2207 4466.8h0M2095.6 4416.2h0M2186.1 4487.3h0M2196.5 4483.1h0M2101.4 4493.9h0M2218.8 4479.4h0M2207.9 4457.1h0M2172.8 4492.6h0M2247.2 4477.7h0M2217.2 4484.2h0M2120 4431.7h0M2253 4502h0M2175.2 4466.2h0M2198.5 4505h0M2209.8 4484.6h0M2234.4 4482.5h0M2184.8 4465.1h0M2204.9 4468.4h0M2125.5 4424.4h0M2267.2 4518.2h0M2192.4 4452.9h0M2286.9 4549.4h0M2088.5 4392.5h0M2269 4479.7h0M2280 4509.8h0M2156.9 4453h0M2183.7 4464.7h0M2162.8 4441.1h0M2188.1 4487.9h0M2211.7 4463.1h0M2112.5 4334.4h0M2048.5 4457.5h0M2190.8 4451.5h0M2096.4 4436.6h0M2205.5 4465.5h0M2127.5 4371h0M2081.3 4396.8h0M2199 4447.7h0M2129.8 4405.8h0M2055.5 4514.3h0M2202 4435.9h0M2202.4 4477.2h0M2165.4 4486.6h0M2203 4470.5h0M2253.2 4558.6h0M2217.3 4426.7h0M2171.6 4462.4h0M2202 4470.5h0M2077 4401.8h0M2110.3 4362.3h0M2193.9 4479h0M2088 4403.9h0M2122.6 4348.4h0M2125.3 4467.2h0M2184 4442.8h0M2178.3 4449.3h0M2168.4 4464.1h0M2256.5 4496.6h0M2114.2 4372h0M2202.9 4355.2h0M2112.6 4353.7h0M2094.3 4362.2h0M2107.8 4382.3h0M2188.7 4452.9h0M2100.7 4420.1h0M2127.9 4379.7h0M2178.1 4456h0M2296.8 4503.9h0M2108.4 4465.8h0M2182.9 4472.9h0M2258.1 4480h0M2115.8 4360.6h0M2101.3 4413.5h0M2099.4 4415.7h0M2161.1 4455.8h0M2097.1 4361.3h0M2082 4414.6h0M2186.2 4499.9h0M2226.5 4471.6h0M2287.5 4533.5h0M2069.8 4399.5h0M2093.9 4339.4h0M2141.6 4492.1h0M2122.2 4331.4h0M2225.1 4442.5h0M2178.2 4469.6h0M2249 4509.1h0M2079 4417.8h0M2103.6 4386.6h0M2270.9 4519.4h0M2193.7 4446.5h0M2247.2 4551.4h0M2226.6 4464.2h0M2277.4 4527h0M2081.8 4424.6h0M2059.1 4407.9h0M2118.8 4340.3h0M2072.9 4412.7h0M2256.4 4519.7h0M2143.6 4378.5h0" stroke="#a5dba4"/><path d="M2124.8 4346.9h0M2167.4 4482.2h0M2168.2 4472h0M2267.5 4497.3h0M2242.4 4488h0M2265.7 4511.7h0M2202.9 4465.9h0M2253 4541.2h0M2135.7 4468.8h0M2291.7 4477.2h0M2132.8 4430.8h0M2085.1 4335h0M2116 4372.9h0M2174.3 4459.8h0M2089.6 4472.4h0M2262.4 4522.8h0M2225 4488.8h0M2158.1 4483.5h0M2254.2 4547.2h0M2222.5 4484.7h0M2254.7 4494.3h0M2113.4 4357.1h0M2123.7 4346.1h0M2223.2 4464h0M2205.2 4379.6h0M2150.6 4474.1h0M2245.8 4402.1h0M2234.5 4476.2h0M2108.2 4378.5h0M2123.4 4341.7h0M2190.3 4467.1h0M2181.6 4449.5h0M2225.9 4481.3h0M2118.8 4370h0M2128.4 4346.3h0M2098.4 4331.3h0M2103.5 4427.2h0M2181.8 4419.4h0M2106.7 4408.1h0M2105.5 4338.3h0M2178.7 4494.6h0M2258.1 4506.9h0M2265.1 4466.7h0M2105.7 4360.1h0M2180.1 4485.4h0M2211.9 4508.5h0M2230.1 4501.7h0M2217.2 4394.3h0M2116.1 4370.5h0M2234.2 4513h0M2252.9 4352.9h0M2253.1 4542.4h0M2071.4 4420.2h0M2222.7 4343.6h0M2118.3 4385.3h0M2170.1 4466.9h0M2202.2 4393.5h0M2103.1 4394.7h0M2189.2 4468.1h0M2194.8 4464.5h0M2219.1 4463.3h0M2150.2 4450.4h0M2174.7 4449.7h0M2185.8 4494.7h0M2080.8 4408.7h0M2141.9 4474.5h0M2258 4526.9h0M2080.1 4406.6h0M2206.4 4464.6h0M2160.9 4488.9h0M2087.4 4402.7h0M2155.3 4433.8h0M2089.2 4389.1h0M2229.3 4329.8h0M2248 4504.7h0M2249.8 4520.1h0M2216.6 4454.4h0M2124.8 4361.3h0M2176.8 4471.9h0M2086 4408.7h0M2185.7 4447.1h0M2249.8 4516.3h0M2081.8 4427h0M2146.2 4446.4h0M2105.4 4389h0M2106.5 4380.3h0M2180.5 4481.7h0M2136.3 4356.9h0M2133.9 4360.2h0M2240.8 4500.6h0M2072.7 4402.6h0M2185.3 4467.1h0M2270.8 4513h0M2159.8 4483.3h0M2190.9 4439.9h0M2216.4 4479.9h0M2227.6 4343.2h0M2111.4 4406.8h0M2182.6 4482.2h0M2111.5 4368.1h0M2250.1 4541.5h0" stroke="#bfe5a0"/><path d="M2111.8 4354.6h0M2099.9 4334.3h0M2219.5 4379.4h0M2197.9 4419.5h0M2253.8 4351.2h0M2101.8 4371h0M2264.3 4487.5h0M2098.2 4395.7h0M2129.1 4340.1h0M2217 4467.3h0M2211.3 4400.6h0M2265.4 4546.5h0M2107.7 4373.7h0M2260.5 4528.6h0M2258.4 4556.3h0M2218.8 4410.4h0M2118.7 4414.5h0M2191.1 4348.2h0M2223.7 4496.1h0M2231.5 4490.6h0M2193.5 4453.8h0M2189.2 4410.4h0M2258.8 4528.7h0M2259.8 4545.3h0M2203.2 4452.1h0M2256.1 4537.7h0M2095.1 4425.1h0M2097.9 4400h0M2120.8 4390.3h0M2204.8 4440.4h0M2239.6 4544.4h0M2251.8 4539.2h0M2079.3 4368.8h0M2251.8 4486.1h0M2108.8 4409.3h0M2047.9 4414.5h0M2253.5 4507.6h0M2127.1 4373.6h0M2231 4347h0M2120.1 4356.2h0M2107 4338.1h0M2245.5 4372.4h0M2239.8 4368h0M2286.5 4496.4h0M2083.2 4413.7h0M2273.7 4491.4h0M2182.1 4370.7h0M2270.5 4511.7h0M2242.8 4522h0M2261.2 4531.7h0M2215.8 4395.3h0M2222.9 4405.1h0M2125.1 4366.6h0M2212.9 4463.7h0M2208.2 4392.1h0M2269.7 4518.6h0M2265.5 4502.4h0M2259.9 4490.9h0M2211.2 4436h0M2212.5 4433.6h0M2279.7 4524.4h0M2196.5 4454.6h0M2217.8 4471.6h0M2071.3 4408.3h0M2272.8 4498.4h0M2240.4 4504.5h0M2082.5 4388h0M2248.1 4472.2h0M2240.6 4367.4h0M2248.9 4534.6h0M2117.7 4369.3h0M2249 4533.5h0M2213.5 4476.9h0M2280.2 4510.6h0M2274.6 4540.1h0M2202.7 4379.6h0M2107.5 4364.3h0M2102 4368.7h0M2266.1 4525.8h0M2176.6 4423.4h0M2245.4 4527.5h0M2277.8 4551.9h0M2190.4 4406.7h0M2217.9 4475.5h0M2278.5 4486.3h0M2266.4 4515.7h0M2271.1 4542.1h0M2191.7 4314.8h0M2247.9 4480.3h0M2213.9 4500h0M2251.8 4536h0M2131.2 4392.1h0M2219.8 4402.4h0M2047.3 4420.3h0M2194.6 4465.4h0M2215.1 4332.3h0M2265.1 4526.7h0M2266.2 4471.3h0M2260.4 4508.2h0M2100.4 4361.3h0M2235.7 4348.9h0M2239.8 4520.1h0M2105.9 4343.8h0M2112.8 4361.6h0M2100 4364.5h0M2238.3 4504.6h0M2244.1 4488.2h0M2130.4 4358.8h0M2271.1 4516h0M2278.9 4480.1h0M2208.2 4408.1h0M2110.3 4337.9h0" stroke="#d7ef9b"/><path d="M2249.8 4511.3h0M2257.9 4484.7h0M2247.2 4539.5h0M2243.4 4478.3h0M2246.4 4360.2h0M2257.7 4532.6h0M2240.7 4484.1h0M2282.3 4516.9h0M2268.6 4356.2h0M2235.3 4470.9h0M2111.6 4370.7h0M2087.8 4408.1h0M2285.9 4501.1h0M2247.7 4376h0M2265.3 4518.4h0M2216.3 4451.8h0M2231.1 4486.3h0M2249.6 4505.2h0M2276.6 4509.9h0M2256.5 4508.1h0M2112 4396.2h0M2207.8 4397.9h0M2215.7 4450.8h0M2268.8 4509.4h0M2186.3 4381.9h0M2215 4344.1h0M2277.3 4501.7h0M2094.5 4428.2h0M2102.2 4341.6h0M2261.2 4530.7h0M2257 4533.1h0M2186.1 4438.2h0M2269.7 4484.4h0M2291.8 4491.8h0M2073.3 4425.5h0M2274.4 4539.1h0M2260.7 4490h0M2267.7 4527.7h0M2203.9 4454.3h0M2233.7 4431.3h0M2127.5 4378.3h0M2257.7 4556.2h0M2172.7 4471h0M2263.9 4530.8h0M2228.1 4406.3h0M2097.8 4404.3h0M2236.4 4368h0M2274.5 4520.5h0M2198 4453.3h0M2119.6 4391.8h0M2253.6 4509.8h0M2237.3 4516.2h0M2235.7 4474.8h0M2222.7 4360.3h0M2226.7 4371.3h0M2201.4 4418.8h0M2223.7 4513.5h0M2239.7 4479.1h0M2251.4 4486.6h0M2236.4 4464.3h0M2209.7 4490.2h0M2186.1 4408.6h0M2197.7 4384.8h0M2261.4 4536.4h0M2223.7 4479.1h0M2096.7 4344.7h0M2079.3 4401h0M2218.2 4330.3h0M2242.8 4524.7h0M2180.7 4413.5h0M2266.9 4541h0M2246.7 4534.4h0M2278.4 4539.7h0M2266.8 4506.8h0M2236.9 4344.6h0M2099.1 4351h0M2281.7 4500.1h0M2125.7 4387.8h0M2238.5 4486.3h0M2274.5 4501.1h0M2236.7 4397.8h0M2207 4350.4h0M2258.2 4526h0M2194.6 4449.8h0M2107.1 4392.2h0M2289 4522.7h0M2261.8 4487.4h0M2229.7 4474.4h0M2229.7 4381.4h0M2294.8 4482.7h0M2088.6 4378.1h0M2245.7 4523.2h0M2141.8 4419h0M2118.4 4412.7h0M2227.8 4499.6h0M2195.3 4417.7h0M2273.5 4537.2h0M2260.3 4513.4h0M2258.4 4475.2h0M2197 4482.8h0M2128 4353.7h0M2228.6 4500h0" stroke="#eaf79e"/><path d="M2243.1 4318.9h0M2254 4500.9h0M2284.3 4508.7h0M2241.2 4398.2h0M2281.8 4531.8h0M2200.3 4386.6h0M2198.9 4418.4h0M2247 4497.7h0M2195.7 4374.7h0M2241 4483h0M2258.5 4498.8h0M2268.3 4521.5h0M2219.7 4341h0M2203.9 4332h0M2189.3 4453.3h0M2099.6 4374.7h0M2292.3 4529.3h0M2246.4 4485.1h0M2246.3 4514.1h0M2201.1 4324.8h0M2095.5 4380.5h0M2196.1 4369.9h0M2188 4455.9h0M2265.6 4495.6h0M2200 4318.6h0M2224.9 4409.7h0M2178.3 4369.6h0M2260.5 4542.8h0M2209.2 4421.7h0M2229.8 4327.3h0M2172.8 4385.3h0M2263 4498.3h0M2236.6 4500.2h0M2239 4401.7h0M2222.2 4373.8h0M2253.8 4511.7h0M2271.3 4534.7h0M2253.6 4527.1h0M2243.8 4333.6h0M2197.8 4375.9h0M2264 4468.1h0M2090.2 4397.4h0M2230.2 4475h0M2248.5 4484.6h0M2290.2 4540.6h0M2234.1 4547.5h0M2234.8 4352.1h0M2192.3 4448h0M2273.9 4505.2h0M2231.3 4350.5h0M2255.6 4543.3h0M2228.8 4418.7h0M2244.5 4392.7h0M2183.6 4451h0M2240.5 4342.6h0M2229 4493.7h0M2094.3 4391.2h0M2246.8 4501.2h0M2259.2 4549.4h0M2261.2 4485.7h0M2229.3 4332.3h0M2239.1 4386h0M2255.7 4513.1h0M2196.3 4424.2h0M2277.4 4494.4h0M2182 4396.3h0M2212 4334.7h0M2266.8 4533.2h0M2202.8 4324.9h0M2197.7 4399.6h0M2205.1 4338h0M2259.3 4345.5h0M2234 4496.4h0M2100.4 4348.7h0M2245.9 4514.3h0M2192.1 4422h0M2216.8 4395.9h0M2194.4 4370.8h0M2213.5 4448.6h0M2213.5 4324h0M2216.2 4412.9h0M2204 4399.1h0M2255.9 4312.3h0M2203.6 4363h0M2247.2 4530.6h0M2206.5 4411.4h0M2192.4 4332.9h0M2268.5 4348.4h0M2241.2 4511h0M2174 4416.3h0M2283 4489.6h0M2246.3 4366.8h0M2243.8 4506.5h0M2188.9 4444.6h0M2265.8 4491.4h0M2213.2 4376.6h0M2219.4 4374.7h0M2295.5 4488.2h0M2268.1 4539.9h0M2210.2 4387.3h0" stroke="#f5fbaf"/><path d="M2267.3 4510.9h0M2237.4 4341.1h0M2207.6 4380.7h0M2210 4369.6h0M2170.6 4417.2h0M2259.5 4553.3h0M2206.9 4406.7h0M2211.8 4341.7h0M2261.7 4468.7h0M2285.4 4480.6h0M2238.8 4490.7h0M2201.2 4402h0M2223 4403.5h0M2238.6 4374.2h0M2213.6 4312.6h0M2214.2 4339.8h0M2205.9 4319.6h0M2237.3 4344.1h0M2240.3 4301.2h0M2218.7 4375.6h0M2221.8 4489.3h0M2255.8 4497.9h0M2210.6 4382.9h0M2223 4343.7h0M2267.5 4506.3h0M2212.6 4435.4h0M2207 4353.8h0M2256 4529.9h0M2213.4 4377.3h0M2245.5 4559.1h0M2212.6 4425.6h0M2210.1 4429h0M2269.2 4537.9h0M2210.3 4409.9h0M2195.8 4452.2h0M2250.3 4508.3h0M2226.1 4419.2h0M2217.8 4445.1h0M2181.5 4372.1h0M2211.7 4346.2h0M2294.3 4479.4h0M2233.4 4341.3h0M2245 4506.3h0M2233.6 4396h0M2246.5 4355.5h0M2244.6 4491.8h0M2188.2 4428.1h0M2206.1 4455.7h0M2212 4350.2h0M2188.3 4385.8h0M2271.4 4533.1h0" stroke="#ffffbf"/><path d="M2251.4 4527.5h0M2188.6 4380h0M2257.7 4547.9h0M2200.7 4444.6h0M2277.6 4527h0M2206 4377.3h0M2207.9 4445.7h0M2122.4 4366.1h0M2198.4 4410.9h0M2199.4 4347.1h0M2219.1 4350.8h0M2278.8 4513.9h0M2211 4501.7h0M2218.7 4371.8h0M2239.7 4531.1h0M2212.2 4429.2h0M2238.4 4344.5h0M2239.1 4431.4h0M2259.7 4491.3h0M2289.1 4511.5h0M2221.6 4390.6h0M2192.2 4440.5h0M2215.9 4405.6h0M2219.3 4348.8h0M2213.4 4377.5h0M2185.5 4452.7h0M2215.5 4348.8h0M2198.1 4348h0M2215.2 4324.4h0M2239 4470.8h0M2212.7 4377.7h0" stroke="#fff2a9"/><path d="M2241.1 4339.1h0M2229.8 4355.6h0M2240.2 4344h0M2234.3 4315.4h0M2192.6 4426.9h0M2198.7 4418.3h0M2228.5 4415.1h0M2198.6 4437.2h0M2198.2 4409.6h0M2225.5 4337.3h0M2269 4511.7h0M2223.6 4340.3h0" stroke="#fee594"/><path d="M2233.2 4333.5h0M2236.2 4335.2h0M2199.6 4431.2h0M2227.8 4333.6h0" stroke="#fed480"/><path d="M2265.9 4267.5h0M2255.6 4298.7h0M2251 4276.1h0M2239.4 4278.6h0" stroke="#fdbf6f"/><path d="M2246.1 4290.6h0M2278.4 4310.1h0M2236.1 4285.4h0M2231.7 4253.3h0M2274.1 4272.9h0M2235.1 4309.6h0M2269.2 4301.3h0" stroke="#fca95e"/><path d="M2234.9 4284.9h0M2234.4 4280.2h0M2225.2 4265.1h0M2270.1 4237.5h0M2244.6 4281.7h0M2219 4281h0M2242 4238.6h0M2253.9 4267.4h0M2253 4252.4h0M2214.6 4314.8h0M2261.5 4276.4h0M2253.9 4228.1h0M2236.9 4307.8h0M2254.4 4250.6h0M2246.7 4245.8h0M2223.4 4286.2h0M2240.2 4275.9h0M2258.2 4295.6h0" stroke="#f88e52"/><path d="M2222.6 4295.4h0M2249.5 4277.8h0M2240 4254.6h0M2236.9 4293.2h0M2231.1 4300.5h0M2233.3 4286.9h0M2262.5 4249.4h0M2259.8 4268.6h0M2238.5 4335h0M2265.4 4238.7h0M2230.4 4251.6h0M2265.7 4246.5h0M2243 4281.5h0M2252.7 4296.1h0M2234.7 4277.8h0M2278.2 4251h0M2229.8 4303.6h0M2234.9 4305.7h0M2258 4325.2h0M2240.8 4238.8h0M2237.3 4288.5h0M2250.4 4290.1h0M2224.5 4276h0M2262.4 4267.8h0M2234.3 4309h0M2246.4 4302h0M2259.2 4268h0M2255 4292.5h0M2264.5 4322.6h0" stroke="#f57246"/><path d="M2250.3 4251.4h0M2253 4299.6h0M2251.5 4313.6h0M2259 4325.6h0M2238.4 4308.6h0M2247 4275.9h0M2261.5 4288.3h0M2232.6 4297.8h0M2261.5 4256.5h0M2263.6 4247.7h0M2250.4 4307.9h0M2256.1 4269.7h0M2245.1 4307.6h0M2277.1 4242.7h0M2260.5 4305.7h0M2267.7 4281.4h0M2233.6 4321.3h0M2257.3 4266.8h0M2244.2 4276.7h0M2242 4309.5h0M2272.2 4242.3h0M2228.2 4261.5h0M2258.6 4284h0M2242.6 4295.2h0M2244.7 4315.3h0M2240.8 4279.9h0M2261.8 4261.2h0M2260.6 4262.4h0M2256.7 4326.2h0M2274.4 4274.6h0M2248.4 4272.4h0M2255.1 4315h0M2263.6 4271.6h0M2256.6 4257.6h0M2256.8 4248.8h0M2255.4 4302.5h0M2253.5 4239.3h0M2227 4265h0M2235.9 4287.9h0M2263.9 4249.9h0M2283.6 4234.1h0M2256.4 4304.5h0M2259.5 4292.2h0M2260.9 4263.9h0M2268.6 4242.9h0" stroke="#ea5d47"/><path d="M2260.9 4282.3h0M2262.3 4259.8h0M2237.4 4235.9h0M2236.3 4230.1h0M2264.2 4261.7h0M2253.8 4242.1h0M2242.7 4280.9h0M2255.1 4254h0M2247 4301.8h0M2252.2 4306.7h0M2246.4 4277.4h0M2254.3 4270.1h0M2229.9 4299.8h0M2231.3 4315h0M2258.4 4234.9h0M2210.2 4307.5h0M2264.6 4280.3h0M2250.8 4284h0M2261.9 4261.6h0M2249.8 4282.9h0M2255.1 4292.9h0M2251 4273h0M2247.8 4304.1h0M2228.9 4295.1h0M2258.5 4324.9h0" stroke="#dd4a4c"/><path d="M2253.2 4240.4h0M2247.1 4301.7h0M2253.8 4288.1h0M2251.6 4292.3h0M2264.3 4271.3h0M2249.2 4254.6h0M2245.7 4278.1h0M2241 4304.3h0M2241.7 4291.5h0M2235.4 4290.1h0M2248.1 4267.1h0M2240.9 4320.1h0" stroke="#cc344d"/><path d="M2248.2 4246.1h0M2267.4 4309.7h0M2246.5 4293.3h0M2239 4258.3h0M2253.6 4253.2h0M2238.6 4320.6h0M2247.8 4275.7h0" stroke="#b51a47"/><path d="M2239 4272.4h0" stroke="#9e0142"/></g>
<defs><linearGradient id="g20" x1="0" y1="1" x2="0" y2="0"><stop offset="0%" stop-color="#5e4fa2"/><stop offset="10%" stop-color="#3288bd"/><stop offset="20%" stop-color="#66c2a5"/><stop offset="30%" stop-color="#abdda4"/><stop offset="40%" stop-color="#e6f598"/><stop offset="50%" stop-color="#ffffbf"/><stop offset="60%" stop-color="#fee08b"/><stop offset="70%" stop-color="#fdae61"/><stop offset="80%" stop-color="#f46d43"/><stop offset="90%" stop-color="#d53e4f"/><stop offset="100%" stop-color="#9e0142"/></linearGradient></defs>
<rect x="2360.3" y="4482.5" width="33.9" height="80.2" fill="url(#g20)"/>
<text x="2395.2" y="4489.7" font-size="30.5">25</text>
<text x="2395.5" y="4568.2" font-size="30.5">0</text>
<text x="2592.5" y="4212.6" font-size="43.3" font-style="italic" textLength="107" lengthAdjust="spacingAndGlyphs">ca2.L</text>
<g fill="none" stroke-width="6.1" stroke-linecap="round" stroke-opacity="0.85"><path d="M2671.5 4485.6h0M2553.2 4464.5h0M2533.4 4466.3h0M2670.7 4446.4h0" stroke="#3f96b7"/><path d="M2513.4 4487.9h0M2517.4 4507.8h0M2680.4 4308.4h0" stroke="#55afad"/><path d="M2533.5 4478h0M2485.3 4496.9h0M2578.2 4431.3h0M2640.6 4468.6h0M2632.2 4457.5h0M2522.3 4483.9h0" stroke="#6cc4a5"/><path d="M2586.7 4451.6h0" stroke="#88d0a4"/><path d="M2582.1 4473h0M2635.2 4457.3h0M2531.1 4496.5h0M2679.9 4282.6h0M2524.7 4458.4h0M2631.4 4456.7h0" stroke="#a5dba4"/><path d="M2718.7 4541.9h0" stroke="#bfe5a0"/><path d="M2690 4506.7h0M2701 4526.9h0M2719.7 4499h0M2685.3 4546.9h0M2682.8 4498.4h0" stroke="#ffffbf"/><path d="M2692.7 4481.9h0M2698.4 4506.5h0M2685.3 4470.2h0M2680 4486.8h0M2712.4 4522.8h0M2732 4554.2h0M2714.2 4484h0M2698.5 4563.5h0M2697.9 4485.1h0M2701.8 4501h0M2738.7 4505.1h0M2741.8 4508.4h0M2703.5 4484.2h0M2692.3 4546.8h0M2732.5 4538.2h0M2694.4 4513.6h0M2716.1 4524h0M2692.6 4556.3h0M2722.6 4531.6h0M2701.7 4524.3h0" stroke="#fff2a9"/><path d="M2712.7 4501.7h0M2662.8 4488.5h0M2687.8 4492.3h0M2710.9 4516.3h0M2698.4 4546h0M2736.7 4481.4h0M2705.8 4533.3h0M2707.7 4527.5h0M2699.6 4552h0M2705.1 4550.2h0M2700.1 4498.6h0M2725.1 4514.3h0M2680 4480.4h0M2703.4 4511.4h0M2710.4 4470.9h0M2675.6 4506.1h0M2705.2 4495.2h0M2679.7 4517.6h0M2698.5 4547.2h0M2718 4502.8h0M2703.3 4531.5h0M2693.4 4509.2h0M2663.5 4479.7h0M2695.2 4524.7h0M2662.3 4458.4h0M2695.2 4520.9h0M2686.3 4505h0M2716 4517.5h0M2662 4484.1h0M2689.5 4492.5h0M2716.3 4520.6h0M2695.5 4546.3h0" stroke="#fee594"/><path d="M2672 4472.9h0M2703.2 4488.9h0M2688.8 4482.5h0M2686.2 4488.3h0M2709.5 4491.8h0M2710.6 4551.4h0M2569.4 4482.4h0M2680.9 4475.1h0M2703.7 4561.2h0M2669.4 4500.5h0M2730.9 4505.5h0M2677 4494.9h0M2704.1 4533.4h0M2701.5 4542.5h0M2636.7 4456.6h0M2710.6 4523h0M2661.9 4455.8h0M2628 4479.3h0M2685.1 4549.2h0M2697.2 4544h0M2651.6 4443.7h0M2695 4509.7h0M2721.8 4514.4h0M2697.2 4490.4h0M2714 4513.9h0M2618.9 4466.6h0M2698.9 4512.1h0M2605.5 4443.9h0M2706.4 4535.4h0M2702.4 4537.9h0M2714.9 4488.7h0M2736.8 4496.1h0M2706 4494.3h0M2713 4532.4h0M2731.5 4500.8h0M2703 4561.1h0M2718.8 4495.8h0M2709.1 4535.5h0M2715.7 4516.2h0M2688.2 4526.6h0M2706.5 4536.4h0M2714.9 4523.2h0M2710.7 4506.8h0M2724.8 4529h0M2663.5 4475.8h0M2685.2 4483.4h0M2685.9 4509h0M2612 4485.5h0M2681.9 4468.4h0M2693.5 4476.3h0M2655.4 4494.5h0M2661.9 4479.8h0M2694.3 4539.3h0M2706.6 4541.1h0M2694.4 4538.2h0M2669.3 4483.4h0M2659.2 4481.1h0M2688.3 4529.4h0M2725.3 4515.1h0M2719.8 4544.9h0M2723.5 4544.5h0M2711.3 4530.4h0M2690.9 4532.2h0M2723 4556.8h0M2723.6 4490.6h0M2711.7 4520.2h0M2684 4490.6h0M2716.3 4546.9h0M2693.3 4484.5h0M2719.7 4505.5h0M2697.2 4540.8h0M2703.5 4530.7h0M2734 4527.4h0M2707 4491.7h0M2675.3 4478.6h0M2710.4 4531.4h0M2711.4 4475.4h0M2648 4481.7h0M2705.7 4512.7h0M2607.2 4451.7h0M2685.3 4524.7h0M2691.2 4527.9h0M2639.1 4461h0M2673.4 4504h0M2683.8 4509.1h0M2705.6 4517.9h0M2724 4484.4h0M2703.7 4479.4h0" stroke="#fed480"/><path d="M2699.3 4505.3h0M2729.4 4513.2h0M2636.4 4458.2h0M2695.2 4515.8h0M2608.2 4485.3h0M2615.8 4497.4h0M2617.1 4487.5h0M2726.9 4536.5h0M2692.6 4544.3h0M2655.3 4450.2h0M2692.4 4502.1h0M2686.5 4487.2h0M2703 4537.3h0M2703.8 4503.2h0M2727.4 4521.4h0M2657.2 4464.8h0M2713.6 4526.1h0M2677.7 4461.8h0M2568.2 4511.4h0M2737.3 4534h0M2580.4 4482.3h0M2691.8 4489.4h0M2629.7 4488.1h0M2616.3 4477.2h0M2691.7 4518.7h0M2645 4486.3h0M2586.1 4486.6h0M2621.5 4479.7h0M2676.6 4490.6h0M2710.9 4500h0M2701.8 4512.6h0M2607.1 4483.1h0M2705.8 4547.6h0M2597.8 4450.6h0M2722.5 4506.2h0M2708.3 4502.7h0M2625.6 4483.4h0M2671.5 4476.8h0M2682.1 4504.6h0M2719.5 4543.9h0M2699.1 4516.2h0M2716.5 4539.4h0M2645.1 4490.3h0M2699 4531.8h0M2709.2 4472.2h0M2657.8 4497.6h0M2675.8 4479.2h0M2645.1 4502.1h0M2693.9 4488.9h0M2599.3 4494.3h0M2655.1 4459.5h0M2735.2 4545.4h0M2719.7 4525.1h0M2679.6 4552.4h0M2719.1 4509.7h0M2618.4 4469.4h0M2701 4548.1h0M2661.6 4453h0M2699 4514.3h0M2658.3 4489.1h0M2682.8 4520.8h0M2674.6 4498h0M2669.4 4518h0M2546.6 4430.7h0M2692.2 4505.6h0M2663.6 4511.4h0M2620.9 4469.9h0M2696.8 4490.9h0M2704.5 4554.3h0M2576.1 4489.9h0M2706.5 4490h0M2701 4517.6h0M2613.3 4359.7h0M2722.5 4498.8h0M2554.5 4467.3h0M2624.1 4476.9h0M2712.1 4545.8h0M2628.7 4480.9h0M2692.1 4539.1h0M2712.1 4538h0M2712 4511.3h0M2631.6 4500h0M2663.4 4467.4h0M2532.5 4482.9h0M2679.5 4500.7h0M2726.8 4504.5h0M2642.1 4474.4h0M2633.2 4495h0M2691.3 4518.8h0M2605.4 4451.2h0M2620.8 4477.4h0M2739.8 4487h0M2692.6 4535.3h0M2664.8 4472.6h0M2686.7 4515.5h0M2728.1 4493.9h0M2689.2 4511h0M2711.1 4495.7h0M2650.3 4501h0M2672.8 4472.5h0M2642.9 4487.1h0M2740.5 4492.6h0M2713.3 4544.6h0M2674.2 4504.4h0M2654.2 4454.7h0" stroke="#fdbf6f"/><path d="M2586.8 4505.1h0M2568.4 4512.9h0M2671.5 4485.3h0M2617.9 4464.5h0M2712.6 4515.4h0M2586.2 4487.7h0M2625.4 4453.5h0M2596.7 4445.6h0M2564.6 4476.9h0M2704.8 4558.2h0M2618.2 4491.4h0M2606.1 4473.9h0M2606.9 4448.1h0M2553.6 4423.3h0M2706.9 4472.9h0M2619 4461.5h0M2643.1 4427.9h0M2496.9 4442.3h0M2730.5 4484.8h0M2684.3 4495.1h0M2636.1 4485.5h0M2472.7 4482.5h0M2464 4477.2h0M2641.3 4451.5h0M2589 4476.5h0M2579.4 4452.1h0M2723.9 4518.5h0M2644 4466.3h0M2656.7 4506.1h0M2553.2 4451.9h0M2516.7 4511.8h0M2631.7 4444.9h0M2518.7 4482.7h0M2635.9 4504.8h0M2587.3 4506.7h0M2574.7 4520h0M2609.6 4469.6h0M2611 4482h0M2603.9 4496.7h0M2558.1 4484.5h0M2681.7 4338.1h0M2624.7 4477.7h0M2471.9 4474.2h0M2608.6 4444.2h0M2647.2 4461.9h0M2615.2 4360.3h0M2539.9 4501h0M2596.6 4455.9h0M2667.4 4493.6h0M2629.9 4441.7h0M2525.2 4471.7h0M2507.4 4503.7h0M2610.3 4445.4h0M2600.6 4468.6h0M2701.1 4502.3h0M2516.3 4475.6h0M2590.4 4455.9h0M2574.4 4475.5h0M2616.4 4460.9h0M2605.1 4515.2h0M2628.1 4466.4h0M2615.3 4445h0M2626.2 4476.5h0M2712.7 4510.8h0M2654.4 4480.9h0M2594.4 4452h0M2660.9 4462h0M2624.7 4478.8h0M2638.4 4468.4h0M2606.1 4471.4h0M2638.5 4434.1h0M2588.3 4370.7h0M2701.4 4534.6h0M2641.1 4498.7h0M2650.3 4507.2h0M2585.2 4451.6h0M2690.9 4564.1h0M2613 4472.1h0M2639.3 4466.9h0M2567.9 4505.3h0M2637.1 4466.3h0M2610.6 4488.4h0M2714.4 4542.6h0M2601.5 4473.1h0M2591.4 4462.7h0M2678.9 4488.3h0M2633 4500.9h0M2535.4 4479.8h0M2603.7 4502.5h0M2695.7 4512.8h0M2581.6 4484.1h0M2655.5 4495.2h0M2645.3 4469.1h0M2664.5 4470.1h0M2618.1 4465.4h0M2677.1 4476.5h0M2632.6 4486h0M2607.3 4470.3h0M2585.6 4471.7h0M2739.3 4483.6h0M2632.6 4466.3h0M2597 4484.1h0M2597.2 4505.6h0M2521.6 4457h0M2582.3 4515.8h0M2690.5 4510.8h0M2636.4 4468.7h0M2594.3 4483.6h0M2628.3 4462.3h0M2589.4 4452.6h0M2542.9 4447.9h0M2626.5 4499.5h0M2649.8 4460.4h0M2587.6 4439h0M2525.4 4473.6h0M2597 4479.2h0M2690 4496.1h0M2684.5 4474.9h0M2564.1 4439.3h0M2716.6 4537.9h0M2608.7 4472.7h0" stroke="#fca95e"/><path d="M2597.2 4352.1h0M2696.8 4532.2h0M2517.2 4447.2h0M2534.8 4448.9h0M2703.1 4552.7h0M2579.4 4489.9h0M2652.8 4470.9h0M2531.6 4486.5h0M2632.1 4491.7h0M2567.6 4471.2h0M2575.2 4497.5h0M2577.5 4462.4h0M2586.3 4493.5h0M2489.2 4532.6h0M2642.4 4487.4h0M2522.5 4453.5h0M2664.4 4483.6h0M2560.2 4501h0M2653.6 4461.2h0M2618.8 4497h0M2547.2 4504.3h0M2582.3 4418.9h0M2621.2 4470.3h0M2587 4472.3h0M2528.3 4501.6h0M2644.3 4509.5h0M2655.5 4488.9h0M2493.6 4517.7h0M2648.7 4470h0M2722.8 4531.6h0M2524.1 4450.1h0M2588.6 4456.9h0M2630.7 4469.2h0M2650.7 4472.6h0M2510.8 4526.1h0M2638.3 4456.9h0M2507.3 4500.1h0M2504.6 4505.5h0M2538.8 4479.8h0M2630.9 4493h0M2639.7 4478.8h0M2603.1 4457h0M2587 4457h0M2629.7 4468.8h0M2558.3 4496.2h0M2608.9 4445h0M2634 4492.2h0M2657.4 4467.2h0M2576.8 4448.3h0M2474.6 4475.1h0M2523.1 4490h0M2636.7 4455.5h0M2711.2 4269.9h0M2530.4 4463.1h0M2685.2 4535.8h0M2606.7 4471.9h0M2651.3 4469.6h0M2517.6 4533.3h0M2646.4 4456.9h0M2531.5 4465.3h0M2617.7 4349.8h0M2615 4491.6h0M2636.2 4471.2h0M2519.7 4437.8h0M2567.4 4465.6h0M2644.8 4451.7h0M2647.8 4439.7h0M2648.2 4481.4h0M2611.6 4490.9h0M2700.9 4301.3h0M2648.8 4474.7h0M2495.4 4509.6h0M2515.6 4468.2h0M2514.6 4467.8h0M2495.4 4512.2h0M2705 4495.6h0M2663 4430.5h0M2519 4477.2h0M2627.7 4423.1h0M2617.6 4466.5h0M2734.2 4516h0M2624.7 4498.9h0M2542.3 4447.5h0M2647.8 4474.6h0M2557 4503.1h0M2540 4459.9h0M2644.2 4505.2h0M2639.8 4483.2h0M2571.5 4491.7h0M2535.5 4468.4h0M2592.6 4489.9h0M2522.5 4482.1h0M2666.9 4468.4h0M2528.8 4446.3h0M2630 4446.7h0M2624.3 4453.2h0M2614.5 4468.2h0M2662.8 4397.8h0M2569.9 4442.9h0M2648.7 4358.3h0M2548.8 4489h0M2502.5 4470.3h0M2570.7 4481.2h0M2515.8 4456.8h0M2540.8 4469.4h0M2656.2 4514.2h0M2634.6 4456.9h0M2532.5 4488.5h0M2648 4397h0M2628.8 4477.1h0M2635.1 4472.2h0M2488.2 4472.4h0M2524.4 4514.3h0M2696.4 4278.5h0M2523.1 4464.4h0M2548.7 4496.3h0M2531.6 4456.2h0M2539.4 4428h0M2588.3 4478.7h0M2527.7 4477.3h0M2518.6 4454.3h0M2570.1 4462.1h0M2607.1 4493.2h0M2674.8 4332.7h0M2499.1 4510.7h0M2607.2 4459.8h0M2538.3 4454.7h0M2526.6 4472.6h0M2632.1 4504.3h0M2672 4475.8h0M2527.9 4412.7h0M2581.5 4462.9h0M2714.2 4516.2h0M2555.2 4465.6h0M2628.1 4340.7h0M2500.6 4459.7h0M2500.9 4473.8h0M2588 4496.5h0M2569.1 4462.4h0M2604.8 4356.2h0M2624.2 4473.7h0M2493.2 4461.3h0M2521 4468.4h0M2564.7 4418.9h0M2639.6 4450.4h0M2606 4487.5h0M2544 4513.8h0M2519.1 4469h0M2514 4524.1h0M2672.2 4468.3h0M2636.8 4443.8h0M2684.9 4281h0M2587 4369.6h0M2578.4 4443.5h0" stroke="#f88e52"/><path d="M2607.4 4436.8h0M2505.5 4523.4h0M2552.9 4477.2h0M2510.1 4483.4h0M2500 4458.6h0M2549.9 4449.7h0M2555.3 4458h0M2665.1 4382.7h0M2573.7 4512h0M2643.8 4423.2h0M2530.3 4493.4h0M2613.5 4486.5h0M2619.1 4446.6h0M2699.2 4354.2h0M2614.3 4476.2h0M2538.9 4429.5h0M2547.2 4457.2h0M2541.4 4477.2h0M2550.6 4496.8h0M2503.7 4534.7h0M2592.2 4464.7h0M2599.9 4363h0M2572 4462.3h0M2546.4 4487.7h0M2478.4 4495.3h0M2523.4 4474.4h0M2478.1 4486.8h0M2572.2 4465.2h0M2662.7 4471.4h0M2576.8 4492.8h0M2657.1 4404.1h0M2507.9 4511.2h0M2691.5 4293.1h0M2557.6 4466.1h0M2558.5 4486.3h0M2545.9 4477.3h0M2489.4 4510.9h0M2533.9 4480.9h0M2620.4 4463.9h0M2637 4351.3h0M2577.9 4435.3h0M2521.1 4453.5h0M2601.4 4416h0M2547.9 4466.1h0M2514.1 4511.4h0M2670.6 4493.1h0M2639.4 4457.8h0M2537.1 4487h0M2635.2 4414h0M2604.3 4487.8h0M2478.4 4480.8h0M2507.9 4489.2h0M2593.1 4401h0M2534.2 4482.8h0M2581 4432.3h0M2505.7 4470.2h0M2668.1 4488.9h0M2516.1 4497.6h0M2570.4 4497.7h0M2565 4502.2h0M2560.6 4466.9h0M2589.3 4470.1h0M2504.3 4494.3h0M2520.2 4472.5h0M2515.8 4453.7h0M2532.5 4450.9h0M2537.9 4485.6h0M2668.8 4468.1h0M2555.3 4457.2h0M2651 4382.9h0M2723.5 4312.8h0M2509.5 4495.5h0M2627.6 4370.8h0M2691.2 4405.6h0M2520.4 4484h0M2681.6 4287.8h0M2528.1 4447.6h0M2570.1 4493.6h0M2676.5 4350.1h0M2664.7 4283.4h0M2538.5 4427.4h0M2677.2 4255.5h0M2527.1 4489.5h0M2627.5 4453.5h0M2698.4 4254.6h0M2543.5 4419.8h0M2719.3 4275.3h0M2593.4 4493.1h0M2508 4448.2h0M2511.8 4516.9h0M2511.1 4451.7h0M2551.2 4381.6h0M2530.3 4489.9h0M2541.7 4460.8h0M2690.9 4375.7h0M2548.9 4477.7h0M2685.3 4371.2h0M2520.6 4507.7h0M2536.9 4472.8h0M2547.6 4454h0M2549.9 4516.4h0M2507.4 4504.8h0M2544.3 4484.7h0M2628.1 4374h0M2577.3 4460.8h0M2552.8 4484.8h0M2510.7 4518.4h0M2549.3 4402.3h0M2527.6 4470.2h0M2523.4 4450.8h0M2518.3 4458.8h0M2489.9 4459.4h0M2507.5 4514.8h0M2527 4467.2h0M2661.4 4398.8h0M2668.5 4408.6h0M2706.8 4278.8h0M2529.1 4484.1h0M2545.7 4510.7h0M2653.9 4395.6h0M2544.8 4447.1h0M2626.1 4489.7h0M2657.6 4513h0M2513.2 4460.6h0M2558.9 4487.2h0M2554.3 4527.8h0M2657 4439.8h0M2525.2 4447.9h0M2658.2 4437.5h0M2580.7 4496.5h0M2642.3 4458.6h0M2505.7 4481.3h0M2504.5 4505.4h0M2484.1 4513.2h0M2598 4448.4h0M2512.2 4436.5h0M2597.6 4472.3h0M2554.4 4446.3h0M2539.4 4468.5h0M2548.9 4504.6h0M2564 4480.1h0M2525 4500.6h0M2602.9 4455.8h0M2698.3 4355.9h0M2545.4 4444.4h0M2541 4467.6h0M2668.3 4346.6h0M2566.6 4478.2h0M2523.2 4490.1h0M2533.4 4481.2h0M2530.2 4444.2h0M2686.1 4370.6h0M2578.6 4476.6h0M2519.7 4499.8h0M2582.5 4467.1h0M2561.9 4506.9h0M2542.8 4455h0M2616.2 4471h0M2526.3 4428.4h0M2519.4 4487.9h0M2648.5 4382.9h0M2664.8 4467.4h0M2596.4 4454.4h0M2594.1 4485.2h0M2532.8 4451.9h0M2620.7 4453.7h0M2631.7 4499.1h0M2682.4 4310.4h0M2527 4498h0M2575.5 4485h0M2699.8 4252.8h0M2652.1 4468.7h0M2622.7 4427.1h0M2531.2 4502h0M2543.3 4486.5h0M2636.3 4410.3h0M2520.2 4452.4h0M2542.9 4419.7h0M2636.5 4359.6h0M2680.6 4312.3h0M2588.6 4446.1h0M2523.1 4497h0M2539.6 4475.9h0M2561.8 4514.3h0M2543.4 4463.2h0M2566.6 4471.5h0M2637.6 4317.6h0M2547 4454.7h0M2659.6 4504.4h0M2616.8 4424.3h0M2513.4 4532.2h0M2665.4 4406h0M2505.2 4441.9h0M2622.8 4476.1h0M2631.6 4451.1h0M2640.5 4469.5h0M2574.5 4471.5h0M2613.4 4368.5h0M2505 4505.8h0M2660.8 4335.2h0M2537.8 4419.5h0M2541.7 4484.3h0M2550.8 4451.2h0M2553.8 4465.4h0M2584.7 4381.3h0M2558.9 4462h0M2541.7 4457.8h0M2548.7 4515.4h0M2626.4 4486h0M2562.8 4519.4h0M2508.7 4507.6h0M2510.3 4471.8h0M2681.2 4352h0M2528.8 4460.7h0M2487.1 4490.6h0M2631.2 4471.2h0M2604.4 4435.1h0M2596.6 4493.3h0M2545.1 4479.9h0M2597 4474.2h0M2518.8 4449.9h0M2482.6 4499.8h0M2526.9 4481.9h0M2714.4 4303.9h0M2535.9 4467.1h0M2592.1 4469.4h0M2673.2 4346.2h0M2523.3 4460.2h0M2588.1 4465.1h0M2628.6 4486.4h0M2524.9 4483.1h0M2533.8 4460.1h0M2654 4411.7h0M2524.8 4485.5h0M2577.8 4511.7h0M2580.3 4474.3h0M2564.9 4433.4h0M2595 4439.5h0" stroke="#f57246"/><path d="M2668.2 4297.9h0M2489 4508h0M2545.4 4444.5h0M2489.9 4529.2h0M2507.9 4409.4h0M2549.4 4434.9h0M2680.4 4287.4h0M2483.9 4472.9h0M2542.3 4341.8h0M2552.1 4477.1h0M2694.9 4280.2h0M2685.4 4256.8h0M2553.8 4331.6h0M2691.8 4363.3h0M2511.5 4444.1h0M2508.3 4434.7h0M2535.1 4480.8h0M2513 4459.9h0M2561.8 4451h0M2529.6 4486.5h0M2512 4479h0M2713.9 4359.3h0M2587.9 4466.3h0M2551.3 4504.9h0M2545.5 4450.6h0M2505.1 4464.5h0M2527.6 4455.5h0M2664.5 4414h0M2484 4514.4h0M2558.3 4428.2h0M2676.7 4303.2h0M2512.5 4458.2h0M2678.8 4289.4h0M2572 4428.1h0M2693.1 4379.3h0M2649 4456.1h0M2707.7 4251.5h0M2553.9 4483.9h0M2560.6 4339.5h0M2528.2 4466.4h0M2705.1 4270.9h0M2650.6 4444.2h0M2633.9 4459.9h0M2670.8 4267.3h0M2490.3 4478.4h0M2558.3 4392.5h0M2549.7 4492.2h0M2653.6 4401.4h0M2670.5 4413.3h0M2511.9 4514.7h0M2596.8 4478.3h0M2624.3 4372.8h0M2485.2 4517.5h0M2661.4 4454.8h0M2543.1 4440.5h0M2540.4 4496.5h0M2632.3 4385.3h0M2484.2 4521h0M2534.5 4506h0M2715.3 4239.6h0M2555.3 4365.3h0M2690 4284.2h0M2660.7 4347.1h0M2545.4 4508h0M2506.5 4454.2h0M2687.4 4240.7h0M2492.8 4522.1h0M2632 4442h0M2699.2 4269.7h0M2684.5 4405.2h0M2576.2 4409.4h0M2571.5 4491.5h0M2548.5 4464.7h0M2710.6 4240.8h0M2649.7 4458.3h0M2573.7 4490.4h0M2539.3 4523.1h0M2675.9 4253.8h0M2537.2 4457.9h0M2679.2 4435.1h0M2519.3 4480.7h0M2618.8 4475.1h0M2541.4 4459.6h0M2541.6 4480.7h0M2673.6 4409.9h0M2710.9 4248.7h0M2660.3 4317.6h0M2681.9 4371.2h0M2523.9 4405.3h0M2680.3 4355.2h0M2643.8 4457.3h0M2527.5 4461.4h0M2553.6 4445.6h0M2534.8 4407.4h0M2658.6 4467.7h0M2534.3 4469h0M2676.8 4353.6h0M2571.7 4471.3h0M2489.8 4477.6h0M2674.4 4422.3h0M2520.9 4502.4h0M2681.2 4479h0M2668.3 4363.4h0M2672.3 4374.5h0M2556.5 4356.7h0M2647.2 4422.5h0M2518 4486.7h0M2499.2 4522.2h0M2524.9 4457.3h0M2577.6 4464.4h0M2535.7 4487.4h0M2680.2 4280.2h0M2556.3 4447.4h0M2723.4 4253.2h0M2675.4 4306.2h0M2487 4469h0M2632.1 4412.2h0M2547.4 4423.8h0M2643.5 4388.1h0M2624.1 4460h0M2663.8 4333.2h0M2536.9 4470.4h0M2626.7 4417.1h0M2510.3 4505.1h0M2703.3 4328h0M2699.3 4230h0M2534.7 4477.1h0M2643.5 4403.1h0M2686.2 4240.8h0M2530.3 4459.9h0M2554.7 4341.9h0M2547.9 4417.2h0M2650.9 4340.9h0M2682.4 4347.6h0M2601.5 4437.6h0M2545.8 4486.8h0M2494.5 4531.3h0M2533 4456.1h0M2511.1 4476.2h0M2638 4425.7h0M2528.1 4497.2h0M2546.1 4419.4h0M2521.9 4505.5h0M2695.8 4292.6h0M2558.3 4424.3h0M2670.1 4278.4h0M2544.9 4470h0M2707.7 4270.2h0M2528.8 4418.2h0M2682.2 4401.3h0M2585.6 4366.8h0M2538.7 4491.9h0M2692.2 4247.9h0M2652.7 4353.5h0M2679.8 4311.7h0M2640.5 4453.8h0M2513.3 4472.9h0M2504.4 4505.5h0M2537.9 4501.4h0M2516.7 4403h0M2675.2 4384.8h0M2530.2 4528.2h0M2536 4471.9h0M2555.5 4403.5h0M2509.3 4520.6h0M2649.4 4366.2h0M2525.9 4421.5h0M2573.5 4494h0M2538.8 4483.1h0M2516.4 4461.8h0M2477.9 4486.2h0M2546.8 4457.5h0M2531.2 4439.1h0M2511.8 4501.7h0M2532.3 4453.8h0M2571.8 4466.1h0M2516.9 4517.8h0M2620.1 4419.9h0M2669 4288.7h0M2685.7 4278.3h0M2634.8 4448.5h0M2503.2 4433.8h0M2641.1 4421.4h0M2499 4526.5h0M2509.6 4485.1h0M2513.3 4426h0M2515 4456.5h0M2555.1 4499.6h0M2703.5 4298.1h0M2700.3 4295h0M2549.1 4452.4h0M2519.9 4416.3h0M2508.7 4463.9h0M2476.7 4457.1h0M2709.7 4325.4h0" stroke="#ea5d47"/><path d="M2532.3 4456.6h0M2688.5 4321.7h0M2695.7 4253.5h0M2698.3 4302.2h0M2542.3 4419.8h0M2686.6 4401.7h0M2646.1 4390h0M2644.7 4422.1h0M2512.6 4444.3h0M2641.6 4378h0M2707.6 4262.1h0M2537.9 4489.9h0M2543.3 4449.9h0M2566.6 4435.5h0M2653.3 4384h0M2655.7 4372.8h0M2616.7 4420.9h0M2523.5 4412.1h0M2665.4 4344h0M2696.8 4316.4h0M2649.6 4334.9h0M2652.7 4410.2h0M2682.4 4295.8h0M2508.5 4449.7h0M2579.2 4434.6h0M2562.6 4376.2h0M2704.3 4328.5h0M2683.9 4311.2h0M2569.2 4453.6h0M2559.7 4500.7h0M2646.9 4327.6h0M2692.4 4278.3h0M2706.8 4290.8h0M2678.1 4300.4h0M2535.3 4395.9h0M2519.1 4446.1h0M2706.8 4258.7h0M2560 4360.2h0M2647 4405.5h0M2642 4373.1h0M2668.6 4407h0M2708.9 4249.8h0M2692.4 4304.4h0M2684.1 4377.5h0M2695.7 4310.6h0M2701.4 4272.1h0M2525.5 4419.5h0M2504.9 4462.7h0M2690.5 4310.3h0M2570.2 4349.1h0M2559 4337.3h0M2645.8 4321.4h0M2722.3 4244.8h0M2548.9 4437.6h0M2682.8 4347.1h0M2655 4425.4h0M2684 4337.9h0M2574 4374.3h0M2675.4 4330.2h0M2528.1 4400.3h0M2526.9 4449h0M2618.9 4388.7h0M2539.9 4468h0M2705.8 4308.3h0M2533.7 4460.7h0M2508.1 4501.2h0M2713 4283.8h0M2679.2 4324.1h0M2702.6 4269.1h0M2685.8 4303.8h0M2667.8 4377.1h0M2689.2 4336.5h0M2664.3 4378.8h0M2689.6 4279.1h0M2643.7 4379.2h0M2687.5 4312.2h0M2550.2 4431h0M2717.4 4244.4h0M2553.3 4411.6h0M2673.8 4263.8h0M2519.2 4491.2h0M2556.9 4365.5h0M2703.9 4286.5h0M2688 4297.7h0M2638.2 4452h0M2569.1 4351.4h0M2668.6 4346.7h0M2690.1 4318.1h0M2514.9 4474.9h0M2686.3 4282.3h0M2707.1 4263.5h0M2475.8 4480.5h0M2705.9 4264.6h0M2658.3 4439.2h0M2688.5 4283.9h0M2560.7 4375.3h0M2689.9 4396.2h0M2498.6 4445.1h0M2629.6 4455h0M2686 4345.6h0M2652.7 4356.9h0M2505.4 4490.1h0M2702 4329.1h0M2719.6 4277h0M2559.1 4356.8h0M2698.1 4298.7h0M2518.4 4423.9h0M2541 4365.4h0M2554.4 4385.6h0M2474.1 4462.8h0M2674.8 4335.2h0M2684.5 4389.4h0M2659.1 4380.6h0M2574.4 4383h0M2518.8 4480.6h0M2642.2 4427.9h0M2693.8 4274.8h0M2700.4 4317.7h0M2658.3 4429.3h0M2655.9 4432.7h0M2708.8 4274h0M2517.4 4485.9h0M2549.7 4398.1h0M2562.4 4363.8h0M2548.2 4481.5h0M2519.6 4462.4h0M2628 4399.8h0M2657.7 4337.6h0M2648.6 4327.7h0M2701.9 4259.8h0M2702.2 4250.9h0M2527.7 4412.3h0M2700.7 4305.1h0M2682.8 4291h0M2527 4410.2h0M2656 4413.5h0M2641.7 4456.2h0M2534.2 4406.2h0M2704.6 4348.5h0M2536 4392.5h0M2548.9 4479.6h0M2698.8 4241.4h0M2672.6 4267.3h0M2505.5 4512.5h0M2543.8 4364.4h0M2571.2 4364.4h0M2559.6 4465.5h0M2681.4 4290.4h0M2662.5 4399.4h0M2709.2 4252.1h0M2532.8 4412.3h0M2514.4 4500.5h0M2691.8 4304.6h0M2663.5 4449h0M2640.2 4374.1h0M2728.7 4236.1h0M2627.5 4375.4h0M2537 4436.7h0M2659.2 4452.6h0M2657.5 4349.2h0M2540.7 4342.3h0M2701.7 4307.2h0M2528.7 4430.7h0M2592.5 4450.3h0M2552 4392.4h0M2568.7 4334.3h0M2659.2 4326.8h0M2661.9 4416.6h0M2649.8 4402.6h0M2580.3 4363.3h0M2701.2 4315h0M2652.3 4415h0M2704.5 4270.3h0M2638.3 4335.8h0M2519.6 4406.2h0M2550.3 4390h0M2713.7 4351.5h0M2679.1 4399.5h0M2691.7 4370.1h0M2506.2 4411.5h0M2565.4 4343.3h0M2704.8 4294.7h0M2706.2 4266.2h0M2634.2 4431.9h0M2713.8 4245h0M2651.9 4459.7h0M2657.7 4353.3h0M2634.2 4389.2h0M2674.4 4297.7h0M2507.4 4458.6h0M2658.9 4379.9h0M2539.7 4490.3h0M2665 4378h0M2520.7 4461.8h0M2655.9 4390.7h0M2589.9 4381.9h0M2558.1 4371.3h0" stroke="#dd4a4c"/><path d="M2686.5 4342h0M2558.4 4357.7h0M2634.5 4383.3h0M2546.6 4337.3h0M2571.3 4349.9h0M2706.1 4284.8h0M2548 4498.3h0M2682.9 4344.1h0M2548.5 4374.3h0M2682.9 4238h0M2646.5 4448.5h0M2544.9 4399.2h0M2575.5 4343.1h0M2698.6 4242.5h0M2692.5 4304.4h0M2651.8 4380.6h0M2554.3 4377h0M2681.8 4232.1h0M2657.5 4344.7h0M2565.2 4418.2h0M2531.9 4337.9h0M2709.5 4263.9h0M2534.6 4411.7h0M2699.1 4244.2h0M2688.2 4283.4h0M2653.7 4449.6h0M2700.5 4256.2h0M2541.8 4428.8h0M2644.2 4414.5h0M2544.6 4403.5h0M2645.2 4350.1h0M2664.8 4353.9h0M2659.3 4315.3h0M2659.9 4342.8h0M2495.7 4461.6h0M2651.6 4322.4h0M2664.3 4375.1h0M2555.5 4412.9h0M2699.1 4290.6h0M2495 4418.1h0M2696.9 4294.9h0M2554.8 4381.8h0M2573.6 4376.9h0M2644.5 4422h0M2541.2 4431.9h0M2569.9 4344.6h0M2520.2 4429.2h0M2657.9 4433h0M2566.6 4359.3h0M2683.8 4347.6h0M2502.6 4518.8h0M2565.3 4373.2h0M2574.8 4349.3h0M2545.1 4334.2h0M2684.6 4435.2h0M2709.5 4273.6h0M2697.6 4309.4h0M2530.1 4417.3h0M2691.8 4279.8h0M2552.2 4341.3h0M2544.5 4407.8h0M2699.6 4272.4h0M2644.4 4441.1h0M2571.6 4369.8h0M2656.3 4386.3h0M2552.3 4363.2h0M2667.3 4394.1h0M2562.7 4373.7h0M2518.2 4411.9h0M2529.3 4391.4h0M2686.4 4306.9h0M2564.9 4388.7h0M2675.5 4302.4h0M2564.3 4372.5h0M2676.8 4317.8h0M2555 4470h0M2526.2 4404.6h0M2638.1 4444.3h0M2661.6 4409.2h0M2703.7 4236.9h0M2664.9 4351.9h0M2655.9 4310.2h0M2709.8 4282.7h0M2696.2 4286.4h0M2548.7 4371.9h0M2659.1 4380.8h0M2707.2 4263.8h0M2671.7 4422.9h0M2577.6 4395.6h0M2494.5 4424h0M2680.9 4292.6h0M2661.2 4351.8h0M2693.5 4269.4h0M2695.2 4285.3h0M2700.4 4295.4h0M2679 4344.2h0M2643.9 4351h0M2553.1 4383.6h0M2582.7 4360h0M2660.9 4327.3h0M2547.1 4364.5h0M2552.5 4346.8h0M2559.4 4364.8h0M2686.3 4322.9h0M2528.7 4428.4h0M2500.1 4473.9h0M2696.3 4275.3h0M2693.2 4306.7h0M2692 4358.6h0M2546.7 4367.7h0M2558 4410.4h0M2576.9 4362h0M2658.4 4381h0M2703.8 4327.7h0M2556.9 4340.8h0" stroke="#cc344d"/><path d="M2675.4 4358.7h0M2693.6 4248.2h0M2712.6 4312.4h0M2685.7 4347h0M2679.8 4318.1h0M2558.2 4374h0M2536.4 4476.6h0M2638.5 4430.7h0M2567.3 4393.7h0M2526.2 4372h0M2558.6 4399.7h0M2691.9 4295.9h0M2548.9 4344.6h0M2674.1 4418.7h0M2553.6 4341.1h0M2573.9 4381.6h0M2694.6 4256.8h0M2684.4 4260.5h0M2566.1 4395.2h0M2691.1 4280.5h0M2644 4413.2h0M2671.1 4340.3h0M2645.4 4435h0M2541 4394.6h0M2673.4 4336.5h0M2543.4 4347.7h0M2699 4255.4h0M2554.1 4367.5h0M2545.8 4354.1h0M2572.2 4391.2h0M2684.1 4323.4h0M2687.1 4294h0M2553.7 4395.7h0M2669.2 4343.3h0M2693.2 4278.1h0M2535.3 4381.4h0M2588.2 4422.6h0M2564.9 4416.4h0M2574.4 4356.8h0" stroke="#b51a47"/><path d="M2678.7 4336.4h0M2546.3 4378h0M2542.3 4383.9h0M2568.9 4369.3h0M2536.9 4400.9h0M2547.1 4351.8h0M2684.5 4274.8h0" stroke="#9e0142"/></g>
<defs><linearGradient id="g21" x1="0" y1="1" x2="0" y2="0"><stop offset="0%" stop-color="#5e4fa2"/><stop offset="10%" stop-color="#3288bd"/><stop offset="20%" stop-color="#66c2a5"/><stop offset="30%" stop-color="#abdda4"/><stop offset="40%" stop-color="#e6f598"/><stop offset="50%" stop-color="#ffffbf"/><stop offset="60%" stop-color="#fee08b"/><stop offset="70%" stop-color="#fdae61"/><stop offset="80%" stop-color="#f46d43"/><stop offset="90%" stop-color="#d53e4f"/><stop offset="100%" stop-color="#9e0142"/></linearGradient></defs>
<rect x="2831.2" y="4482.5" width="33.9" height="80.2" fill="url(#g21)"/>
<text x="2866.1" y="4489.7" font-size="30.5">35</text>
<text x="2866.4" y="4568.2" font-size="30.5">0</text>
<text x="3056" y="4212.6" font-size="43.3" font-style="italic" textLength="113.5" lengthAdjust="spacingAndGlyphs">ca2.S</text>
<g fill="none" stroke-width="6.1" stroke-linecap="round" stroke-opacity="0.85"><path d="M3138.2 4485.6h0M3020.5 4464.5h0M3000.7 4466.3h0M3137.4 4446.4h0" stroke="#3f96b7"/><path d="M2980.8 4487.9h0M3045.3 4431.3h0M2984.7 4507.8h0M3147.1 4308.4h0M3107.5 4468.6h0M3099.1 4457.5h0M2989.6 4483.9h0" stroke="#55afad"/><path d="M3053.8 4451.6h0M3000.8 4478h0M2952.8 4496.9h0M3049.2 4473h0M2998.4 4496.5h0" stroke="#6cc4a5"/><path d="M3102.1 4457.3h0M3146.6 4282.6h0M3097.8 4493h0M3041.5 4475.5h0M2997.5 4444.2h0M2992 4458.4h0M3010.6 4463.2h0M3098.3 4456.7h0M3185.2 4541.9h0" stroke="#88d0a4"/><path d="M2997 4486.5h0M3167.6 4526.9h0M3032.1 4502.2h0M3168.4 4512.6h0M3037.2 4493.6h0M3173.2 4541.1h0" stroke="#a5dba4"/><path d="M3061.4 4452h0M3186.1 4499h0" stroke="#bfe5a0"/><path d="M3151.9 4470.2h0M3156.6 4506.7h0M3178.9 4522.8h0M3164.5 4485.1h0M3205.1 4505.1h0M3152 4546.9h0M3158.9 4546.8h0M3189 4531.6h0M3149.4 4498.4h0" stroke="#d7ef9b"/><path d="M3159.3 4481.9h0M3129.6 4488.5h0M3165 4506.5h0M3146.6 4486.8h0M3198.4 4554.2h0M3180.8 4484h0M3191.6 4514.3h0M3165.1 4563.5h0M3176.9 4470.9h0M3168.4 4501h0M3208.2 4508.4h0M3170 4484.2h0M3199 4538.2h0M3161 4513.6h0M3182.5 4517.5h0M3182.6 4524h0M3159.3 4556.3h0M3168.2 4524.3h0" stroke="#eaf79e"/><path d="M3179.2 4501.7h0M3154.5 4492.3h0M3177.5 4516.3h0M3165 4546h0M3203.1 4481.4h0M3172.4 4533.3h0M3174.2 4527.5h0M3166.1 4552h0M3171.6 4550.2h0M3166.6 4498.6h0M3103.5 4456.6h0M3146.6 4480.4h0M3170 4511.4h0M3142.3 4506.1h0M3146.4 4517.6h0M3165.1 4547.2h0M3184.5 4502.8h0M3078.9 4485.5h0M3169.8 4531.5h0M3160 4509.2h0M3161.8 4524.7h0M3129.1 4458.4h0M3161.8 4520.9h0M3152.9 4505h0M3128.8 4484.1h0M3182.8 4520.6h0M3162.1 4546.3h0" stroke="#f5fbaf"/><path d="M3103.3 4458.2h0M3138.7 4472.9h0M3155.5 4482.5h0M3176.1 4491.8h0M3177.1 4551.4h0M3036.5 4482.4h0M3170.3 4561.2h0M3136.1 4500.5h0M3143.7 4494.9h0M3170.7 4533.4h0M3168 4542.5h0M3128.7 4455.8h0M3094.9 4479.3h0M3151.7 4549.2h0M3163.8 4544h0M3118.4 4443.7h0M3188.2 4514.4h0M3163.8 4490.4h0M3180.5 4513.9h0M3085.8 4466.6h0M3165.5 4512.1h0M3072.5 4443.9h0M3148.3 4338.1h0M3173 4535.4h0M3181.4 4488.7h0M3179.5 4532.4h0M3198 4500.8h0M3185.3 4495.8h0M3182.2 4516.2h0M3154.9 4526.6h0M3173 4536.4h0M3181.4 4523.2h0M3177.2 4506.8h0M3171.7 4495.2h0M3128.3 4453h0M3191.3 4529h0M3130.2 4475.8h0M3152.5 4509h0M3160.1 4476.3h0M3122.2 4494.5h0M3128.7 4479.8h0M3160.9 4539.3h0M3161 4538.2h0M3126 4481.1h0M3191.7 4515.1h0M3186.2 4544.9h0M3177.9 4530.4h0M3157.5 4532.2h0M3189.5 4556.8h0M3130.3 4479.7h0M3190.1 4490.6h0M3178.2 4520.2h0M3182.8 4546.9h0M3159.9 4484.5h0M3163.8 4540.8h0M3176.9 4531.4h0M3177.9 4475.4h0M3114.8 4481.7h0M3172.3 4512.7h0M3074.1 4451.7h0M3151.9 4524.7h0M3106 4461h0M3150.4 4509.1h0M3156.1 4492.5h0M3190.5 4484.4h0M3170.2 4479.4h0" stroke="#ffffbf"/><path d="M3161.8 4515.8h0M3075.2 4485.3h0M3082.8 4497.4h0M3084.1 4487.5h0M3169.8 4488.9h0M3159.2 4544.3h0M3169.6 4537.3h0M3152.8 4488.3h0M3193.9 4521.4h0M3124 4464.8h0M3144.3 4461.8h0M3035.3 4511.4h0M3147.5 4475.1h0M3047.5 4482.3h0M3158.4 4489.4h0M3096.6 4488.1h0M3197.4 4505.5h0M3111.8 4486.3h0M3177.1 4523h0M3053.2 4486.6h0M3088.4 4479.7h0M3143.3 4490.6h0M3161.6 4509.7h0M3074.1 4483.1h0M3177.7 4269.9h0M3188.9 4506.2h0M3168.9 4537.9h0M3174.8 4502.7h0M3092.5 4483.4h0M3148.7 4504.6h0M3203.2 4496.1h0M3186 4543.9h0M3172.5 4494.3h0M3167.5 4301.3h0M3111.9 4490.3h0M3175.8 4472.2h0M3124.6 4497.6h0M3142.4 4479.2h0M3169.6 4561.1h0M3175.7 4535.5h0M3111.9 4502.1h0M3066.3 4494.3h0M3121.9 4459.5h0M3201.6 4545.4h0M3186.1 4525.1h0M3185.6 4509.7h0M3085.4 4469.4h0M3165.5 4514.3h0M3125.1 4489.1h0M3149.5 4520.8h0M3136.1 4518h0M3158.8 4505.6h0M3130.3 4511.4h0M3087.9 4469.9h0M3151.8 4483.4h0M3163.3 4490.9h0M3171.1 4554.3h0M3148.6 4468.4h0M3136 4483.4h0M3154.9 4529.4h0M3178.6 4545.8h0M3158.7 4539.1h0M3163 4278.5h0M3190 4544.5h0M3178.5 4511.3h0M3098.4 4500h0M3193.2 4504.5h0M3108.9 4474.4h0M3150.6 4490.6h0M3072.4 4451.2h0M3186.1 4505.5h0M3087.7 4477.4h0M3170.1 4530.7h0M3200.4 4527.4h0M3173.6 4491.7h0M3142 4478.6h0M3206.2 4487h0M3131.5 4472.6h0M3157.8 4527.9h0M3140.1 4504h0M3151.5 4281h0M3117.1 4501h0M3172.2 4517.9h0M3139.5 4472.5h0M3109.7 4487.1h0M3140.9 4504.4h0" stroke="#fff2a9"/><path d="M3165.9 4505.3h0M3195.9 4513.2h0M3193.4 4536.5h0M3122 4450.2h0M3159 4502.1h0M3153.1 4487.2h0M3170.4 4503.2h0M3180.1 4526.1h0M3063.7 4445.6h0M3203.8 4534h0M3083.3 4477.2h0M3158.3 4518.7h0M3085.9 4461.5h0M3109.9 4427.9h0M3102.9 4485.5h0M3177.4 4500h0M3190 4312.8h0M3172.3 4547.6h0M3054.4 4506.7h0M3076.5 4469.6h0M3077.9 4482h0M3064.8 4450.6h0M3148.3 4287.8h0M3091.6 4477.7h0M3138.2 4476.8h0M3114 4461.9h0M3165.7 4516.2h0M3183 4539.4h0M3165.6 4531.8h0M3160.5 4488.9h0M3114.6 4474.6h0M3146.3 4552.4h0M3057.4 4455.9h0M3083.3 4460.9h0M3167.5 4548.1h0M3093.1 4476.5h0M3091.6 4478.8h0M3141.3 4498h0M3105.3 4434.1h0M3043.2 4489.9h0M3173.1 4490h0M3167.6 4517.6h0M3080.2 4359.7h0M3117.1 4507.2h0M3079.9 4472.1h0M3189 4498.8h0M3106.1 4466.9h0M3091 4476.9h0M3104 4466.3h0M3077.5 4488.4h0M3068.5 4473.1h0M3095.6 4480.9h0M3178.6 4538h0M3145.6 4488.3h0M3130.1 4467.4h0M3146.1 4500.7h0M3099.9 4500.9h0M3100 4495h0M3157.9 4518.8h0M3147.3 4312.3h0M3122.2 4495.2h0M3112.1 4469.1h0M3143.7 4476.5h0M3205.7 4483.6h0M3099.5 4466.3h0M3064 4484.1h0M3064.2 4505.6h0M3159.2 4535.3h0M3103.2 4468.7h0M3093.4 4499.5h0M3153.3 4515.5h0M3194.6 4493.9h0M3155.9 4511h0M3180.9 4303.9h0M3177.6 4495.7h0M3064.1 4479.2h0M3206.9 4492.6h0M3179.8 4544.6h0M3121 4454.7h0M3075.7 4472.7h0" stroke="#fee594"/><path d="M3053.9 4505.1h0M3147 4287.4h0M3138.2 4485.3h0M3084.9 4464.5h0M3179.1 4515.4h0M3053.3 4487.7h0M3120.4 4461.2h0M3088.1 4470.3h0M3092.3 4453.5h0M3122.3 4488.9h0M3171.3 4558.2h0M3085.2 4491.4h0M3158.1 4293.1h0M3073.1 4473.9h0M3173.5 4472.9h0M3196.9 4484.8h0M3150.9 4495.1h0M3108.1 4451.5h0M3106.6 4478.8h0M3190.4 4518.5h0M3110.8 4466.3h0M3123.4 4506.1h0M3137.5 4267.3h0M3098.6 4444.9h0M3102.8 4504.8h0M3041.8 4520h0M3181.8 4239.6h0M3156.6 4284.2h0M3131.4 4283.4h0M3154.1 4240.7h0M3113.2 4456.9h0M3143.9 4255.5h0M3081.9 4491.6h0M3075.5 4444.2h0M3165.8 4269.7h0M3164.9 4254.6h0M3185.7 4275.3h0M3134.1 4493.6h0M3096.8 4441.7h0M3129.7 4430.5h0M3094.6 4423.1h0M3077.2 4445.4h0M3127.1 4317.6h0M3067.6 4468.6h0M3167.7 4502.3h0M3111.1 4505.2h0M3173.3 4278.8h0M3059.6 4489.9h0M3133.6 4468.4h0M3072.1 4515.2h0M3095 4466.4h0M3082.2 4445h0M3179.2 4510.8h0M3121.2 4480.9h0M3129.6 4397.8h0M3115.5 4358.3h0M3127.6 4462h0M3013.8 4430.7h0M3105.3 4468.4h0M3073.1 4471.4h0M3167.9 4534.6h0M3108 4498.7h0M3122.9 4514.2h0M3052.3 4451.6h0M3157.5 4564.1h0M3021.8 4467.3h0M3114.8 4397h0M3165.9 4230h0M3180.9 4542.6h0M3149 4310.4h0M3058.5 4462.7h0M3166.3 4252.8h0M2999.8 4482.9h0M3141.5 4332.7h0M3070.7 4502.5h0M3162.3 4512.8h0M3158.8 4247.9h0M3131.2 4470.1h0M3085.1 4465.4h0M3099.5 4486h0M3052.7 4471.7h0M3157.1 4510.8h0M3061.3 4483.6h0M3095.2 4462.3h0M3056.5 4452.6h0M3116.6 4460.4h0M3135.8 4288.7h0M3152.3 4278.3h0M3103.6 4443.8h0M3156.6 4496.1h0M3170 4298.1h0M3183.1 4537.9h0" stroke="#fed480"/><path d="M3134.9 4297.9h0M3163.4 4532.2h0M3169.6 4552.7h0M3046.5 4489.9h0M3119.6 4470.9h0M3098.9 4491.7h0M3035.6 4512.9h0M3165.7 4354.2h0M3109.2 4487.4h0M3161.5 4280.2h0M3152.1 4256.8h0M3131.2 4483.6h0M3085.7 4497h0M3111.1 4509.5h0M3115.5 4470h0M3031.8 4476.9h0M3189.3 4531.6h0M3103.8 4351.3h0M3073.8 4448.1h0M3020.8 4423.3h0M3097.6 4469.2h0M3117.5 4472.6h0M3143.3 4303.2h0M3145.5 4289.4h0M3102 4414h0M2964.3 4442.3h0M3105.1 4456.9h0M2931.6 4477.2h0M3174.3 4251.5h0M3171.6 4270.9h0M3070.1 4457h0M3054 4457h0M3096.6 4468.8h0M3056.1 4476.5h0M3046.5 4452.1h0M3075.9 4445h0M3100.8 4492.2h0M3124.2 4467.2h0M3020.4 4451.9h0M3103.5 4455.5h0M3117.7 4382.9h0M3151.9 4535.8h0M3157.8 4405.6h0M3118.1 4469.6h0M3070.9 4496.7h0M3150.6 4337.9h0M3025.3 4484.5h0M3103 4471.2h0M3082.2 4360.3h0M3111.6 4451.7h0M3114.6 4439.7h0M3115 4481.4h0M3078.5 4490.9h0M3063.7 4455.9h0M3157.5 4375.7h0M3115.6 4474.7h0M3177.1 4240.8h0M3142.6 4253.8h0M3171.5 4495.6h0M2992.6 4471.7h0M3084.6 4466.5h0M3177.4 4248.7h0M3200.6 4516h0M2974.8 4503.7h0M3091.6 4498.9h0M3135.2 4408.6h0M3106.6 4483.2h0M3120.7 4395.6h0M3125 4437.5h0M3109.2 4458.6h0M3096.8 4446.7h0M3091.2 4453.2h0M3081.4 4468.2h0M3155.1 4283.9h0M3164.7 4298.7h0M3164.9 4355.9h0M3055.3 4370.7h0M3135.1 4346.6h0M3146.9 4280.2h0M3037.9 4481.2h0M3189.8 4253.2h0M3142.1 4306.2h0M3101.5 4456.9h0M3035 4505.3h0M3095.7 4477.1h0M3169.9 4328h0M3152.9 4240.8h0M3037.3 4462.1h0M3089.6 4427.1h0M3002.7 4479.8h0M3103.1 4410.3h0M3074.2 4459.8h0M3162.4 4292.6h0M3104.4 4317.6h0M3136.8 4278.4h0M3048.7 4484.1h0M3174.2 4270.2h0M3146.5 4311.7h0M3099 4504.3h0M3138.7 4475.8h0M3158.4 4304.6h0M2995.2 4412.7h0M3095 4340.7h0M3074.3 4470.3h0M3127.5 4335.2h0M3055 4496.5h0M2988.9 4457h0M3049.4 4515.8h0M3091.1 4473.7h0M3106.4 4450.4h0M3010.1 4447.9h0M3138.9 4468.3h0M3054.6 4439h0M2992.7 4473.6h0M3139.9 4346.2h0M3166.9 4295h0M3151.1 4474.9h0M3031.3 4439.3h0M3176.3 4325.4h0" stroke="#fdbf6f"/><path d="M3064.2 4352.1h0M3162.3 4253.5h0M3164.9 4302.2h0M2998.9 4486.5h0M3131.8 4382.7h0M3034.7 4471.2h0M3110.6 4423.2h0M3042.3 4497.5h0M3044.6 4462.4h0M3053.4 4493.5h0M3080.4 4486.5h0M2956.7 4532.6h0M3081.3 4476.2h0M3059.2 4464.7h0M3014.5 4504.3h0M3049.4 4418.9h0M3054 4472.3h0M3180.4 4359.3h0M3163.4 4316.4h0M2991.4 4450.1h0M3123.8 4404.1h0M3055.6 4456.9h0M3149.1 4295.8h0M3131.2 4414h0M3170.9 4328.5h0M3087.3 4463.9h0M3150.5 4311.2h0M3137.3 4493.1h0M3106.2 4457.8h0M3071.2 4487.8h0M2940.3 4482.5h0M3173.3 4290.8h0M3134.8 4488.9h0M3144.8 4300.4h0M2972 4505.5h0M3175.4 4249.8h0M3025.5 4496.2h0M3157.1 4310.3h0M3135.6 4468.1h0M3043.9 4448.3h0M2942.2 4475.1h0M2984.1 4511.8h0M3120.3 4401.4h0M3188.8 4244.8h0M2997.7 4463.1h0M2986 4482.7h0M3073.7 4471.9h0M3099.1 4385.3h0M2985 4533.3h0M3143.2 4350.1h0M3005.8 4427.4h0M3084.7 4349.8h0M3172.3 4308.3h0M2939.5 4474.2h0M3098.9 4442h0M3094.4 4453.5h0M3034.5 4465.6h0M3179.5 4283.8h0M3145.8 4324.1h0M3169.2 4269.1h0M3007.1 4501h0M3156.2 4279.1h0M3151.9 4371.2h0M2983 4468.2h0M2962.9 4512.2h0M3154.1 4312.2h0M3183.9 4244.4h0M3094.9 4374h0M3016.6 4402.3h0M2983.7 4475.6h0M3128.2 4398.8h0M3170.5 4286.5h0M3038.6 4491.7h0M3154.6 4297.7h0M3093 4489.7h0M3124.4 4513h0M2996.1 4446.3h0M3123.7 4439.8h0M3156.7 4318.1h0M3152.9 4282.3h0M3173.6 4263.5h0M3172.4 4264.6h0M3139 4374.5h0M3114 4422.5h0M3152.7 4370.6h0M3099 4412.2h0M3160.4 4274.8h0M3167 4317.7h0M2999.8 4488.5h0M3083.1 4471h0M3175.4 4274h0M3130.6 4333.2h0M3093.6 4417.1h0M3102 4472.2h0M3115.3 4382.9h0M3131.5 4467.4h0M3063.4 4454.4h0M3087.6 4453.7h0M3168.5 4259.8h0M3098.6 4499.1h0M2998.9 4456.2h0M3167.3 4305.1h0M3055.3 4478.7h0M2995 4477.3h0M3149.4 4291h0M3118.9 4468.7h0M3074.1 4493.2h0M3149 4347.6h0M3165.4 4241.4h0M3139.3 4267.3h0M2966.5 4510.7h0M3148.9 4401.3h0M3175.7 4252.1h0M3119.5 4353.5h0M3132.2 4406h0M3089.7 4476.1h0M3098.5 4451.1h0M3107.3 4469.5h0M3048.6 4462.9h0M3195.1 4236.1h0M3180.8 4516.2h0M3022.4 4465.6h0M3036.2 4462.4h0M3168.3 4307.2h0M3071.8 4356.2h0M3093.3 4486h0M3171 4270.3h0M3147.9 4352h0M3098.1 4471.2h0M3031.8 4418.9h0M3073 4487.5h0M3011.3 4513.8h0M3171.4 4294.7h0M3108 4421.4h0M3172.8 4266.2h0M3054.1 4369.6h0M3180.3 4245h0M3095.5 4486.4h0M3120.8 4411.7h0M3045.5 4443.5h0" stroke="#fca95e"/><path d="M2984.5 4447.2h0M2977.5 4483.4h0M3002.1 4448.9h0M3172.7 4284.8h0M3040.9 4512h0M3086.1 4446.6h0M3006.2 4429.5h0M2989.9 4453.5h0M3174.1 4262.1h0M2971.2 4534.7h0M3158.4 4363.3h0M3027.4 4501h0M3149.6 4238h0M2995.6 4501.6h0M3132.1 4344h0M2961.1 4517.7h0M3039.4 4465.2h0M3129.4 4471.4h0M3148.5 4232.1h0M3025.7 4486.3h0M3013.1 4477.3h0M3045 4435.3h0M3176 4263.9h0M3068.4 4416h0M3165.7 4244.2h0M3113.7 4327.6h0M3154.8 4283.4h0M2978.2 4526.1h0M3159 4278.3h0M2946 4480.8h0M3167 4256.2h0M3159.7 4379.3h0M3060.1 4401h0M3048.1 4432.3h0M3115.8 4456.1h0M2974.7 4500.1h0M3037.6 4497.7h0M3006.1 4479.8h0M3173.3 4258.7h0M3056.4 4470.1h0M3117.4 4444.2h0M3100.7 4459.9h0M3159 4304.4h0M3162.3 4310.6h0M3168 4272.1h0M3005.2 4485.6h0M2990.5 4490h0M3137.2 4413.3h0M3091.2 4372.8h0M3128.2 4454.8h0M3094.5 4370.8h0M3121.7 4425.4h0M3022.5 4365.3h0M3127.4 4347.1h0M2998.8 4465.3h0M2994.4 4489.5h0M2987 4437.8h0M3151.1 4405.2h0M3010.7 4419.8h0M3060.5 4493.1h0M2979.2 4516.9h0M2978.5 4451.7h0M3018.4 4381.6h0M2988 4507.7h0M3116.5 4458.3h0M2962.9 4509.6h0M2982 4467.8h0M3145.8 4435.1h0M3164.2 4309.4h0M3044.5 4460.8h0M2986.3 4477.2h0M3140.5 4263.8h0M2978.1 4518.4h0M3140.3 4409.9h0M3009.5 4447.5h0M3148.6 4371.2h0M3146.9 4355.2h0M3024.2 4503.1h0M3110.6 4457.3h0M3007.3 4459.9h0M3002.8 4468.4h0M3125.4 4467.7h0M2989.9 4482.1h0M3143.5 4353.6h0M3047.8 4496.5h0M2972 4505.4h0M3141.1 4422.3h0M3135 4363.4h0M3064.7 4472.3h0M3021.6 4446.3h0M3037 4442.9h0M3156.5 4396.2h0M3016.1 4489h0M3031.2 4480.1h0M3168.6 4329.1h0M3186.1 4277h0M3069.9 4455.8h0M2969.9 4470.3h0M3012.7 4444.4h0M3000.7 4481.2h0M2983.2 4456.8h0M3008.1 4469.4h0M3029 4506.9h0M3010.1 4455h0M3110.3 4388.1h0M3109 4427.9h0M3143.5 4317.8h0M3170.2 4236.9h0M2955.7 4472.4h0M3094.8 4399.8h0M3122.7 4310.2h0M3176.3 4282.7h0M2991.8 4514.3h0M2990.5 4464.4h0M3015.9 4496.3h0M3162.8 4286.4h0M3000.1 4451.9h0M3168.7 4250.9h0M3006.7 4428h0M3110.3 4403.1h0M2985.9 4454.3h0M3117.7 4340.9h0M3055.6 4446.1h0M3104.8 4425.7h0M3005.6 4454.7h0M3033.7 4471.5h0M3148.1 4290.4h0M2993.9 4472.6h0M3173.7 4263.8h0M3126.3 4504.4h0M3041.6 4471.5h0M3080.4 4368.5h0M2968 4459.7h0M2968.4 4473.8h0M3161.8 4285.3h0M3051.8 4381.3h0M3167 4295.4h0M3141.9 4384.8h0M3009 4457.8h0M2960.7 4461.3h0M3116.2 4366.2h0M2988.3 4468.4h0M3063.6 4493.3h0M3180.2 4351.5h0M2986.5 4469h0M2981.4 4524.1h0M3087 4419.9h0M2986.1 4449.9h0M3101.7 4448.5h0M3162.9 4275.3h0M3159.8 4306.7h0M3059.2 4469.4h0M2990.6 4460.2h0M3141.1 4297.7h0M3055.1 4465.1h0M3125.6 4379.9h0M3131.8 4378h0M3122.7 4390.7h0M3044.9 4511.7h0M3047.4 4474.3h0M3170.3 4327.7h0M3032 4433.4h0M3062.1 4439.5h0" stroke="#f88e52"/><path d="M3074.4 4436.8h0M3155.1 4321.7h0M2972.9 4523.4h0M3020.2 4477.2h0M2967.4 4458.6h0M3016.7 4434.9h0M3017.1 4449.7h0M3022.5 4458h0M3153.3 4401.7h0M3112.9 4390h0M2997.6 4493.4h0M3111.5 4422.1h0M3108.4 4378h0M3014.4 4457.2h0M3008.7 4477.2h0M3017.8 4496.8h0M3021 4331.6h0M3066.9 4363h0M3039.1 4462.3h0M3120.1 4384h0M3013.6 4487.7h0M3122.5 4372.8h0M2945.9 4495.3h0M2990.8 4474.4h0M2945.6 4486.8h0M3054.9 4466.3h0M3165.2 4242.5h0M3159.1 4304.4h0M3116.4 4334.9h0M3043.9 4492.8h0M2975.3 4511.2h0M3119.4 4410.2h0M3024.8 4466.1h0M2956.9 4510.9h0M3001.2 4480.9h0M2988.5 4453.5h0M3015.2 4466.1h0M2981.5 4511.4h0M3004.4 4487h0M3039.1 4428.1h0M2975.3 4489.2h0M3001.5 4482.8h0M2973.1 4470.2h0M3027.7 4339.5h0M2983.5 4497.6h0M3113.8 4405.5h0M3027.8 4466.9h0M3108.8 4373.1h0M3150.7 4377.5h0M2971.7 4494.3h0M2983.2 4453.7h0M3112.6 4321.4h0M3025.5 4392.5h0M3022.5 4457.2h0M3010.4 4440.5h0M2976.9 4495.5h0M3165.7 4290.6h0M3149.5 4347.1h0M2987.7 4484h0M3163.5 4294.9h0M2995.5 4447.6h0M3142.1 4330.2h0M3085.8 4388.7h0M2975.5 4448.2h0M3134.5 4377.1h0M2997.7 4489.9h0M3009 4460.8h0M3155.8 4336.5h0M3016.1 4477.7h0M3131.1 4378.8h0M3004.2 4472.8h0M3110.5 4379.2h0M3014.8 4454h0M3017.2 4516.4h0M3176.1 4273.6h0M3085.7 4475.1h0M2974.8 4504.8h0M3020 4484.8h0M3161.2 4256.8h0M3158.4 4279.8h0M2994.9 4470.2h0M2991.3 4405.3h0M2990.7 4450.8h0M2985.6 4458.8h0M3166.2 4272.4h0M2957.4 4459.4h0M2974.9 4514.8h0M2994.4 4467.2h0M2996.4 4484.1h0M3012.9 4510.7h0M3105.1 4452h0M3012.1 4447.1h0M2980.6 4460.6h0M3038.9 4471.3h0M3135.3 4346.7h0M2992.5 4447.9h0M2973.1 4481.3h0M2951.6 4513.2h0M3065 4448.4h0M3147.9 4479h0M2979.6 4436.5h0M3157.7 4280.5h0M3023.7 4356.7h0M3125.1 4439.2h0M3006.7 4468.5h0M3096.5 4455h0M3152.6 4345.6h0M3119.5 4356.9h0M3016.1 4504.6h0M2992.4 4500.6h0M3008.3 4467.6h0M3033.8 4478.2h0M2990.5 4490.1h0M3153.1 4306.9h0M3141.5 4335.2h0M3151.2 4389.4h0M3045.7 4476.6h0M3142.2 4302.4h0M2987.1 4499.8h0M3049.6 4467.1h0M3125.9 4380.6h0M3014.7 4423.8h0M3091 4460h0M3125 4429.3h0M3122.6 4432.7h0M2993.7 4428.4h0M2986.7 4487.9h0M3124.5 4337.6h0M3061.2 4485.2h0M3115.4 4327.7h0M2994.3 4498h0M3021.9 4341.9h0M3042.6 4485h0M3122.8 4413.5h0M3108.5 4456.2h0M3171.1 4348.5h0M2998.6 4502h0M3010.5 4486.5h0M2987.5 4452.4h0M3010.2 4419.7h0M3103.3 4359.6h0M2990.5 4497h0M3006.8 4475.9h0M3013.4 4419.4h0M3029 4514.3h0M3129.2 4399.4h0M3153.8 4294h0M3014.3 4454.7h0M3052.7 4366.8h0M3083.7 4424.3h0M2980.8 4532.2h0M2972.6 4441.9h0M3107.3 4453.8h0M3147.6 4292.6h0M3107.1 4374.1h0M2972.4 4505.8h0M3160.1 4269.4h0M3126 4452.6h0M3005.1 4419.5h0M3124.2 4349.2h0M2984.1 4403h0M3009 4484.3h0M3018 4451.2h0M3021.1 4465.4h0M3026.1 4462h0M3022.7 4403.5h0M3125.9 4326.8h0M3128.7 4416.6h0M3015.9 4515.4h0M3116.6 4402.6h0M3167.8 4315h0M3119 4415h0M3029.9 4519.4h0M2993.2 4421.5h0M2977.7 4471.8h0M2996.1 4460.7h0M3105.2 4335.8h0M2954.6 4490.6h0M3071.4 4435.1h0M3012.3 4479.9h0M3064 4474.2h0M3153 4322.9h0M3145.8 4399.5h0M3158.3 4370.1h0M2950.2 4499.8h0M2994.3 4481.9h0M3003.2 4467.1h0M2980.7 4426h0M3101 4431.9h0M3118.7 4459.7h0M3124.4 4353.3h0M3101.1 4389.2h0M2992.2 4483.1h0M3001.1 4460.1h0M2992.2 4485.5h0" stroke="#f57246"/><path d="M3101.4 4383.3h0M3012.7 4444.5h0M2957.4 4529.2h0M2975.3 4409.4h0M3160.2 4248.2h0M3009.6 4419.8h0M3179.1 4312.4h0M2951.4 4472.9h0M3009.5 4341.8h0M3149.6 4344.1h0M2978.9 4444.1h0M2975.7 4434.7h0M3002.4 4480.8h0M3033.7 4435.5h0M3029 4451h0M2979.4 4479h0M3113.3 4448.5h0M3083.6 4420.9h0M3018.5 4504.9h0M3012.8 4450.6h0M3118.6 4380.6h0M3124.3 4344.7h0M2951.5 4514.4h0M3025.5 4428.2h0M3120.5 4449.6h0M3111 4414.5h0M3002.6 4395.9h0M3131.5 4353.9h0M3135.3 4407h0M2987.6 4472.5h0M3126.1 4315.3h0M2999.9 4450.9h0M3126.7 4342.8h0M3118.4 4322.4h0M3158.5 4295.9h0M2979.3 4514.7h0M3063.9 4478.3h0M3131 4375.1h0M3007.7 4496.5h0M2951.7 4521h0M3012.7 4508h0M2973.9 4454.2h0M3041.1 4374.3h0M2995.5 4400.3h0M3124.7 4433h0M3150.5 4347.6h0M3043.3 4409.4h0M3152.4 4303.8h0M3015.7 4464.7h0M3006.6 4523.1h0M3151.2 4435.2h0M3017.4 4431h0M2986.6 4480.7h0M3011.6 4484.7h0M3008.6 4459.6h0M3020.5 4411.6h0M3151.1 4260.5h0M3024.1 4365.5h0M2994.8 4461.4h0M3002.1 4407.4h0M3123.1 4386.3h0M3001.6 4469h0M3036.3 4351.4h0M3026.1 4487.2h0M3021.5 4527.8h0M2957.3 4477.6h0M2988.3 4502.4h0M2985.3 4486.7h0M3027.9 4375.3h0M3026.3 4356.8h0M2985.8 4423.9h0M2966.7 4522.2h0M2992.2 4457.3h0M3008.3 4365.4h0M3021.6 4385.6h0M3044.7 4464.4h0M3023.5 4447.4h0M2954.5 4469h0M3041.5 4383h0M3105 4444.3h0M3128.3 4409.2h0M3004.2 4470.4h0M3165.6 4255.4h0M3017 4398.1h0M3029.6 4363.8h0M3131.7 4351.9h0M3002 4477.1h0M2997.6 4459.9h0M3015.2 4417.2h0M2994.3 4410.2h0M3068.5 4437.6h0M2962 4531.3h0M2978.5 4476.2h0M2995.4 4497.2h0M3150.7 4323.4h0M3125.8 4380.8h0M3012.2 4470h0M3138.4 4422.9h0M2996.2 4418.2h0M3006 4491.9h0M3005.2 4501.4h0M3130.2 4449h0M3127.9 4351.8h0M3094.4 4375.4h0M2997.5 4528.2h0M3003.3 4471.9h0M3145.6 4344.2h0M3159.8 4278.1h0M3059.5 4450.3h0M2976.7 4520.6h0M3127.7 4327.3h0M2976.1 4507.6h0M3006.1 4483.1h0M2987 4406.2h0M3017.5 4390h0M3014 4457.5h0M2998.5 4439.1h0M2999.6 4453.8h0M3038.9 4466.1h0M2984.3 4517.8h0M2973.6 4411.5h0M2970.6 4433.8h0M2966.4 4526.5h0M3158.6 4358.6h0M2977 4485.1h0M3022.3 4499.6h0M2987.2 4416.3h0M3125.2 4381h0M3057 4381.9h0" stroke="#ea5d47"/><path d="M3153.2 4342h0M3142.1 4358.7h0M2956.5 4508h0M3038.5 4349.9h0M3019.3 4477.1h0M3152.3 4347h0M2980.4 4459.9h0M3005.2 4489.9h0M2972.5 4464.5h0M2994.9 4455.5h0M3046.3 4434.6h0M3029.7 4376.2h0M2979.9 4458.2h0M3021.1 4483.9h0M2995.5 4466.4h0M3112 4350.1h0M2986.5 4446.1h0M3027.2 4360.2h0M2972.3 4462.7h0M3037.3 4349.1h0M3026.2 4337.3h0M2957.8 4478.4h0M3016.9 4492.2h0M2952.7 4517.5h0M3022 4381.8h0M3001.8 4506h0M3111.3 4422h0M3037.1 4344.6h0M2960.3 4522.1h0M3001 4460.7h0M3140.8 4418.7h0M2975.5 4501.2h0M3038.6 4491.5h0M3032.5 4373.2h0M3040.8 4490.4h0M3012.4 4334.2h0M3004.5 4457.9h0M2997.4 4417.3h0M2986.6 4491.2h0M3008.9 4480.7h0M3019.4 4341.3h0M3111.2 4441.1h0M3020.8 4445.6h0M3019.6 4363.2h0M3134 4394.1h0M2982.2 4474.9h0M3110.9 4413.2h0M3137.8 4340.3h0M2985.6 4411.9h0M3003 4487.4h0M2941.6 4462.8h0M3032 4388.7h0M2986.2 4480.6h0M2977.7 4505.1h0M3015.4 4481.5h0M2995 4412.3h0M3001.5 4406.2h0M3013.1 4486.8h0M3003.3 4392.5h0M3016.1 4479.6h0M2972.9 4512.5h0M3000.3 4456.1h0M2989.3 4505.5h0M3011.1 4364.4h0M3038.4 4364.4h0M3025.5 4424.3h0M3000.1 4412.3h0M2980.7 4472.9h0M2981.8 4500.5h0M2971.9 4505.5h0M3007.9 4342.3h0M2996 4430.7h0M3110.8 4351h0M3019.3 4392.4h0M3035.8 4334.3h0M3020.3 4383.6h0M3047.4 4363.3h0M3040.6 4494h0M2983.8 4461.8h0M2945.4 4486.2h0M2979.2 4501.7h0M3032.5 4343.3h0M2982.4 4456.5h0M2974.8 4458.6h0M3016.3 4452.4h0M3007 4490.3h0M2976.1 4463.9h0M2944.3 4457.1h0M3025.3 4371.3h0" stroke="#dd4a4c"/><path d="M2999.7 4456.6h0M3025.6 4357.7h0M3013.8 4337.3h0M2980 4444.3h0M3015.7 4374.3h0M3010.5 4449.9h0M3012.2 4399.2h0M3042.7 4343.1h0M2990.9 4412.1h0M3021.5 4377h0M2975.9 4449.7h0M3032.4 4418.2h0M3146.4 4318.1h0M2999.2 4337.9h0M3036.4 4453.6h0M3026.9 4500.7h0M3001.9 4411.7h0M3105.3 4430.7h0M3009.1 4428.8h0M3011.9 4403.5h0M2992.8 4419.5h0M3022.7 4412.9h0M3016.1 4437.6h0M2962.5 4418.1h0M3040.7 4376.9h0M3008.5 4431.9h0M2994.2 4449h0M3007.1 4468h0M2987.6 4429.2h0M3033.7 4359.3h0M3042 4349.3h0M3011.8 4407.8h0M3038.7 4369.8h0M2943.3 4480.5h0M2966 4445.1h0M3029.8 4373.7h0M3112.2 4435h0M2972.8 4490.1h0M2996.6 4391.4h0M3140.1 4336.5h0M3031.4 4372.5h0M2993.6 4404.6h0M2984.8 4485.9h0M2986.9 4462.4h0M3015.9 4371.9h0M3026.8 4465.5h0M3044.7 4395.6h0M2962 4424h0M3004.3 4436.7h0M3135.9 4343.3h0M3049.7 4360h0M3014.4 4364.5h0M3019.7 4346.8h0M3026.6 4364.8h0M3151.1 4274.8h0M2967.6 4473.9h0M3013.9 4367.7h0M3025.2 4410.4h0M3044 4362h0M2988 4461.8h0M3024.1 4340.8h0" stroke="#cc344d"/><path d="M3145.4 4336.4h0M3015.3 4498.3h0M3025.4 4374h0M3034.4 4393.7h0M2993.5 4372h0M2963.1 4461.6h0M3025.8 4399.7h0M3020.8 4341.1h0M2970 4518.8h0M3041.1 4381.6h0M3033.2 4395.2h0M3022.2 4470h0M3010.6 4347.7h0M3021.3 4367.5h0M3021 4395.7h0M3002.6 4381.4h0M3055.2 4422.6h0M3032.1 4416.4h0M2996 4428.4h0M3041.5 4356.8h0" stroke="#b51a47"/><path d="M3013.5 4378h0M3003.7 4476.6h0M3009.5 4383.9h0M3036 4369.3h0M3016.1 4344.6h0M3004.2 4400.9h0M3008.3 4394.6h0M3013.1 4354.1h0M3014.4 4351.8h0M3039.3 4391.2h0" stroke="#9e0142"/></g>
<defs><linearGradient id="g22" x1="0" y1="1" x2="0" y2="0"><stop offset="0%" stop-color="#5e4fa2"/><stop offset="10%" stop-color="#3288bd"/><stop offset="20%" stop-color="#66c2a5"/><stop offset="30%" stop-color="#abdda4"/><stop offset="40%" stop-color="#e6f598"/><stop offset="50%" stop-color="#ffffbf"/><stop offset="60%" stop-color="#fee08b"/><stop offset="70%" stop-color="#fdae61"/><stop offset="80%" stop-color="#f46d43"/><stop offset="90%" stop-color="#d53e4f"/><stop offset="100%" stop-color="#9e0142"/></linearGradient></defs>
<rect x="3252.4" y="4482.5" width="33.9" height="80.2" fill="url(#g22)"/>
<text x="3287.3" y="4489.7" font-size="30.5">30</text>
<text x="3287.6" y="4568.2" font-size="30.5">0</text>
</svg></body></html>
